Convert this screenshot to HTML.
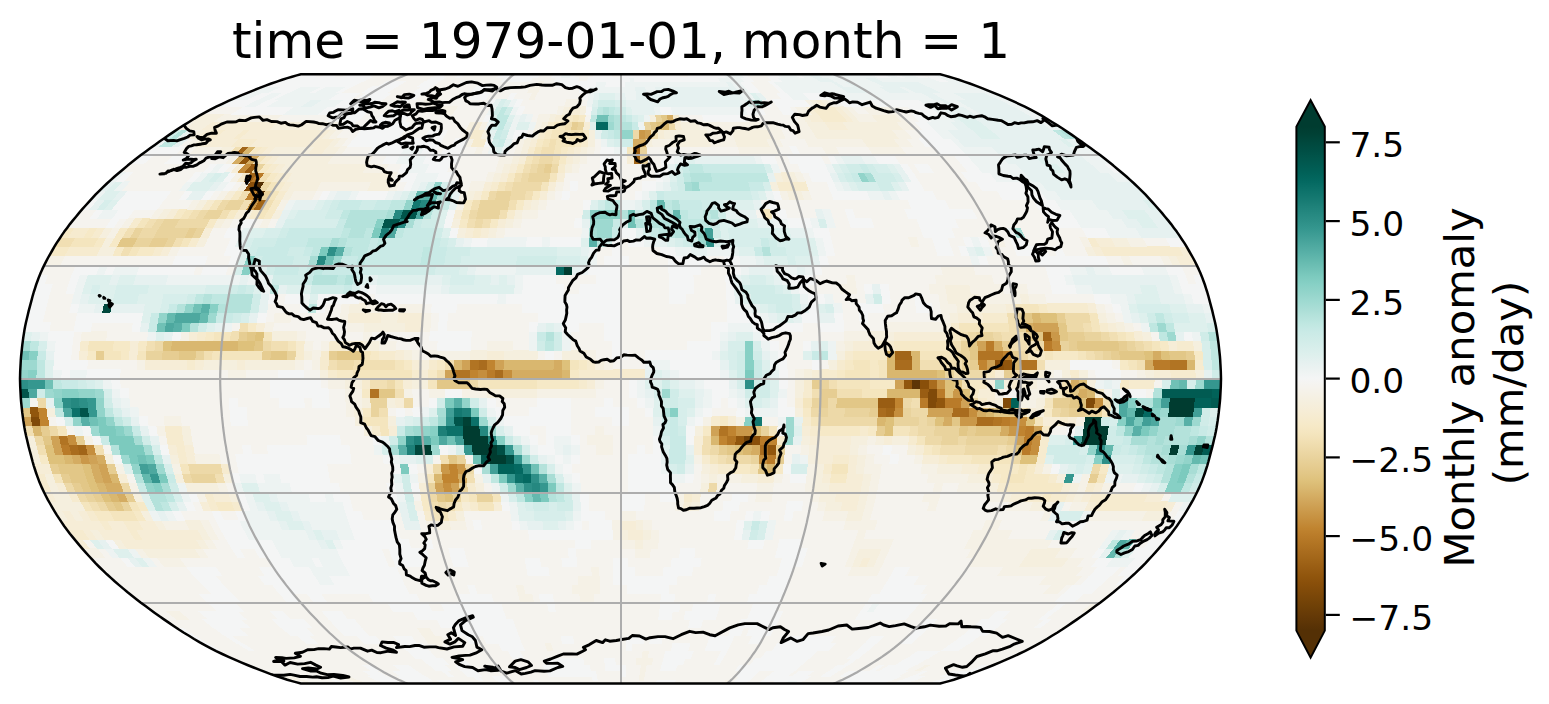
<!DOCTYPE html>
<html><head><meta charset="utf-8"><title>time = 1979-01-01, month = 1</title>
<style>
html,body{margin:0;padding:0;background:#fff;}
svg{display:block;font-family:"DejaVu Sans","Liberation Sans",sans-serif;}
</style></head><body>
<svg width="1549" height="704" viewBox="0 0 1549 704">
<rect width="1549" height="704" fill="#fff"/>
<defs>
<clipPath id="mapclip"><path d="M940.1 683.5 L944.3 682.4 L948.9 681.1 L953.7 679.7 L958.8 678.0 L964.1 676.2 L969.7 674.3 L975.4 672.2 L981.3 669.9 L987.4 667.5 L993.6 665.0 L999.9 662.4 L1006.2 659.7 L1012.5 656.9 L1018.7 654.0 L1024.8 651.1 L1030.6 648.1 L1036.2 645.1 L1041.6 642.1 L1046.9 639.0 L1052.0 635.8 L1057.1 632.7 L1062.1 629.5 L1067.0 626.2 L1071.9 622.9 L1076.7 619.6 L1081.5 616.3 L1086.2 612.9 L1090.9 609.5 L1095.5 606.1 L1100.1 602.7 L1104.6 599.2 L1109.0 595.7 L1113.4 592.2 L1117.7 588.6 L1121.9 585.1 L1126.1 581.5 L1130.1 577.9 L1134.1 574.3 L1137.9 570.7 L1141.7 567.0 L1145.3 563.4 L1148.7 559.7 L1152.1 556.0 L1155.4 552.3 L1158.7 548.6 L1161.9 544.9 L1165.0 541.1 L1168.1 537.4 L1171.1 533.7 L1173.9 529.9 L1176.7 526.2 L1179.3 522.4 L1181.8 518.6 L1184.3 514.9 L1186.6 511.1 L1188.8 507.3 L1191.0 503.5 L1193.1 499.8 L1195.1 496.0 L1197.0 492.2 L1198.8 488.4 L1200.4 484.7 L1202.0 480.9 L1203.4 477.1 L1204.8 473.3 L1206.0 469.5 L1207.2 465.8 L1208.3 462.0 L1209.3 458.2 L1210.3 454.4 L1211.3 450.7 L1212.3 446.9 L1213.2 443.1 L1214.1 439.3 L1215.0 435.6 L1215.8 431.8 L1216.5 428.0 L1217.1 424.2 L1217.7 420.4 L1218.2 416.7 L1218.7 412.9 L1219.1 409.1 L1219.5 405.3 L1219.9 401.6 L1220.2 397.8 L1220.4 394.0 L1220.6 390.2 L1220.8 386.5 L1220.9 382.7 L1221.0 378.9 L1220.9 375.1 L1220.8 371.3 L1220.6 367.6 L1220.4 363.8 L1220.2 360.0 L1219.9 356.2 L1219.5 352.5 L1219.1 348.7 L1218.7 344.9 L1218.2 341.1 L1217.7 337.4 L1217.1 333.6 L1216.5 329.8 L1215.8 326.0 L1215.0 322.2 L1214.1 318.5 L1213.2 314.7 L1212.3 310.9 L1211.3 307.1 L1210.3 303.4 L1209.3 299.6 L1208.3 295.8 L1207.2 292.0 L1206.0 288.3 L1204.8 284.5 L1203.4 280.7 L1202.0 276.9 L1200.4 273.1 L1198.8 269.4 L1197.0 265.6 L1195.1 261.8 L1193.1 258.0 L1191.0 254.3 L1188.8 250.5 L1186.6 246.7 L1184.3 242.9 L1181.8 239.2 L1179.3 235.4 L1176.7 231.6 L1173.9 227.9 L1171.1 224.1 L1168.1 220.4 L1165.0 216.7 L1161.9 212.9 L1158.7 209.2 L1155.4 205.5 L1152.1 201.8 L1148.7 198.1 L1145.3 194.4 L1141.7 190.8 L1137.9 187.1 L1134.1 183.5 L1130.1 179.9 L1126.1 176.3 L1121.9 172.7 L1117.7 169.2 L1113.4 165.6 L1109.0 162.1 L1104.6 158.6 L1100.1 155.1 L1095.5 151.7 L1090.9 148.3 L1086.2 144.9 L1081.5 141.5 L1076.7 138.2 L1071.9 134.9 L1067.0 131.6 L1062.1 128.3 L1057.1 125.1 L1052.0 122.0 L1046.9 118.8 L1041.6 115.7 L1036.2 112.7 L1030.6 109.7 L1024.8 106.7 L1018.7 103.8 L1012.5 100.9 L1006.2 98.1 L999.9 95.4 L993.6 92.8 L987.4 90.3 L981.3 87.9 L975.4 85.6 L969.7 83.5 L964.1 81.6 L958.8 79.8 L953.7 78.1 L948.9 76.7 L944.3 75.4 L940.1 74.3 L300.9 74.3 L296.7 75.4 L292.1 76.7 L287.3 78.1 L282.2 79.8 L276.9 81.6 L271.3 83.5 L265.6 85.6 L259.7 87.9 L253.6 90.3 L247.4 92.8 L241.1 95.4 L234.8 98.1 L228.5 100.9 L222.3 103.8 L216.2 106.7 L210.4 109.7 L204.8 112.7 L199.4 115.7 L194.1 118.8 L189.0 122.0 L183.9 125.1 L178.9 128.3 L174.0 131.6 L169.1 134.9 L164.3 138.2 L159.5 141.5 L154.8 144.9 L150.1 148.3 L145.5 151.7 L140.9 155.1 L136.4 158.6 L132.0 162.1 L127.6 165.6 L123.3 169.2 L119.1 172.7 L114.9 176.3 L110.9 179.9 L106.9 183.5 L103.1 187.1 L99.3 190.8 L95.7 194.4 L92.3 198.1 L88.9 201.8 L85.6 205.5 L82.3 209.2 L79.1 212.9 L76.0 216.7 L72.9 220.4 L69.9 224.1 L67.1 227.9 L64.3 231.6 L61.7 235.4 L59.2 239.2 L56.7 242.9 L54.4 246.7 L52.2 250.5 L50.0 254.3 L47.9 258.0 L45.9 261.8 L44.0 265.6 L42.2 269.4 L40.6 273.1 L39.0 276.9 L37.6 280.7 L36.2 284.5 L35.0 288.3 L33.8 292.0 L32.7 295.8 L31.7 299.6 L30.7 303.4 L29.7 307.1 L28.7 310.9 L27.8 314.7 L26.9 318.5 L26.0 322.2 L25.2 326.0 L24.5 329.8 L23.9 333.6 L23.3 337.4 L22.8 341.1 L22.3 344.9 L21.9 348.7 L21.5 352.5 L21.1 356.2 L20.8 360.0 L20.6 363.8 L20.4 367.6 L20.2 371.3 L20.1 375.1 L20.0 378.9 L20.1 382.7 L20.2 386.5 L20.4 390.2 L20.6 394.0 L20.8 397.8 L21.1 401.6 L21.5 405.3 L21.9 409.1 L22.3 412.9 L22.8 416.7 L23.3 420.4 L23.9 424.2 L24.5 428.0 L25.2 431.8 L26.0 435.6 L26.9 439.3 L27.8 443.1 L28.7 446.9 L29.7 450.7 L30.7 454.4 L31.7 458.2 L32.7 462.0 L33.8 465.8 L35.0 469.5 L36.2 473.3 L37.6 477.1 L39.0 480.9 L40.6 484.7 L42.2 488.4 L44.0 492.2 L45.9 496.0 L47.9 499.8 L50.0 503.5 L52.2 507.3 L54.4 511.1 L56.7 514.9 L59.2 518.6 L61.7 522.4 L64.3 526.2 L67.1 529.9 L69.9 533.7 L72.9 537.4 L76.0 541.1 L79.1 544.9 L82.3 548.6 L85.6 552.3 L88.9 556.0 L92.3 559.7 L95.7 563.4 L99.3 567.0 L103.1 570.7 L106.9 574.3 L110.9 577.9 L114.9 581.5 L119.1 585.1 L123.3 588.6 L127.6 592.2 L132.0 595.7 L136.4 599.2 L140.9 602.7 L145.5 606.1 L150.1 609.5 L154.8 612.9 L159.5 616.3 L164.3 619.6 L169.1 622.9 L174.0 626.2 L178.9 629.5 L183.9 632.7 L189.0 635.8 L194.1 639.0 L199.4 642.1 L204.8 645.1 L210.4 648.1 L216.2 651.1 L222.3 654.0 L228.5 656.9 L234.8 659.7 L241.1 662.4 L247.4 665.0 L253.6 667.5 L259.7 669.9 L265.6 672.2 L271.3 674.3 L276.9 676.2 L282.2 678.0 L287.3 679.7 L292.1 681.1 L296.7 682.4 L300.9 683.5Z"/></clipPath>
<linearGradient id="cb" x1="0" y1="0" x2="0" y2="1"><stop offset="0.0000" stop-color="#003c30"/><stop offset="0.0156" stop-color="#004135"/><stop offset="0.0312" stop-color="#00483d"/><stop offset="0.0469" stop-color="#004e44"/><stop offset="0.0625" stop-color="#01554b"/><stop offset="0.0781" stop-color="#015b52"/><stop offset="0.0938" stop-color="#016259"/><stop offset="0.1094" stop-color="#046961"/><stop offset="0.1250" stop-color="#0c7169"/><stop offset="0.1406" stop-color="#147870"/><stop offset="0.1562" stop-color="#1d8078"/><stop offset="0.1719" stop-color="#258880"/><stop offset="0.1875" stop-color="#2d8f87"/><stop offset="0.2031" stop-color="#35978f"/><stop offset="0.2188" stop-color="#419f97"/><stop offset="0.2344" stop-color="#4da89f"/><stop offset="0.2500" stop-color="#58b0a7"/><stop offset="0.2656" stop-color="#64b9ae"/><stop offset="0.2812" stop-color="#70c1b6"/><stop offset="0.2969" stop-color="#7ccabe"/><stop offset="0.3125" stop-color="#87d0c5"/><stop offset="0.3281" stop-color="#92d4ca"/><stop offset="0.3438" stop-color="#9dd9d0"/><stop offset="0.3594" stop-color="#a8ddd5"/><stop offset="0.3750" stop-color="#b4e2db"/><stop offset="0.3906" stop-color="#bfe7e1"/><stop offset="0.4062" stop-color="#c9eae6"/><stop offset="0.4219" stop-color="#d0ece8"/><stop offset="0.4375" stop-color="#d7eeeb"/><stop offset="0.4531" stop-color="#def0ed"/><stop offset="0.4688" stop-color="#e6f1f0"/><stop offset="0.4844" stop-color="#edf3f2"/><stop offset="0.5000" stop-color="#f4f5f5"/><stop offset="0.5156" stop-color="#f5f3ee"/><stop offset="0.5312" stop-color="#f5f1e6"/><stop offset="0.5469" stop-color="#f5efde"/><stop offset="0.5625" stop-color="#f6edd7"/><stop offset="0.5781" stop-color="#f6ebcf"/><stop offset="0.5938" stop-color="#f6e9c7"/><stop offset="0.6094" stop-color="#f4e5be"/><stop offset="0.6250" stop-color="#f1dfb3"/><stop offset="0.6406" stop-color="#edd9a8"/><stop offset="0.6562" stop-color="#e9d39d"/><stop offset="0.6719" stop-color="#e6cd92"/><stop offset="0.6875" stop-color="#e2c787"/><stop offset="0.7031" stop-color="#dec17b"/><stop offset="0.7188" stop-color="#d9b76f"/><stop offset="0.7344" stop-color="#d4ac62"/><stop offset="0.7500" stop-color="#cfa256"/><stop offset="0.7656" stop-color="#ca9849"/><stop offset="0.7812" stop-color="#c58e3d"/><stop offset="0.7969" stop-color="#c08430"/><stop offset="0.8125" stop-color="#b97b29"/><stop offset="0.8281" stop-color="#b17423"/><stop offset="0.8438" stop-color="#a96c1e"/><stop offset="0.8594" stop-color="#a16518"/><stop offset="0.8750" stop-color="#995d13"/><stop offset="0.8906" stop-color="#91560d"/><stop offset="0.9062" stop-color="#894f0a"/><stop offset="0.9219" stop-color="#804a09"/><stop offset="0.9375" stop-color="#774508"/><stop offset="0.9531" stop-color="#6e4007"/><stop offset="0.9688" stop-color="#663a07"/><stop offset="0.9844" stop-color="#5d3506"/><stop offset="1.0000" stop-color="#543005"/></linearGradient>
</defs>
<text x="621" y="57.7" font-size="50.1" text-anchor="middle" fill="#000">time = 1979-01-01, month = 1</text>
<g clip-path="url(#mapclip)">
<path d="M940.1 683.5 L944.3 682.4 L948.9 681.1 L953.7 679.7 L958.8 678.0 L964.1 676.2 L969.7 674.3 L975.4 672.2 L981.3 669.9 L987.4 667.5 L993.6 665.0 L999.9 662.4 L1006.2 659.7 L1012.5 656.9 L1018.7 654.0 L1024.8 651.1 L1030.6 648.1 L1036.2 645.1 L1041.6 642.1 L1046.9 639.0 L1052.0 635.8 L1057.1 632.7 L1062.1 629.5 L1067.0 626.2 L1071.9 622.9 L1076.7 619.6 L1081.5 616.3 L1086.2 612.9 L1090.9 609.5 L1095.5 606.1 L1100.1 602.7 L1104.6 599.2 L1109.0 595.7 L1113.4 592.2 L1117.7 588.6 L1121.9 585.1 L1126.1 581.5 L1130.1 577.9 L1134.1 574.3 L1137.9 570.7 L1141.7 567.0 L1145.3 563.4 L1148.7 559.7 L1152.1 556.0 L1155.4 552.3 L1158.7 548.6 L1161.9 544.9 L1165.0 541.1 L1168.1 537.4 L1171.1 533.7 L1173.9 529.9 L1176.7 526.2 L1179.3 522.4 L1181.8 518.6 L1184.3 514.9 L1186.6 511.1 L1188.8 507.3 L1191.0 503.5 L1193.1 499.8 L1195.1 496.0 L1197.0 492.2 L1198.8 488.4 L1200.4 484.7 L1202.0 480.9 L1203.4 477.1 L1204.8 473.3 L1206.0 469.5 L1207.2 465.8 L1208.3 462.0 L1209.3 458.2 L1210.3 454.4 L1211.3 450.7 L1212.3 446.9 L1213.2 443.1 L1214.1 439.3 L1215.0 435.6 L1215.8 431.8 L1216.5 428.0 L1217.1 424.2 L1217.7 420.4 L1218.2 416.7 L1218.7 412.9 L1219.1 409.1 L1219.5 405.3 L1219.9 401.6 L1220.2 397.8 L1220.4 394.0 L1220.6 390.2 L1220.8 386.5 L1220.9 382.7 L1221.0 378.9 L1220.9 375.1 L1220.8 371.3 L1220.6 367.6 L1220.4 363.8 L1220.2 360.0 L1219.9 356.2 L1219.5 352.5 L1219.1 348.7 L1218.7 344.9 L1218.2 341.1 L1217.7 337.4 L1217.1 333.6 L1216.5 329.8 L1215.8 326.0 L1215.0 322.2 L1214.1 318.5 L1213.2 314.7 L1212.3 310.9 L1211.3 307.1 L1210.3 303.4 L1209.3 299.6 L1208.3 295.8 L1207.2 292.0 L1206.0 288.3 L1204.8 284.5 L1203.4 280.7 L1202.0 276.9 L1200.4 273.1 L1198.8 269.4 L1197.0 265.6 L1195.1 261.8 L1193.1 258.0 L1191.0 254.3 L1188.8 250.5 L1186.6 246.7 L1184.3 242.9 L1181.8 239.2 L1179.3 235.4 L1176.7 231.6 L1173.9 227.9 L1171.1 224.1 L1168.1 220.4 L1165.0 216.7 L1161.9 212.9 L1158.7 209.2 L1155.4 205.5 L1152.1 201.8 L1148.7 198.1 L1145.3 194.4 L1141.7 190.8 L1137.9 187.1 L1134.1 183.5 L1130.1 179.9 L1126.1 176.3 L1121.9 172.7 L1117.7 169.2 L1113.4 165.6 L1109.0 162.1 L1104.6 158.6 L1100.1 155.1 L1095.5 151.7 L1090.9 148.3 L1086.2 144.9 L1081.5 141.5 L1076.7 138.2 L1071.9 134.9 L1067.0 131.6 L1062.1 128.3 L1057.1 125.1 L1052.0 122.0 L1046.9 118.8 L1041.6 115.7 L1036.2 112.7 L1030.6 109.7 L1024.8 106.7 L1018.7 103.8 L1012.5 100.9 L1006.2 98.1 L999.9 95.4 L993.6 92.8 L987.4 90.3 L981.3 87.9 L975.4 85.6 L969.7 83.5 L964.1 81.6 L958.8 79.8 L953.7 78.1 L948.9 76.7 L944.3 75.4 L940.1 74.3 L300.9 74.3 L296.7 75.4 L292.1 76.7 L287.3 78.1 L282.2 79.8 L276.9 81.6 L271.3 83.5 L265.6 85.6 L259.7 87.9 L253.6 90.3 L247.4 92.8 L241.1 95.4 L234.8 98.1 L228.5 100.9 L222.3 103.8 L216.2 106.7 L210.4 109.7 L204.8 112.7 L199.4 115.7 L194.1 118.8 L189.0 122.0 L183.9 125.1 L178.9 128.3 L174.0 131.6 L169.1 134.9 L164.3 138.2 L159.5 141.5 L154.8 144.9 L150.1 148.3 L145.5 151.7 L140.9 155.1 L136.4 158.6 L132.0 162.1 L127.6 165.6 L123.3 169.2 L119.1 172.7 L114.9 176.3 L110.9 179.9 L106.9 183.5 L103.1 187.1 L99.3 190.8 L95.7 194.4 L92.3 198.1 L88.9 201.8 L85.6 205.5 L82.3 209.2 L79.1 212.9 L76.0 216.7 L72.9 220.4 L69.9 224.1 L67.1 227.9 L64.3 231.6 L61.7 235.4 L59.2 239.2 L56.7 242.9 L54.4 246.7 L52.2 250.5 L50.0 254.3 L47.9 258.0 L45.9 261.8 L44.0 265.6 L42.2 269.4 L40.6 273.1 L39.0 276.9 L37.6 280.7 L36.2 284.5 L35.0 288.3 L33.8 292.0 L32.7 295.8 L31.7 299.6 L30.7 303.4 L29.7 307.1 L28.7 310.9 L27.8 314.7 L26.9 318.5 L26.0 322.2 L25.2 326.0 L24.5 329.8 L23.9 333.6 L23.3 337.4 L22.8 341.1 L22.3 344.9 L21.9 348.7 L21.5 352.5 L21.1 356.2 L20.8 360.0 L20.6 363.8 L20.4 367.6 L20.2 371.3 L20.1 375.1 L20.0 378.9 L20.1 382.7 L20.2 386.5 L20.4 390.2 L20.6 394.0 L20.8 397.8 L21.1 401.6 L21.5 405.3 L21.9 409.1 L22.3 412.9 L22.8 416.7 L23.3 420.4 L23.9 424.2 L24.5 428.0 L25.2 431.8 L26.0 435.6 L26.9 439.3 L27.8 443.1 L28.7 446.9 L29.7 450.7 L30.7 454.4 L31.7 458.2 L32.7 462.0 L33.8 465.8 L35.0 469.5 L36.2 473.3 L37.6 477.1 L39.0 480.9 L40.6 484.7 L42.2 488.4 L44.0 492.2 L45.9 496.0 L47.9 499.8 L50.0 503.5 L52.2 507.3 L54.4 511.1 L56.7 514.9 L59.2 518.6 L61.7 522.4 L64.3 526.2 L67.1 529.9 L69.9 533.7 L72.9 537.4 L76.0 541.1 L79.1 544.9 L82.3 548.6 L85.6 552.3 L88.9 556.0 L92.3 559.7 L95.7 563.4 L99.3 567.0 L103.1 570.7 L106.9 574.3 L110.9 577.9 L114.9 581.5 L119.1 585.1 L123.3 588.6 L127.6 592.2 L132.0 595.7 L136.4 599.2 L140.9 602.7 L145.5 606.1 L150.1 609.5 L154.8 612.9 L159.5 616.3 L164.3 619.6 L169.1 622.9 L174.0 626.2 L178.9 629.5 L183.9 632.7 L189.0 635.8 L194.1 639.0 L199.4 642.1 L204.8 645.1 L210.4 648.1 L216.2 651.1 L222.3 654.0 L228.5 656.9 L234.8 659.7 L241.1 662.4 L247.4 665.0 L253.6 667.5 L259.7 669.9 L265.6 672.2 L271.3 674.3 L276.9 676.2 L282.2 678.0 L287.3 679.7 L292.1 681.1 L296.7 682.4 L300.9 683.5Z" fill="#f5f3ee"/>
<g shape-rendering="crispEdges">
<path fill="#f5f1e6" d="M309.5 683.8H314.5L303.8 680.1H298.6Z"/>
<path fill="#f4f5f5" d="M340.6 683.8H345.6L336.0 680.1H330.8Z"/>
<path fill="#f5f1e6" d="M358.3 683.8H367.8L359.0 680.1H349.2Z"/>
<path fill="#f4f5f5" d="M384.9 683.8H403.3L395.7 680.1H376.7Z"/>
<path fill="#f4f5f5" d="M411.6 683.8H434.4L427.9 680.1H404.3Z"/>
<path fill="#f4f5f5" d="M442.7 683.8H456.6L450.8 680.1H436.5Z"/>
<path fill="#f4f5f5" d="M500.4 683.8H514.3L510.6 680.1H496.2Z"/>
<path fill="#f4f5f5" d="M535.9 683.8H540.9L538.1 680.1H532.9Z"/>
<path fill="#f4f5f5" d="M655.7 683.8H674.1L675.9 680.1H656.9Z"/>
<path fill="#f5f1e6" d="M722.3 683.8H727.3L731.0 680.1H725.9Z"/>
<path fill="#f4f5f5" d="M731.2 683.8H745.1L749.4 680.1H735.0Z"/>
<path fill="#f4f5f5" d="M757.8 683.8H767.3L772.4 680.1H762.6Z"/>
<path fill="#f4f5f5" d="M771.1 683.8H785.0L790.8 680.1H776.4Z"/>
<path fill="#edf3f2" d="M784.4 683.8H793.9L799.9 680.1H790.2Z"/>
<path fill="#f4f5f5" d="M793.3 683.8H798.3L804.5 680.1H799.3Z"/>
<path fill="#f4f5f5" d="M842.1 683.8H882.7L891.8 680.1H849.9Z"/>
<path fill="#f4f5f5" d="M891.0 683.8H904.9L914.8 680.1H900.4Z"/>
<path fill="#f4f5f5" d="M926.5 683.8H940.4L951.5 680.1H937.2Z"/>
<path fill="#f5f1e6" d="M294.1 680.7H303.8L291.5 675.9H281.4Z"/>
<path fill="#f5f1e6" d="M349.2 680.7H359.0L348.8 675.9H338.6Z"/>
<path fill="#f4f5f5" d="M376.7 680.7H395.7L387.0 675.9H367.3Z"/>
<path fill="#f4f5f5" d="M404.3 680.7H432.5L425.1 675.9H395.9Z"/>
<path fill="#f4f5f5" d="M477.8 680.7H483.0L477.6 675.9H472.3Z"/>
<path fill="#f4f5f5" d="M496.2 680.7H510.6L506.3 675.9H491.3Z"/>
<path fill="#f4f5f5" d="M592.6 680.7H597.8L596.9 675.9H591.6Z"/>
<path fill="#f5f1e6" d="M638.6 680.7H643.8L644.7 675.9H639.3Z"/>
<path fill="#f4f5f5" d="M735.0 680.7H749.4L754.4 675.9H739.5Z"/>
<path fill="#f4f5f5" d="M762.6 680.7H804.5L811.7 675.9H768.1Z"/>
<path fill="#f4f5f5" d="M840.7 680.7H891.8L902.4 675.9H849.3Z"/>
<path fill="#f4f5f5" d="M900.4 680.7H914.8L926.2 675.9H911.3Z"/>
<path fill="#f4f5f5" d="M937.2 680.7H951.5L964.4 675.9H949.5Z"/>
<path fill="#f5f1e6" d="M324.3 676.5H334.5L322.6 670.8H312.1Z"/>
<path fill="#f4f5f5" d="M372.0 676.5H387.0L377.3 670.8H361.8Z"/>
<path fill="#f4f5f5" d="M400.7 676.5H425.1L417.0 670.8H391.6Z"/>
<path fill="#f4f5f5" d="M448.4 676.5H453.8L446.8 670.8H441.3Z"/>
<path fill="#f4f5f5" d="M467.5 676.5H482.4L476.7 670.8H461.2Z"/>
<path fill="#f4f5f5" d="M548.6 676.5H596.9L595.9 670.8H545.6Z"/>
<path fill="#f4f5f5" d="M620.2 676.5H625.6L625.8 670.8H620.2Z"/>
<path fill="#f5f1e6" d="M639.3 676.5H644.7L645.7 670.8H640.1Z"/>
<path fill="#f4f5f5" d="M734.7 676.5H754.4L760.0 670.8H739.5Z"/>
<path fill="#f4f5f5" d="M768.1 676.5H787.8L794.8 670.8H774.3Z"/>
<path fill="#f4f5f5" d="M792.0 676.5H806.9L814.6 670.8H799.1Z"/>
<path fill="#f4f5f5" d="M820.6 676.5H830.8L839.5 670.8H828.9Z"/>
<path fill="#f4f5f5" d="M839.7 676.5H897.6L909.1 670.8H848.8Z"/>
<path fill="#f4f5f5" d="M911.3 676.5H916.7L928.9 670.8H923.4Z"/>
<path fill="#f4f5f5" d="M939.9 676.5H964.4L978.6 670.8H953.2Z"/>
<path fill="#f5f1e6" d="M312.1 671.4H317.6L304.7 664.7H298.9Z"/>
<path fill="#f4f5f5" d="M371.7 671.4H382.2L372.1 664.7H361.1Z"/>
<path fill="#f4f5f5" d="M401.5 671.4H417.0L408.3 664.7H392.2Z"/>
<path fill="#f4f5f5" d="M436.3 671.4H451.8L444.6 664.7H428.5Z"/>
<path fill="#f4f5f5" d="M461.2 671.4H476.7L470.5 664.7H454.4Z"/>
<path fill="#f4f5f5" d="M545.6 671.4H591.0L589.7 664.7H542.5Z"/>
<path fill="#f4f5f5" d="M605.3 671.4H625.8L626.0 664.7H604.7Z"/>
<path fill="#f5f1e6" d="M640.1 671.4H645.7L646.7 664.7H640.9Z"/>
<path fill="#f4f5f5" d="M660.0 671.4H675.5L677.8 664.7H661.7Z"/>
<path fill="#f4f5f5" d="M734.5 671.4H794.8L802.2 664.7H739.4Z"/>
<path fill="#f4f5f5" d="M828.9 671.4H839.5L848.8 664.7H837.8Z"/>
<path fill="#f4f5f5" d="M868.7 671.4H874.3L885.1 664.7H879.3Z"/>
<path fill="#f4f5f5" d="M878.6 671.4H904.1L916.2 664.7H889.7Z"/>
<path fill="#f5f1e6" d="M913.4 671.4H919.0L931.7 664.7H925.9Z"/>
<path fill="#f4f5f5" d="M968.1 671.4H973.7L988.7 664.7H982.9Z"/>
<path fill="#f4f5f5" d="M428.5 665.3H449.8L442.6 658.0H420.4Z"/>
<path fill="#f4f5f5" d="M459.6 665.3H470.5L464.2 658.0H452.8Z"/>
<path fill="#f4f5f5" d="M547.7 665.3H584.5L583.0 658.0H544.6Z"/>
<path fill="#f4f5f5" d="M604.7 665.3H615.6L615.4 658.0H604.0Z"/>
<path fill="#f5f1e6" d="M635.7 665.3H651.9L653.2 658.0H636.4Z"/>
<path fill="#f4f5f5" d="M661.7 665.3H683.0L685.6 658.0H663.4Z"/>
<path fill="#f4f5f5" d="M713.5 665.3H719.3L723.4 658.0H717.4Z"/>
<path fill="#f4f5f5" d="M749.7 665.3H802.2L809.8 658.0H755.2Z"/>
<path fill="#f4f5f5" d="M843.0 665.3H848.8L858.5 658.0H852.4Z"/>
<path fill="#f4f5f5" d="M894.8 665.3H916.2L928.7 658.0H906.5Z"/>
<path fill="#f4f5f5" d="M415.0 658.6H437.2L429.9 650.8H406.8Z"/>
<path fill="#f4f5f5" d="M512.2 658.6H523.6L519.7 650.8H507.9Z"/>
<path fill="#f5f1e6" d="M641.8 658.6H647.8L648.9 650.8H642.7Z"/>
<path fill="#f4f5f5" d="M663.4 658.6H691.0L693.8 650.8H665.1Z"/>
<path fill="#f4f5f5" d="M717.4 658.6H723.4L727.5 650.8H721.3Z"/>
<path fill="#f4f5f5" d="M760.6 658.6H809.8L817.3 650.8H766.2Z"/>
<path fill="#f4f5f5" d="M847.0 658.6H858.5L867.8 650.8H856.0Z"/>
<path fill="#f4f5f5" d="M906.5 658.6H928.7L940.8 650.8H917.8Z"/>
<path fill="#f4f5f5" d="M215.9 651.4H222.2L208.2 643.3H201.8Z"/>
<path fill="#f4f5f5" d="M249.6 651.4H255.8L243.1 643.3H236.7Z"/>
<path fill="#f4f5f5" d="M406.8 651.4H429.9L423.2 643.3H399.4Z"/>
<path fill="#f5f1e6" d="M440.5 651.4H446.7L440.7 643.3H434.2Z"/>
<path fill="#f4f5f5" d="M502.3 651.4H525.4L522.0 643.3H498.2Z"/>
<path fill="#f5f1e6" d="M547.2 651.4H553.4L551.1 643.3H544.7Z"/>
<path fill="#f4f5f5" d="M625.8 651.4H632.0L632.4 643.3H626.0Z"/>
<path fill="#f4f5f5" d="M670.7 651.4H688.2L690.5 643.3H672.5Z"/>
<path fill="#f4f5f5" d="M704.4 651.4H727.5L731.2 643.3H707.4Z"/>
<path fill="#f4f5f5" d="M771.8 651.4H828.5L835.8 643.3H777.1Z"/>
<path fill="#f4f5f5" d="M856.0 651.4H867.8L876.5 643.3H864.3Z"/>
<path fill="#f4f5f5" d="M940.2 651.4H957.7L969.5 643.3H951.4Z"/>
<path fill="#f4f5f5" d="M201.8 643.9H208.2L195.3 635.5H188.7Z"/>
<path fill="#f4f5f5" d="M236.7 643.9H243.1L231.2 635.5H224.6Z"/>
<path fill="#f4f5f5" d="M306.4 643.9H318.6L309.1 635.5H296.6Z"/>
<path fill="#f4f5f5" d="M364.5 643.9H382.5L375.1 635.5H356.5Z"/>
<path fill="#f4f5f5" d="M399.4 643.9H417.4L411.0 635.5H392.5Z"/>
<path fill="#f5f1e6" d="M428.4 643.9H446.5L441.0 635.5H422.4Z"/>
<path fill="#f4f5f5" d="M469.1 643.9H481.3L477.0 635.5H464.4Z"/>
<path fill="#f4f5f5" d="M486.5 643.9H522.0L518.9 635.5H482.4Z"/>
<path fill="#f4f5f5" d="M562.1 643.9H574.3L572.9 635.5H560.3Z"/>
<path fill="#f4f5f5" d="M626.0 643.9H644.0L644.8 635.5H626.2Z"/>
<path fill="#f4f5f5" d="M649.3 643.9H661.5L662.8 635.5H650.2Z"/>
<path fill="#f4f5f5" d="M707.4 643.9H731.2L734.7 635.5H710.1Z"/>
<path fill="#f4f5f5" d="M748.0 643.9H760.3L764.6 635.5H752.1Z"/>
<path fill="#f4f5f5" d="M782.9 643.9H830.0L836.6 635.5H788.0Z"/>
<path fill="#f4f5f5" d="M864.3 643.9H876.5L884.5 635.5H871.9Z"/>
<path fill="#f4f5f5" d="M899.1 643.9H911.4L920.5 635.5H907.9Z"/>
<path fill="#f4f5f5" d="M951.4 643.9H969.5L980.4 635.5H961.8Z"/>
<path fill="#f4f5f5" d="M188.7 636.1H195.3L182.9 627.5H176.1Z"/>
<path fill="#f4f5f5" d="M224.6 636.1H249.2L238.4 627.5H213.1Z"/>
<path fill="#f4f5f5" d="M290.6 636.1H315.1L306.3 627.5H281.0Z"/>
<path fill="#f4f5f5" d="M344.5 636.1H369.1L361.8 627.5H336.5Z"/>
<path fill="#f5f1e6" d="M422.4 636.1H435.0L429.6 627.5H416.7Z"/>
<path fill="#f4f5f5" d="M458.4 636.1H518.9L516.0 627.5H453.7Z"/>
<path fill="#f4f5f5" d="M728.1 636.1H740.7L744.1 627.5H731.2Z"/>
<path fill="#f4f5f5" d="M746.1 636.1H770.6L775.0 627.5H749.7Z"/>
<path fill="#f4f5f5" d="M907.9 636.1H920.5L929.2 627.5H916.2Z"/>
<path fill="#f4f5f5" d="M961.8 636.1H986.4L997.0 627.5H971.7Z"/>
<path fill="#f4f5f5" d="M213.1 628.1H250.8L240.6 619.3H202.0Z"/>
<path fill="#f4f5f5" d="M281.0 628.1H312.4L304.0 619.3H271.7Z"/>
<path fill="#f4f5f5" d="M336.5 628.1H361.8L354.7 619.3H328.7Z"/>
<path fill="#f4f5f5" d="M441.3 628.1H516.0L513.1 619.3H436.5Z"/>
<path fill="#f4f5f5" d="M688.0 628.1H701.0L703.2 619.3H689.9Z"/>
<path fill="#f4f5f5" d="M737.4 628.1H775.0L779.2 619.3H740.6Z"/>
<path fill="#f4f5f5" d="M916.2 628.1H929.2L937.6 619.3H924.3Z"/>
<path fill="#f4f5f5" d="M971.7 628.1H997.0L1007.3 619.3H981.4Z"/>
<path fill="#f4f5f5" d="M1033.4 628.1H1040.2L1051.7 619.3H1044.7Z"/>
<path fill="#f5f1e6" d="M176.7 619.9H189.9L178.8 610.9H165.2Z"/>
<path fill="#f4f5f5" d="M208.4 619.9H247.0L237.3 610.9H197.7Z"/>
<path fill="#f4f5f5" d="M278.1 619.9H291.3L282.8 610.9H269.2Z"/>
<path fill="#f4f5f5" d="M328.7 619.9H348.3L341.3 610.9H321.2Z"/>
<path fill="#f4f5f5" d="M417.4 619.9H506.8L503.8 610.9H412.2Z"/>
<path fill="#f4f5f5" d="M658.2 619.9H671.5L672.8 610.9H659.2Z"/>
<path fill="#f4f5f5" d="M683.6 619.9H715.8L718.3 610.9H685.2Z"/>
<path fill="#f4f5f5" d="M746.9 619.9H779.2L783.3 610.9H750.2Z"/>
<path fill="#f4f5f5" d="M854.6 619.9H905.9L913.3 610.9H860.7Z"/>
<path fill="#f4f5f5" d="M987.7 619.9H1001.0L1010.8 610.9H997.2Z"/>
<path fill="#f4f5f5" d="M1038.4 619.9H1045.3L1056.3 610.9H1049.2Z"/>
<path fill="#f4f5f5" d="M217.2 611.5H243.8L234.5 602.4H207.2Z"/>
<path fill="#f4f5f5" d="M392.7 611.5H432.3L427.6 602.4H387.1Z"/>
<path fill="#f4f5f5" d="M444.7 611.5H503.8L500.9 602.4H440.4Z"/>
<path fill="#f4f5f5" d="M548.7 611.5H555.8L554.2 602.4H546.9Z"/>
<path fill="#f4f5f5" d="M659.2 611.5H679.3L680.7 602.4H660.2Z"/>
<path fill="#f4f5f5" d="M691.7 611.5H718.3L720.7 602.4H693.5Z"/>
<path fill="#f4f5f5" d="M750.2 611.5H776.8L780.7 602.4H753.4Z"/>
<path fill="#f4f5f5" d="M860.7 611.5H867.8L873.9 602.4H866.6Z"/>
<path fill="#edf3f2" d="M867.2 611.5H874.3L880.6 602.4H873.3Z"/>
<path fill="#f4f5f5" d="M873.7 611.5H913.3L920.5 602.4H880.0Z"/>
<path fill="#f4f5f5" d="M1049.2 611.5H1056.3L1067.1 602.4H1059.8Z"/>
<path fill="#f5f1e6" d="M1081.7 611.5H1088.8L1100.4 602.4H1093.1Z"/>
<path fill="#f4f5f5" d="M207.2 603.0H241.1L232.3 593.6H197.7Z"/>
<path fill="#f4f5f5" d="M287.2 603.0H301.1L293.7 593.6H279.4Z"/>
<path fill="#f4f5f5" d="M313.8 603.0H327.7L320.9 593.6H306.7Z"/>
<path fill="#f4f5f5" d="M373.8 603.0H421.0L416.3 593.6H368.0Z"/>
<path fill="#f4f5f5" d="M460.3 603.0H494.2L491.3 593.6H456.6Z"/>
<path fill="#f5f1e6" d="M520.3 603.0H534.2L532.2 593.6H518.0Z"/>
<path fill="#f4f5f5" d="M540.3 603.0H554.2L552.6 593.6H538.4Z"/>
<path fill="#f5f1e6" d="M580.2 603.0H594.2L593.5 593.6H579.3Z"/>
<path fill="#f4f5f5" d="M660.2 603.0H674.1L675.3 593.6H661.1Z"/>
<path fill="#f4f5f5" d="M706.8 603.0H714.0L716.2 593.6H708.8Z"/>
<path fill="#f4f5f5" d="M746.8 603.0H780.7L784.4 593.6H749.7Z"/>
<path fill="#f4f5f5" d="M866.6 603.0H920.5L927.5 593.6H872.4Z"/>
<path fill="#f4f5f5" d="M1053.1 603.0H1073.7L1084.2 593.6H1063.2Z"/>
<path fill="#f4f5f5" d="M211.3 594.2H232.3L223.8 584.8H202.4Z"/>
<path fill="#f4f5f5" d="M279.4 594.2H409.5L404.9 584.8H272.0Z"/>
<path fill="#f4f5f5" d="M470.3 594.2H477.7L474.6 584.8H467.0Z"/>
<path fill="#f5f1e6" d="M518.0 594.2H525.4L523.3 584.8H515.7Z"/>
<path fill="#f5f1e6" d="M572.5 594.2H600.4L599.9 584.8H571.5Z"/>
<path fill="#f4f5f5" d="M627.0 594.2H668.5L669.5 584.8H627.2Z"/>
<path fill="#f4f5f5" d="M756.5 594.2H784.4L787.9 584.8H759.5Z"/>
<path fill="#f4f5f5" d="M879.2 594.2H920.7L927.2 584.8H884.8Z"/>
<path fill="#f5f1e6" d="M1042.7 594.2H1057.0L1066.5 584.8H1052.0Z"/>
<path fill="#f4f5f5" d="M1063.2 594.2H1091.1L1101.3 584.8H1072.9Z"/>
<path fill="#f4f5f5" d="M202.4 585.4H223.8L215.8 575.8H193.8Z"/>
<path fill="#f4f5f5" d="M265.0 585.4H321.3L315.2 575.8H257.8Z"/>
<path fill="#edf3f2" d="M320.7 585.4H335.3L329.5 575.8H314.6Z"/>
<path fill="#f4f5f5" d="M334.7 585.4H404.9L400.5 575.8H328.9Z"/>
<path fill="#f5f1e6" d="M578.4 585.4H599.9L599.5 575.8H577.6Z"/>
<path fill="#f4f5f5" d="M613.2 585.4H676.5L677.6 575.8H613.1Z"/>
<path fill="#f4f5f5" d="M766.4 585.4H787.9L791.3 575.8H769.4Z"/>
<path fill="#f4f5f5" d="M884.8 585.4H913.3L919.3 575.8H890.2Z"/>
<path fill="#f5f1e6" d="M1038.0 585.4H1073.5L1082.7 575.8H1046.6Z"/>
<path fill="#f4f5f5" d="M1079.8 585.4H1101.3L1111.1 575.8H1089.2Z"/>
<path fill="#f4f5f5" d="M1114.7 585.4H1122.2L1132.4 575.8H1124.7Z"/>
<path fill="#f4f5f5" d="M193.8 576.4H222.9L215.4 566.7H185.9Z"/>
<path fill="#f4f5f5" d="M264.9 576.4H315.2L309.5 566.7H258.3Z"/>
<path fill="#edf3f2" d="M314.6 576.4H350.8L345.7 566.7H308.9Z"/>
<path fill="#f4f5f5" d="M350.2 576.4H400.5L396.4 566.7H345.1Z"/>
<path fill="#f4f5f5" d="M527.8 576.4H549.7L548.4 566.7H526.1Z"/>
<path fill="#f5f1e6" d="M591.8 576.4H599.5L599.1 566.7H591.2Z"/>
<path fill="#f4f5f5" d="M613.1 576.4H635.0L635.3 566.7H613.0Z"/>
<path fill="#f4f5f5" d="M662.8 576.4H691.9L693.2 566.7H663.6Z"/>
<path fill="#f4f5f5" d="M776.5 576.4H791.3L794.5 566.7H779.4Z"/>
<path fill="#f5f1e6" d="M847.6 576.4H876.6L881.4 566.7H851.8Z"/>
<path fill="#f4f5f5" d="M890.2 576.4H905.0L910.3 566.7H895.3Z"/>
<path fill="#f5f1e6" d="M996.8 576.4H1075.6L1084.1 566.7H1003.8Z"/>
<path fill="#f4f5f5" d="M1089.2 576.4H1111.1L1120.3 566.7H1097.9Z"/>
<path fill="#f4f5f5" d="M1117.6 576.4H1132.4L1142.0 566.7H1126.9Z"/>
<path fill="#f4f5f5" d="M128.0 567.3H135.8L127.7 557.5H119.7Z"/>
<path fill="#e6f1f0" d="M135.2 567.3H143.1L135.0 557.5H127.1Z"/>
<path fill="#def0ed" d="M142.5 567.3H150.3L142.4 557.5H134.4Z"/>
<path fill="#edf3f2" d="M149.7 567.3H157.5L149.7 557.5H141.8Z"/>
<path fill="#f5f1e6" d="M164.2 567.3H186.5L179.2 557.5H156.5Z"/>
<path fill="#f4f5f5" d="M272.8 567.3H295.1L289.6 557.5H266.9Z"/>
<path fill="#edf3f2" d="M294.5 567.3H316.8L311.7 557.5H289.0Z"/>
<path fill="#f4f5f5" d="M316.2 567.3H324.0L319.0 557.5H311.1Z"/>
<path fill="#edf3f2" d="M323.4 567.3H345.7L341.1 557.5H318.4Z"/>
<path fill="#f4f5f5" d="M345.1 567.3H389.2L385.3 557.5H340.5Z"/>
<path fill="#f4f5f5" d="M395.8 567.3H425.4L422.1 557.5H392.0Z"/>
<path fill="#f4f5f5" d="M453.7 567.3H468.8L466.2 557.5H450.9Z"/>
<path fill="#f4f5f5" d="M526.1 567.3H541.2L539.8 557.5H524.5Z"/>
<path fill="#f4f5f5" d="M562.3 567.3H577.4L576.6 557.5H561.3Z"/>
<path fill="#f4f5f5" d="M613.0 567.3H628.0L628.2 557.5H612.8Z"/>
<path fill="#f4f5f5" d="M670.9 567.3H700.4L701.8 557.5H671.7Z"/>
<path fill="#f4f5f5" d="M779.4 567.3H801.8L804.8 557.5H782.1Z"/>
<path fill="#f5f1e6" d="M844.6 567.3H852.4L856.3 557.5H848.4Z"/>
<path fill="#f5efde" d="M851.8 567.3H859.7L863.7 557.5H855.7Z"/>
<path fill="#f6edd7" d="M859.1 567.3H866.9L871.1 557.5H863.1Z"/>
<path fill="#f5efde" d="M866.3 567.3H874.1L878.4 557.5H870.5Z"/>
<path fill="#f5f1e6" d="M873.5 567.3H881.4L885.8 557.5H877.8Z"/>
<path fill="#f5f1e6" d="M967.6 567.3H1018.9L1025.6 557.5H973.5Z"/>
<path fill="#f5efde" d="M1018.3 567.3H1062.4L1069.8 557.5H1025.0Z"/>
<path fill="#f5f1e6" d="M1061.8 567.3H1076.8L1084.5 557.5H1069.2Z"/>
<path fill="#f4f5f5" d="M1090.7 567.3H1105.8L1113.9 557.5H1098.6Z"/>
<path fill="#edf3f2" d="M1105.2 567.3H1127.5L1136.0 557.5H1113.3Z"/>
<path fill="#f4f5f5" d="M1126.9 567.3H1142.0L1150.7 557.5H1135.4Z"/>
<path fill="#f5f1e6" d="M90.3 558.1H105.6L97.6 548.3H82.0Z"/>
<path fill="#edf3f2" d="M112.3 558.1H120.3L112.5 548.3H104.5Z"/>
<path fill="#def0ed" d="M119.7 558.1H135.0L127.5 548.3H111.9Z"/>
<path fill="#edf3f2" d="M134.4 558.1H142.4L135.0 548.3H126.9Z"/>
<path fill="#f5f1e6" d="M141.8 558.1H149.7L142.4 548.3H134.4Z"/>
<path fill="#f5efde" d="M149.1 558.1H201.3L194.8 548.3H141.8Z"/>
<path fill="#f5f1e6" d="M200.7 558.1H208.6L202.2 548.3H194.2Z"/>
<path fill="#f4f5f5" d="M237.5 558.1H245.4L239.6 548.3H231.5Z"/>
<path fill="#f4f5f5" d="M259.5 558.1H282.2L277.0 548.3H253.9Z"/>
<path fill="#edf3f2" d="M281.6 558.1H341.1L336.8 548.3H276.4Z"/>
<path fill="#f4f5f5" d="M340.5 558.1H385.3L381.6 548.3H336.2Z"/>
<path fill="#f4f5f5" d="M392.0 558.1H429.4L426.5 548.3H388.5Z"/>
<path fill="#f4f5f5" d="M450.9 558.1H466.2L463.8 548.3H448.3Z"/>
<path fill="#f4f5f5" d="M568.7 558.1H576.6L576.0 548.3H567.9Z"/>
<path fill="#f5f1e6" d="M634.9 558.1H650.2L650.7 548.3H635.1Z"/>
<path fill="#f4f5f5" d="M679.1 558.1H694.4L695.5 548.3H680.0Z"/>
<path fill="#f4f5f5" d="M774.8 558.1H804.8L807.7 548.3H777.2Z"/>
<path fill="#f5f1e6" d="M848.4 558.1H856.3L860.0 548.3H851.9Z"/>
<path fill="#f5efde" d="M855.7 558.1H878.4L882.4 548.3H859.4Z"/>
<path fill="#f5f1e6" d="M877.8 558.1H885.8L889.9 548.3H881.8Z"/>
<path fill="#f5f1e6" d="M966.1 558.1H1025.6L1031.9 548.3H971.5Z"/>
<path fill="#f5efde" d="M1025.0 558.1H1055.1L1061.8 548.3H1031.3Z"/>
<path fill="#f5f1e6" d="M1054.5 558.1H1069.8L1076.7 548.3H1061.2Z"/>
<path fill="#f4f5f5" d="M1091.3 558.1H1099.2L1106.6 548.3H1098.6Z"/>
<path fill="#e6f1f0" d="M1098.6 558.1H1106.6L1114.1 548.3H1106.0Z"/>
<path fill="#64b9ae" d="M1106.0 558.1H1113.9L1121.6 548.3H1113.5Z"/>
<path fill="#b4e2db" d="M1113.3 558.1H1121.3L1129.1 548.3H1121.0Z"/>
<path fill="#def0ed" d="M1120.7 558.1H1128.7L1136.5 548.3H1128.5Z"/>
<path fill="#f4f5f5" d="M1128.1 558.1H1150.7L1159.0 548.3H1135.9Z"/>
<path fill="#f6edd7" d="M82.0 548.9H90.1L82.3 539.0H74.1Z"/>
<path fill="#def0ed" d="M97.0 548.9H105.1L97.5 539.0H89.3Z"/>
<path fill="#e6f1f0" d="M104.5 548.9H112.5L105.1 539.0H96.9Z"/>
<path fill="#f4f5f5" d="M111.9 548.9H120.0L112.7 539.0H104.5Z"/>
<path fill="#f5efde" d="M119.4 548.9H127.5L120.3 539.0H112.1Z"/>
<path fill="#f6edd7" d="M126.9 548.9H202.2L196.1 539.0H119.7Z"/>
<path fill="#f5efde" d="M201.6 548.9H209.7L203.7 539.0H195.5Z"/>
<path fill="#f5f1e6" d="M209.1 548.9H217.2L211.3 539.0H203.1Z"/>
<path fill="#f4f5f5" d="M231.5 548.9H277.0L271.9 539.0H225.8Z"/>
<path fill="#edf3f2" d="M276.4 548.9H321.8L317.4 539.0H271.3Z"/>
<path fill="#e6f1f0" d="M321.2 548.9H329.3L325.0 539.0H316.8Z"/>
<path fill="#def0ed" d="M328.7 548.9H336.8L332.6 539.0H324.4Z"/>
<path fill="#edf3f2" d="M336.2 548.9H344.2L340.2 539.0H332.0Z"/>
<path fill="#f4f5f5" d="M343.6 548.9H411.5L408.4 539.0H339.6Z"/>
<path fill="#f4f5f5" d="M425.9 548.9H433.9L431.2 539.0H423.0Z"/>
<path fill="#f4f5f5" d="M575.4 548.9H590.9L590.5 539.0H574.7Z"/>
<path fill="#f5f1e6" d="M620.2 548.9H635.7L636.0 539.0H620.2Z"/>
<path fill="#f5efde" d="M635.1 548.9H643.2L643.6 539.0H635.4Z"/>
<path fill="#f5f1e6" d="M642.6 548.9H658.2L658.7 539.0H643.0Z"/>
<path fill="#f4f5f5" d="M747.3 548.9H762.8L764.9 539.0H749.1Z"/>
<path fill="#f4f5f5" d="M777.2 548.9H800.2L802.8 539.0H779.5Z"/>
<path fill="#f5f1e6" d="M851.9 548.9H889.9L893.8 539.0H855.3Z"/>
<path fill="#f5f1e6" d="M964.0 548.9H1046.8L1053.1 539.0H969.1Z"/>
<path fill="#edf3f2" d="M1098.6 548.9H1106.6L1113.8 539.0H1105.6Z"/>
<path fill="#bfe7e1" d="M1106.0 548.9H1114.1L1121.3 539.0H1113.2Z"/>
<path fill="#4da89f" d="M1113.5 548.9H1121.6L1128.9 539.0H1120.7Z"/>
<path fill="#64b9ae" d="M1121.0 548.9H1129.1L1136.5 539.0H1128.3Z"/>
<path fill="#f4f5f5" d="M1128.5 548.9H1136.5L1144.1 539.0H1135.9Z"/>
<path fill="#f4f5f5" d="M1143.4 548.9H1159.0L1166.9 539.0H1151.1Z"/>
<path fill="#f6ebcf" d="M74.1 539.6H89.9L82.8 529.6H66.8Z"/>
<path fill="#f6edd7" d="M89.3 539.6H97.5L90.4 529.6H82.2Z"/>
<path fill="#f5efde" d="M96.9 539.6H105.1L98.1 529.6H89.8Z"/>
<path fill="#f6edd7" d="M104.5 539.6H135.4L128.9 529.6H97.5Z"/>
<path fill="#f6ebcf" d="M134.8 539.6H143.0L136.6 529.6H128.3Z"/>
<path fill="#f6edd7" d="M142.4 539.6H203.7L198.0 529.6H136.0Z"/>
<path fill="#f5efde" d="M203.1 539.6H211.3L205.7 529.6H197.4Z"/>
<path fill="#f5f1e6" d="M210.7 539.6H218.8L213.4 529.6H205.1Z"/>
<path fill="#f4f5f5" d="M225.8 539.6H249.2L244.2 529.6H220.5Z"/>
<path fill="#edf3f2" d="M248.6 539.6H309.9L305.7 529.6H243.6Z"/>
<path fill="#e6f1f0" d="M309.3 539.6H317.4L313.3 529.6H305.1Z"/>
<path fill="#def0ed" d="M316.8 539.6H325.0L321.0 529.6H312.7Z"/>
<path fill="#e6f1f0" d="M324.4 539.6H340.2L336.4 529.6H320.4Z"/>
<path fill="#edf3f2" d="M339.6 539.6H355.4L351.8 529.6H335.8Z"/>
<path fill="#f4f5f5" d="M354.8 539.6H400.9L397.9 529.6H351.2Z"/>
<path fill="#f4f5f5" d="M529.2 539.6H613.2L613.1 529.6H528.0Z"/>
<path fill="#f5f1e6" d="M612.6 539.6H620.8L620.8 529.6H612.5Z"/>
<path fill="#f5efde" d="M620.2 539.6H628.4L628.5 529.6H620.2Z"/>
<path fill="#f6edd7" d="M627.8 539.6H643.6L643.9 529.6H627.9Z"/>
<path fill="#f5efde" d="M643.0 539.6H651.1L651.5 529.6H643.3Z"/>
<path fill="#f5f1e6" d="M650.5 539.6H658.7L659.2 529.6H650.9Z"/>
<path fill="#f4f5f5" d="M734.0 539.6H742.1L743.8 529.6H735.5Z"/>
<path fill="#e6f1f0" d="M741.5 539.6H749.7L751.5 529.6H743.2Z"/>
<path fill="#d0ece8" d="M749.1 539.6H757.3L759.2 529.6H750.9Z"/>
<path fill="#d7eeeb" d="M756.7 539.6H764.9L766.8 529.6H758.6Z"/>
<path fill="#edf3f2" d="M764.3 539.6H772.5L774.5 529.6H766.2Z"/>
<path fill="#f5f1e6" d="M855.3 539.6H863.5L866.8 529.6H858.5Z"/>
<path fill="#f5f1e6" d="M969.1 539.6H1007.6L1012.8 529.6H973.8Z"/>
<path fill="#e6f1f0" d="M1044.9 539.6H1053.1L1058.9 529.6H1050.6Z"/>
<path fill="#d7eeeb" d="M1052.5 539.6H1060.7L1066.6 529.6H1058.3Z"/>
<path fill="#edf3f2" d="M1105.6 539.6H1113.8L1120.4 529.6H1112.1Z"/>
<path fill="#e6f1f0" d="M1113.2 539.6H1121.3L1128.1 529.6H1119.8Z"/>
<path fill="#edf3f2" d="M1120.7 539.6H1128.9L1135.8 529.6H1127.5Z"/>
<path fill="#f4f5f5" d="M1158.7 539.6H1166.9L1174.2 529.6H1165.9Z"/>
<path fill="#f6edd7" d="M66.8 530.2H105.8L99.6 520.2H60.1Z"/>
<path fill="#f6ebcf" d="M105.2 530.2H113.5L107.4 520.2H99.0Z"/>
<path fill="#f6edd7" d="M112.9 530.2H128.9L123.0 520.2H106.8Z"/>
<path fill="#f6ebcf" d="M128.3 530.2H144.2L138.5 520.2H122.4Z"/>
<path fill="#f6edd7" d="M143.6 530.2H159.6L154.1 520.2H137.9Z"/>
<path fill="#f5efde" d="M159.0 530.2H167.3L161.8 520.2H153.5Z"/>
<path fill="#f5f1e6" d="M166.7 530.2H190.4L185.2 520.2H161.2Z"/>
<path fill="#f5efde" d="M189.8 530.2H205.7L200.7 520.2H184.6Z"/>
<path fill="#f5f1e6" d="M205.1 530.2H213.4L208.5 520.2H200.1Z"/>
<path fill="#f4f5f5" d="M220.5 530.2H244.2L239.6 520.2H215.7Z"/>
<path fill="#edf3f2" d="M243.6 530.2H282.6L278.5 520.2H239.0Z"/>
<path fill="#e6f1f0" d="M282.0 530.2H290.3L286.3 520.2H277.9Z"/>
<path fill="#def0ed" d="M289.7 530.2H305.7L301.9 520.2H285.7Z"/>
<path fill="#e6f1f0" d="M305.1 530.2H313.3L309.6 520.2H301.3Z"/>
<path fill="#edf3f2" d="M312.7 530.2H351.8L348.5 520.2H309.0Z"/>
<path fill="#f4f5f5" d="M351.2 530.2H397.9L395.2 520.2H347.9Z"/>
<path fill="#e6f1f0" d="M405.0 530.2H421.0L418.6 520.2H402.4Z"/>
<path fill="#f5f1e6" d="M428.0 530.2H436.3L434.1 520.2H425.7Z"/>
<path fill="#f5efde" d="M435.7 530.2H451.7L449.7 520.2H433.5Z"/>
<path fill="#f5f1e6" d="M451.1 530.2H467.1L465.2 520.2H449.1Z"/>
<path fill="#f4f5f5" d="M474.2 530.2H482.4L480.8 520.2H472.4Z"/>
<path fill="#f4f5f5" d="M512.6 530.2H520.9L519.7 520.2H511.3Z"/>
<path fill="#edf3f2" d="M520.3 530.2H528.6L527.5 520.2H519.1Z"/>
<path fill="#e6f1f0" d="M528.0 530.2H543.9L543.0 520.2H526.9Z"/>
<path fill="#def0ed" d="M543.3 530.2H559.3L558.6 520.2H542.4Z"/>
<path fill="#e6f1f0" d="M558.7 530.2H567.0L566.3 520.2H558.0Z"/>
<path fill="#edf3f2" d="M566.4 530.2H574.7L574.1 520.2H565.7Z"/>
<path fill="#f4f5f5" d="M574.1 530.2H582.4L581.9 520.2H573.5Z"/>
<path fill="#f4f5f5" d="M589.5 530.2H613.1L613.0 520.2H589.1Z"/>
<path fill="#f5f1e6" d="M612.5 530.2H620.8L620.8 520.2H612.4Z"/>
<path fill="#f6edd7" d="M620.2 530.2H636.2L636.4 520.2H620.2Z"/>
<path fill="#f5efde" d="M635.6 530.2H643.9L644.1 520.2H635.8Z"/>
<path fill="#f5f1e6" d="M643.3 530.2H651.5L651.9 520.2H643.5Z"/>
<path fill="#f4f5f5" d="M735.5 530.2H743.8L745.3 520.2H736.9Z"/>
<path fill="#def0ed" d="M743.2 530.2H751.5L753.0 520.2H744.7Z"/>
<path fill="#c9eae6" d="M750.9 530.2H759.2L760.8 520.2H752.4Z"/>
<path fill="#d7eeeb" d="M758.6 530.2H766.8L768.6 520.2H760.2Z"/>
<path fill="#edf3f2" d="M766.2 530.2H774.5L776.4 520.2H768.0Z"/>
<path fill="#f5f1e6" d="M843.1 530.2H874.5L877.5 520.2H845.8Z"/>
<path fill="#f5f1e6" d="M981.5 530.2H997.4L1002.0 520.2H985.8Z"/>
<path fill="#f4f5f5" d="M1066.0 530.2H1082.0L1087.5 520.2H1071.4Z"/>
<path fill="#f4f5f5" d="M1165.9 530.2H1174.2L1180.9 520.2H1172.5Z"/>
<path fill="#f5efde" d="M60.1 520.8H68.5L62.6 510.8H54.1Z"/>
<path fill="#f6edd7" d="M67.9 520.8H76.3L70.4 510.8H62.0Z"/>
<path fill="#f5efde" d="M75.7 520.8H84.1L78.3 510.8H69.8Z"/>
<path fill="#f6edd7" d="M83.5 520.8H91.8L86.2 510.8H77.7Z"/>
<path fill="#f6ebcf" d="M91.2 520.8H99.6L94.0 510.8H85.6Z"/>
<path fill="#f6e9c7" d="M99.0 520.8H115.2L109.7 510.8H93.4Z"/>
<path fill="#f4e5be" d="M114.6 520.8H138.5L133.3 510.8H109.1Z"/>
<path fill="#f6e9c7" d="M137.9 520.8H146.3L141.2 510.8H132.7Z"/>
<path fill="#f5efde" d="M145.7 520.8H154.1L149.1 510.8H140.6Z"/>
<path fill="#edf3f2" d="M153.5 520.8H161.8L156.9 510.8H148.5Z"/>
<path fill="#e6f1f0" d="M161.2 520.8H169.6L164.8 510.8H156.3Z"/>
<path fill="#edf3f2" d="M169.0 520.8H177.4L172.6 510.8H164.2Z"/>
<path fill="#f4f5f5" d="M176.8 520.8H185.2L180.5 510.8H172.0Z"/>
<path fill="#f4f5f5" d="M215.7 520.8H224.1L219.8 510.8H211.4Z"/>
<path fill="#f4f5f5" d="M239.0 520.8H247.4L243.4 510.8H234.9Z"/>
<path fill="#edf3f2" d="M246.8 520.8H270.8L267.0 510.8H242.8Z"/>
<path fill="#e6f1f0" d="M270.2 520.8H278.5L274.9 510.8H266.4Z"/>
<path fill="#def0ed" d="M277.9 520.8H294.1L290.6 510.8H274.3Z"/>
<path fill="#e6f1f0" d="M293.5 520.8H301.9L298.4 510.8H290.0Z"/>
<path fill="#edf3f2" d="M301.3 520.8H348.5L345.6 510.8H297.8Z"/>
<path fill="#f4f5f5" d="M347.9 520.8H364.1L361.3 510.8H345.0Z"/>
<path fill="#e6f1f0" d="M402.4 520.8H410.8L408.5 510.8H400.1Z"/>
<path fill="#d7eeeb" d="M410.2 520.8H418.6L416.4 510.8H407.9Z"/>
<path fill="#f6ebcf" d="M425.7 520.8H434.1L432.1 510.8H423.6Z"/>
<path fill="#f4e5be" d="M433.5 520.8H449.7L447.8 510.8H431.5Z"/>
<path fill="#f6ebcf" d="M449.1 520.8H457.4L455.7 510.8H447.2Z"/>
<path fill="#f5efde" d="M456.8 520.8H465.2L463.6 510.8H455.1Z"/>
<path fill="#edf3f2" d="M511.3 520.8H519.7L518.6 510.8H510.1Z"/>
<path fill="#def0ed" d="M519.1 520.8H535.2L534.3 510.8H518.0Z"/>
<path fill="#d7eeeb" d="M534.6 520.8H566.3L565.8 510.8H533.7Z"/>
<path fill="#def0ed" d="M565.7 520.8H574.1L573.6 510.8H565.2Z"/>
<path fill="#edf3f2" d="M573.5 520.8H581.9L581.5 510.8H573.0Z"/>
<path fill="#f4f5f5" d="M581.3 520.8H605.2L605.1 510.8H580.9Z"/>
<path fill="#f5f1e6" d="M620.2 520.8H636.4L636.5 510.8H620.2Z"/>
<path fill="#f4f5f5" d="M713.5 520.8H729.7L730.9 510.8H714.5Z"/>
<path fill="#f4f5f5" d="M744.7 520.8H753.0L754.5 510.8H746.0Z"/>
<path fill="#edf3f2" d="M752.4 520.8H760.8L762.3 510.8H753.9Z"/>
<path fill="#f4f5f5" d="M760.2 520.8H768.6L770.2 510.8H761.7Z"/>
<path fill="#f4f5f5" d="M783.6 520.8H791.9L793.8 510.8H785.3Z"/>
<path fill="#f5f1e6" d="M822.4 520.8H846.4L848.8 510.8H824.6Z"/>
<path fill="#f5efde" d="M845.8 520.8H861.9L864.5 510.8H848.2Z"/>
<path fill="#f5f1e6" d="M861.3 520.8H869.7L872.4 510.8H863.9Z"/>
<path fill="#f5f1e6" d="M1040.3 520.8H1048.6L1053.2 510.8H1044.8Z"/>
<path fill="#e6f1f0" d="M1048.0 520.8H1056.4L1061.1 510.8H1052.6Z"/>
<path fill="#d7eeeb" d="M1055.8 520.8H1079.8L1084.7 510.8H1060.5Z"/>
<path fill="#edf3f2" d="M1079.2 520.8H1087.5L1092.5 510.8H1084.1Z"/>
<path fill="#f5f1e6" d="M1086.9 520.8H1142.0L1147.6 510.8H1091.9Z"/>
<path fill="#f5efde" d="M1141.4 520.8H1165.3L1171.2 510.8H1147.0Z"/>
<path fill="#f4f5f5" d="M1172.5 520.8H1180.9L1186.9 510.8H1178.4Z"/>
<path fill="#f5efde" d="M54.1 511.4H86.2L81.0 501.4H48.6Z"/>
<path fill="#f4e5be" d="M85.6 511.4H94.0L88.9 501.4H80.4Z"/>
<path fill="#f1dfb3" d="M93.4 511.4H101.9L96.9 501.4H88.3Z"/>
<path fill="#edd9a8" d="M101.3 511.4H109.7L104.8 501.4H96.3Z"/>
<path fill="#e6cd92" d="M109.1 511.4H117.6L112.7 501.4H104.2Z"/>
<path fill="#e2c787" d="M117.0 511.4H125.5L120.7 501.4H112.1Z"/>
<path fill="#e9d39d" d="M124.9 511.4H133.3L128.6 501.4H120.1Z"/>
<path fill="#f4e5be" d="M132.7 511.4H141.2L136.5 501.4H128.0Z"/>
<path fill="#f6e9c7" d="M140.6 511.4H149.1L144.5 501.4H135.9Z"/>
<path fill="#def0ed" d="M148.5 511.4H156.9L152.4 501.4H143.9Z"/>
<path fill="#b4e2db" d="M156.3 511.4H164.8L160.4 501.4H151.8Z"/>
<path fill="#bfe7e1" d="M164.2 511.4H172.6L168.3 501.4H159.8Z"/>
<path fill="#d7eeeb" d="M172.0 511.4H180.5L176.2 501.4H167.7Z"/>
<path fill="#e6f1f0" d="M179.9 511.4H188.4L184.2 501.4H175.6Z"/>
<path fill="#f4f5f5" d="M187.8 511.4H196.2L192.1 501.4H183.6Z"/>
<path fill="#f6edd7" d="M203.5 511.4H212.0L208.0 501.4H199.5Z"/>
<path fill="#f6ebcf" d="M211.4 511.4H219.8L215.9 501.4H207.4Z"/>
<path fill="#f6e9c7" d="M219.2 511.4H235.5L231.8 501.4H215.3Z"/>
<path fill="#f6ebcf" d="M234.9 511.4H243.4L239.7 501.4H231.2Z"/>
<path fill="#f4f5f5" d="M242.8 511.4H251.3L247.7 501.4H239.1Z"/>
<path fill="#edf3f2" d="M250.7 511.4H259.1L255.6 501.4H247.1Z"/>
<path fill="#e6f1f0" d="M258.5 511.4H267.0L263.6 501.4H255.0Z"/>
<path fill="#def0ed" d="M266.4 511.4H282.7L279.4 501.4H263.0Z"/>
<path fill="#e6f1f0" d="M282.1 511.4H290.6L287.4 501.4H278.8Z"/>
<path fill="#edf3f2" d="M290.0 511.4H345.6L342.9 501.4H286.8Z"/>
<path fill="#f4f5f5" d="M345.0 511.4H353.5L350.9 501.4H342.3Z"/>
<path fill="#e6f1f0" d="M400.1 511.4H408.5L406.5 501.4H397.9Z"/>
<path fill="#d7eeeb" d="M407.9 511.4H416.4L414.4 501.4H405.9Z"/>
<path fill="#f5f1e6" d="M415.8 511.4H424.2L422.3 501.4H413.8Z"/>
<path fill="#f6e9c7" d="M423.6 511.4H432.1L430.3 501.4H421.7Z"/>
<path fill="#f1dfb3" d="M431.5 511.4H440.0L438.2 501.4H429.7Z"/>
<path fill="#edd9a8" d="M439.4 511.4H447.8L446.2 501.4H437.6Z"/>
<path fill="#f1dfb3" d="M447.2 511.4H455.7L454.1 501.4H445.6Z"/>
<path fill="#f6e9c7" d="M455.1 511.4H463.6L462.0 501.4H453.5Z"/>
<path fill="#f6edd7" d="M463.0 511.4H471.4L470.0 501.4H461.4Z"/>
<path fill="#f6ebcf" d="M470.8 511.4H479.3L477.9 501.4H469.4Z"/>
<path fill="#f4e5be" d="M478.7 511.4H495.0L493.8 501.4H477.3Z"/>
<path fill="#f6edd7" d="M494.4 511.4H502.9L501.7 501.4H493.2Z"/>
<path fill="#f4f5f5" d="M502.3 511.4H510.7L509.7 501.4H501.1Z"/>
<path fill="#edf3f2" d="M510.1 511.4H518.6L517.6 501.4H509.1Z"/>
<path fill="#def0ed" d="M518.0 511.4H526.5L525.5 501.4H517.0Z"/>
<path fill="#d7eeeb" d="M525.9 511.4H534.3L533.5 501.4H524.9Z"/>
<path fill="#d0ece8" d="M533.7 511.4H550.0L549.4 501.4H532.9Z"/>
<path fill="#d7eeeb" d="M549.4 511.4H557.9L557.3 501.4H548.8Z"/>
<path fill="#d0ece8" d="M557.3 511.4H573.6L573.2 501.4H556.7Z"/>
<path fill="#e6f1f0" d="M573.0 511.4H581.5L581.1 501.4H572.6Z"/>
<path fill="#f4f5f5" d="M580.9 511.4H589.4L589.0 501.4H580.5Z"/>
<path fill="#f4f5f5" d="M620.2 511.4H644.4L644.6 501.4H620.2Z"/>
<path fill="#f5f1e6" d="M675.2 511.4H683.7L684.3 501.4H675.8Z"/>
<path fill="#f6edd7" d="M683.1 511.4H691.6L692.2 501.4H683.7Z"/>
<path fill="#f5efde" d="M691.0 511.4H699.4L700.2 501.4H691.6Z"/>
<path fill="#f4f5f5" d="M722.4 511.4H738.7L739.9 501.4H723.4Z"/>
<path fill="#f4f5f5" d="M785.3 511.4H801.6L803.4 501.4H786.9Z"/>
<path fill="#f5f1e6" d="M816.8 511.4H825.2L827.2 501.4H818.7Z"/>
<path fill="#f5efde" d="M824.6 511.4H840.9L843.1 501.4H826.6Z"/>
<path fill="#f6edd7" d="M840.3 511.4H856.7L859.0 501.4H842.5Z"/>
<path fill="#f5efde" d="M856.1 511.4H864.5L866.9 501.4H858.4Z"/>
<path fill="#f5f1e6" d="M863.9 511.4H872.4L874.8 501.4H866.3Z"/>
<path fill="#f5f1e6" d="M926.8 511.4H935.3L938.3 501.4H929.8Z"/>
<path fill="#f5f1e6" d="M1005.5 511.4H1029.6L1033.6 501.4H1009.2Z"/>
<path fill="#f5efde" d="M1029.0 511.4H1053.2L1057.4 501.4H1033.0Z"/>
<path fill="#e6f1f0" d="M1052.6 511.4H1061.1L1065.4 501.4H1056.8Z"/>
<path fill="#f5f1e6" d="M1068.4 511.4H1084.7L1089.2 501.4H1072.7Z"/>
<path fill="#f6edd7" d="M1084.1 511.4H1092.5L1097.1 501.4H1088.6Z"/>
<path fill="#f6ebcf" d="M1091.9 511.4H1163.3L1168.6 501.4H1096.5Z"/>
<path fill="#f6edd7" d="M1162.7 511.4H1171.2L1176.5 501.4H1168.0Z"/>
<path fill="#edf3f2" d="M1178.4 511.4H1186.9L1192.4 501.4H1183.8Z"/>
<path fill="#f6edd7" d="M48.6 502.0H57.2L52.3 491.9H43.7Z"/>
<path fill="#f5efde" d="M56.6 502.0H73.0L68.3 491.9H51.7Z"/>
<path fill="#f6ebcf" d="M72.4 502.0H81.0L76.3 491.9H67.7Z"/>
<path fill="#edd9a8" d="M80.4 502.0H88.9L84.4 491.9H75.7Z"/>
<path fill="#e9d39d" d="M88.3 502.0H96.9L92.4 491.9H83.8Z"/>
<path fill="#e6cd92" d="M96.3 502.0H104.8L100.4 491.9H91.8Z"/>
<path fill="#dec17b" d="M104.2 502.0H112.7L108.4 491.9H99.8Z"/>
<path fill="#d9b76f" d="M112.1 502.0H120.7L116.4 491.9H107.8Z"/>
<path fill="#d4ac62" d="M120.1 502.0H128.6L124.4 491.9H115.8Z"/>
<path fill="#e6cd92" d="M128.0 502.0H136.5L132.4 491.9H123.8Z"/>
<path fill="#f5efde" d="M135.9 502.0H144.5L140.4 491.9H131.8Z"/>
<path fill="#def0ed" d="M143.9 502.0H152.4L148.4 491.9H139.8Z"/>
<path fill="#b4e2db" d="M151.8 502.0H168.3L164.4 491.9H147.8Z"/>
<path fill="#bfe7e1" d="M167.7 502.0H176.2L172.4 491.9H163.8Z"/>
<path fill="#d7eeeb" d="M175.6 502.0H184.2L180.4 491.9H171.8Z"/>
<path fill="#edf3f2" d="M183.6 502.0H192.1L188.4 491.9H179.8Z"/>
<path fill="#f4f5f5" d="M191.5 502.0H200.1L196.4 491.9H187.8Z"/>
<path fill="#f5f1e6" d="M199.5 502.0H208.0L204.5 491.9H195.8Z"/>
<path fill="#f6ebcf" d="M207.4 502.0H215.9L212.5 491.9H203.9Z"/>
<path fill="#f6edd7" d="M215.3 502.0H231.8L228.5 491.9H211.9Z"/>
<path fill="#f5efde" d="M231.2 502.0H239.7L236.5 491.9H227.9Z"/>
<path fill="#f4f5f5" d="M239.1 502.0H247.7L244.5 491.9H235.9Z"/>
<path fill="#edf3f2" d="M247.1 502.0H255.6L252.5 491.9H243.9Z"/>
<path fill="#def0ed" d="M255.0 502.0H271.5L268.5 491.9H251.9Z"/>
<path fill="#e6f1f0" d="M270.9 502.0H279.4L276.5 491.9H267.9Z"/>
<path fill="#edf3f2" d="M278.8 502.0H311.2L308.5 491.9H275.9Z"/>
<path fill="#f4f5f5" d="M310.6 502.0H327.1L324.6 491.9H307.9Z"/>
<path fill="#edf3f2" d="M326.5 502.0H335.0L332.6 491.9H324.0Z"/>
<path fill="#f4f5f5" d="M334.4 502.0H350.9L348.6 491.9H332.0Z"/>
<path fill="#f4f5f5" d="M390.0 502.0H398.5L396.6 491.9H388.0Z"/>
<path fill="#edf3f2" d="M397.9 502.0H406.5L404.6 491.9H396.0Z"/>
<path fill="#d0ece8" d="M405.9 502.0H414.4L412.6 491.9H404.0Z"/>
<path fill="#f6e9c7" d="M421.7 502.0H430.3L428.6 491.9H420.0Z"/>
<path fill="#edd9a8" d="M429.7 502.0H438.2L436.6 491.9H428.0Z"/>
<path fill="#e2c787" d="M437.6 502.0H446.2L444.7 491.9H436.0Z"/>
<path fill="#dec17b" d="M445.6 502.0H454.1L452.7 491.9H444.1Z"/>
<path fill="#e9d39d" d="M453.5 502.0H462.0L460.7 491.9H452.1Z"/>
<path fill="#f6e9c7" d="M461.4 502.0H470.0L468.7 491.9H460.1Z"/>
<path fill="#f4e5be" d="M469.4 502.0H477.9L476.7 491.9H468.1Z"/>
<path fill="#e9d39d" d="M477.3 502.0H493.8L492.7 491.9H476.1Z"/>
<path fill="#f4e5be" d="M493.2 502.0H501.7L500.7 491.9H492.1Z"/>
<path fill="#edf3f2" d="M501.1 502.0H509.7L508.7 491.9H500.1Z"/>
<path fill="#d7eeeb" d="M509.1 502.0H517.6L516.7 491.9H508.1Z"/>
<path fill="#bfe7e1" d="M517.0 502.0H525.5L524.7 491.9H516.1Z"/>
<path fill="#87d0c5" d="M524.9 502.0H533.5L532.7 491.9H524.1Z"/>
<path fill="#64b9ae" d="M532.9 502.0H541.4L540.7 491.9H532.1Z"/>
<path fill="#7ccabe" d="M540.8 502.0H549.4L548.7 491.9H540.1Z"/>
<path fill="#b4e2db" d="M548.8 502.0H557.3L556.7 491.9H548.1Z"/>
<path fill="#bfe7e1" d="M556.7 502.0H565.2L564.8 491.9H556.1Z"/>
<path fill="#d0ece8" d="M564.6 502.0H573.2L572.8 491.9H564.2Z"/>
<path fill="#e6f1f0" d="M572.6 502.0H581.1L580.8 491.9H572.2Z"/>
<path fill="#f4f5f5" d="M580.5 502.0H589.0L588.8 491.9H580.2Z"/>
<path fill="#f4f5f5" d="M620.2 502.0H644.6L644.8 491.9H620.2Z"/>
<path fill="#f4f5f5" d="M659.9 502.0H676.4L676.8 491.9H660.2Z"/>
<path fill="#f5f1e6" d="M675.8 502.0H684.3L684.9 491.9H676.2Z"/>
<path fill="#f6ebcf" d="M683.7 502.0H692.2L692.9 491.9H684.3Z"/>
<path fill="#f6edd7" d="M691.6 502.0H700.2L700.9 491.9H692.3Z"/>
<path fill="#f4f5f5" d="M731.3 502.0H747.8L748.9 491.9H732.3Z"/>
<path fill="#f5f1e6" d="M755.2 502.0H771.6L772.9 491.9H756.3Z"/>
<path fill="#f5f1e6" d="M810.7 502.0H819.3L821.0 491.9H812.4Z"/>
<path fill="#f5efde" d="M818.7 502.0H835.1L837.0 491.9H820.4Z"/>
<path fill="#f6edd7" d="M834.5 502.0H859.0L861.0 491.9H836.4Z"/>
<path fill="#f5efde" d="M858.4 502.0H866.9L869.0 491.9H860.4Z"/>
<path fill="#f5f1e6" d="M866.3 502.0H874.8L877.0 491.9H868.4Z"/>
<path fill="#f5f1e6" d="M921.9 502.0H938.3L941.1 491.9H924.5Z"/>
<path fill="#f5f1e6" d="M985.4 502.0H1001.9L1005.1 491.9H988.5Z"/>
<path fill="#f5efde" d="M1001.3 502.0H1009.8L1013.1 491.9H1004.5Z"/>
<path fill="#f6edd7" d="M1009.2 502.0H1025.7L1029.1 491.9H1012.5Z"/>
<path fill="#f6ebcf" d="M1025.1 502.0H1041.5L1045.2 491.9H1028.5Z"/>
<path fill="#f6e9c7" d="M1040.9 502.0H1049.5L1053.2 491.9H1044.6Z"/>
<path fill="#f6ebcf" d="M1048.9 502.0H1065.4L1069.2 491.9H1052.6Z"/>
<path fill="#f6edd7" d="M1064.8 502.0H1073.3L1077.2 491.9H1068.6Z"/>
<path fill="#f5efde" d="M1072.7 502.0H1081.2L1085.2 491.9H1076.6Z"/>
<path fill="#f6edd7" d="M1080.6 502.0H1089.2L1093.2 491.9H1084.6Z"/>
<path fill="#f6ebcf" d="M1088.6 502.0H1144.7L1149.2 491.9H1092.6Z"/>
<path fill="#f6edd7" d="M1144.1 502.0H1160.6L1165.3 491.9H1148.6Z"/>
<path fill="#def0ed" d="M1168.0 502.0H1192.4L1197.3 491.9H1172.7Z"/>
<path fill="#f6ebcf" d="M43.7 492.5H52.3L48.1 482.5H39.5Z"/>
<path fill="#f5efde" d="M51.7 492.5H60.3L56.2 482.5H47.5Z"/>
<path fill="#f6edd7" d="M59.7 492.5H68.3L64.3 482.5H55.6Z"/>
<path fill="#edd9a8" d="M67.7 492.5H76.3L72.3 482.5H63.7Z"/>
<path fill="#e6cd92" d="M75.7 492.5H84.4L80.4 482.5H71.7Z"/>
<path fill="#e2c787" d="M83.8 492.5H92.4L88.5 482.5H79.8Z"/>
<path fill="#dec17b" d="M91.8 492.5H100.4L96.5 482.5H87.9Z"/>
<path fill="#d9b76f" d="M99.8 492.5H108.4L104.6 482.5H95.9Z"/>
<path fill="#d4ac62" d="M107.8 492.5H124.4L120.7 482.5H104.0Z"/>
<path fill="#edd9a8" d="M123.8 492.5H132.4L128.8 482.5H120.1Z"/>
<path fill="#f5f1e6" d="M131.8 492.5H140.4L136.9 482.5H128.2Z"/>
<path fill="#c9eae6" d="M139.8 492.5H148.4L144.9 482.5H136.3Z"/>
<path fill="#92d4ca" d="M147.8 492.5H156.4L153.0 482.5H144.3Z"/>
<path fill="#87d0c5" d="M155.8 492.5H164.4L161.1 482.5H152.4Z"/>
<path fill="#a8ddd5" d="M163.8 492.5H172.4L169.1 482.5H160.5Z"/>
<path fill="#d0ece8" d="M171.8 492.5H180.4L177.2 482.5H168.5Z"/>
<path fill="#edf3f2" d="M179.8 492.5H188.4L185.3 482.5H176.6Z"/>
<path fill="#f5efde" d="M187.8 492.5H220.5L217.5 482.5H184.7Z"/>
<path fill="#f5f1e6" d="M219.9 492.5H228.5L225.6 482.5H216.9Z"/>
<path fill="#edf3f2" d="M235.9 492.5H244.5L241.7 482.5H233.1Z"/>
<path fill="#def0ed" d="M243.9 492.5H260.5L257.8 482.5H241.1Z"/>
<path fill="#edf3f2" d="M259.9 492.5H292.5L290.1 482.5H257.2Z"/>
<path fill="#f4f5f5" d="M291.9 492.5H340.6L338.5 482.5H289.5Z"/>
<path fill="#f4f5f5" d="M388.0 492.5H396.6L395.0 482.5H386.3Z"/>
<path fill="#edf3f2" d="M396.0 492.5H404.6L403.0 482.5H394.4Z"/>
<path fill="#d0ece8" d="M404.0 492.5H412.6L411.1 482.5H402.4Z"/>
<path fill="#f4f5f5" d="M412.0 492.5H420.6L419.2 482.5H410.5Z"/>
<path fill="#f6edd7" d="M420.0 492.5H428.6L427.2 482.5H418.6Z"/>
<path fill="#e9d39d" d="M428.0 492.5H436.6L435.3 482.5H426.6Z"/>
<path fill="#cfa256" d="M436.0 492.5H444.7L443.4 482.5H434.7Z"/>
<path fill="#c58e3d" d="M444.1 492.5H452.7L451.4 482.5H442.8Z"/>
<path fill="#cfa256" d="M452.1 492.5H460.7L459.5 482.5H450.8Z"/>
<path fill="#e9d39d" d="M460.1 492.5H468.7L467.6 482.5H458.9Z"/>
<path fill="#f6ebcf" d="M468.1 492.5H476.7L475.6 482.5H467.0Z"/>
<path fill="#f5efde" d="M476.1 492.5H484.7L483.7 482.5H475.0Z"/>
<path fill="#edf3f2" d="M492.1 492.5H500.7L499.8 482.5H491.2Z"/>
<path fill="#d0ece8" d="M500.1 492.5H508.7L507.9 482.5H499.2Z"/>
<path fill="#9dd9d0" d="M508.1 492.5H516.7L515.9 482.5H507.3Z"/>
<path fill="#58b0a7" d="M516.1 492.5H524.7L524.0 482.5H515.3Z"/>
<path fill="#2d8f87" d="M524.1 492.5H532.7L532.1 482.5H523.4Z"/>
<path fill="#258880" d="M532.1 492.5H540.7L540.1 482.5H531.5Z"/>
<path fill="#35978f" d="M540.1 492.5H548.7L548.2 482.5H539.5Z"/>
<path fill="#7ccabe" d="M548.1 492.5H556.7L556.3 482.5H547.6Z"/>
<path fill="#bfe7e1" d="M556.1 492.5H564.8L564.3 482.5H555.7Z"/>
<path fill="#def0ed" d="M564.2 492.5H572.8L572.4 482.5H563.7Z"/>
<path fill="#edf3f2" d="M572.2 492.5H580.8L580.5 482.5H571.8Z"/>
<path fill="#f4f5f5" d="M628.2 492.5H676.8L677.3 482.5H628.3Z"/>
<path fill="#f5efde" d="M700.3 492.5H708.9L709.5 482.5H700.9Z"/>
<path fill="#edd9a8" d="M708.3 492.5H716.9L717.6 482.5H708.9Z"/>
<path fill="#f5f1e6" d="M716.3 492.5H724.9L725.7 482.5H717.0Z"/>
<path fill="#f5f1e6" d="M756.3 492.5H772.9L774.0 482.5H757.3Z"/>
<path fill="#f5f1e6" d="M804.4 492.5H813.0L814.4 482.5H805.7Z"/>
<path fill="#f5efde" d="M812.4 492.5H829.0L830.5 482.5H813.8Z"/>
<path fill="#f6edd7" d="M828.4 492.5H861.0L862.8 482.5H829.9Z"/>
<path fill="#f5efde" d="M860.4 492.5H869.0L870.8 482.5H862.2Z"/>
<path fill="#f5f1e6" d="M868.4 492.5H877.0L878.9 482.5H870.2Z"/>
<path fill="#f5f1e6" d="M932.5 492.5H941.1L943.4 482.5H934.8Z"/>
<path fill="#f5f1e6" d="M956.5 492.5H989.1L991.8 482.5H959.0Z"/>
<path fill="#f5efde" d="M988.5 492.5H997.1L999.9 482.5H991.2Z"/>
<path fill="#f6ebcf" d="M996.5 492.5H1005.1L1007.9 482.5H999.3Z"/>
<path fill="#f6e9c7" d="M1004.5 492.5H1061.2L1064.4 482.5H1007.3Z"/>
<path fill="#f6edd7" d="M1060.6 492.5H1069.2L1072.5 482.5H1063.8Z"/>
<path fill="#f5efde" d="M1068.6 492.5H1077.2L1080.5 482.5H1071.9Z"/>
<path fill="#f5f1e6" d="M1076.6 492.5H1085.2L1088.6 482.5H1079.9Z"/>
<path fill="#f6ebcf" d="M1084.6 492.5H1093.2L1096.7 482.5H1088.0Z"/>
<path fill="#f6edd7" d="M1092.6 492.5H1101.2L1104.7 482.5H1096.1Z"/>
<path fill="#f5f1e6" d="M1100.6 492.5H1109.2L1112.8 482.5H1104.1Z"/>
<path fill="#f4f5f5" d="M1132.6 492.5H1141.2L1145.1 482.5H1136.4Z"/>
<path fill="#edf3f2" d="M1140.6 492.5H1149.2L1153.1 482.5H1144.5Z"/>
<path fill="#e6f1f0" d="M1148.6 492.5H1157.2L1161.2 482.5H1152.5Z"/>
<path fill="#d7eeeb" d="M1156.6 492.5H1165.3L1169.3 482.5H1160.6Z"/>
<path fill="#87d0c5" d="M1164.7 492.5H1181.3L1185.4 482.5H1168.7Z"/>
<path fill="#bfe7e1" d="M1180.7 492.5H1189.3L1193.5 482.5H1184.8Z"/>
<path fill="#d0ece8" d="M1188.7 492.5H1197.3L1201.5 482.5H1192.9Z"/>
<path fill="#f6ebcf" d="M39.5 483.1H48.1L44.6 473.0H35.9Z"/>
<path fill="#f5efde" d="M47.5 483.1H56.2L52.7 473.0H44.0Z"/>
<path fill="#f4e5be" d="M55.6 483.1H64.3L60.9 473.0H52.1Z"/>
<path fill="#e6cd92" d="M63.7 483.1H72.3L69.0 473.0H60.3Z"/>
<path fill="#e2c787" d="M71.7 483.1H88.5L85.2 473.0H68.4Z"/>
<path fill="#dec17b" d="M87.9 483.1H96.5L93.3 473.0H84.6Z"/>
<path fill="#d4ac62" d="M95.9 483.1H104.6L101.4 473.0H92.7Z"/>
<path fill="#cfa256" d="M104.0 483.1H112.7L109.5 473.0H100.8Z"/>
<path fill="#d9b76f" d="M112.1 483.1H120.7L117.7 473.0H108.9Z"/>
<path fill="#f6edd7" d="M120.1 483.1H128.8L125.8 473.0H117.1Z"/>
<path fill="#b4e2db" d="M136.3 483.1H144.9L142.0 473.0H133.3Z"/>
<path fill="#64b9ae" d="M144.3 483.1H153.0L150.1 473.0H141.4Z"/>
<path fill="#35978f" d="M152.4 483.1H161.1L158.2 473.0H149.5Z"/>
<path fill="#7ccabe" d="M160.5 483.1H169.1L166.4 473.0H157.6Z"/>
<path fill="#c9eae6" d="M168.5 483.1H177.2L174.5 473.0H165.8Z"/>
<path fill="#f5efde" d="M176.6 483.1H185.3L182.6 473.0H173.9Z"/>
<path fill="#edd9a8" d="M184.7 483.1H193.3L190.7 473.0H182.0Z"/>
<path fill="#e9d39d" d="M192.7 483.1H217.5L215.0 473.0H190.1Z"/>
<path fill="#f1dfb3" d="M216.9 483.1H225.6L223.2 473.0H214.4Z"/>
<path fill="#f5efde" d="M225.0 483.1H233.7L231.3 473.0H222.6Z"/>
<path fill="#f4f5f5" d="M233.1 483.1H241.7L239.4 473.0H230.7Z"/>
<path fill="#edf3f2" d="M241.1 483.1H257.8L255.6 473.0H238.8Z"/>
<path fill="#f4f5f5" d="M257.2 483.1H265.9L263.7 473.0H255.0Z"/>
<path fill="#edf3f2" d="M265.3 483.1H282.0L280.0 473.0H263.1Z"/>
<path fill="#f4f5f5" d="M281.4 483.1H330.4L328.7 473.0H279.4Z"/>
<path fill="#e6f1f0" d="M394.4 483.1H403.0L401.7 473.0H393.0Z"/>
<path fill="#d0ece8" d="M402.4 483.1H411.1L409.8 473.0H401.1Z"/>
<path fill="#edf3f2" d="M410.5 483.1H419.2L417.9 473.0H409.2Z"/>
<path fill="#f5f1e6" d="M418.6 483.1H427.2L426.0 473.0H417.3Z"/>
<path fill="#f4e5be" d="M426.6 483.1H435.3L434.2 473.0H425.4Z"/>
<path fill="#d9b76f" d="M434.7 483.1H443.4L442.3 473.0H433.6Z"/>
<path fill="#c08430" d="M442.8 483.1H459.5L458.5 473.0H441.7Z"/>
<path fill="#d4ac62" d="M458.9 483.1H467.6L466.6 473.0H457.9Z"/>
<path fill="#f1dfb3" d="M467.0 483.1H475.6L474.7 473.0H466.0Z"/>
<path fill="#f5f1e6" d="M475.0 483.1H483.7L482.8 473.0H474.1Z"/>
<path fill="#e6f1f0" d="M483.1 483.1H491.8L491.0 473.0H482.2Z"/>
<path fill="#bfe7e1" d="M491.2 483.1H499.8L499.1 473.0H490.4Z"/>
<path fill="#7ccabe" d="M499.2 483.1H507.9L507.2 473.0H498.5Z"/>
<path fill="#35978f" d="M507.3 483.1H515.9L515.3 473.0H506.6Z"/>
<path fill="#0c7169" d="M515.3 483.1H524.0L523.4 473.0H514.7Z"/>
<path fill="#046961" d="M523.4 483.1H532.1L531.5 473.0H522.8Z"/>
<path fill="#2d8f87" d="M531.5 483.1H540.1L539.6 473.0H530.9Z"/>
<path fill="#58b0a7" d="M539.5 483.1H548.2L547.8 473.0H539.0Z"/>
<path fill="#a8ddd5" d="M547.6 483.1H556.3L555.9 473.0H547.2Z"/>
<path fill="#d7eeeb" d="M555.7 483.1H564.3L564.0 473.0H555.3Z"/>
<path fill="#edf3f2" d="M563.7 483.1H572.4L572.1 473.0H563.4Z"/>
<path fill="#f4f5f5" d="M571.8 483.1H580.5L580.2 473.0H571.5Z"/>
<path fill="#f4f5f5" d="M628.3 483.1H669.2L669.5 473.0H628.3Z"/>
<path fill="#edf3f2" d="M668.6 483.1H685.3L685.7 473.0H668.9Z"/>
<path fill="#f4f5f5" d="M684.7 483.1H693.4L693.8 473.0H685.1Z"/>
<path fill="#f5f1e6" d="M700.9 483.1H709.5L710.1 473.0H701.4Z"/>
<path fill="#f5efde" d="M708.9 483.1H717.6L718.2 473.0H709.5Z"/>
<path fill="#f5f1e6" d="M717.0 483.1H741.8L742.5 473.0H717.6Z"/>
<path fill="#f5efde" d="M741.2 483.1H757.9L758.8 473.0H741.9Z"/>
<path fill="#f6edd7" d="M757.3 483.1H774.0L775.0 473.0H758.2Z"/>
<path fill="#f5f1e6" d="M773.4 483.1H782.1L783.1 473.0H774.4Z"/>
<path fill="#f4f5f5" d="M789.6 483.1H806.3L807.4 473.0H790.6Z"/>
<path fill="#f5f1e6" d="M805.7 483.1H814.4L815.6 473.0H806.8Z"/>
<path fill="#f5efde" d="M813.8 483.1H822.4L823.7 473.0H815.0Z"/>
<path fill="#f6edd7" d="M821.8 483.1H830.5L831.8 473.0H823.1Z"/>
<path fill="#f6e9c7" d="M829.9 483.1H846.6L848.0 473.0H831.2Z"/>
<path fill="#f6edd7" d="M846.0 483.1H862.8L864.3 473.0H847.4Z"/>
<path fill="#f5efde" d="M862.2 483.1H870.8L872.4 473.0H863.7Z"/>
<path fill="#f5f1e6" d="M870.2 483.1H878.9L880.5 473.0H871.8Z"/>
<path fill="#f5f1e6" d="M926.7 483.1H967.6L969.7 473.0H928.6Z"/>
<path fill="#f5efde" d="M967.0 483.1H983.8L986.0 473.0H969.1Z"/>
<path fill="#f6edd7" d="M983.2 483.1H991.8L994.1 473.0H985.4Z"/>
<path fill="#f6ebcf" d="M991.2 483.1H999.9L1002.2 473.0H993.5Z"/>
<path fill="#f6e9c7" d="M999.3 483.1H1007.9L1010.3 473.0H1001.6Z"/>
<path fill="#f4e5be" d="M1007.3 483.1H1024.1L1026.6 473.0H1009.7Z"/>
<path fill="#f6e9c7" d="M1023.5 483.1H1048.3L1050.9 473.0H1026.0Z"/>
<path fill="#f6ebcf" d="M1047.7 483.1H1056.3L1059.0 473.0H1050.3Z"/>
<path fill="#f5efde" d="M1055.7 483.1H1064.4L1067.1 473.0H1058.4Z"/>
<path fill="#35978f" d="M1063.8 483.1H1072.5L1075.2 473.0H1066.5Z"/>
<path fill="#edf3f2" d="M1071.9 483.1H1080.5L1083.4 473.0H1074.6Z"/>
<path fill="#f5f1e6" d="M1079.9 483.1H1088.6L1091.5 473.0H1082.8Z"/>
<path fill="#e6cd92" d="M1088.0 483.1H1096.7L1099.6 473.0H1090.9Z"/>
<path fill="#f4e5be" d="M1096.1 483.1H1104.7L1107.7 473.0H1099.0Z"/>
<path fill="#edf3f2" d="M1104.1 483.1H1120.9L1123.9 473.0H1107.1Z"/>
<path fill="#e6f1f0" d="M1120.3 483.1H1137.0L1140.2 473.0H1123.3Z"/>
<path fill="#def0ed" d="M1136.4 483.1H1145.1L1148.3 473.0H1139.6Z"/>
<path fill="#d7eeeb" d="M1144.5 483.1H1153.1L1156.4 473.0H1147.7Z"/>
<path fill="#d0ece8" d="M1152.5 483.1H1161.2L1164.5 473.0H1155.8Z"/>
<path fill="#b4e2db" d="M1160.6 483.1H1169.3L1172.6 473.0H1163.9Z"/>
<path fill="#87d0c5" d="M1168.7 483.1H1177.3L1180.7 473.0H1172.0Z"/>
<path fill="#7ccabe" d="M1176.7 483.1H1185.4L1188.9 473.0H1180.1Z"/>
<path fill="#b4e2db" d="M1184.8 483.1H1193.5L1197.0 473.0H1188.3Z"/>
<path fill="#c9eae6" d="M1192.9 483.1H1201.5L1205.1 473.0H1196.4Z"/>
<path fill="#f6edd7" d="M35.9 473.6H52.7L49.9 463.6H33.0Z"/>
<path fill="#e6cd92" d="M52.1 473.6H60.9L58.0 463.6H49.3Z"/>
<path fill="#e2c787" d="M60.3 473.6H85.2L82.5 463.6H57.4Z"/>
<path fill="#dec17b" d="M84.6 473.6H93.3L90.7 463.6H81.9Z"/>
<path fill="#d4ac62" d="M92.7 473.6H101.4L98.8 463.6H90.1Z"/>
<path fill="#cfa256" d="M100.8 473.6H109.5L107.0 463.6H98.2Z"/>
<path fill="#e6cd92" d="M108.9 473.6H117.7L115.1 463.6H106.4Z"/>
<path fill="#f5f1e6" d="M117.1 473.6H125.8L123.3 463.6H114.5Z"/>
<path fill="#def0ed" d="M125.2 473.6H133.9L131.4 463.6H122.7Z"/>
<path fill="#92d4ca" d="M133.3 473.6H142.0L139.6 463.6H130.8Z"/>
<path fill="#419f97" d="M141.4 473.6H150.1L147.8 463.6H139.0Z"/>
<path fill="#4da89f" d="M149.5 473.6H158.2L155.9 463.6H147.2Z"/>
<path fill="#9dd9d0" d="M157.6 473.6H166.4L164.1 463.6H155.3Z"/>
<path fill="#d7eeeb" d="M165.8 473.6H174.5L172.2 463.6H163.5Z"/>
<path fill="#f5f1e6" d="M173.9 473.6H182.6L180.4 463.6H171.6Z"/>
<path fill="#f4e5be" d="M182.0 473.6H190.7L188.5 463.6H179.8Z"/>
<path fill="#edd9a8" d="M190.1 473.6H223.2L221.2 463.6H187.9Z"/>
<path fill="#f6ebcf" d="M222.6 473.6H231.3L229.3 463.6H220.6Z"/>
<path fill="#f4f5f5" d="M238.8 473.6H328.7L327.2 463.6H236.9Z"/>
<path fill="#f4f5f5" d="M393.0 473.6H401.7L400.6 463.6H391.8Z"/>
<path fill="#7ccabe" d="M401.1 473.6H409.8L408.7 463.6H400.0Z"/>
<path fill="#f4f5f5" d="M409.2 473.6H417.9L416.9 463.6H408.1Z"/>
<path fill="#f6edd7" d="M425.4 473.6H434.2L433.2 463.6H424.5Z"/>
<path fill="#edd9a8" d="M433.6 473.6H442.3L441.4 463.6H432.6Z"/>
<path fill="#ca9849" d="M441.7 473.6H450.4L449.5 463.6H440.8Z"/>
<path fill="#c08430" d="M449.8 473.6H458.5L457.7 463.6H448.9Z"/>
<path fill="#ca9849" d="M457.9 473.6H466.6L465.8 463.6H457.1Z"/>
<path fill="#edd9a8" d="M466.0 473.6H474.7L474.0 463.6H465.2Z"/>
<path fill="#f4f5f5" d="M474.1 473.6H482.8L482.1 463.6H473.4Z"/>
<path fill="#a8ddd5" d="M482.2 473.6H491.0L490.3 463.6H481.5Z"/>
<path fill="#419f97" d="M490.4 473.6H499.1L498.5 463.6H489.7Z"/>
<path fill="#016259" d="M498.5 473.6H515.3L514.8 463.6H497.9Z"/>
<path fill="#046961" d="M514.7 473.6H523.4L522.9 463.6H514.2Z"/>
<path fill="#2d8f87" d="M522.8 473.6H531.5L531.1 463.6H522.3Z"/>
<path fill="#70c1b6" d="M530.9 473.6H539.6L539.2 463.6H530.5Z"/>
<path fill="#b4e2db" d="M539.0 473.6H547.8L547.4 463.6H538.6Z"/>
<path fill="#d7eeeb" d="M547.2 473.6H555.9L555.6 463.6H546.8Z"/>
<path fill="#edf3f2" d="M555.3 473.6H564.0L563.7 463.6H555.0Z"/>
<path fill="#f4f5f5" d="M563.4 473.6H572.1L571.9 463.6H563.1Z"/>
<path fill="#f4f5f5" d="M628.3 473.6H661.4L661.6 463.6H628.4Z"/>
<path fill="#edf3f2" d="M660.8 473.6H669.5L669.7 463.6H661.0Z"/>
<path fill="#d7eeeb" d="M668.9 473.6H677.6L677.9 463.6H669.1Z"/>
<path fill="#d0ece8" d="M677.0 473.6H685.7L686.0 463.6H677.3Z"/>
<path fill="#e6f1f0" d="M685.1 473.6H693.8L694.2 463.6H685.4Z"/>
<path fill="#f5efde" d="M701.4 473.6H710.1L710.5 463.6H701.8Z"/>
<path fill="#f6edd7" d="M709.5 473.6H718.2L718.7 463.6H709.9Z"/>
<path fill="#f6ebcf" d="M717.6 473.6H734.4L735.0 463.6H718.1Z"/>
<path fill="#f6e9c7" d="M733.8 473.6H750.6L751.3 463.6H734.4Z"/>
<path fill="#f4e5be" d="M750.0 473.6H758.8L759.5 463.6H750.7Z"/>
<path fill="#e2c787" d="M758.2 473.6H766.9L767.6 463.6H758.9Z"/>
<path fill="#d9b76f" d="M766.3 473.6H775.0L775.8 463.6H767.0Z"/>
<path fill="#f6e9c7" d="M774.4 473.6H783.1L783.9 463.6H775.2Z"/>
<path fill="#f4f5f5" d="M782.5 473.6H791.2L792.1 463.6H783.3Z"/>
<path fill="#d7eeeb" d="M790.6 473.6H807.4L808.4 463.6H791.5Z"/>
<path fill="#f5f1e6" d="M806.8 473.6H815.6L816.5 463.6H807.8Z"/>
<path fill="#f5efde" d="M815.0 473.6H823.7L824.7 463.6H815.9Z"/>
<path fill="#f6ebcf" d="M823.1 473.6H831.8L832.9 463.6H824.1Z"/>
<path fill="#f4e5be" d="M831.2 473.6H848.0L849.2 463.6H832.3Z"/>
<path fill="#f6edd7" d="M847.4 473.6H856.1L857.3 463.6H848.6Z"/>
<path fill="#f5efde" d="M855.5 473.6H864.3L865.5 463.6H856.7Z"/>
<path fill="#f5f1e6" d="M863.7 473.6H880.5L881.8 463.6H864.9Z"/>
<path fill="#f5f1e6" d="M920.5 473.6H937.3L938.9 463.6H922.0Z"/>
<path fill="#f5efde" d="M936.7 473.6H961.6L963.3 463.6H938.3Z"/>
<path fill="#f6edd7" d="M961.0 473.6H977.9L979.7 463.6H962.7Z"/>
<path fill="#f6ebcf" d="M977.3 473.6H994.1L996.0 463.6H979.1Z"/>
<path fill="#f6e9c7" d="M993.5 473.6H1018.4L1020.4 463.6H995.4Z"/>
<path fill="#f4e5be" d="M1017.8 473.6H1026.6L1028.6 463.6H1019.8Z"/>
<path fill="#f6e9c7" d="M1026.0 473.6H1034.7L1036.8 463.6H1028.0Z"/>
<path fill="#f6edd7" d="M1034.1 473.6H1042.8L1044.9 463.6H1036.2Z"/>
<path fill="#f5f1e6" d="M1042.2 473.6H1050.9L1053.1 463.6H1044.3Z"/>
<path fill="#f4f5f5" d="M1050.3 473.6H1059.0L1061.2 463.6H1052.5Z"/>
<path fill="#e6f1f0" d="M1058.4 473.6H1067.1L1069.4 463.6H1060.6Z"/>
<path fill="#def0ed" d="M1066.5 473.6H1075.2L1077.5 463.6H1068.8Z"/>
<path fill="#d7eeeb" d="M1074.6 473.6H1083.4L1085.7 463.6H1076.9Z"/>
<path fill="#def0ed" d="M1082.8 473.6H1091.5L1093.8 463.6H1085.1Z"/>
<path fill="#edd9a8" d="M1090.9 473.6H1099.6L1102.0 463.6H1093.2Z"/>
<path fill="#f6e9c7" d="M1099.0 473.6H1107.7L1110.2 463.6H1101.4Z"/>
<path fill="#e6f1f0" d="M1107.1 473.6H1115.8L1118.3 463.6H1109.6Z"/>
<path fill="#def0ed" d="M1115.2 473.6H1132.1L1134.6 463.6H1117.7Z"/>
<path fill="#d7eeeb" d="M1131.5 473.6H1140.2L1142.8 463.6H1134.0Z"/>
<path fill="#d0ece8" d="M1139.6 473.6H1148.3L1150.9 463.6H1142.2Z"/>
<path fill="#c9eae6" d="M1147.7 473.6H1156.4L1159.1 463.6H1150.3Z"/>
<path fill="#bfe7e1" d="M1155.8 473.6H1164.5L1167.2 463.6H1158.5Z"/>
<path fill="#b4e2db" d="M1163.9 473.6H1172.6L1175.4 463.6H1166.6Z"/>
<path fill="#87d0c5" d="M1172.0 473.6H1180.7L1183.6 463.6H1174.8Z"/>
<path fill="#7ccabe" d="M1180.1 473.6H1188.9L1191.7 463.6H1183.0Z"/>
<path fill="#a8ddd5" d="M1188.3 473.6H1197.0L1199.9 463.6H1191.1Z"/>
<path fill="#bfe7e1" d="M1196.4 473.6H1205.1L1208.0 463.6H1199.3Z"/>
<path fill="#f5efde" d="M33.0 464.2H41.7L39.2 454.1H30.4Z"/>
<path fill="#f6e9c7" d="M41.1 464.2H49.9L47.4 454.1H38.6Z"/>
<path fill="#dec17b" d="M49.3 464.2H66.2L63.8 454.1H46.8Z"/>
<path fill="#d9b76f" d="M65.6 464.2H74.4L71.9 454.1H63.2Z"/>
<path fill="#d4ac62" d="M73.8 464.2H82.5L80.1 454.1H71.3Z"/>
<path fill="#ca9849" d="M81.9 464.2H90.7L88.3 454.1H79.5Z"/>
<path fill="#cfa256" d="M90.1 464.2H98.8L96.5 454.1H87.7Z"/>
<path fill="#d4ac62" d="M98.2 464.2H107.0L104.7 454.1H95.9Z"/>
<path fill="#f5efde" d="M106.4 464.2H115.1L112.9 454.1H104.1Z"/>
<path fill="#f4f5f5" d="M114.5 464.2H123.3L121.1 454.1H112.3Z"/>
<path fill="#9dd9d0" d="M122.7 464.2H131.4L129.3 454.1H120.5Z"/>
<path fill="#7ccabe" d="M130.8 464.2H139.6L137.5 454.1H128.7Z"/>
<path fill="#70c1b6" d="M139.0 464.2H147.8L145.7 454.1H136.9Z"/>
<path fill="#7ccabe" d="M147.2 464.2H155.9L153.9 454.1H145.1Z"/>
<path fill="#bfe7e1" d="M155.3 464.2H164.1L162.1 454.1H153.3Z"/>
<path fill="#e6f1f0" d="M163.5 464.2H172.2L170.2 454.1H161.5Z"/>
<path fill="#f5efde" d="M171.6 464.2H180.4L178.4 454.1H169.6Z"/>
<path fill="#f6ebcf" d="M179.8 464.2H188.5L186.6 454.1H177.8Z"/>
<path fill="#f6edd7" d="M187.9 464.2H196.7L194.8 454.1H186.0Z"/>
<path fill="#f5f1e6" d="M196.1 464.2H221.2L219.4 454.1H194.2Z"/>
<path fill="#f4f5f5" d="M236.9 464.2H351.7L350.5 454.1H235.2Z"/>
<path fill="#f4f5f5" d="M383.7 464.2H392.4L391.4 454.1H382.6Z"/>
<path fill="#edf3f2" d="M391.8 464.2H400.6L399.6 454.1H390.8Z"/>
<path fill="#e6f1f0" d="M400.0 464.2H416.9L416.0 454.1H399.0Z"/>
<path fill="#def0ed" d="M416.3 464.2H425.1L424.2 454.1H415.4Z"/>
<path fill="#d7eeeb" d="M424.5 464.2H433.2L432.4 454.1H423.6Z"/>
<path fill="#f1dfb3" d="M440.8 464.2H449.5L448.8 454.1H440.0Z"/>
<path fill="#e2c787" d="M448.9 464.2H457.7L457.0 454.1H448.2Z"/>
<path fill="#e9d39d" d="M457.1 464.2H465.8L465.2 454.1H456.4Z"/>
<path fill="#70c1b6" d="M473.4 464.2H482.1L481.5 454.1H472.7Z"/>
<path fill="#01554b" d="M481.5 464.2H490.3L489.7 454.1H480.9Z"/>
<path fill="#003c30" d="M489.7 464.2H498.5L497.9 454.1H489.1Z"/>
<path fill="#003c30" d="M497.9 464.2H506.6L506.1 454.1H497.3Z"/>
<path fill="#004e44" d="M506.0 464.2H514.8L514.3 454.1H505.5Z"/>
<path fill="#35978f" d="M514.2 464.2H522.9L522.5 454.1H513.7Z"/>
<path fill="#9dd9d0" d="M522.3 464.2H531.1L530.7 454.1H521.9Z"/>
<path fill="#d0ece8" d="M530.5 464.2H539.2L538.9 454.1H530.1Z"/>
<path fill="#e6f1f0" d="M538.6 464.2H547.4L547.1 454.1H538.3Z"/>
<path fill="#edf3f2" d="M546.8 464.2H555.6L555.3 454.1H546.5Z"/>
<path fill="#f4f5f5" d="M555.0 464.2H563.7L563.5 454.1H554.7Z"/>
<path fill="#edf3f2" d="M563.1 464.2H571.9L571.6 454.1H562.9Z"/>
<path fill="#f4f5f5" d="M571.3 464.2H580.0L579.8 454.1H571.0Z"/>
<path fill="#f4f5f5" d="M628.4 464.2H661.6L661.8 454.1H628.4Z"/>
<path fill="#e6f1f0" d="M661.0 464.2H669.7L670.0 454.1H661.2Z"/>
<path fill="#c9eae6" d="M669.1 464.2H686.0L686.3 454.1H669.4Z"/>
<path fill="#def0ed" d="M685.4 464.2H694.2L694.5 454.1H685.7Z"/>
<path fill="#f5f1e6" d="M693.6 464.2H702.4L702.7 454.1H693.9Z"/>
<path fill="#f6ebcf" d="M701.8 464.2H710.5L710.9 454.1H702.1Z"/>
<path fill="#f4e5be" d="M709.9 464.2H718.7L719.1 454.1H710.3Z"/>
<path fill="#f1dfb3" d="M718.1 464.2H726.8L727.3 454.1H718.5Z"/>
<path fill="#edd9a8" d="M726.2 464.2H751.3L751.9 454.1H726.7Z"/>
<path fill="#e9d39d" d="M750.7 464.2H759.5L760.1 454.1H751.3Z"/>
<path fill="#c58e3d" d="M758.9 464.2H767.6L768.3 454.1H759.5Z"/>
<path fill="#b97b29" d="M767.0 464.2H775.8L776.4 454.1H767.7Z"/>
<path fill="#e6cd92" d="M775.2 464.2H783.9L784.6 454.1H775.8Z"/>
<path fill="#e6f1f0" d="M791.5 464.2H800.2L801.0 454.1H792.2Z"/>
<path fill="#edf3f2" d="M799.6 464.2H808.4L809.2 454.1H800.4Z"/>
<path fill="#f5efde" d="M807.8 464.2H816.5L817.4 454.1H808.6Z"/>
<path fill="#f6edd7" d="M815.9 464.2H832.9L833.8 454.1H816.8Z"/>
<path fill="#f6ebcf" d="M832.3 464.2H849.2L850.2 454.1H833.2Z"/>
<path fill="#f6edd7" d="M848.6 464.2H857.3L858.4 454.1H849.6Z"/>
<path fill="#f5efde" d="M856.7 464.2H865.5L866.6 454.1H857.8Z"/>
<path fill="#f5f1e6" d="M864.9 464.2H873.6L874.7 454.1H866.0Z"/>
<path fill="#f4f5f5" d="M889.3 464.2H898.1L899.3 454.1H890.5Z"/>
<path fill="#f5f1e6" d="M913.8 464.2H922.6L923.9 454.1H915.1Z"/>
<path fill="#f6edd7" d="M922.0 464.2H938.9L940.3 454.1H923.3Z"/>
<path fill="#f6ebcf" d="M938.3 464.2H947.0L948.5 454.1H939.7Z"/>
<path fill="#f6e9c7" d="M946.4 464.2H971.5L973.0 454.1H947.9Z"/>
<path fill="#f4e5be" d="M970.9 464.2H1012.3L1014.0 454.1H972.4Z"/>
<path fill="#edd9a8" d="M1011.7 464.2H1020.4L1022.2 454.1H1013.4Z"/>
<path fill="#dec17b" d="M1019.8 464.2H1036.8L1038.6 454.1H1021.6Z"/>
<path fill="#f6ebcf" d="M1036.2 464.2H1044.9L1046.8 454.1H1038.0Z"/>
<path fill="#def0ed" d="M1044.3 464.2H1053.1L1055.0 454.1H1046.2Z"/>
<path fill="#d0ece8" d="M1052.5 464.2H1085.7L1087.7 454.1H1054.4Z"/>
<path fill="#d7eeeb" d="M1085.1 464.2H1093.8L1095.9 454.1H1087.1Z"/>
<path fill="#87d0c5" d="M1093.2 464.2H1102.0L1104.1 454.1H1095.3Z"/>
<path fill="#2d8f87" d="M1101.4 464.2H1110.2L1112.3 454.1H1103.5Z"/>
<path fill="#d7eeeb" d="M1109.6 464.2H1134.6L1136.9 454.1H1111.7Z"/>
<path fill="#d0ece8" d="M1134.0 464.2H1142.8L1145.1 454.1H1136.3Z"/>
<path fill="#bfe7e1" d="M1142.2 464.2H1150.9L1153.3 454.1H1144.5Z"/>
<path fill="#b4e2db" d="M1150.3 464.2H1167.2L1169.7 454.1H1152.7Z"/>
<path fill="#a8ddd5" d="M1166.6 464.2H1175.4L1177.8 454.1H1169.1Z"/>
<path fill="#9dd9d0" d="M1174.8 464.2H1183.6L1186.0 454.1H1177.2Z"/>
<path fill="#92d4ca" d="M1183.0 464.2H1191.7L1194.2 454.1H1185.4Z"/>
<path fill="#64b9ae" d="M1191.1 464.2H1199.9L1202.4 454.1H1193.6Z"/>
<path fill="#70c1b6" d="M1199.3 464.2H1208.0L1210.6 454.1H1201.8Z"/>
<path fill="#f5efde" d="M30.4 454.7H39.2L36.8 444.7H27.9Z"/>
<path fill="#f1dfb3" d="M38.6 454.7H47.4L45.0 444.7H36.2Z"/>
<path fill="#dec17b" d="M46.8 454.7H55.6L53.2 444.7H44.4Z"/>
<path fill="#cfa256" d="M55.0 454.7H63.8L61.4 444.7H52.6Z"/>
<path fill="#b97b29" d="M63.2 454.7H71.9L69.7 444.7H60.8Z"/>
<path fill="#a96c1e" d="M71.3 454.7H80.1L77.9 444.7H69.1Z"/>
<path fill="#a16518" d="M79.5 454.7H88.3L86.1 444.7H77.3Z"/>
<path fill="#c58e3d" d="M87.7 454.7H96.5L94.3 444.7H85.5Z"/>
<path fill="#f1dfb3" d="M95.9 454.7H104.7L102.6 444.7H93.7Z"/>
<path fill="#b4e2db" d="M112.3 454.7H121.1L119.0 444.7H110.2Z"/>
<path fill="#7ccabe" d="M120.5 454.7H145.7L143.7 444.7H118.4Z"/>
<path fill="#a8ddd5" d="M145.1 454.7H153.9L151.9 444.7H143.1Z"/>
<path fill="#d7eeeb" d="M153.3 454.7H162.1L160.1 444.7H151.3Z"/>
<path fill="#f4f5f5" d="M161.5 454.7H170.2L168.4 444.7H159.5Z"/>
<path fill="#f6edd7" d="M169.6 454.7H178.4L176.6 444.7H167.8Z"/>
<path fill="#f6ebcf" d="M177.8 454.7H186.6L184.8 444.7H176.0Z"/>
<path fill="#f6edd7" d="M186.0 454.7H194.8L193.0 444.7H184.2Z"/>
<path fill="#f4f5f5" d="M243.4 454.7H252.2L250.6 444.7H241.8Z"/>
<path fill="#f4f5f5" d="M268.0 454.7H350.5L349.3 444.7H266.5Z"/>
<path fill="#edf3f2" d="M374.4 454.7H383.2L382.2 444.7H373.4Z"/>
<path fill="#d7eeeb" d="M382.6 454.7H391.4L390.5 444.7H381.6Z"/>
<path fill="#a8ddd5" d="M390.8 454.7H399.6L398.7 444.7H389.9Z"/>
<path fill="#58b0a7" d="M399.0 454.7H407.8L406.9 444.7H398.1Z"/>
<path fill="#1d8078" d="M407.2 454.7H416.0L415.1 444.7H406.3Z"/>
<path fill="#00483d" d="M415.4 454.7H424.2L423.4 444.7H414.5Z"/>
<path fill="#003c30" d="M423.6 454.7H432.4L431.6 444.7H422.8Z"/>
<path fill="#9dd9d0" d="M431.8 454.7H440.6L439.8 444.7H431.0Z"/>
<path fill="#f4f5f5" d="M440.0 454.7H448.8L448.1 444.7H439.2Z"/>
<path fill="#edf3f2" d="M448.2 454.7H457.0L456.3 444.7H447.5Z"/>
<path fill="#d7eeeb" d="M456.4 454.7H465.2L464.5 444.7H455.7Z"/>
<path fill="#35978f" d="M464.6 454.7H473.3L472.7 444.7H463.9Z"/>
<path fill="#003c30" d="M472.7 454.7H481.5L481.0 444.7H472.1Z"/>
<path fill="#003c30" d="M480.9 454.7H489.7L489.2 444.7H480.4Z"/>
<path fill="#003c30" d="M489.1 454.7H497.9L497.4 444.7H488.6Z"/>
<path fill="#004e44" d="M497.3 454.7H506.1L505.6 444.7H496.8Z"/>
<path fill="#35978f" d="M505.5 454.7H514.3L513.9 444.7H505.0Z"/>
<path fill="#a8ddd5" d="M513.7 454.7H522.5L522.1 444.7H513.3Z"/>
<path fill="#d7eeeb" d="M521.9 454.7H530.7L530.3 444.7H521.5Z"/>
<path fill="#edf3f2" d="M530.1 454.7H538.9L538.5 444.7H529.7Z"/>
<path fill="#f4f5f5" d="M538.3 454.7H555.3L555.0 444.7H537.9Z"/>
<path fill="#edf3f2" d="M554.7 454.7H563.5L563.2 444.7H554.4Z"/>
<path fill="#e6f1f0" d="M562.9 454.7H571.6L571.4 444.7H562.6Z"/>
<path fill="#edf3f2" d="M571.0 454.7H579.8L579.7 444.7H570.8Z"/>
<path fill="#f5f1e6" d="M595.6 454.7H612.6L612.6 444.7H595.5Z"/>
<path fill="#f4f5f5" d="M636.6 454.7H645.4L645.5 444.7H636.7Z"/>
<path fill="#f4f5f5" d="M653.0 454.7H661.8L661.9 444.7H653.1Z"/>
<path fill="#def0ed" d="M661.2 454.7H670.0L670.2 444.7H661.3Z"/>
<path fill="#c9eae6" d="M669.4 454.7H686.3L686.6 444.7H669.6Z"/>
<path fill="#e6f1f0" d="M685.7 454.7H694.5L694.8 444.7H686.0Z"/>
<path fill="#f6edd7" d="M693.9 454.7H702.7L703.1 444.7H694.2Z"/>
<path fill="#f1dfb3" d="M702.1 454.7H710.9L711.3 444.7H702.5Z"/>
<path fill="#edd9a8" d="M710.3 454.7H719.1L719.5 444.7H710.7Z"/>
<path fill="#e6cd92" d="M718.5 454.7H727.3L727.7 444.7H718.9Z"/>
<path fill="#e2c787" d="M726.7 454.7H735.5L736.0 444.7H727.1Z"/>
<path fill="#dec17b" d="M734.9 454.7H743.7L744.2 444.7H735.4Z"/>
<path fill="#d9b76f" d="M743.1 454.7H751.9L752.4 444.7H743.6Z"/>
<path fill="#d4ac62" d="M751.3 454.7H760.1L760.6 444.7H751.8Z"/>
<path fill="#a96c1e" d="M759.5 454.7H768.3L768.9 444.7H760.0Z"/>
<path fill="#91560d" d="M767.7 454.7H776.4L777.1 444.7H768.3Z"/>
<path fill="#e9d39d" d="M775.8 454.7H784.6L785.3 444.7H776.5Z"/>
<path fill="#f5f1e6" d="M800.4 454.7H809.2L810.0 444.7H801.2Z"/>
<path fill="#f5efde" d="M808.6 454.7H817.4L818.2 444.7H809.4Z"/>
<path fill="#f6edd7" d="M816.8 454.7H850.2L851.1 444.7H817.6Z"/>
<path fill="#f5efde" d="M849.6 454.7H858.4L859.4 444.7H850.5Z"/>
<path fill="#f5f1e6" d="M857.8 454.7H866.6L867.6 444.7H858.8Z"/>
<path fill="#f4f5f5" d="M882.3 454.7H891.1L892.3 444.7H883.4Z"/>
<path fill="#f5efde" d="M906.9 454.7H915.7L916.9 444.7H908.1Z"/>
<path fill="#f6edd7" d="M915.1 454.7H923.9L925.2 444.7H916.3Z"/>
<path fill="#f6e9c7" d="M923.3 454.7H932.1L933.4 444.7H924.6Z"/>
<path fill="#f4e5be" d="M931.5 454.7H940.3L941.6 444.7H932.8Z"/>
<path fill="#f1dfb3" d="M939.7 454.7H964.9L966.3 444.7H941.0Z"/>
<path fill="#edd9a8" d="M964.3 454.7H997.6L999.2 444.7H965.7Z"/>
<path fill="#f1dfb3" d="M997.0 454.7H1005.8L1007.4 444.7H998.6Z"/>
<path fill="#edd9a8" d="M1005.2 454.7H1014.0L1015.6 444.7H1006.8Z"/>
<path fill="#dec17b" d="M1013.4 454.7H1022.2L1023.9 444.7H1015.0Z"/>
<path fill="#b97b29" d="M1021.6 454.7H1030.4L1032.1 444.7H1023.3Z"/>
<path fill="#c58e3d" d="M1029.8 454.7H1038.6L1040.3 444.7H1031.5Z"/>
<path fill="#f6ebcf" d="M1038.0 454.7H1046.8L1048.6 444.7H1039.7Z"/>
<path fill="#d0ece8" d="M1046.2 454.7H1079.5L1081.5 444.7H1048.0Z"/>
<path fill="#d7eeeb" d="M1078.9 454.7H1087.7L1089.7 444.7H1080.9Z"/>
<path fill="#92d4ca" d="M1087.1 454.7H1095.9L1097.9 444.7H1089.1Z"/>
<path fill="#2d8f87" d="M1095.3 454.7H1104.1L1106.1 444.7H1097.3Z"/>
<path fill="#64b9ae" d="M1103.5 454.7H1112.3L1114.4 444.7H1105.5Z"/>
<path fill="#c9eae6" d="M1111.7 454.7H1120.5L1122.6 444.7H1113.8Z"/>
<path fill="#d0ece8" d="M1119.9 454.7H1128.7L1130.8 444.7H1122.0Z"/>
<path fill="#c9eae6" d="M1128.1 454.7H1136.9L1139.0 444.7H1130.2Z"/>
<path fill="#bfe7e1" d="M1136.3 454.7H1145.1L1147.3 444.7H1138.4Z"/>
<path fill="#b4e2db" d="M1144.5 454.7H1161.5L1163.7 444.7H1146.7Z"/>
<path fill="#a8ddd5" d="M1160.9 454.7H1169.7L1171.9 444.7H1163.1Z"/>
<path fill="#003c30" d="M1169.1 454.7H1177.8L1180.2 444.7H1171.3Z"/>
<path fill="#a8ddd5" d="M1177.2 454.7H1186.0L1188.4 444.7H1179.6Z"/>
<path fill="#35978f" d="M1185.4 454.7H1194.2L1196.6 444.7H1187.8Z"/>
<path fill="#004135" d="M1193.6 454.7H1202.4L1204.8 444.7H1196.0Z"/>
<path fill="#015b52" d="M1201.8 454.7H1210.6L1213.1 444.7H1204.2Z"/>
<path fill="#f5efde" d="M27.9 445.3H36.8L34.6 435.3H25.7Z"/>
<path fill="#edd9a8" d="M36.2 445.3H45.0L42.8 435.3H34.0Z"/>
<path fill="#e2c787" d="M44.4 445.3H53.2L51.1 435.3H42.2Z"/>
<path fill="#cfa256" d="M52.6 445.3H61.4L59.3 435.3H50.5Z"/>
<path fill="#b17423" d="M60.8 445.3H69.7L67.6 435.3H58.7Z"/>
<path fill="#c58e3d" d="M69.1 445.3H77.9L75.8 435.3H67.0Z"/>
<path fill="#e6cd92" d="M77.3 445.3H86.1L84.1 435.3H75.2Z"/>
<path fill="#f5f1e6" d="M85.5 445.3H94.3L92.4 435.3H83.5Z"/>
<path fill="#f4f5f5" d="M93.7 445.3H102.6L100.6 435.3H91.8Z"/>
<path fill="#c9eae6" d="M102.0 445.3H110.8L108.9 435.3H100.0Z"/>
<path fill="#7ccabe" d="M110.2 445.3H135.5L133.6 435.3H108.3Z"/>
<path fill="#a8ddd5" d="M134.9 445.3H143.7L141.9 435.3H133.0Z"/>
<path fill="#d0ece8" d="M143.1 445.3H151.9L150.2 435.3H141.3Z"/>
<path fill="#e6f1f0" d="M151.3 445.3H160.1L158.4 435.3H149.6Z"/>
<path fill="#f6ebcf" d="M167.8 445.3H184.8L183.2 435.3H166.1Z"/>
<path fill="#f5efde" d="M184.2 445.3H193.0L191.4 435.3H182.6Z"/>
<path fill="#f4f5f5" d="M307.6 445.3H341.1L340.1 435.3H306.4Z"/>
<path fill="#f4f5f5" d="M373.4 445.3H382.2L381.4 435.3H372.5Z"/>
<path fill="#edf3f2" d="M381.6 445.3H390.5L389.6 435.3H380.8Z"/>
<path fill="#d0ece8" d="M389.9 445.3H398.7L397.9 435.3H389.0Z"/>
<path fill="#92d4ca" d="M398.1 445.3H406.9L406.1 435.3H397.3Z"/>
<path fill="#2d8f87" d="M406.3 445.3H415.1L414.4 435.3H405.5Z"/>
<path fill="#1d8078" d="M414.5 445.3H423.4L422.6 435.3H413.8Z"/>
<path fill="#58b0a7" d="M422.8 445.3H431.6L430.9 435.3H422.0Z"/>
<path fill="#7ccabe" d="M431.0 445.3H439.8L439.1 435.3H430.3Z"/>
<path fill="#4da89f" d="M439.2 445.3H448.1L447.4 435.3H438.5Z"/>
<path fill="#70c1b6" d="M447.5 445.3H456.3L455.7 435.3H446.8Z"/>
<path fill="#419f97" d="M455.7 445.3H464.5L463.9 435.3H455.1Z"/>
<path fill="#003c30" d="M463.9 445.3H472.7L472.2 435.3H463.3Z"/>
<path fill="#003c30" d="M472.1 445.3H481.0L480.4 435.3H471.6Z"/>
<path fill="#003c30" d="M480.4 445.3H489.2L488.7 435.3H479.8Z"/>
<path fill="#1d8078" d="M488.6 445.3H497.4L496.9 435.3H488.1Z"/>
<path fill="#87d0c5" d="M496.8 445.3H505.6L505.2 435.3H496.3Z"/>
<path fill="#c9eae6" d="M505.0 445.3H513.9L513.5 435.3H504.6Z"/>
<path fill="#def0ed" d="M513.3 445.3H522.1L521.7 435.3H512.9Z"/>
<path fill="#edf3f2" d="M521.5 445.3H530.3L530.0 435.3H521.1Z"/>
<path fill="#f4f5f5" d="M529.7 445.3H538.5L538.2 435.3H529.4Z"/>
<path fill="#f4f5f5" d="M546.2 445.3H555.0L554.7 435.3H545.9Z"/>
<path fill="#edf3f2" d="M554.4 445.3H571.4L571.3 435.3H554.1Z"/>
<path fill="#f4f5f5" d="M570.8 445.3H579.7L579.5 435.3H570.7Z"/>
<path fill="#f5f1e6" d="M587.3 445.3H612.6L612.5 435.3H587.2Z"/>
<path fill="#f4f5f5" d="M653.1 445.3H661.9L662.1 435.3H653.2Z"/>
<path fill="#d7eeeb" d="M661.3 445.3H670.2L670.3 435.3H661.5Z"/>
<path fill="#c9eae6" d="M669.6 445.3H686.6L686.9 435.3H669.7Z"/>
<path fill="#f4f5f5" d="M686.0 445.3H694.8L695.1 435.3H686.3Z"/>
<path fill="#f6edd7" d="M694.2 445.3H703.1L703.4 435.3H694.5Z"/>
<path fill="#f1dfb3" d="M702.5 445.3H711.3L711.6 435.3H702.8Z"/>
<path fill="#d9b76f" d="M710.7 445.3H719.5L719.9 435.3H711.0Z"/>
<path fill="#c08430" d="M718.9 445.3H727.7L728.1 435.3H719.3Z"/>
<path fill="#b17423" d="M727.1 445.3H736.0L736.4 435.3H727.5Z"/>
<path fill="#91560d" d="M735.4 445.3H744.2L744.7 435.3H735.8Z"/>
<path fill="#6e4007" d="M743.6 445.3H752.4L752.9 435.3H744.1Z"/>
<path fill="#894f0a" d="M751.8 445.3H760.6L761.2 435.3H752.3Z"/>
<path fill="#b97b29" d="M760.0 445.3H768.9L769.4 435.3H760.6Z"/>
<path fill="#c08430" d="M768.3 445.3H777.1L777.7 435.3H768.8Z"/>
<path fill="#f6ebcf" d="M776.5 445.3H785.3L785.9 435.3H777.1Z"/>
<path fill="#9dd9d0" d="M784.7 445.3H793.5L794.2 435.3H785.3Z"/>
<path fill="#e6f1f0" d="M792.9 445.3H801.8L802.5 435.3H793.6Z"/>
<path fill="#f5efde" d="M801.2 445.3H810.0L810.7 435.3H801.9Z"/>
<path fill="#f6edd7" d="M809.4 445.3H851.1L852.0 435.3H810.1Z"/>
<path fill="#f5efde" d="M850.5 445.3H867.6L868.5 435.3H851.4Z"/>
<path fill="#f5f1e6" d="M867.0 445.3H875.8L876.8 435.3H867.9Z"/>
<path fill="#f5efde" d="M875.2 445.3H884.0L885.0 435.3H876.2Z"/>
<path fill="#f6edd7" d="M883.4 445.3H892.3L893.3 435.3H884.4Z"/>
<path fill="#f5efde" d="M891.7 445.3H908.7L909.8 435.3H892.7Z"/>
<path fill="#f6ebcf" d="M908.1 445.3H916.9L918.0 435.3H909.2Z"/>
<path fill="#f4e5be" d="M916.3 445.3H925.2L926.3 435.3H917.4Z"/>
<path fill="#edd9a8" d="M924.6 445.3H941.6L942.8 435.3H925.7Z"/>
<path fill="#e9d39d" d="M941.0 445.3H958.1L959.3 435.3H942.2Z"/>
<path fill="#edd9a8" d="M957.5 445.3H966.3L967.6 435.3H958.7Z"/>
<path fill="#e9d39d" d="M965.7 445.3H1007.4L1008.9 435.3H967.0Z"/>
<path fill="#e6cd92" d="M1006.8 445.3H1015.6L1017.1 435.3H1008.3Z"/>
<path fill="#cfa256" d="M1015.0 445.3H1023.9L1025.4 435.3H1016.5Z"/>
<path fill="#b97b29" d="M1023.3 445.3H1032.1L1033.6 435.3H1024.8Z"/>
<path fill="#c58e3d" d="M1031.5 445.3H1040.3L1041.9 435.3H1033.0Z"/>
<path fill="#f6ebcf" d="M1039.7 445.3H1048.6L1050.2 435.3H1041.3Z"/>
<path fill="#def0ed" d="M1048.0 445.3H1065.0L1066.7 435.3H1049.6Z"/>
<path fill="#d7eeeb" d="M1064.4 445.3H1073.2L1074.9 435.3H1066.1Z"/>
<path fill="#419f97" d="M1072.6 445.3H1081.5L1083.2 435.3H1074.3Z"/>
<path fill="#003c30" d="M1080.9 445.3H1106.1L1108.0 435.3H1082.6Z"/>
<path fill="#d0ece8" d="M1105.5 445.3H1122.6L1124.5 435.3H1107.4Z"/>
<path fill="#c9eae6" d="M1122.0 445.3H1130.8L1132.7 435.3H1123.9Z"/>
<path fill="#a8ddd5" d="M1130.2 445.3H1147.3L1149.2 435.3H1132.1Z"/>
<path fill="#b4e2db" d="M1146.7 445.3H1155.5L1157.5 435.3H1148.6Z"/>
<path fill="#a8ddd5" d="M1154.9 445.3H1163.7L1165.8 435.3H1156.9Z"/>
<path fill="#b4e2db" d="M1163.1 445.3H1188.4L1190.5 435.3H1165.2Z"/>
<path fill="#a8ddd5" d="M1187.8 445.3H1196.6L1198.8 435.3H1189.9Z"/>
<path fill="#92d4ca" d="M1196.0 445.3H1204.8L1207.0 435.3H1198.2Z"/>
<path fill="#b4e2db" d="M1204.2 445.3H1213.1L1215.3 435.3H1206.4Z"/>
<path fill="#f1dfb3" d="M25.7 435.9H34.6L32.8 425.8H23.9Z"/>
<path fill="#d9b76f" d="M34.0 435.9H42.8L41.1 425.8H32.2Z"/>
<path fill="#e6cd92" d="M42.2 435.9H51.1L49.3 425.8H40.5Z"/>
<path fill="#edd9a8" d="M50.5 435.9H59.3L57.6 425.8H48.7Z"/>
<path fill="#f4e5be" d="M58.7 435.9H67.6L65.9 425.8H57.0Z"/>
<path fill="#edf3f2" d="M75.2 435.9H84.1L82.5 425.8H73.6Z"/>
<path fill="#f4f5f5" d="M83.5 435.9H92.4L90.7 425.8H81.9Z"/>
<path fill="#9dd9d0" d="M91.8 435.9H100.6L99.0 425.8H90.1Z"/>
<path fill="#7ccabe" d="M100.0 435.9H117.1L115.6 425.8H98.4Z"/>
<path fill="#87d0c5" d="M116.5 435.9H125.4L123.9 425.8H115.0Z"/>
<path fill="#9dd9d0" d="M124.8 435.9H133.6L132.2 425.8H123.3Z"/>
<path fill="#c9eae6" d="M133.0 435.9H141.9L140.4 425.8H131.6Z"/>
<path fill="#e6f1f0" d="M141.3 435.9H150.2L148.7 425.8H139.8Z"/>
<path fill="#f4f5f5" d="M149.6 435.9H158.4L157.0 425.8H148.1Z"/>
<path fill="#f5f1e6" d="M157.8 435.9H166.7L165.3 425.8H156.4Z"/>
<path fill="#f6ebcf" d="M166.1 435.9H183.2L181.9 425.8H164.7Z"/>
<path fill="#f5efde" d="M182.6 435.9H191.4L190.1 425.8H181.3Z"/>
<path fill="#f5efde" d="M364.2 435.9H373.1L372.3 425.8H363.5Z"/>
<path fill="#f6ebcf" d="M372.5 435.9H381.4L380.6 425.8H371.7Z"/>
<path fill="#f4e5be" d="M380.8 435.9H389.6L388.9 425.8H380.0Z"/>
<path fill="#f6edd7" d="M389.0 435.9H397.9L397.2 425.8H388.3Z"/>
<path fill="#c9eae6" d="M397.3 435.9H406.1L405.5 425.8H396.6Z"/>
<path fill="#a8ddd5" d="M405.5 435.9H414.4L413.7 425.8H404.9Z"/>
<path fill="#9dd9d0" d="M413.8 435.9H422.6L422.0 425.8H413.1Z"/>
<path fill="#92d4ca" d="M422.0 435.9H430.9L430.3 425.8H421.4Z"/>
<path fill="#87d0c5" d="M430.3 435.9H439.1L438.6 425.8H429.7Z"/>
<path fill="#1d8078" d="M438.5 435.9H447.4L446.9 425.8H438.0Z"/>
<path fill="#0c7169" d="M446.8 435.9H463.9L463.4 425.8H446.3Z"/>
<path fill="#003c30" d="M463.3 435.9H480.4L480.0 425.8H462.8Z"/>
<path fill="#258880" d="M479.8 435.9H488.7L488.3 425.8H479.4Z"/>
<path fill="#9dd9d0" d="M488.1 435.9H496.9L496.6 425.8H487.7Z"/>
<path fill="#d7eeeb" d="M496.3 435.9H505.2L504.9 425.8H496.0Z"/>
<path fill="#e6f1f0" d="M504.6 435.9H513.5L513.1 425.8H504.3Z"/>
<path fill="#f4f5f5" d="M512.9 435.9H530.0L529.7 425.8H512.5Z"/>
<path fill="#f4f5f5" d="M545.9 435.9H571.3L571.1 425.8H545.7Z"/>
<path fill="#f5f1e6" d="M595.4 435.9H604.3L604.2 425.8H595.4Z"/>
<path fill="#edf3f2" d="M653.2 435.9H662.1L662.2 425.8H653.3Z"/>
<path fill="#d0ece8" d="M661.5 435.9H670.3L670.5 425.8H661.6Z"/>
<path fill="#c9eae6" d="M669.7 435.9H678.6L678.8 425.8H669.9Z"/>
<path fill="#d0ece8" d="M678.0 435.9H686.9L687.1 425.8H678.2Z"/>
<path fill="#f4f5f5" d="M686.3 435.9H695.1L695.3 425.8H686.5Z"/>
<path fill="#f5efde" d="M694.5 435.9H703.4L703.6 425.8H694.7Z"/>
<path fill="#f6e9c7" d="M702.8 435.9H711.6L711.9 425.8H703.0Z"/>
<path fill="#cfa256" d="M711.0 435.9H719.9L720.2 425.8H711.3Z"/>
<path fill="#b17423" d="M719.3 435.9H728.1L728.5 425.8H719.6Z"/>
<path fill="#c08430" d="M727.5 435.9H736.4L736.7 425.8H727.9Z"/>
<path fill="#ca9849" d="M735.8 435.9H752.9L753.3 425.8H736.1Z"/>
<path fill="#dec17b" d="M752.3 435.9H761.2L761.6 425.8H752.7Z"/>
<path fill="#e9d39d" d="M760.6 435.9H769.4L769.9 425.8H761.0Z"/>
<path fill="#f4e5be" d="M768.8 435.9H777.7L778.2 425.8H769.3Z"/>
<path fill="#f4f5f5" d="M777.1 435.9H785.9L786.4 425.8H777.6Z"/>
<path fill="#9dd9d0" d="M785.3 435.9H794.2L794.7 425.8H785.8Z"/>
<path fill="#def0ed" d="M793.6 435.9H802.5L803.0 425.8H794.1Z"/>
<path fill="#f6edd7" d="M801.9 435.9H810.7L811.3 425.8H802.4Z"/>
<path fill="#f6ebcf" d="M810.1 435.9H819.0L819.6 425.8H810.7Z"/>
<path fill="#f6e9c7" d="M818.4 435.9H860.2L861.0 425.8H819.0Z"/>
<path fill="#f6ebcf" d="M859.6 435.9H868.5L869.3 425.8H860.4Z"/>
<path fill="#f6e9c7" d="M867.9 435.9H876.8L877.5 425.8H868.7Z"/>
<path fill="#e6cd92" d="M876.2 435.9H885.0L885.8 425.8H876.9Z"/>
<path fill="#dec17b" d="M884.4 435.9H893.3L894.1 425.8H885.2Z"/>
<path fill="#f4e5be" d="M892.7 435.9H909.8L910.7 425.8H893.5Z"/>
<path fill="#f1dfb3" d="M909.2 435.9H918.0L919.0 425.8H910.1Z"/>
<path fill="#edd9a8" d="M917.4 435.9H934.6L935.5 425.8H918.4Z"/>
<path fill="#e9d39d" d="M934.0 435.9H959.3L960.4 425.8H934.9Z"/>
<path fill="#e2c787" d="M958.7 435.9H967.6L968.6 425.8H959.8Z"/>
<path fill="#e6cd92" d="M967.0 435.9H975.8L976.9 425.8H968.0Z"/>
<path fill="#e2c787" d="M975.2 435.9H1000.6L1001.8 425.8H976.3Z"/>
<path fill="#d4ac62" d="M1000.0 435.9H1008.9L1010.1 425.8H1001.2Z"/>
<path fill="#ca9849" d="M1008.3 435.9H1017.1L1018.3 425.8H1009.5Z"/>
<path fill="#c08430" d="M1016.5 435.9H1025.4L1026.6 425.8H1017.7Z"/>
<path fill="#b97b29" d="M1024.8 435.9H1033.6L1034.9 425.8H1026.0Z"/>
<path fill="#cfa256" d="M1033.0 435.9H1041.9L1043.2 425.8H1034.3Z"/>
<path fill="#f6e9c7" d="M1041.3 435.9H1050.2L1051.5 425.8H1042.6Z"/>
<path fill="#f4f5f5" d="M1066.1 435.9H1074.9L1076.3 425.8H1067.4Z"/>
<path fill="#e6f1f0" d="M1074.3 435.9H1083.2L1084.6 425.8H1075.7Z"/>
<path fill="#003c30" d="M1082.6 435.9H1099.7L1101.2 425.8H1084.0Z"/>
<path fill="#003c30" d="M1099.1 435.9H1108.0L1109.4 425.8H1100.6Z"/>
<path fill="#d0ece8" d="M1107.4 435.9H1116.2L1117.7 425.8H1108.8Z"/>
<path fill="#bfe7e1" d="M1115.6 435.9H1124.5L1126.0 425.8H1117.1Z"/>
<path fill="#92d4ca" d="M1123.9 435.9H1132.7L1134.3 425.8H1125.4Z"/>
<path fill="#58b0a7" d="M1132.1 435.9H1141.0L1142.6 425.8H1133.7Z"/>
<path fill="#7ccabe" d="M1140.4 435.9H1149.2L1150.9 425.8H1142.0Z"/>
<path fill="#92d4ca" d="M1148.6 435.9H1157.5L1159.1 425.8H1150.3Z"/>
<path fill="#a8ddd5" d="M1156.9 435.9H1174.0L1175.7 425.8H1158.5Z"/>
<path fill="#b4e2db" d="M1173.4 435.9H1190.5L1192.3 425.8H1175.1Z"/>
<path fill="#bfe7e1" d="M1189.9 435.9H1198.8L1200.5 425.8H1191.7Z"/>
<path fill="#c9eae6" d="M1198.2 435.9H1207.0L1208.8 425.8H1199.9Z"/>
<path fill="#d0ece8" d="M1206.4 435.9H1215.3L1217.1 425.8H1208.2Z"/>
<path fill="#cfa256" d="M23.9 426.4H32.8L31.4 416.4H22.5Z"/>
<path fill="#804a09" d="M32.2 426.4H41.1L39.7 416.4H30.8Z"/>
<path fill="#c08430" d="M40.5 426.4H49.3L48.0 416.4H39.1Z"/>
<path fill="#f4f5f5" d="M57.0 426.4H65.9L64.6 416.4H55.7Z"/>
<path fill="#d7eeeb" d="M65.3 426.4H74.2L72.9 416.4H64.0Z"/>
<path fill="#92d4ca" d="M73.6 426.4H82.5L81.2 416.4H72.3Z"/>
<path fill="#58b0a7" d="M81.9 426.4H90.7L89.5 416.4H80.6Z"/>
<path fill="#70c1b6" d="M90.1 426.4H99.0L97.8 416.4H88.9Z"/>
<path fill="#7ccabe" d="M98.4 426.4H107.3L106.1 416.4H97.2Z"/>
<path fill="#92d4ca" d="M106.7 426.4H115.6L114.4 416.4H105.5Z"/>
<path fill="#bfe7e1" d="M115.0 426.4H123.9L122.7 416.4H113.8Z"/>
<path fill="#d0ece8" d="M123.3 426.4H132.2L131.0 416.4H122.1Z"/>
<path fill="#e6f1f0" d="M131.6 426.4H140.4L139.3 416.4H130.4Z"/>
<path fill="#f4f5f5" d="M139.8 426.4H148.7L147.6 416.4H138.7Z"/>
<path fill="#f5f1e6" d="M164.7 426.4H181.9L180.8 416.4H163.6Z"/>
<path fill="#f4f5f5" d="M230.9 426.4H248.1L247.2 416.4H230.0Z"/>
<path fill="#f5efde" d="M355.2 426.4H364.1L363.4 416.4H354.5Z"/>
<path fill="#f4e5be" d="M363.5 426.4H388.9L388.3 416.4H362.8Z"/>
<path fill="#f5efde" d="M388.3 426.4H397.2L396.6 416.4H387.7Z"/>
<path fill="#e6f1f0" d="M396.6 426.4H405.5L405.0 416.4H396.0Z"/>
<path fill="#def0ed" d="M404.9 426.4H413.7L413.3 416.4H404.4Z"/>
<path fill="#d7eeeb" d="M413.1 426.4H422.0L421.6 416.4H412.7Z"/>
<path fill="#d0ece8" d="M421.4 426.4H430.3L429.9 416.4H421.0Z"/>
<path fill="#bfe7e1" d="M429.7 426.4H438.6L438.2 416.4H429.3Z"/>
<path fill="#9dd9d0" d="M438.0 426.4H446.9L446.5 416.4H437.6Z"/>
<path fill="#35978f" d="M446.3 426.4H455.2L454.8 416.4H445.9Z"/>
<path fill="#01554b" d="M454.6 426.4H463.4L463.1 416.4H454.2Z"/>
<path fill="#004135" d="M462.8 426.4H471.7L471.4 416.4H462.5Z"/>
<path fill="#0c7169" d="M471.1 426.4H480.0L479.7 416.4H470.8Z"/>
<path fill="#9dd9d0" d="M479.4 426.4H488.3L488.0 416.4H479.1Z"/>
<path fill="#d7eeeb" d="M487.7 426.4H496.6L496.3 416.4H487.4Z"/>
<path fill="#edf3f2" d="M496.0 426.4H504.9L504.6 416.4H495.7Z"/>
<path fill="#f4f5f5" d="M504.3 426.4H571.1L571.0 416.4H504.0Z"/>
<path fill="#f4f5f5" d="M611.9 426.4H629.1L629.1 416.4H611.9Z"/>
<path fill="#e6f1f0" d="M653.3 426.4H662.2L662.3 416.4H653.4Z"/>
<path fill="#d0ece8" d="M661.6 426.4H670.5L670.6 416.4H661.7Z"/>
<path fill="#c9eae6" d="M669.9 426.4H678.8L678.9 416.4H670.0Z"/>
<path fill="#d7eeeb" d="M678.2 426.4H687.1L687.2 416.4H678.3Z"/>
<path fill="#edf3f2" d="M686.5 426.4H695.3L695.5 416.4H686.6Z"/>
<path fill="#f4f5f5" d="M694.7 426.4H703.6L703.8 416.4H694.9Z"/>
<path fill="#f5f1e6" d="M703.0 426.4H711.9L712.1 416.4H703.2Z"/>
<path fill="#f6ebcf" d="M711.3 426.4H720.2L720.4 416.4H711.5Z"/>
<path fill="#f6e9c7" d="M719.6 426.4H728.5L728.7 416.4H719.8Z"/>
<path fill="#f6edd7" d="M727.9 426.4H736.7L737.0 416.4H728.1Z"/>
<path fill="#f5f1e6" d="M736.1 426.4H745.0L745.3 416.4H736.4Z"/>
<path fill="#87d0c5" d="M744.4 426.4H753.3L753.6 416.4H744.7Z"/>
<path fill="#147870" d="M752.7 426.4H761.6L761.9 416.4H753.0Z"/>
<path fill="#edf3f2" d="M777.6 426.4H786.4L786.8 416.4H777.9Z"/>
<path fill="#9dd9d0" d="M785.8 426.4H794.7L795.1 416.4H786.2Z"/>
<path fill="#e6f1f0" d="M794.1 426.4H803.0L803.4 416.4H794.5Z"/>
<path fill="#f6ebcf" d="M802.4 426.4H811.3L811.7 416.4H802.8Z"/>
<path fill="#f4e5be" d="M810.7 426.4H819.6L820.0 416.4H811.1Z"/>
<path fill="#edd9a8" d="M819.0 426.4H877.5L878.2 416.4H819.4Z"/>
<path fill="#d9b76f" d="M876.9 426.4H885.8L886.5 416.4H877.6Z"/>
<path fill="#dec17b" d="M885.2 426.4H894.1L894.8 416.4H885.9Z"/>
<path fill="#e9d39d" d="M893.5 426.4H919.0L919.7 416.4H894.2Z"/>
<path fill="#edd9a8" d="M918.4 426.4H927.2L928.0 416.4H919.1Z"/>
<path fill="#e9d39d" d="M926.6 426.4H935.5L936.3 416.4H927.4Z"/>
<path fill="#dec17b" d="M934.9 426.4H943.8L944.6 416.4H935.7Z"/>
<path fill="#d4ac62" d="M943.2 426.4H952.1L952.9 416.4H944.0Z"/>
<path fill="#e2c787" d="M951.5 426.4H960.4L961.2 416.4H952.3Z"/>
<path fill="#ca9849" d="M959.8 426.4H976.9L977.8 416.4H960.6Z"/>
<path fill="#a96c1e" d="M976.3 426.4H993.5L994.4 416.4H977.2Z"/>
<path fill="#b17423" d="M992.9 426.4H1001.8L1002.7 416.4H993.8Z"/>
<path fill="#b97b29" d="M1001.2 426.4H1010.1L1011.0 416.4H1002.1Z"/>
<path fill="#c08430" d="M1009.5 426.4H1018.3L1019.3 416.4H1010.4Z"/>
<path fill="#c58e3d" d="M1017.7 426.4H1026.6L1027.6 416.4H1018.7Z"/>
<path fill="#dec17b" d="M1026.0 426.4H1034.9L1035.9 416.4H1027.0Z"/>
<path fill="#f4e5be" d="M1034.3 426.4H1043.2L1044.2 416.4H1035.3Z"/>
<path fill="#f6edd7" d="M1042.6 426.4H1059.7L1060.8 416.4H1043.6Z"/>
<path fill="#f6ebcf" d="M1059.1 426.4H1068.0L1069.1 416.4H1060.2Z"/>
<path fill="#f6edd7" d="M1067.4 426.4H1076.3L1077.4 416.4H1068.5Z"/>
<path fill="#f5f1e6" d="M1075.7 426.4H1084.6L1085.7 416.4H1076.8Z"/>
<path fill="#003c30" d="M1084.0 426.4H1101.2L1102.3 416.4H1085.1Z"/>
<path fill="#d0ece8" d="M1100.6 426.4H1109.4L1110.6 416.4H1101.7Z"/>
<path fill="#d7eeeb" d="M1108.8 426.4H1117.7L1118.9 416.4H1110.0Z"/>
<path fill="#87d0c5" d="M1117.1 426.4H1126.0L1127.2 416.4H1118.3Z"/>
<path fill="#4da89f" d="M1125.4 426.4H1134.3L1135.5 416.4H1126.6Z"/>
<path fill="#7ccabe" d="M1133.7 426.4H1142.6L1143.8 416.4H1134.9Z"/>
<path fill="#419f97" d="M1142.0 426.4H1150.9L1152.1 416.4H1143.2Z"/>
<path fill="#4da89f" d="M1150.3 426.4H1159.1L1160.4 416.4H1151.5Z"/>
<path fill="#a8ddd5" d="M1158.5 426.4H1175.7L1177.0 416.4H1159.8Z"/>
<path fill="#9dd9d0" d="M1175.1 426.4H1184.0L1185.3 416.4H1176.4Z"/>
<path fill="#58b0a7" d="M1183.4 426.4H1192.3L1193.6 416.4H1184.7Z"/>
<path fill="#9dd9d0" d="M1191.7 426.4H1200.5L1201.9 416.4H1193.0Z"/>
<path fill="#d0ece8" d="M1199.9 426.4H1208.8L1210.2 416.4H1201.3Z"/>
<path fill="#d7eeeb" d="M1208.2 426.4H1217.1L1218.5 416.4H1209.6Z"/>
<path fill="#e2c787" d="M22.5 417.0H31.4L30.3 406.9H21.4Z"/>
<path fill="#91560d" d="M30.8 417.0H39.7L38.6 406.9H29.7Z"/>
<path fill="#c08430" d="M39.1 417.0H48.0L46.9 406.9H38.0Z"/>
<path fill="#f5efde" d="M47.4 417.0H56.3L55.2 406.9H46.3Z"/>
<path fill="#bfe7e1" d="M55.7 417.0H64.6L63.5 406.9H54.6Z"/>
<path fill="#4da89f" d="M64.0 417.0H72.9L71.9 406.9H62.9Z"/>
<path fill="#0c7169" d="M72.3 417.0H81.2L80.2 406.9H71.3Z"/>
<path fill="#01554b" d="M80.6 417.0H89.5L88.5 406.9H79.6Z"/>
<path fill="#35978f" d="M88.9 417.0H97.8L96.8 406.9H87.9Z"/>
<path fill="#92d4ca" d="M97.2 417.0H106.1L105.1 406.9H96.2Z"/>
<path fill="#bfe7e1" d="M105.5 417.0H114.4L113.4 406.9H104.5Z"/>
<path fill="#d7eeeb" d="M113.8 417.0H122.7L121.8 406.9H112.8Z"/>
<path fill="#e6f1f0" d="M122.1 417.0H131.0L130.1 406.9H121.2Z"/>
<path fill="#edf3f2" d="M130.4 417.0H139.3L138.4 406.9H129.5Z"/>
<path fill="#f4f5f5" d="M230.0 417.0H247.2L246.5 406.9H229.3Z"/>
<path fill="#f5f1e6" d="M346.2 417.0H355.1L354.6 406.9H345.7Z"/>
<path fill="#f5efde" d="M354.5 417.0H363.4L363.0 406.9H354.0Z"/>
<path fill="#f6e9c7" d="M362.8 417.0H371.7L371.3 406.9H362.4Z"/>
<path fill="#e9d39d" d="M371.1 417.0H380.0L379.6 406.9H370.7Z"/>
<path fill="#f1dfb3" d="M379.4 417.0H388.3L387.9 406.9H379.0Z"/>
<path fill="#f4f5f5" d="M396.0 417.0H405.0L404.6 406.9H395.6Z"/>
<path fill="#f4f5f5" d="M412.7 417.0H421.6L421.2 406.9H412.3Z"/>
<path fill="#edf3f2" d="M421.0 417.0H429.9L429.5 406.9H420.6Z"/>
<path fill="#def0ed" d="M429.3 417.0H438.2L437.8 406.9H428.9Z"/>
<path fill="#a8ddd5" d="M437.6 417.0H446.5L446.1 406.9H437.2Z"/>
<path fill="#419f97" d="M445.9 417.0H454.8L454.5 406.9H445.5Z"/>
<path fill="#147870" d="M454.2 417.0H463.1L462.8 406.9H453.9Z"/>
<path fill="#1d8078" d="M462.5 417.0H471.4L471.1 406.9H462.2Z"/>
<path fill="#7ccabe" d="M470.8 417.0H479.7L479.4 406.9H470.5Z"/>
<path fill="#d0ece8" d="M479.1 417.0H488.0L487.7 406.9H478.8Z"/>
<path fill="#edf3f2" d="M487.4 417.0H496.3L496.0 406.9H487.1Z"/>
<path fill="#f4f5f5" d="M495.7 417.0H504.6L504.4 406.9H495.4Z"/>
<path fill="#f4f5f5" d="M528.9 417.0H571.0L570.9 406.9H528.7Z"/>
<path fill="#f4f5f5" d="M595.3 417.0H629.1L629.1 406.9H595.2Z"/>
<path fill="#f4f5f5" d="M645.1 417.0H654.0L654.1 406.9H645.2Z"/>
<path fill="#def0ed" d="M653.4 417.0H662.3L662.4 406.9H653.5Z"/>
<path fill="#b4e2db" d="M661.7 417.0H670.6L670.7 406.9H661.8Z"/>
<path fill="#87d0c5" d="M670.0 417.0H678.9L679.0 406.9H670.1Z"/>
<path fill="#d7eeeb" d="M678.3 417.0H687.2L687.3 406.9H678.4Z"/>
<path fill="#def0ed" d="M686.6 417.0H695.5L695.7 406.9H686.7Z"/>
<path fill="#edf3f2" d="M694.9 417.0H703.8L704.0 406.9H695.1Z"/>
<path fill="#f4f5f5" d="M703.2 417.0H712.1L712.3 406.9H703.4Z"/>
<path fill="#f4f5f5" d="M736.4 417.0H745.3L745.6 406.9H736.6Z"/>
<path fill="#edf3f2" d="M744.7 417.0H778.5L778.8 406.9H745.0Z"/>
<path fill="#f4f5f5" d="M777.9 417.0H795.1L795.5 406.9H778.2Z"/>
<path fill="#f5efde" d="M794.5 417.0H803.4L803.8 406.9H794.9Z"/>
<path fill="#f6e9c7" d="M802.8 417.0H811.7L812.1 406.9H803.2Z"/>
<path fill="#edd9a8" d="M811.1 417.0H820.0L820.4 406.9H811.5Z"/>
<path fill="#e9d39d" d="M819.4 417.0H828.3L828.7 406.9H819.8Z"/>
<path fill="#edd9a8" d="M827.7 417.0H845.0L845.4 406.9H828.1Z"/>
<path fill="#e9d39d" d="M844.4 417.0H869.9L870.3 406.9H844.8Z"/>
<path fill="#e6cd92" d="M869.3 417.0H878.2L878.6 406.9H869.7Z"/>
<path fill="#a96c1e" d="M877.6 417.0H886.5L887.0 406.9H878.0Z"/>
<path fill="#a16518" d="M885.9 417.0H894.8L895.3 406.9H886.4Z"/>
<path fill="#c58e3d" d="M894.2 417.0H903.1L903.6 406.9H894.7Z"/>
<path fill="#e9d39d" d="M902.5 417.0H911.4L911.9 406.9H903.0Z"/>
<path fill="#edd9a8" d="M910.8 417.0H928.0L928.5 406.9H911.3Z"/>
<path fill="#cfa256" d="M927.4 417.0H952.9L953.5 406.9H927.9Z"/>
<path fill="#a96c1e" d="M952.3 417.0H969.5L970.1 406.9H952.9Z"/>
<path fill="#c58e3d" d="M968.9 417.0H977.8L978.4 406.9H969.5Z"/>
<path fill="#d4ac62" d="M977.2 417.0H986.1L986.8 406.9H977.8Z"/>
<path fill="#d9b76f" d="M985.5 417.0H994.4L995.1 406.9H986.2Z"/>
<path fill="#e2c787" d="M993.8 417.0H1019.3L1020.0 406.9H994.5Z"/>
<path fill="#f1dfb3" d="M1018.7 417.0H1027.6L1028.3 406.9H1019.4Z"/>
<path fill="#f6edd7" d="M1027.0 417.0H1035.9L1036.7 406.9H1027.7Z"/>
<path fill="#f5efde" d="M1035.3 417.0H1044.2L1045.0 406.9H1036.1Z"/>
<path fill="#f6e9c7" d="M1043.6 417.0H1052.5L1053.3 406.9H1044.4Z"/>
<path fill="#edd9a8" d="M1051.9 417.0H1060.8L1061.6 406.9H1052.7Z"/>
<path fill="#e9d39d" d="M1060.2 417.0H1069.1L1069.9 406.9H1061.0Z"/>
<path fill="#e6cd92" d="M1068.5 417.0H1085.7L1086.6 406.9H1069.3Z"/>
<path fill="#e9d39d" d="M1085.1 417.0H1102.3L1103.2 406.9H1086.0Z"/>
<path fill="#f4e5be" d="M1101.7 417.0H1110.6L1111.5 406.9H1102.6Z"/>
<path fill="#d7eeeb" d="M1110.0 417.0H1118.9L1119.8 406.9H1110.9Z"/>
<path fill="#4da89f" d="M1118.3 417.0H1127.2L1128.2 406.9H1119.2Z"/>
<path fill="#64b9ae" d="M1126.6 417.0H1135.5L1136.5 406.9H1127.6Z"/>
<path fill="#00483d" d="M1134.9 417.0H1143.8L1144.8 406.9H1135.9Z"/>
<path fill="#046961" d="M1143.2 417.0H1152.1L1153.1 406.9H1144.2Z"/>
<path fill="#87d0c5" d="M1151.5 417.0H1160.4L1161.4 406.9H1152.5Z"/>
<path fill="#9dd9d0" d="M1159.8 417.0H1168.7L1169.7 406.9H1160.8Z"/>
<path fill="#003c30" d="M1168.1 417.0H1177.0L1178.1 406.9H1169.1Z"/>
<path fill="#003c30" d="M1176.4 417.0H1193.6L1194.7 406.9H1177.5Z"/>
<path fill="#419f97" d="M1193.0 417.0H1201.9L1203.0 406.9H1194.1Z"/>
<path fill="#d0ece8" d="M1201.3 417.0H1210.2L1211.3 406.9H1202.4Z"/>
<path fill="#def0ed" d="M1209.6 417.0H1218.5L1219.6 406.9H1210.7Z"/>
<path fill="#9dd9d0" d="M21.4 407.5H30.3L29.5 397.5H20.5Z"/>
<path fill="#edd9a8" d="M38.0 407.5H46.9L46.1 397.5H37.2Z"/>
<path fill="#e6f1f0" d="M46.3 407.5H55.2L54.5 397.5H45.5Z"/>
<path fill="#87d0c5" d="M54.6 407.5H63.5L62.8 397.5H53.9Z"/>
<path fill="#2d8f87" d="M62.9 407.5H71.9L71.1 397.5H62.2Z"/>
<path fill="#258880" d="M71.3 407.5H80.2L79.4 397.5H70.5Z"/>
<path fill="#2d8f87" d="M79.6 407.5H88.5L87.8 397.5H78.8Z"/>
<path fill="#35978f" d="M87.9 407.5H96.8L96.1 397.5H87.2Z"/>
<path fill="#92d4ca" d="M96.2 407.5H105.1L104.4 397.5H95.5Z"/>
<path fill="#d0ece8" d="M104.5 407.5H113.4L112.8 397.5H103.8Z"/>
<path fill="#e6f1f0" d="M112.8 407.5H121.8L121.1 397.5H112.2Z"/>
<path fill="#edf3f2" d="M121.2 407.5H130.1L129.4 397.5H120.5Z"/>
<path fill="#f4f5f5" d="M229.3 407.5H238.2L237.7 397.5H228.8Z"/>
<path fill="#f4f5f5" d="M279.2 407.5H304.7L304.3 397.5H278.7Z"/>
<path fill="#f4f5f5" d="M312.5 407.5H329.7L329.3 397.5H312.0Z"/>
<path fill="#f5f1e6" d="M345.7 407.5H363.0L362.6 397.5H345.4Z"/>
<path fill="#f5efde" d="M362.4 407.5H371.3L370.9 397.5H362.0Z"/>
<path fill="#e9d39d" d="M370.7 407.5H387.9L387.6 397.5H370.3Z"/>
<path fill="#f5efde" d="M387.3 407.5H396.2L395.9 397.5H387.0Z"/>
<path fill="#f6edd7" d="M395.6 407.5H404.6L404.3 397.5H395.3Z"/>
<path fill="#edd9a8" d="M404.0 407.5H412.9L412.6 397.5H403.7Z"/>
<path fill="#f4f5f5" d="M428.9 407.5H437.8L437.6 397.5H428.6Z"/>
<path fill="#d0ece8" d="M437.2 407.5H446.1L445.9 397.5H437.0Z"/>
<path fill="#7ccabe" d="M445.5 407.5H454.5L454.2 397.5H445.3Z"/>
<path fill="#58b0a7" d="M453.9 407.5H462.8L462.6 397.5H453.6Z"/>
<path fill="#92d4ca" d="M462.2 407.5H471.1L470.9 397.5H462.0Z"/>
<path fill="#d0ece8" d="M470.5 407.5H479.4L479.2 397.5H470.3Z"/>
<path fill="#e6f1f0" d="M478.8 407.5H487.7L487.5 397.5H478.6Z"/>
<path fill="#f4f5f5" d="M487.1 407.5H496.0L495.9 397.5H486.9Z"/>
<path fill="#f4f5f5" d="M537.0 407.5H570.9L570.8 397.5H536.9Z"/>
<path fill="#f4f5f5" d="M603.6 407.5H612.5L612.5 397.5H603.5Z"/>
<path fill="#f4f5f5" d="M636.8 407.5H645.8L645.8 397.5H636.9Z"/>
<path fill="#edf3f2" d="M645.2 407.5H654.1L654.1 397.5H645.2Z"/>
<path fill="#def0ed" d="M653.5 407.5H662.4L662.4 397.5H653.5Z"/>
<path fill="#d0ece8" d="M661.8 407.5H679.0L679.1 397.5H661.8Z"/>
<path fill="#d7eeeb" d="M678.4 407.5H695.7L695.8 397.5H678.5Z"/>
<path fill="#e6f1f0" d="M695.1 407.5H704.0L704.1 397.5H695.2Z"/>
<path fill="#edf3f2" d="M703.4 407.5H712.3L712.4 397.5H703.5Z"/>
<path fill="#f4f5f5" d="M711.7 407.5H720.6L720.7 397.5H711.8Z"/>
<path fill="#f4f5f5" d="M728.3 407.5H737.2L737.4 397.5H728.5Z"/>
<path fill="#edf3f2" d="M736.6 407.5H745.6L745.7 397.5H736.8Z"/>
<path fill="#def0ed" d="M745.0 407.5H753.9L754.1 397.5H745.1Z"/>
<path fill="#d7eeeb" d="M753.3 407.5H762.2L762.4 397.5H753.5Z"/>
<path fill="#def0ed" d="M761.6 407.5H770.5L770.7 397.5H761.8Z"/>
<path fill="#e6f1f0" d="M769.9 407.5H778.8L779.0 397.5H770.1Z"/>
<path fill="#f4f5f5" d="M778.2 407.5H787.1L787.4 397.5H778.4Z"/>
<path fill="#f6edd7" d="M794.9 407.5H803.8L804.0 397.5H795.1Z"/>
<path fill="#f4e5be" d="M803.2 407.5H812.1L812.4 397.5H803.4Z"/>
<path fill="#e9d39d" d="M811.5 407.5H820.4L820.7 397.5H811.8Z"/>
<path fill="#e6cd92" d="M819.8 407.5H828.7L829.0 397.5H820.1Z"/>
<path fill="#edd9a8" d="M828.1 407.5H837.0L837.3 397.5H828.4Z"/>
<path fill="#e2c787" d="M836.4 407.5H878.6L879.0 397.5H836.7Z"/>
<path fill="#995d13" d="M878.0 407.5H895.3L895.6 397.5H878.4Z"/>
<path fill="#c08430" d="M894.7 407.5H903.6L904.0 397.5H895.0Z"/>
<path fill="#edd9a8" d="M903.0 407.5H911.9L912.3 397.5H903.4Z"/>
<path fill="#f1dfb3" d="M911.3 407.5H920.2L920.6 397.5H911.7Z"/>
<path fill="#b97b29" d="M919.6 407.5H928.5L929.0 397.5H920.0Z"/>
<path fill="#804a09" d="M927.9 407.5H936.9L937.3 397.5H928.4Z"/>
<path fill="#91560d" d="M936.3 407.5H945.2L945.6 397.5H936.7Z"/>
<path fill="#b97b29" d="M944.6 407.5H961.8L962.3 397.5H945.0Z"/>
<path fill="#cfa256" d="M961.2 407.5H970.1L970.6 397.5H961.7Z"/>
<path fill="#edd9a8" d="M969.5 407.5H978.4L978.9 397.5H970.0Z"/>
<path fill="#f6ebcf" d="M977.8 407.5H986.8L987.3 397.5H978.3Z"/>
<path fill="#f6edd7" d="M986.2 407.5H995.1L995.6 397.5H986.7Z"/>
<path fill="#f5efde" d="M994.5 407.5H1003.4L1003.9 397.5H995.0Z"/>
<path fill="#804a09" d="M1002.8 407.5H1011.7L1012.2 397.5H1003.3Z"/>
<path fill="#016259" d="M1011.1 407.5H1020.0L1020.6 397.5H1011.6Z"/>
<path fill="#f5f1e6" d="M1019.4 407.5H1036.7L1037.2 397.5H1020.0Z"/>
<path fill="#f5efde" d="M1036.1 407.5H1045.0L1045.6 397.5H1036.6Z"/>
<path fill="#f4e5be" d="M1044.4 407.5H1053.3L1053.9 397.5H1045.0Z"/>
<path fill="#e6cd92" d="M1052.7 407.5H1069.9L1070.5 397.5H1053.3Z"/>
<path fill="#e2c787" d="M1069.3 407.5H1078.3L1078.9 397.5H1069.9Z"/>
<path fill="#dec17b" d="M1077.7 407.5H1086.6L1087.2 397.5H1078.3Z"/>
<path fill="#804a09" d="M1086.0 407.5H1094.9L1095.5 397.5H1086.6Z"/>
<path fill="#c58e3d" d="M1094.3 407.5H1103.2L1103.9 397.5H1094.9Z"/>
<path fill="#f1dfb3" d="M1102.6 407.5H1111.5L1112.2 397.5H1103.3Z"/>
<path fill="#d0ece8" d="M1110.9 407.5H1119.8L1120.5 397.5H1111.6Z"/>
<path fill="#4da89f" d="M1119.2 407.5H1128.2L1128.8 397.5H1119.9Z"/>
<path fill="#87d0c5" d="M1127.6 407.5H1136.5L1137.2 397.5H1128.2Z"/>
<path fill="#b4e2db" d="M1135.9 407.5H1153.1L1153.8 397.5H1136.6Z"/>
<path fill="#7ccabe" d="M1152.5 407.5H1161.4L1162.2 397.5H1153.2Z"/>
<path fill="#419f97" d="M1160.8 407.5H1169.7L1170.5 397.5H1161.6Z"/>
<path fill="#003c30" d="M1169.1 407.5H1186.4L1187.1 397.5H1169.9Z"/>
<path fill="#003c30" d="M1185.8 407.5H1194.7L1195.5 397.5H1186.5Z"/>
<path fill="#016259" d="M1194.1 407.5H1211.3L1212.1 397.5H1194.9Z"/>
<path fill="#015b52" d="M1210.7 407.5H1219.6L1220.5 397.5H1211.5Z"/>
<path fill="#01554b" d="M20.5 398.1H29.5L28.9 388.0H20.0Z"/>
<path fill="#4da89f" d="M28.9 398.1H37.8L37.3 388.0H28.3Z"/>
<path fill="#d0ece8" d="M37.2 398.1H46.1L45.6 388.0H36.7Z"/>
<path fill="#9dd9d0" d="M45.5 398.1H54.5L53.9 388.0H45.0Z"/>
<path fill="#92d4ca" d="M53.9 398.1H62.8L62.3 388.0H53.3Z"/>
<path fill="#87d0c5" d="M62.2 398.1H79.4L78.9 388.0H61.7Z"/>
<path fill="#92d4ca" d="M78.8 398.1H96.1L95.6 388.0H78.3Z"/>
<path fill="#9dd9d0" d="M95.5 398.1H104.4L104.0 388.0H95.0Z"/>
<path fill="#d7eeeb" d="M103.8 398.1H112.8L112.3 388.0H103.4Z"/>
<path fill="#edf3f2" d="M112.2 398.1H121.1L120.6 388.0H111.7Z"/>
<path fill="#f4f5f5" d="M120.5 398.1H129.4L129.0 388.0H120.0Z"/>
<path fill="#f4f5f5" d="M270.4 398.1H329.3L329.0 388.0H270.1Z"/>
<path fill="#f5f1e6" d="M345.4 398.1H362.6L362.4 388.0H345.1Z"/>
<path fill="#f6e9c7" d="M362.0 398.1H370.9L370.7 388.0H361.8Z"/>
<path fill="#b17423" d="M370.3 398.1H379.3L379.1 388.0H370.1Z"/>
<path fill="#e2c787" d="M378.7 398.1H395.9L395.7 388.0H378.5Z"/>
<path fill="#f1dfb3" d="M395.3 398.1H404.3L404.1 388.0H395.1Z"/>
<path fill="#f5f1e6" d="M403.7 398.1H412.6L412.4 388.0H403.5Z"/>
<path fill="#f5f1e6" d="M428.6 398.1H445.9L445.7 388.0H428.5Z"/>
<path fill="#f4f5f5" d="M445.3 398.1H462.6L462.4 388.0H445.1Z"/>
<path fill="#f5f1e6" d="M462.0 398.1H487.5L487.4 388.0H461.8Z"/>
<path fill="#f5efde" d="M486.9 398.1H537.5L537.4 388.0H486.8Z"/>
<path fill="#f5f1e6" d="M536.9 398.1H595.8L595.8 388.0H536.8Z"/>
<path fill="#f4f5f5" d="M628.5 398.1H637.5L637.5 388.0H628.5Z"/>
<path fill="#edf3f2" d="M636.9 398.1H645.8L645.8 388.0H636.9Z"/>
<path fill="#e6f1f0" d="M645.2 398.1H654.1L654.1 388.0H645.2Z"/>
<path fill="#d7eeeb" d="M653.5 398.1H662.4L662.5 388.0H653.5Z"/>
<path fill="#9dd9d0" d="M661.8 398.1H670.8L670.8 388.0H661.9Z"/>
<path fill="#d0ece8" d="M670.2 398.1H679.1L679.2 388.0H670.2Z"/>
<path fill="#def0ed" d="M678.5 398.1H695.8L695.8 388.0H678.6Z"/>
<path fill="#e6f1f0" d="M695.2 398.1H704.1L704.2 388.0H695.2Z"/>
<path fill="#edf3f2" d="M703.5 398.1H712.4L712.5 388.0H703.6Z"/>
<path fill="#f4f5f5" d="M711.8 398.1H729.1L729.2 388.0H711.9Z"/>
<path fill="#edf3f2" d="M728.5 398.1H737.4L737.5 388.0H728.6Z"/>
<path fill="#e6f1f0" d="M736.8 398.1H745.7L745.8 388.0H736.9Z"/>
<path fill="#d0ece8" d="M745.1 398.1H770.7L770.9 388.0H745.2Z"/>
<path fill="#def0ed" d="M770.1 398.1H779.0L779.2 388.0H770.3Z"/>
<path fill="#edf3f2" d="M778.4 398.1H787.4L787.5 388.0H778.6Z"/>
<path fill="#f5efde" d="M795.1 398.1H804.0L804.2 388.0H795.3Z"/>
<path fill="#f6ebcf" d="M803.4 398.1H812.4L812.5 388.0H803.6Z"/>
<path fill="#f1dfb3" d="M811.8 398.1H820.7L820.9 388.0H811.9Z"/>
<path fill="#e6cd92" d="M820.1 398.1H837.3L837.5 388.0H820.3Z"/>
<path fill="#f1dfb3" d="M836.7 398.1H862.3L862.5 388.0H836.9Z"/>
<path fill="#f4e5be" d="M861.7 398.1H887.3L887.6 388.0H861.9Z"/>
<path fill="#d9b76f" d="M886.7 398.1H920.6L920.9 388.0H887.0Z"/>
<path fill="#995d13" d="M920.0 398.1H929.0L929.2 388.0H920.3Z"/>
<path fill="#804a09" d="M928.4 398.1H937.3L937.6 388.0H928.6Z"/>
<path fill="#b97b29" d="M936.7 398.1H945.6L945.9 388.0H937.0Z"/>
<path fill="#dec17b" d="M945.0 398.1H953.9L954.2 388.0H945.3Z"/>
<path fill="#ca9849" d="M953.3 398.1H962.3L962.6 388.0H953.6Z"/>
<path fill="#dec17b" d="M961.7 398.1H970.6L970.9 388.0H962.0Z"/>
<path fill="#f6e9c7" d="M970.0 398.1H978.9L979.3 388.0H970.3Z"/>
<path fill="#f6edd7" d="M978.3 398.1H995.6L995.9 388.0H978.7Z"/>
<path fill="#f5f1e6" d="M995.0 398.1H1003.9L1004.3 388.0H995.3Z"/>
<path fill="#f5f1e6" d="M1020.0 398.1H1045.6L1045.9 388.0H1020.3Z"/>
<path fill="#f6edd7" d="M1045.0 398.1H1053.9L1054.3 388.0H1045.3Z"/>
<path fill="#f6e9c7" d="M1053.3 398.1H1062.2L1062.6 388.0H1053.7Z"/>
<path fill="#f1dfb3" d="M1061.6 398.1H1070.5L1071.0 388.0H1062.0Z"/>
<path fill="#e2c787" d="M1069.9 398.1H1078.9L1079.3 388.0H1070.4Z"/>
<path fill="#d4ac62" d="M1078.3 398.1H1087.2L1087.6 388.0H1078.7Z"/>
<path fill="#d9b76f" d="M1086.6 398.1H1095.5L1096.0 388.0H1087.0Z"/>
<path fill="#f6ebcf" d="M1094.9 398.1H1103.9L1104.3 388.0H1095.4Z"/>
<path fill="#def0ed" d="M1111.6 398.1H1120.5L1121.0 388.0H1112.0Z"/>
<path fill="#f4f5f5" d="M1119.9 398.1H1145.5L1146.0 388.0H1120.4Z"/>
<path fill="#b4e2db" d="M1153.2 398.1H1162.2L1162.7 388.0H1153.7Z"/>
<path fill="#015b52" d="M1161.6 398.1H1212.1L1212.7 388.0H1162.1Z"/>
<path fill="#016259" d="M1211.5 398.1H1220.5L1221.0 388.0H1212.1Z"/>
<path fill="#2d8f87" d="M20.0 388.6H28.9L28.6 378.6H19.7Z"/>
<path fill="#35978f" d="M28.3 388.6H45.6L45.3 378.6H28.0Z"/>
<path fill="#70c1b6" d="M45.0 388.6H53.9L53.7 378.6H44.7Z"/>
<path fill="#bfe7e1" d="M53.3 388.6H62.3L62.0 378.6H53.1Z"/>
<path fill="#c9eae6" d="M61.7 388.6H78.9L78.7 378.6H61.4Z"/>
<path fill="#d0ece8" d="M78.3 388.6H87.3L87.0 378.6H78.1Z"/>
<path fill="#d7eeeb" d="M86.7 388.6H95.6L95.4 378.6H86.4Z"/>
<path fill="#def0ed" d="M95.0 388.6H104.0L103.7 378.6H94.8Z"/>
<path fill="#edf3f2" d="M103.4 388.6H112.3L112.0 378.6H103.1Z"/>
<path fill="#f4f5f5" d="M111.7 388.6H120.6L120.4 378.6H111.4Z"/>
<path fill="#f4f5f5" d="M270.1 388.6H320.7L320.6 378.6H269.9Z"/>
<path fill="#f5f1e6" d="M328.4 388.6H345.7L345.6 378.6H328.3Z"/>
<path fill="#f5efde" d="M345.1 388.6H362.4L362.3 378.6H345.0Z"/>
<path fill="#f6ebcf" d="M361.8 388.6H370.7L370.6 378.6H361.7Z"/>
<path fill="#f1dfb3" d="M370.1 388.6H387.4L387.3 378.6H370.0Z"/>
<path fill="#edd9a8" d="M386.8 388.6H395.7L395.6 378.6H386.7Z"/>
<path fill="#f4e5be" d="M395.1 388.6H404.1L404.0 378.6H395.0Z"/>
<path fill="#f6edd7" d="M403.5 388.6H412.4L412.3 378.6H403.4Z"/>
<path fill="#f5efde" d="M411.8 388.6H429.1L429.0 378.6H411.7Z"/>
<path fill="#f4e5be" d="M428.5 388.6H437.4L437.3 378.6H428.4Z"/>
<path fill="#e2c787" d="M436.8 388.6H470.7L470.7 378.6H436.7Z"/>
<path fill="#edd9a8" d="M470.1 388.6H479.1L479.0 378.6H470.1Z"/>
<path fill="#f4e5be" d="M478.5 388.6H537.4L537.4 378.6H478.4Z"/>
<path fill="#f6e9c7" d="M536.8 388.6H579.1L579.1 378.6H536.8Z"/>
<path fill="#f6ebcf" d="M578.5 388.6H587.5L587.4 378.6H578.5Z"/>
<path fill="#f6edd7" d="M586.9 388.6H595.8L595.8 378.6H586.8Z"/>
<path fill="#f5f1e6" d="M595.2 388.6H604.1L604.1 378.6H595.2Z"/>
<path fill="#f4f5f5" d="M628.5 388.6H637.5L637.5 378.6H628.5Z"/>
<path fill="#edf3f2" d="M636.9 388.6H645.8L645.8 378.6H636.9Z"/>
<path fill="#def0ed" d="M645.2 388.6H662.5L662.5 378.6H645.2Z"/>
<path fill="#d0ece8" d="M661.9 388.6H670.8L670.8 378.6H661.9Z"/>
<path fill="#def0ed" d="M670.2 388.6H679.2L679.2 378.6H670.2Z"/>
<path fill="#e6f1f0" d="M678.6 388.6H695.8L695.9 378.6H678.6Z"/>
<path fill="#edf3f2" d="M695.2 388.6H704.2L704.2 378.6H695.3Z"/>
<path fill="#f4f5f5" d="M703.6 388.6H729.2L729.2 378.6H703.6Z"/>
<path fill="#e6f1f0" d="M728.6 388.6H737.5L737.6 378.6H728.6Z"/>
<path fill="#d7eeeb" d="M736.9 388.6H745.8L745.9 378.6H737.0Z"/>
<path fill="#2d8f87" d="M745.2 388.6H754.2L754.2 378.6H745.3Z"/>
<path fill="#d0ece8" d="M753.6 388.6H770.9L770.9 378.6H753.6Z"/>
<path fill="#def0ed" d="M770.3 388.6H779.2L779.3 378.6H770.3Z"/>
<path fill="#f4f5f5" d="M778.6 388.6H787.5L787.6 378.6H778.7Z"/>
<path fill="#f5efde" d="M795.3 388.6H804.2L804.3 378.6H795.3Z"/>
<path fill="#f6ebcf" d="M803.6 388.6H812.5L812.6 378.6H803.7Z"/>
<path fill="#e6cd92" d="M811.9 388.6H820.9L821.0 378.6H812.0Z"/>
<path fill="#e9d39d" d="M820.3 388.6H829.2L829.3 378.6H820.4Z"/>
<path fill="#f1dfb3" d="M828.6 388.6H837.5L837.6 378.6H828.7Z"/>
<path fill="#f4e5be" d="M836.9 388.6H870.9L871.0 378.6H837.0Z"/>
<path fill="#f6e9c7" d="M870.3 388.6H895.9L896.0 378.6H870.4Z"/>
<path fill="#cfa256" d="M895.3 388.6H904.2L904.4 378.6H895.4Z"/>
<path fill="#91560d" d="M903.6 388.6H912.6L912.7 378.6H903.8Z"/>
<path fill="#5d3506" d="M912.0 388.6H920.9L921.0 378.6H912.1Z"/>
<path fill="#894f0a" d="M920.3 388.6H929.2L929.4 378.6H920.5Z"/>
<path fill="#a96c1e" d="M928.6 388.6H937.6L937.7 378.6H928.8Z"/>
<path fill="#ca9849" d="M937.0 388.6H945.9L946.1 378.6H937.1Z"/>
<path fill="#dec17b" d="M945.3 388.6H954.2L954.4 378.6H945.5Z"/>
<path fill="#e2c787" d="M953.6 388.6H962.6L962.8 378.6H953.8Z"/>
<path fill="#f1dfb3" d="M962.0 388.6H970.9L971.1 378.6H962.2Z"/>
<path fill="#f6e9c7" d="M970.3 388.6H987.6L987.8 378.6H970.5Z"/>
<path fill="#f5efde" d="M987.0 388.6H995.9L996.1 378.6H987.2Z"/>
<path fill="#92d4ca" d="M995.3 388.6H1004.3L1004.5 378.6H995.5Z"/>
<path fill="#f5efde" d="M1003.7 388.6H1012.6L1012.8 378.6H1003.9Z"/>
<path fill="#f6ebcf" d="M1012.0 388.6H1020.9L1021.1 378.6H1012.2Z"/>
<path fill="#f6edd7" d="M1020.3 388.6H1029.3L1029.5 378.6H1020.5Z"/>
<path fill="#f5efde" d="M1028.7 388.6H1037.6L1037.8 378.6H1028.9Z"/>
<path fill="#f5f1e6" d="M1037.0 388.6H1062.6L1062.8 378.6H1037.2Z"/>
<path fill="#f1dfb3" d="M1062.0 388.6H1071.0L1071.2 378.6H1062.2Z"/>
<path fill="#d4ac62" d="M1070.4 388.6H1079.3L1079.5 378.6H1070.6Z"/>
<path fill="#dec17b" d="M1078.7 388.6H1087.6L1087.9 378.6H1078.9Z"/>
<path fill="#f5efde" d="M1087.0 388.6H1096.0L1096.2 378.6H1087.3Z"/>
<path fill="#edf3f2" d="M1095.4 388.6H1104.3L1104.5 378.6H1095.6Z"/>
<path fill="#e6f1f0" d="M1103.7 388.6H1112.6L1112.9 378.6H1103.9Z"/>
<path fill="#edf3f2" d="M1112.0 388.6H1121.0L1121.2 378.6H1112.3Z"/>
<path fill="#f6e9c7" d="M1120.4 388.6H1129.3L1129.6 378.6H1120.6Z"/>
<path fill="#f6ebcf" d="M1128.7 388.6H1154.3L1154.6 378.6H1129.0Z"/>
<path fill="#d7eeeb" d="M1162.1 388.6H1171.0L1171.3 378.6H1162.3Z"/>
<path fill="#70c1b6" d="M1170.4 388.6H1179.3L1179.6 378.6H1170.7Z"/>
<path fill="#64b9ae" d="M1178.7 388.6H1187.7L1187.9 378.6H1179.0Z"/>
<path fill="#d7eeeb" d="M1187.1 388.6H1196.0L1196.3 378.6H1187.3Z"/>
<path fill="#9dd9d0" d="M1195.4 388.6H1204.3L1204.6 378.6H1195.7Z"/>
<path fill="#35978f" d="M1203.7 388.6H1221.0L1221.3 378.6H1204.0Z"/>
<path fill="#92d4ca" d="M19.7 379.2H28.6L28.9 369.2H20.0Z"/>
<path fill="#87d0c5" d="M28.0 379.2H37.0L37.3 369.2H28.3Z"/>
<path fill="#bfe7e1" d="M36.4 379.2H45.3L45.6 369.2H36.7Z"/>
<path fill="#def0ed" d="M44.7 379.2H53.7L53.9 369.2H45.0Z"/>
<path fill="#edf3f2" d="M53.1 379.2H62.0L62.3 369.2H53.3Z"/>
<path fill="#f4f5f5" d="M61.4 379.2H70.3L70.6 369.2H61.7Z"/>
<path fill="#edf3f2" d="M69.7 379.2H87.0L87.3 369.2H70.0Z"/>
<path fill="#f4f5f5" d="M86.4 379.2H120.4L120.6 369.2H86.7Z"/>
<path fill="#f5f1e6" d="M228.2 379.2H245.5L245.7 369.2H228.4Z"/>
<path fill="#f4f5f5" d="M278.2 379.2H303.9L304.0 369.2H278.4Z"/>
<path fill="#f5efde" d="M319.9 379.2H328.9L329.0 369.2H320.1Z"/>
<path fill="#f6ebcf" d="M328.3 379.2H337.2L337.4 369.2H328.4Z"/>
<path fill="#f6e9c7" d="M336.6 379.2H353.9L354.0 369.2H336.8Z"/>
<path fill="#f4e5be" d="M353.3 379.2H412.3L412.4 369.2H353.4Z"/>
<path fill="#f6ebcf" d="M411.7 379.2H420.6L420.7 369.2H411.8Z"/>
<path fill="#f6edd7" d="M420.0 379.2H429.0L429.1 369.2H420.1Z"/>
<path fill="#f6e9c7" d="M428.4 379.2H437.3L437.4 369.2H428.5Z"/>
<path fill="#f1dfb3" d="M436.7 379.2H445.7L445.7 369.2H436.8Z"/>
<path fill="#cfa256" d="M445.1 379.2H454.0L454.1 369.2H445.1Z"/>
<path fill="#b17423" d="M453.4 379.2H470.7L470.7 369.2H453.5Z"/>
<path fill="#c08430" d="M470.1 379.2H479.0L479.1 369.2H470.1Z"/>
<path fill="#c58e3d" d="M478.4 379.2H487.4L487.4 369.2H478.5Z"/>
<path fill="#b97b29" d="M486.8 379.2H495.7L495.8 369.2H486.8Z"/>
<path fill="#a96c1e" d="M495.1 379.2H504.0L504.1 369.2H495.2Z"/>
<path fill="#c58e3d" d="M503.4 379.2H512.4L512.4 369.2H503.5Z"/>
<path fill="#d4ac62" d="M511.8 379.2H562.4L562.4 369.2H511.8Z"/>
<path fill="#d9b76f" d="M561.8 379.2H570.8L570.8 369.2H561.8Z"/>
<path fill="#f6e9c7" d="M570.2 379.2H579.1L579.1 369.2H570.2Z"/>
<path fill="#f6ebcf" d="M578.5 379.2H645.8L645.8 369.2H578.5Z"/>
<path fill="#e6f1f0" d="M645.2 379.2H654.2L654.1 369.2H645.2Z"/>
<path fill="#def0ed" d="M653.6 379.2H662.5L662.5 369.2H653.5Z"/>
<path fill="#e6f1f0" d="M661.9 379.2H670.8L670.8 369.2H661.9Z"/>
<path fill="#edf3f2" d="M670.2 379.2H679.2L679.2 369.2H670.2Z"/>
<path fill="#f4f5f5" d="M678.6 379.2H720.9L720.8 369.2H678.6Z"/>
<path fill="#edf3f2" d="M720.3 379.2H729.2L729.2 369.2H720.2Z"/>
<path fill="#def0ed" d="M728.6 379.2H737.6L737.5 369.2H728.6Z"/>
<path fill="#d0ece8" d="M737.0 379.2H745.9L745.8 369.2H736.9Z"/>
<path fill="#7ccabe" d="M745.3 379.2H754.2L754.2 369.2H745.2Z"/>
<path fill="#c9eae6" d="M753.6 379.2H762.6L762.5 369.2H753.6Z"/>
<path fill="#d7eeeb" d="M762.0 379.2H770.9L770.9 369.2H761.9Z"/>
<path fill="#e6f1f0" d="M770.3 379.2H779.3L779.2 369.2H770.3Z"/>
<path fill="#f4f5f5" d="M778.7 379.2H787.6L787.5 369.2H778.6Z"/>
<path fill="#f5f1e6" d="M795.3 379.2H804.3L804.2 369.2H795.3Z"/>
<path fill="#f5efde" d="M803.7 379.2H812.6L812.5 369.2H803.6Z"/>
<path fill="#f6edd7" d="M812.0 379.2H821.0L820.9 369.2H811.9Z"/>
<path fill="#f6ebcf" d="M820.4 379.2H837.6L837.5 369.2H820.3Z"/>
<path fill="#f6e9c7" d="M837.0 379.2H846.0L845.9 369.2H836.9Z"/>
<path fill="#f4e5be" d="M845.4 379.2H871.0L870.9 369.2H845.3Z"/>
<path fill="#f6e9c7" d="M870.4 379.2H879.3L879.2 369.2H870.3Z"/>
<path fill="#f4e5be" d="M878.7 379.2H887.7L887.6 369.2H878.6Z"/>
<path fill="#d9b76f" d="M887.1 379.2H937.7L937.6 369.2H887.0Z"/>
<path fill="#dec17b" d="M937.1 379.2H946.1L945.9 369.2H937.0Z"/>
<path fill="#e9d39d" d="M945.5 379.2H954.4L954.2 369.2H945.3Z"/>
<path fill="#f1dfb3" d="M953.8 379.2H971.1L970.9 369.2H953.6Z"/>
<path fill="#edd9a8" d="M970.5 379.2H987.8L987.6 369.2H970.3Z"/>
<path fill="#f6e9c7" d="M987.2 379.2H996.1L995.9 369.2H987.0Z"/>
<path fill="#f6edd7" d="M995.5 379.2H1004.5L1004.3 369.2H995.3Z"/>
<path fill="#e6cd92" d="M1003.9 379.2H1012.8L1012.6 369.2H1003.7Z"/>
<path fill="#edd9a8" d="M1012.2 379.2H1021.1L1020.9 369.2H1012.0Z"/>
<path fill="#f4e5be" d="M1020.5 379.2H1029.5L1029.3 369.2H1020.3Z"/>
<path fill="#f6e9c7" d="M1028.9 379.2H1037.8L1037.6 369.2H1028.7Z"/>
<path fill="#f6edd7" d="M1037.2 379.2H1046.2L1045.9 369.2H1037.0Z"/>
<path fill="#f5f1e6" d="M1045.6 379.2H1054.5L1054.3 369.2H1045.3Z"/>
<path fill="#f5efde" d="M1062.2 379.2H1071.2L1071.0 369.2H1062.0Z"/>
<path fill="#f6ebcf" d="M1070.6 379.2H1079.5L1079.3 369.2H1070.4Z"/>
<path fill="#f5efde" d="M1078.9 379.2H1087.9L1087.6 369.2H1078.7Z"/>
<path fill="#f4f5f5" d="M1095.6 379.2H1121.2L1121.0 369.2H1095.4Z"/>
<path fill="#f5f1e6" d="M1137.3 379.2H1146.2L1146.0 369.2H1137.0Z"/>
<path fill="#f5efde" d="M1145.6 379.2H1154.6L1154.3 369.2H1145.4Z"/>
<path fill="#f6edd7" d="M1154.0 379.2H1171.3L1171.0 369.2H1153.7Z"/>
<path fill="#f6ebcf" d="M1170.7 379.2H1196.3L1196.0 369.2H1170.4Z"/>
<path fill="#f5efde" d="M1195.7 379.2H1204.6L1204.3 369.2H1195.4Z"/>
<path fill="#e6f1f0" d="M1204.0 379.2H1213.0L1212.7 369.2H1203.7Z"/>
<path fill="#d0ece8" d="M1212.4 379.2H1221.3L1221.0 369.2H1212.1Z"/>
<path fill="#9dd9d0" d="M20.0 369.8H37.3L37.8 359.7H20.5Z"/>
<path fill="#bfe7e1" d="M36.7 369.8H45.6L46.1 359.7H37.2Z"/>
<path fill="#def0ed" d="M45.0 369.8H53.9L54.5 359.7H45.5Z"/>
<path fill="#f4f5f5" d="M53.3 369.8H87.3L87.8 359.7H53.9Z"/>
<path fill="#f5f1e6" d="M136.7 369.8H145.6L146.1 359.7H137.1Z"/>
<path fill="#f6edd7" d="M145.0 369.8H187.3L187.7 359.7H145.5Z"/>
<path fill="#f6ebcf" d="M186.7 369.8H195.7L196.0 359.7H187.1Z"/>
<path fill="#f6edd7" d="M195.1 369.8H204.0L204.4 359.7H195.4Z"/>
<path fill="#f5efde" d="M203.4 369.8H237.3L237.7 359.7H203.8Z"/>
<path fill="#f6edd7" d="M236.7 369.8H245.7L246.0 359.7H237.1Z"/>
<path fill="#f5efde" d="M245.1 369.8H295.7L296.0 359.7H245.4Z"/>
<path fill="#f5f1e6" d="M295.1 369.8H304.0L304.3 359.7H295.4Z"/>
<path fill="#f5f1e6" d="M311.8 369.8H320.7L321.0 359.7H312.0Z"/>
<path fill="#f6ebcf" d="M320.1 369.8H329.0L329.3 359.7H320.4Z"/>
<path fill="#f1dfb3" d="M328.4 369.8H337.4L337.6 359.7H328.7Z"/>
<path fill="#edd9a8" d="M336.8 369.8H354.0L354.3 359.7H337.0Z"/>
<path fill="#f1dfb3" d="M353.4 369.8H395.7L395.9 359.7H353.7Z"/>
<path fill="#f4e5be" d="M395.1 369.8H404.1L404.3 359.7H395.3Z"/>
<path fill="#f6e9c7" d="M403.5 369.8H412.4L412.6 359.7H403.7Z"/>
<path fill="#f6edd7" d="M411.8 369.8H420.7L420.9 359.7H412.0Z"/>
<path fill="#f5efde" d="M420.1 369.8H429.1L429.2 359.7H420.3Z"/>
<path fill="#f6ebcf" d="M428.5 369.8H437.4L437.6 359.7H428.6Z"/>
<path fill="#f6e9c7" d="M436.8 369.8H445.7L445.9 359.7H437.0Z"/>
<path fill="#f1dfb3" d="M445.1 369.8H454.1L454.2 359.7H445.3Z"/>
<path fill="#d9b76f" d="M453.5 369.8H462.4L462.6 359.7H453.6Z"/>
<path fill="#cfa256" d="M461.8 369.8H470.7L470.9 359.7H462.0Z"/>
<path fill="#b17423" d="M470.1 369.8H479.1L479.2 359.7H470.3Z"/>
<path fill="#a96c1e" d="M478.5 369.8H487.4L487.5 359.7H478.6Z"/>
<path fill="#c08430" d="M486.8 369.8H495.8L495.9 359.7H486.9Z"/>
<path fill="#cfa256" d="M495.2 369.8H504.1L504.2 359.7H495.3Z"/>
<path fill="#d9b76f" d="M503.5 369.8H554.1L554.2 359.7H503.6Z"/>
<path fill="#d4ac62" d="M553.5 369.8H562.4L562.5 359.7H553.6Z"/>
<path fill="#dec17b" d="M561.8 369.8H570.8L570.8 359.7H561.9Z"/>
<path fill="#f4e5be" d="M570.2 369.8H579.1L579.2 359.7H570.2Z"/>
<path fill="#f6e9c7" d="M578.5 369.8H587.5L587.5 359.7H578.6Z"/>
<path fill="#f6ebcf" d="M586.9 369.8H595.8L595.8 359.7H586.9Z"/>
<path fill="#f5efde" d="M595.2 369.8H604.1L604.1 359.7H595.2Z"/>
<path fill="#f5f1e6" d="M603.5 369.8H612.5L612.5 359.7H603.5Z"/>
<path fill="#edf3f2" d="M645.2 369.8H670.8L670.8 359.7H645.2Z"/>
<path fill="#f4f5f5" d="M670.2 369.8H720.8L720.7 359.7H670.2Z"/>
<path fill="#e6f1f0" d="M720.2 369.8H729.2L729.1 359.7H720.1Z"/>
<path fill="#d7eeeb" d="M728.6 369.8H737.5L737.4 359.7H728.5Z"/>
<path fill="#d0ece8" d="M736.9 369.8H745.8L745.7 359.7H736.8Z"/>
<path fill="#87d0c5" d="M745.2 369.8H754.2L754.1 359.7H745.1Z"/>
<path fill="#c9eae6" d="M753.6 369.8H762.5L762.4 359.7H753.5Z"/>
<path fill="#def0ed" d="M761.9 369.8H770.9L770.7 359.7H761.8Z"/>
<path fill="#edf3f2" d="M770.3 369.8H779.2L779.0 359.7H770.1Z"/>
<path fill="#f4f5f5" d="M778.6 369.8H787.5L787.4 359.7H778.4Z"/>
<path fill="#f4f5f5" d="M811.9 369.8H820.9L820.7 359.7H811.8Z"/>
<path fill="#f5efde" d="M828.6 369.8H837.5L837.3 359.7H828.4Z"/>
<path fill="#f6ebcf" d="M836.9 369.8H845.9L845.7 359.7H836.7Z"/>
<path fill="#f6e9c7" d="M845.3 369.8H854.2L854.0 359.7H845.1Z"/>
<path fill="#f4e5be" d="M853.6 369.8H870.9L870.7 359.7H853.4Z"/>
<path fill="#f6e9c7" d="M870.3 369.8H879.2L879.0 359.7H870.1Z"/>
<path fill="#f4e5be" d="M878.6 369.8H887.6L887.3 359.7H878.4Z"/>
<path fill="#d9b76f" d="M887.0 369.8H895.9L895.6 359.7H886.7Z"/>
<path fill="#a96c1e" d="M895.3 369.8H912.6L912.3 359.7H895.0Z"/>
<path fill="#d9b76f" d="M912.0 369.8H920.9L920.6 359.7H911.7Z"/>
<path fill="#f1dfb3" d="M920.3 369.8H962.6L962.3 359.7H920.0Z"/>
<path fill="#e9d39d" d="M962.0 369.8H970.9L970.6 359.7H961.7Z"/>
<path fill="#e6cd92" d="M970.3 369.8H979.3L978.9 359.7H970.0Z"/>
<path fill="#c08430" d="M978.7 369.8H987.6L987.3 359.7H978.3Z"/>
<path fill="#cfa256" d="M987.0 369.8H995.9L995.6 359.7H986.7Z"/>
<path fill="#894f0a" d="M995.3 369.8H1004.3L1003.9 359.7H995.0Z"/>
<path fill="#91560d" d="M1003.7 369.8H1012.6L1012.2 359.7H1003.3Z"/>
<path fill="#d9b76f" d="M1012.0 369.8H1020.9L1020.6 359.7H1011.6Z"/>
<path fill="#b17423" d="M1020.3 369.8H1037.6L1037.2 359.7H1020.0Z"/>
<path fill="#f1dfb3" d="M1037.0 369.8H1045.9L1045.6 359.7H1036.6Z"/>
<path fill="#f5efde" d="M1045.3 369.8H1071.0L1070.5 359.7H1045.0Z"/>
<path fill="#f4f5f5" d="M1070.4 369.8H1112.6L1112.2 359.7H1069.9Z"/>
<path fill="#f6e9c7" d="M1120.4 369.8H1129.3L1128.8 359.7H1119.9Z"/>
<path fill="#f4e5be" d="M1128.7 369.8H1137.6L1137.2 359.7H1128.2Z"/>
<path fill="#f1dfb3" d="M1137.0 369.8H1146.0L1145.5 359.7H1136.6Z"/>
<path fill="#d4ac62" d="M1145.4 369.8H1154.3L1153.8 359.7H1144.9Z"/>
<path fill="#b97b29" d="M1153.7 369.8H1171.0L1170.5 359.7H1153.2Z"/>
<path fill="#b17423" d="M1170.4 369.8H1187.7L1187.1 359.7H1169.9Z"/>
<path fill="#d9b76f" d="M1187.1 369.8H1196.0L1195.5 359.7H1186.5Z"/>
<path fill="#f6ebcf" d="M1195.4 369.8H1204.3L1203.8 359.7H1194.9Z"/>
<path fill="#d7eeeb" d="M1203.7 369.8H1212.7L1212.1 359.7H1203.2Z"/>
<path fill="#bfe7e1" d="M1212.1 369.8H1221.0L1220.5 359.7H1211.5Z"/>
<path fill="#70c1b6" d="M20.5 360.3H29.5L30.3 350.3H21.4Z"/>
<path fill="#87d0c5" d="M28.9 360.3H37.8L38.6 350.3H29.7Z"/>
<path fill="#c9eae6" d="M37.2 360.3H46.1L46.9 350.3H38.0Z"/>
<path fill="#e6f1f0" d="M45.5 360.3H54.5L55.2 350.3H46.3Z"/>
<path fill="#f4f5f5" d="M53.9 360.3H71.1L71.9 350.3H54.6Z"/>
<path fill="#f6edd7" d="M78.8 360.3H87.8L88.5 350.3H79.6Z"/>
<path fill="#f6e9c7" d="M87.2 360.3H96.1L96.8 350.3H87.9Z"/>
<path fill="#e6cd92" d="M95.5 360.3H104.4L105.1 350.3H96.2Z"/>
<path fill="#f4e5be" d="M103.8 360.3H121.1L121.8 350.3H104.5Z"/>
<path fill="#f6e9c7" d="M120.5 360.3H129.4L130.1 350.3H121.2Z"/>
<path fill="#f6edd7" d="M128.8 360.3H137.7L138.4 350.3H129.5Z"/>
<path fill="#f4e5be" d="M137.1 360.3H146.1L146.7 350.3H137.8Z"/>
<path fill="#e9d39d" d="M145.5 360.3H162.7L163.3 350.3H146.1Z"/>
<path fill="#e6cd92" d="M162.1 360.3H179.4L180.0 350.3H162.7Z"/>
<path fill="#e2c787" d="M178.8 360.3H196.0L196.6 350.3H179.4Z"/>
<path fill="#e9d39d" d="M195.4 360.3H204.4L204.9 350.3H196.0Z"/>
<path fill="#f1dfb3" d="M203.8 360.3H212.7L213.3 350.3H204.3Z"/>
<path fill="#f4e5be" d="M212.1 360.3H262.7L263.2 350.3H212.7Z"/>
<path fill="#e6cd92" d="M262.1 360.3H271.0L271.5 350.3H262.6Z"/>
<path fill="#e2c787" d="M270.4 360.3H287.7L288.1 350.3H270.9Z"/>
<path fill="#e9d39d" d="M287.1 360.3H296.0L296.4 350.3H287.5Z"/>
<path fill="#f6ebcf" d="M295.4 360.3H304.3L304.7 350.3H295.8Z"/>
<path fill="#f5efde" d="M303.7 360.3H312.6L313.1 350.3H304.1Z"/>
<path fill="#f5f1e6" d="M312.0 360.3H321.0L321.4 350.3H312.5Z"/>
<path fill="#f6ebcf" d="M320.4 360.3H329.3L329.7 350.3H320.8Z"/>
<path fill="#e6cd92" d="M328.7 360.3H337.6L338.0 350.3H329.1Z"/>
<path fill="#e2c787" d="M337.0 360.3H362.6L363.0 350.3H337.4Z"/>
<path fill="#f4e5be" d="M362.0 360.3H370.9L371.3 350.3H362.4Z"/>
<path fill="#f6e9c7" d="M370.3 360.3H379.3L379.6 350.3H370.7Z"/>
<path fill="#f6ebcf" d="M378.7 360.3H395.9L396.2 350.3H379.0Z"/>
<path fill="#f6edd7" d="M395.3 360.3H404.3L404.6 350.3H395.6Z"/>
<path fill="#f5efde" d="M403.7 360.3H412.6L412.9 350.3H404.0Z"/>
<path fill="#f5f1e6" d="M412.0 360.3H420.9L421.2 350.3H412.3Z"/>
<path fill="#f5f1e6" d="M428.6 360.3H470.9L471.1 350.3H428.9Z"/>
<path fill="#f5efde" d="M470.3 360.3H487.5L487.7 350.3H470.5Z"/>
<path fill="#f6edd7" d="M486.9 360.3H504.2L504.4 350.3H487.1Z"/>
<path fill="#f5efde" d="M503.6 360.3H537.5L537.6 350.3H503.8Z"/>
<path fill="#f4f5f5" d="M545.2 360.3H554.2L554.3 350.3H545.3Z"/>
<path fill="#f5efde" d="M561.9 360.3H587.5L587.5 350.3H562.0Z"/>
<path fill="#f5f1e6" d="M586.9 360.3H595.8L595.8 350.3H586.9Z"/>
<path fill="#f4f5f5" d="M611.9 360.3H629.1L629.1 350.3H611.9Z"/>
<path fill="#f4f5f5" d="M645.2 360.3H712.4L712.3 350.3H645.2Z"/>
<path fill="#edf3f2" d="M711.8 360.3H720.7L720.6 350.3H711.7Z"/>
<path fill="#def0ed" d="M720.1 360.3H729.1L728.9 350.3H720.0Z"/>
<path fill="#d7eeeb" d="M728.5 360.3H737.4L737.2 350.3H728.3Z"/>
<path fill="#d0ece8" d="M736.8 360.3H745.7L745.6 350.3H736.6Z"/>
<path fill="#87d0c5" d="M745.1 360.3H754.1L753.9 350.3H745.0Z"/>
<path fill="#d0ece8" d="M753.5 360.3H762.4L762.2 350.3H753.3Z"/>
<path fill="#e6f1f0" d="M761.8 360.3H770.7L770.5 350.3H761.6Z"/>
<path fill="#edf3f2" d="M770.1 360.3H779.0L778.8 350.3H769.9Z"/>
<path fill="#f4f5f5" d="M778.4 360.3H787.4L787.1 350.3H778.2Z"/>
<path fill="#def0ed" d="M803.4 360.3H812.4L812.1 350.3H803.2Z"/>
<path fill="#c9eae6" d="M811.8 360.3H820.7L820.4 350.3H811.5Z"/>
<path fill="#bfe7e1" d="M820.1 360.3H829.0L828.7 350.3H819.8Z"/>
<path fill="#edf3f2" d="M828.4 360.3H837.3L837.0 350.3H828.1Z"/>
<path fill="#f5efde" d="M836.7 360.3H845.7L845.4 350.3H836.4Z"/>
<path fill="#f6ebcf" d="M845.1 360.3H854.0L853.7 350.3H844.8Z"/>
<path fill="#f6e9c7" d="M853.4 360.3H887.3L887.0 350.3H853.1Z"/>
<path fill="#d9b76f" d="M886.7 360.3H895.6L895.3 350.3H886.4Z"/>
<path fill="#a16518" d="M895.0 360.3H912.3L911.9 350.3H894.7Z"/>
<path fill="#d9b76f" d="M911.7 360.3H920.6L920.2 350.3H911.3Z"/>
<path fill="#f4e5be" d="M920.0 360.3H953.9L953.5 350.3H919.6Z"/>
<path fill="#edd9a8" d="M953.3 360.3H962.3L961.8 350.3H952.9Z"/>
<path fill="#e9d39d" d="M961.7 360.3H970.6L970.1 350.3H961.2Z"/>
<path fill="#e2c787" d="M970.0 360.3H978.9L978.4 350.3H969.5Z"/>
<path fill="#b17423" d="M978.3 360.3H1003.9L1003.4 350.3H977.8Z"/>
<path fill="#c08430" d="M1003.3 360.3H1012.2L1011.7 350.3H1002.8Z"/>
<path fill="#e6cd92" d="M1011.6 360.3H1020.6L1020.0 350.3H1011.1Z"/>
<path fill="#edd9a8" d="M1020.0 360.3H1028.9L1028.3 350.3H1019.4Z"/>
<path fill="#f4e5be" d="M1028.3 360.3H1037.2L1036.7 350.3H1027.7Z"/>
<path fill="#f6e9c7" d="M1036.6 360.3H1045.6L1045.0 350.3H1036.1Z"/>
<path fill="#f4e5be" d="M1045.0 360.3H1053.9L1053.3 350.3H1044.4Z"/>
<path fill="#f6e9c7" d="M1053.3 360.3H1078.9L1078.3 350.3H1052.7Z"/>
<path fill="#f4e5be" d="M1078.3 360.3H1087.2L1086.6 350.3H1077.7Z"/>
<path fill="#f1dfb3" d="M1086.6 360.3H1095.5L1094.9 350.3H1086.0Z"/>
<path fill="#edd9a8" d="M1094.9 360.3H1103.9L1103.2 350.3H1094.3Z"/>
<path fill="#e9d39d" d="M1103.3 360.3H1112.2L1111.5 350.3H1102.6Z"/>
<path fill="#e6cd92" d="M1111.6 360.3H1120.5L1119.8 350.3H1110.9Z"/>
<path fill="#e2c787" d="M1119.9 360.3H1145.5L1144.8 350.3H1119.2Z"/>
<path fill="#dec17b" d="M1144.9 360.3H1153.8L1153.1 350.3H1144.2Z"/>
<path fill="#d4ac62" d="M1153.2 360.3H1162.2L1161.4 350.3H1152.5Z"/>
<path fill="#dec17b" d="M1161.6 360.3H1170.5L1169.7 350.3H1160.8Z"/>
<path fill="#e2c787" d="M1169.9 360.3H1187.1L1186.4 350.3H1169.1Z"/>
<path fill="#e6cd92" d="M1186.5 360.3H1195.5L1194.7 350.3H1185.8Z"/>
<path fill="#f6e9c7" d="M1194.9 360.3H1203.8L1203.0 350.3H1194.1Z"/>
<path fill="#d7eeeb" d="M1203.2 360.3H1212.1L1211.3 350.3H1202.4Z"/>
<path fill="#bfe7e1" d="M1211.5 360.3H1220.5L1219.6 350.3H1210.7Z"/>
<path fill="#a8ddd5" d="M21.4 350.9H30.3L31.4 340.8H22.5Z"/>
<path fill="#bfe7e1" d="M29.7 350.9H38.6L39.7 340.8H30.8Z"/>
<path fill="#d7eeeb" d="M38.0 350.9H46.9L48.0 340.8H39.1Z"/>
<path fill="#edf3f2" d="M46.3 350.9H55.2L56.3 340.8H47.4Z"/>
<path fill="#f4f5f5" d="M54.6 350.9H71.9L72.9 340.8H55.7Z"/>
<path fill="#f6ebcf" d="M79.6 350.9H88.5L89.5 340.8H80.6Z"/>
<path fill="#f4e5be" d="M87.9 350.9H113.4L114.4 340.8H88.9Z"/>
<path fill="#f6e9c7" d="M112.8 350.9H130.1L131.0 340.8H113.8Z"/>
<path fill="#f6edd7" d="M129.5 350.9H138.4L139.3 340.8H130.4Z"/>
<path fill="#f6e9c7" d="M137.8 350.9H146.7L147.6 340.8H138.7Z"/>
<path fill="#f1dfb3" d="M146.1 350.9H155.0L155.9 340.8H147.0Z"/>
<path fill="#edd9a8" d="M154.4 350.9H163.3L164.2 340.8H155.3Z"/>
<path fill="#dec17b" d="M162.7 350.9H171.7L172.5 340.8H163.6Z"/>
<path fill="#d9b76f" d="M171.1 350.9H238.2L238.9 340.8H171.9Z"/>
<path fill="#dec17b" d="M237.6 350.9H254.8L255.5 340.8H238.3Z"/>
<path fill="#e2c787" d="M254.2 350.9H263.2L263.8 340.8H254.9Z"/>
<path fill="#edd9a8" d="M262.6 350.9H271.5L272.1 340.8H263.2Z"/>
<path fill="#f1dfb3" d="M270.9 350.9H288.1L288.7 340.8H271.5Z"/>
<path fill="#f4e5be" d="M287.5 350.9H296.4L297.0 340.8H288.1Z"/>
<path fill="#f6ebcf" d="M295.8 350.9H304.7L305.3 340.8H296.4Z"/>
<path fill="#f5f1e6" d="M304.1 350.9H313.1L313.6 340.8H304.7Z"/>
<path fill="#f5f1e6" d="M320.8 350.9H329.7L330.2 340.8H321.3Z"/>
<path fill="#f6ebcf" d="M329.1 350.9H346.3L346.8 340.8H329.6Z"/>
<path fill="#f6edd7" d="M345.7 350.9H354.6L355.1 340.8H346.2Z"/>
<path fill="#f6ebcf" d="M354.0 350.9H363.0L363.4 340.8H354.5Z"/>
<path fill="#f5efde" d="M362.4 350.9H379.6L380.0 340.8H362.8Z"/>
<path fill="#f5f1e6" d="M379.0 350.9H396.2L396.6 340.8H379.4Z"/>
<path fill="#f4f5f5" d="M437.2 350.9H471.1L471.4 340.8H437.6Z"/>
<path fill="#f5f1e6" d="M487.1 350.9H512.7L512.9 340.8H487.4Z"/>
<path fill="#edf3f2" d="M528.7 350.9H537.6L537.8 340.8H528.9Z"/>
<path fill="#d0ece8" d="M537.0 350.9H545.9L546.1 340.8H537.2Z"/>
<path fill="#bfe7e1" d="M545.3 350.9H554.3L554.4 340.8H545.5Z"/>
<path fill="#d0ece8" d="M553.7 350.9H562.6L562.7 340.8H553.8Z"/>
<path fill="#edf3f2" d="M562.0 350.9H570.9L571.0 340.8H562.1Z"/>
<path fill="#f4f5f5" d="M611.9 350.9H620.8L620.8 340.8H611.9Z"/>
<path fill="#f4f5f5" d="M686.7 350.9H720.6L720.4 340.8H686.6Z"/>
<path fill="#e6f1f0" d="M720.0 350.9H728.9L728.7 340.8H719.8Z"/>
<path fill="#d7eeeb" d="M728.3 350.9H745.6L745.3 340.8H728.1Z"/>
<path fill="#87d0c5" d="M745.0 350.9H753.9L753.6 340.8H744.7Z"/>
<path fill="#d7eeeb" d="M753.3 350.9H762.2L761.9 340.8H753.0Z"/>
<path fill="#edf3f2" d="M761.6 350.9H770.5L770.2 340.8H761.3Z"/>
<path fill="#f4f5f5" d="M769.9 350.9H778.8L778.5 340.8H769.6Z"/>
<path fill="#f4f5f5" d="M803.2 350.9H812.1L811.7 340.8H802.8Z"/>
<path fill="#e6f1f0" d="M811.5 350.9H820.4L820.0 340.8H811.1Z"/>
<path fill="#def0ed" d="M819.8 350.9H828.7L828.3 340.8H819.4Z"/>
<path fill="#edf3f2" d="M828.1 350.9H837.0L836.6 340.8H827.7Z"/>
<path fill="#f5f1e6" d="M836.4 350.9H845.4L845.0 340.8H836.0Z"/>
<path fill="#f5efde" d="M844.8 350.9H853.7L853.3 340.8H844.4Z"/>
<path fill="#f6edd7" d="M853.1 350.9H878.6L878.2 340.8H852.7Z"/>
<path fill="#f6ebcf" d="M878.0 350.9H895.3L894.8 340.8H877.6Z"/>
<path fill="#f6e9c7" d="M894.7 350.9H953.5L952.9 340.8H894.2Z"/>
<path fill="#f1dfb3" d="M952.9 350.9H961.8L961.2 340.8H952.3Z"/>
<path fill="#e9d39d" d="M961.2 350.9H970.1L969.5 340.8H960.6Z"/>
<path fill="#e2c787" d="M969.5 350.9H978.4L977.8 340.8H968.9Z"/>
<path fill="#cfa256" d="M977.8 350.9H986.8L986.1 340.8H977.2Z"/>
<path fill="#b97b29" d="M986.2 350.9H995.1L994.4 340.8H985.5Z"/>
<path fill="#d4ac62" d="M994.5 350.9H1003.4L1002.7 340.8H993.8Z"/>
<path fill="#e6cd92" d="M1002.8 350.9H1011.7L1011.0 340.8H1002.1Z"/>
<path fill="#f1dfb3" d="M1011.1 350.9H1028.3L1027.6 340.8H1010.4Z"/>
<path fill="#f4e5be" d="M1027.7 350.9H1036.7L1035.9 340.8H1027.0Z"/>
<path fill="#edd9a8" d="M1036.1 350.9H1045.0L1044.2 340.8H1035.3Z"/>
<path fill="#b97b29" d="M1044.4 350.9H1053.3L1052.5 340.8H1043.6Z"/>
<path fill="#c58e3d" d="M1052.7 350.9H1061.6L1060.8 340.8H1051.9Z"/>
<path fill="#e9d39d" d="M1061.0 350.9H1069.9L1069.1 340.8H1060.2Z"/>
<path fill="#e6cd92" d="M1069.3 350.9H1078.3L1077.4 340.8H1068.5Z"/>
<path fill="#e2c787" d="M1077.7 350.9H1119.8L1118.9 340.8H1076.8Z"/>
<path fill="#e6cd92" d="M1119.2 350.9H1128.2L1127.2 340.8H1118.3Z"/>
<path fill="#e9d39d" d="M1127.6 350.9H1136.5L1135.5 340.8H1126.6Z"/>
<path fill="#edd9a8" d="M1135.9 350.9H1144.8L1143.8 340.8H1134.9Z"/>
<path fill="#f1dfb3" d="M1144.2 350.9H1153.1L1152.1 340.8H1143.2Z"/>
<path fill="#f4e5be" d="M1152.5 350.9H1161.4L1160.4 340.8H1151.5Z"/>
<path fill="#f6e9c7" d="M1160.8 350.9H1169.7L1168.7 340.8H1159.8Z"/>
<path fill="#f6edd7" d="M1169.1 350.9H1178.1L1177.0 340.8H1168.1Z"/>
<path fill="#f6ebcf" d="M1177.5 350.9H1194.7L1193.6 340.8H1176.4Z"/>
<path fill="#f5efde" d="M1194.1 350.9H1203.0L1201.9 340.8H1193.0Z"/>
<path fill="#d7eeeb" d="M1202.4 350.9H1211.3L1210.2 340.8H1201.3Z"/>
<path fill="#bfe7e1" d="M1210.7 350.9H1219.6L1218.5 340.8H1209.6Z"/>
<path fill="#def0ed" d="M22.5 341.4H31.4L32.8 331.4H23.9Z"/>
<path fill="#e6f1f0" d="M30.8 341.4H39.7L41.1 331.4H32.2Z"/>
<path fill="#edf3f2" d="M39.1 341.4H48.0L49.3 331.4H40.5Z"/>
<path fill="#f4f5f5" d="M47.4 341.4H72.9L74.2 331.4H48.7Z"/>
<path fill="#f5f1e6" d="M80.6 341.4H106.1L107.3 331.4H81.9Z"/>
<path fill="#edf3f2" d="M147.0 341.4H155.9L157.0 331.4H148.1Z"/>
<path fill="#def0ed" d="M155.3 341.4H164.2L165.3 331.4H156.4Z"/>
<path fill="#e6f1f0" d="M163.6 341.4H172.5L173.6 331.4H164.7Z"/>
<path fill="#f4f5f5" d="M171.9 341.4H180.8L181.9 331.4H173.0Z"/>
<path fill="#f5f1e6" d="M180.2 341.4H189.1L190.1 331.4H181.3Z"/>
<path fill="#f6edd7" d="M188.5 341.4H197.4L198.4 331.4H189.5Z"/>
<path fill="#f6ebcf" d="M196.8 341.4H205.7L206.7 331.4H197.8Z"/>
<path fill="#f6e9c7" d="M205.1 341.4H214.0L215.0 331.4H206.1Z"/>
<path fill="#f4e5be" d="M213.4 341.4H230.6L231.5 331.4H214.4Z"/>
<path fill="#f1dfb3" d="M230.0 341.4H238.9L239.8 331.4H230.9Z"/>
<path fill="#e6cd92" d="M238.3 341.4H247.2L248.1 331.4H239.2Z"/>
<path fill="#e2c787" d="M246.6 341.4H255.5L256.4 331.4H247.5Z"/>
<path fill="#dec17b" d="M254.9 341.4H263.8L264.7 331.4H255.8Z"/>
<path fill="#f4e5be" d="M263.2 341.4H272.1L273.0 331.4H264.1Z"/>
<path fill="#f5efde" d="M271.5 341.4H297.0L297.8 331.4H272.4Z"/>
<path fill="#f5f1e6" d="M296.4 341.4H305.3L306.1 331.4H297.2Z"/>
<path fill="#f5f1e6" d="M362.8 341.4H371.7L372.3 331.4H363.5Z"/>
<path fill="#f4f5f5" d="M429.3 341.4H471.4L471.7 331.4H429.7Z"/>
<path fill="#edf3f2" d="M528.9 341.4H537.8L538.0 331.4H529.1Z"/>
<path fill="#c9eae6" d="M537.2 341.4H546.1L546.3 331.4H537.4Z"/>
<path fill="#b4e2db" d="M545.5 341.4H554.4L554.5 331.4H545.7Z"/>
<path fill="#d0ece8" d="M553.8 341.4H562.7L562.8 331.4H553.9Z"/>
<path fill="#edf3f2" d="M562.1 341.4H571.0L571.1 331.4H562.2Z"/>
<path fill="#f4f5f5" d="M603.6 341.4H620.8L620.8 331.4H603.6Z"/>
<path fill="#f4f5f5" d="M711.5 341.4H720.4L720.2 331.4H711.3Z"/>
<path fill="#edf3f2" d="M719.8 341.4H728.7L728.5 331.4H719.6Z"/>
<path fill="#e6f1f0" d="M728.1 341.4H737.0L736.7 331.4H727.9Z"/>
<path fill="#def0ed" d="M736.4 341.4H753.6L753.3 331.4H736.1Z"/>
<path fill="#edf3f2" d="M753.0 341.4H761.9L761.6 331.4H752.7Z"/>
<path fill="#f4f5f5" d="M761.3 341.4H770.2L769.9 331.4H761.0Z"/>
<path fill="#f5f1e6" d="M844.4 341.4H869.9L869.3 331.4H843.8Z"/>
<path fill="#f5efde" d="M869.3 341.4H894.8L894.1 331.4H868.7Z"/>
<path fill="#f6edd7" d="M894.2 341.4H952.9L952.1 331.4H893.5Z"/>
<path fill="#f6e9c7" d="M952.3 341.4H961.2L960.4 331.4H951.5Z"/>
<path fill="#f1dfb3" d="M960.6 341.4H969.5L968.6 331.4H959.8Z"/>
<path fill="#edd9a8" d="M968.9 341.4H977.8L976.9 331.4H968.0Z"/>
<path fill="#e9d39d" d="M977.2 341.4H994.4L993.5 331.4H976.3Z"/>
<path fill="#edd9a8" d="M993.8 341.4H1002.7L1001.8 331.4H992.9Z"/>
<path fill="#f1dfb3" d="M1002.1 341.4H1027.6L1026.6 331.4H1001.2Z"/>
<path fill="#e6cd92" d="M1027.0 341.4H1035.9L1034.9 331.4H1026.0Z"/>
<path fill="#e2c787" d="M1035.3 341.4H1044.2L1043.2 331.4H1034.3Z"/>
<path fill="#a16518" d="M1043.6 341.4H1052.5L1051.5 331.4H1042.6Z"/>
<path fill="#ca9849" d="M1051.9 341.4H1060.8L1059.7 331.4H1050.9Z"/>
<path fill="#e2c787" d="M1060.2 341.4H1069.1L1068.0 331.4H1059.1Z"/>
<path fill="#e6cd92" d="M1068.5 341.4H1085.7L1084.6 331.4H1067.4Z"/>
<path fill="#e9d39d" d="M1085.1 341.4H1102.3L1101.2 331.4H1084.0Z"/>
<path fill="#edd9a8" d="M1101.7 341.4H1110.6L1109.4 331.4H1100.6Z"/>
<path fill="#f1dfb3" d="M1110.0 341.4H1118.9L1117.7 331.4H1108.8Z"/>
<path fill="#f4e5be" d="M1118.3 341.4H1127.2L1126.0 331.4H1117.1Z"/>
<path fill="#f6e9c7" d="M1126.6 341.4H1135.5L1134.3 331.4H1125.4Z"/>
<path fill="#f6edd7" d="M1134.9 341.4H1143.8L1142.6 331.4H1133.7Z"/>
<path fill="#f5efde" d="M1143.2 341.4H1152.1L1150.9 331.4H1142.0Z"/>
<path fill="#bfe7e1" d="M1159.8 341.4H1168.7L1167.4 331.4H1158.5Z"/>
<path fill="#9dd9d0" d="M1168.1 341.4H1177.0L1175.7 331.4H1166.8Z"/>
<path fill="#e6f1f0" d="M1176.4 341.4H1185.3L1184.0 331.4H1175.1Z"/>
<path fill="#f4f5f5" d="M1184.7 341.4H1193.6L1192.3 331.4H1183.4Z"/>
<path fill="#edf3f2" d="M1193.0 341.4H1201.9L1200.5 331.4H1191.7Z"/>
<path fill="#d0ece8" d="M1201.3 341.4H1210.2L1208.8 331.4H1199.9Z"/>
<path fill="#b4e2db" d="M1209.6 341.4H1218.5L1217.1 331.4H1208.2Z"/>
<path fill="#f4f5f5" d="M23.9 332.0H49.3L51.1 321.9H25.7Z"/>
<path fill="#f4f5f5" d="M73.6 332.0H90.7L92.4 321.9H75.2Z"/>
<path fill="#f4f5f5" d="M131.6 332.0H140.4L141.9 321.9H133.0Z"/>
<path fill="#e6f1f0" d="M139.8 332.0H148.7L150.2 321.9H141.3Z"/>
<path fill="#c9eae6" d="M148.1 332.0H157.0L158.4 321.9H149.6Z"/>
<path fill="#70c1b6" d="M156.4 332.0H165.3L166.7 321.9H157.8Z"/>
<path fill="#4da89f" d="M164.7 332.0H173.6L174.9 321.9H166.1Z"/>
<path fill="#58b0a7" d="M173.0 332.0H181.9L183.2 321.9H174.3Z"/>
<path fill="#7ccabe" d="M181.3 332.0H190.1L191.4 321.9H182.6Z"/>
<path fill="#b4e2db" d="M189.5 332.0H198.4L199.7 321.9H190.8Z"/>
<path fill="#d0ece8" d="M197.8 332.0H206.7L208.0 321.9H199.1Z"/>
<path fill="#def0ed" d="M206.1 332.0H215.0L216.2 321.9H207.4Z"/>
<path fill="#e6f1f0" d="M214.4 332.0H223.3L224.5 321.9H215.6Z"/>
<path fill="#edf3f2" d="M222.7 332.0H231.5L232.7 321.9H223.9Z"/>
<path fill="#f1dfb3" d="M239.2 332.0H248.1L249.2 321.9H240.4Z"/>
<path fill="#f6e9c7" d="M247.5 332.0H256.4L257.5 321.9H248.6Z"/>
<path fill="#f6edd7" d="M255.8 332.0H264.7L265.8 321.9H256.9Z"/>
<path fill="#f5f1e6" d="M264.1 332.0H273.0L274.0 321.9H265.2Z"/>
<path fill="#f5f1e6" d="M346.9 332.0H364.1L364.8 321.9H347.7Z"/>
<path fill="#f5efde" d="M363.5 332.0H405.5L406.1 321.9H364.2Z"/>
<path fill="#f6edd7" d="M404.9 332.0H422.0L422.6 321.9H405.5Z"/>
<path fill="#f5f1e6" d="M421.4 332.0H430.3L430.9 321.9H422.0Z"/>
<path fill="#f4f5f5" d="M438.0 332.0H446.9L447.4 321.9H438.5Z"/>
<path fill="#f4f5f5" d="M529.1 332.0H538.0L538.2 321.9H529.4Z"/>
<path fill="#e6f1f0" d="M537.4 332.0H546.3L546.5 321.9H537.6Z"/>
<path fill="#def0ed" d="M545.7 332.0H554.5L554.7 321.9H545.9Z"/>
<path fill="#e6f1f0" d="M553.9 332.0H562.8L563.0 321.9H554.1Z"/>
<path fill="#f4f5f5" d="M562.2 332.0H579.4L579.5 321.9H562.4Z"/>
<path fill="#f4f5f5" d="M603.6 332.0H620.8L620.8 321.9H603.7Z"/>
<path fill="#f4f5f5" d="M711.3 332.0H728.5L728.1 321.9H711.0Z"/>
<path fill="#edf3f2" d="M727.9 332.0H753.3L752.9 321.9H727.5Z"/>
<path fill="#f4f5f5" d="M752.7 332.0H803.0L802.5 321.9H752.3Z"/>
<path fill="#f4f5f5" d="M819.0 332.0H844.4L843.7 321.9H818.4Z"/>
<path fill="#f5f1e6" d="M885.2 332.0H943.8L942.8 321.9H884.4Z"/>
<path fill="#f5efde" d="M943.2 332.0H952.1L951.1 321.9H942.2Z"/>
<path fill="#f6ebcf" d="M951.5 332.0H960.4L959.3 321.9H950.5Z"/>
<path fill="#f4e5be" d="M959.8 332.0H1010.1L1008.9 321.9H958.7Z"/>
<path fill="#f1dfb3" d="M1009.5 332.0H1018.3L1017.1 321.9H1008.3Z"/>
<path fill="#e9d39d" d="M1017.7 332.0H1026.6L1025.4 321.9H1016.5Z"/>
<path fill="#d4ac62" d="M1026.0 332.0H1034.9L1033.6 321.9H1024.8Z"/>
<path fill="#cfa256" d="M1034.3 332.0H1059.7L1058.4 321.9H1033.0Z"/>
<path fill="#e2c787" d="M1059.1 332.0H1068.0L1066.7 321.9H1057.8Z"/>
<path fill="#edd9a8" d="M1067.4 332.0H1084.6L1083.2 321.9H1066.1Z"/>
<path fill="#f1dfb3" d="M1084.0 332.0H1092.9L1091.4 321.9H1082.6Z"/>
<path fill="#f4e5be" d="M1092.3 332.0H1101.2L1099.7 321.9H1090.8Z"/>
<path fill="#f6ebcf" d="M1100.6 332.0H1109.4L1108.0 321.9H1099.1Z"/>
<path fill="#f6edd7" d="M1108.8 332.0H1117.7L1116.2 321.9H1107.4Z"/>
<path fill="#f5efde" d="M1117.1 332.0H1126.0L1124.5 321.9H1115.6Z"/>
<path fill="#f5f1e6" d="M1125.4 332.0H1134.3L1132.7 321.9H1123.9Z"/>
<path fill="#edf3f2" d="M1142.0 332.0H1150.9L1149.2 321.9H1140.4Z"/>
<path fill="#bfe7e1" d="M1150.3 332.0H1159.1L1157.5 321.9H1148.6Z"/>
<path fill="#9dd9d0" d="M1158.5 332.0H1167.4L1165.8 321.9H1156.9Z"/>
<path fill="#bfe7e1" d="M1166.8 332.0H1175.7L1174.0 321.9H1165.2Z"/>
<path fill="#def0ed" d="M1175.1 332.0H1208.8L1207.0 321.9H1173.4Z"/>
<path fill="#d7eeeb" d="M1208.2 332.0H1217.1L1215.3 321.9H1206.4Z"/>
<path fill="#f4f5f5" d="M25.7 322.5H42.8L45.0 312.5H27.9Z"/>
<path fill="#f4f5f5" d="M75.2 322.5H141.9L143.7 312.5H77.3Z"/>
<path fill="#def0ed" d="M141.3 322.5H150.2L151.9 312.5H143.1Z"/>
<path fill="#c9eae6" d="M149.6 322.5H158.4L160.1 312.5H151.3Z"/>
<path fill="#92d4ca" d="M157.8 322.5H166.7L168.4 312.5H159.5Z"/>
<path fill="#64b9ae" d="M166.1 322.5H174.9L176.6 312.5H167.8Z"/>
<path fill="#4da89f" d="M174.3 322.5H199.7L201.3 312.5H176.0Z"/>
<path fill="#64b9ae" d="M199.1 322.5H208.0L209.5 312.5H200.7Z"/>
<path fill="#9dd9d0" d="M207.4 322.5H216.2L217.7 312.5H208.9Z"/>
<path fill="#c9eae6" d="M215.6 322.5H232.7L234.2 312.5H217.1Z"/>
<path fill="#d0ece8" d="M232.1 322.5H241.0L242.4 312.5H233.6Z"/>
<path fill="#d7eeeb" d="M240.4 322.5H249.2L250.6 312.5H241.8Z"/>
<path fill="#e6f1f0" d="M248.6 322.5H257.5L258.9 312.5H250.0Z"/>
<path fill="#f4f5f5" d="M256.9 322.5H265.8L267.1 312.5H258.3Z"/>
<path fill="#f5f1e6" d="M273.4 322.5H290.5L291.8 312.5H274.7Z"/>
<path fill="#f5f1e6" d="M339.5 322.5H348.3L349.3 312.5H340.5Z"/>
<path fill="#f6edd7" d="M347.7 322.5H381.4L382.2 312.5H348.7Z"/>
<path fill="#f5efde" d="M380.8 322.5H397.9L398.7 312.5H381.6Z"/>
<path fill="#f6edd7" d="M397.3 322.5H422.6L423.4 312.5H398.1Z"/>
<path fill="#f5f1e6" d="M422.0 322.5H430.9L431.6 312.5H422.8Z"/>
<path fill="#f4f5f5" d="M438.5 322.5H447.4L448.1 312.5H439.2Z"/>
<path fill="#f4f5f5" d="M537.6 322.5H620.8L620.8 312.5H537.9Z"/>
<path fill="#f4f5f5" d="M727.5 322.5H761.2L760.6 312.5H727.1Z"/>
<path fill="#edf3f2" d="M760.6 322.5H769.4L768.9 312.5H760.0Z"/>
<path fill="#e6f1f0" d="M768.8 322.5H777.7L777.1 312.5H768.3Z"/>
<path fill="#def0ed" d="M777.1 322.5H794.2L793.5 312.5H776.5Z"/>
<path fill="#e6f1f0" d="M793.6 322.5H802.5L801.8 312.5H792.9Z"/>
<path fill="#f4f5f5" d="M801.9 322.5H819.0L818.2 312.5H801.2Z"/>
<path fill="#e6f1f0" d="M818.4 322.5H835.5L834.7 312.5H817.6Z"/>
<path fill="#f4f5f5" d="M834.9 322.5H843.7L842.9 312.5H834.1Z"/>
<path fill="#f4f5f5" d="M859.6 322.5H868.5L867.6 312.5H858.8Z"/>
<path fill="#f5f1e6" d="M942.2 322.5H951.1L949.8 312.5H941.0Z"/>
<path fill="#f5efde" d="M950.5 322.5H959.3L958.1 312.5H949.2Z"/>
<path fill="#f6edd7" d="M958.7 322.5H984.1L982.7 312.5H957.5Z"/>
<path fill="#f6ebcf" d="M983.5 322.5H1008.9L1007.4 312.5H982.1Z"/>
<path fill="#f1dfb3" d="M1008.3 322.5H1017.1L1015.6 312.5H1006.8Z"/>
<path fill="#e9d39d" d="M1016.5 322.5H1025.4L1023.9 312.5H1015.0Z"/>
<path fill="#e2c787" d="M1024.8 322.5H1033.6L1032.1 312.5H1023.3Z"/>
<path fill="#d9b76f" d="M1033.0 322.5H1041.9L1040.3 312.5H1031.5Z"/>
<path fill="#dec17b" d="M1041.3 322.5H1058.4L1056.8 312.5H1039.7Z"/>
<path fill="#e6cd92" d="M1057.8 322.5H1066.7L1065.0 312.5H1056.2Z"/>
<path fill="#edd9a8" d="M1066.1 322.5H1091.4L1089.7 312.5H1064.4Z"/>
<path fill="#f4e5be" d="M1090.8 322.5H1099.7L1097.9 312.5H1089.1Z"/>
<path fill="#f5efde" d="M1099.1 322.5H1108.0L1106.1 312.5H1097.3Z"/>
<path fill="#f5f1e6" d="M1107.4 322.5H1116.2L1114.4 312.5H1105.5Z"/>
<path fill="#edf3f2" d="M1123.9 322.5H1132.7L1130.8 312.5H1122.0Z"/>
<path fill="#e6f1f0" d="M1132.1 322.5H1141.0L1139.0 312.5H1130.2Z"/>
<path fill="#def0ed" d="M1140.4 322.5H1149.2L1147.3 312.5H1138.4Z"/>
<path fill="#d0ece8" d="M1148.6 322.5H1157.5L1155.5 312.5H1146.7Z"/>
<path fill="#bfe7e1" d="M1156.9 322.5H1165.8L1163.7 312.5H1154.9Z"/>
<path fill="#d0ece8" d="M1165.2 322.5H1174.0L1171.9 312.5H1163.1Z"/>
<path fill="#d7eeeb" d="M1173.4 322.5H1190.5L1188.4 312.5H1171.3Z"/>
<path fill="#def0ed" d="M1189.9 322.5H1207.0L1204.8 312.5H1187.8Z"/>
<path fill="#e6f1f0" d="M1206.4 322.5H1215.3L1213.1 312.5H1204.2Z"/>
<path fill="#f4f5f5" d="M27.9 313.1H45.0L47.4 303.1H30.4Z"/>
<path fill="#f4f5f5" d="M69.1 313.1H77.9L80.1 303.1H71.3Z"/>
<path fill="#edf3f2" d="M77.3 313.1H94.3L96.5 303.1H79.5Z"/>
<path fill="#e6f1f0" d="M93.7 313.1H102.6L104.7 303.1H95.9Z"/>
<path fill="#00483d" d="M102.0 313.1H110.8L112.9 303.1H104.1Z"/>
<path fill="#e6f1f0" d="M110.2 313.1H143.7L145.7 303.1H112.3Z"/>
<path fill="#def0ed" d="M143.1 313.1H160.1L162.1 303.1H145.1Z"/>
<path fill="#d7eeeb" d="M159.5 313.1H168.4L170.2 303.1H161.5Z"/>
<path fill="#c9eae6" d="M167.8 313.1H176.6L178.4 303.1H169.6Z"/>
<path fill="#b4e2db" d="M176.0 313.1H184.8L186.6 303.1H177.8Z"/>
<path fill="#92d4ca" d="M184.2 313.1H193.0L194.8 303.1H186.0Z"/>
<path fill="#70c1b6" d="M192.4 313.1H201.3L203.0 303.1H194.2Z"/>
<path fill="#58b0a7" d="M200.7 313.1H209.5L211.2 303.1H202.4Z"/>
<path fill="#87d0c5" d="M208.9 313.1H217.7L219.4 303.1H210.6Z"/>
<path fill="#b4e2db" d="M217.1 313.1H250.6L252.2 303.1H218.8Z"/>
<path fill="#d0ece8" d="M250.0 313.1H258.9L260.4 303.1H251.6Z"/>
<path fill="#e6f1f0" d="M258.3 313.1H267.1L268.6 303.1H259.8Z"/>
<path fill="#f4f5f5" d="M299.4 313.1H308.2L309.5 303.1H300.7Z"/>
<path fill="#bfe7e1" d="M307.6 313.1H316.4L317.7 303.1H308.9Z"/>
<path fill="#f4f5f5" d="M315.8 313.1H324.7L325.9 303.1H317.1Z"/>
<path fill="#f5f1e6" d="M340.5 313.1H349.3L350.5 303.1H341.7Z"/>
<path fill="#f5efde" d="M348.7 313.1H365.8L366.9 303.1H349.9Z"/>
<path fill="#f5f1e6" d="M365.2 313.1H382.2L383.2 303.1H366.3Z"/>
<path fill="#f5f1e6" d="M398.1 313.1H423.4L424.2 303.1H399.0Z"/>
<path fill="#f4f5f5" d="M431.0 313.1H456.3L457.0 303.1H431.8Z"/>
<path fill="#f4f5f5" d="M521.5 313.1H620.8L620.8 303.1H521.9Z"/>
<path fill="#f4f5f5" d="M727.1 313.1H744.2L743.7 303.1H726.7Z"/>
<path fill="#edf3f2" d="M743.6 313.1H752.4L751.9 303.1H743.1Z"/>
<path fill="#e6f1f0" d="M751.8 313.1H760.6L760.1 303.1H751.3Z"/>
<path fill="#def0ed" d="M760.0 313.1H768.9L768.3 303.1H759.5Z"/>
<path fill="#d7eeeb" d="M768.3 313.1H777.1L776.4 303.1H767.7Z"/>
<path fill="#d0ece8" d="M776.5 313.1H793.5L792.8 303.1H775.8Z"/>
<path fill="#d7eeeb" d="M792.9 313.1H801.8L801.0 303.1H792.2Z"/>
<path fill="#e6f1f0" d="M801.2 313.1H810.0L809.2 303.1H800.4Z"/>
<path fill="#f4f5f5" d="M809.4 313.1H818.2L817.4 303.1H808.6Z"/>
<path fill="#def0ed" d="M817.6 313.1H826.5L825.6 303.1H816.8Z"/>
<path fill="#d7eeeb" d="M825.9 313.1H834.7L833.8 303.1H825.0Z"/>
<path fill="#edf3f2" d="M834.1 313.1H842.9L842.0 303.1H833.2Z"/>
<path fill="#f4f5f5" d="M858.8 313.1H884.0L882.9 303.1H857.8Z"/>
<path fill="#f4f5f5" d="M916.3 313.1H933.4L932.1 303.1H915.1Z"/>
<path fill="#f5f1e6" d="M941.0 313.1H958.1L956.7 303.1H939.7Z"/>
<path fill="#f5efde" d="M957.5 313.1H1007.4L1005.8 303.1H956.1Z"/>
<path fill="#f6edd7" d="M1006.8 313.1H1015.6L1014.0 303.1H1005.2Z"/>
<path fill="#f4e5be" d="M1015.0 313.1H1040.3L1038.6 303.1H1013.4Z"/>
<path fill="#f6e9c7" d="M1039.7 313.1H1048.6L1046.8 303.1H1038.0Z"/>
<path fill="#f6ebcf" d="M1048.0 313.1H1089.7L1087.7 303.1H1046.2Z"/>
<path fill="#f6edd7" d="M1089.1 313.1H1097.9L1095.9 303.1H1087.1Z"/>
<path fill="#f5f1e6" d="M1097.3 313.1H1106.1L1104.1 303.1H1095.3Z"/>
<path fill="#f4f5f5" d="M1113.8 313.1H1122.6L1120.5 303.1H1111.7Z"/>
<path fill="#edf3f2" d="M1122.0 313.1H1130.8L1128.7 303.1H1119.9Z"/>
<path fill="#def0ed" d="M1130.2 313.1H1139.0L1136.9 303.1H1128.1Z"/>
<path fill="#d7eeeb" d="M1138.4 313.1H1171.9L1169.7 303.1H1136.3Z"/>
<path fill="#def0ed" d="M1171.3 313.1H1188.4L1186.0 303.1H1169.1Z"/>
<path fill="#e6f1f0" d="M1187.8 313.1H1204.8L1202.4 303.1H1185.4Z"/>
<path fill="#edf3f2" d="M1204.2 313.1H1213.1L1210.6 303.1H1201.8Z"/>
<path fill="#f4f5f5" d="M30.4 303.7H47.4L49.9 293.6H33.0Z"/>
<path fill="#edf3f2" d="M71.3 303.7H80.1L82.5 293.6H73.8Z"/>
<path fill="#e6f1f0" d="M79.5 303.7H88.3L90.7 293.6H81.9Z"/>
<path fill="#def0ed" d="M87.7 303.7H112.9L115.1 293.6H90.1Z"/>
<path fill="#d7eeeb" d="M112.3 303.7H137.5L139.6 293.6H114.5Z"/>
<path fill="#def0ed" d="M136.9 303.7H162.1L164.1 293.6H139.0Z"/>
<path fill="#d7eeeb" d="M161.5 303.7H186.6L188.5 293.6H163.5Z"/>
<path fill="#d0ece8" d="M186.0 303.7H194.8L196.7 293.6H187.9Z"/>
<path fill="#bfe7e1" d="M194.2 303.7H203.0L204.8 293.6H196.1Z"/>
<path fill="#b4e2db" d="M202.4 303.7H211.2L213.0 293.6H204.2Z"/>
<path fill="#bfe7e1" d="M210.6 303.7H227.6L229.3 293.6H212.4Z"/>
<path fill="#b4e2db" d="M227.0 303.7H252.2L253.8 293.6H228.7Z"/>
<path fill="#d0ece8" d="M251.6 303.7H260.4L261.9 293.6H253.2Z"/>
<path fill="#e6f1f0" d="M259.8 303.7H268.6L270.1 293.6H261.3Z"/>
<path fill="#f4f5f5" d="M268.0 303.7H276.7L278.3 293.6H269.5Z"/>
<path fill="#f4f5f5" d="M284.3 303.7H301.3L302.7 293.6H285.8Z"/>
<path fill="#edf3f2" d="M300.7 303.7H309.5L310.9 293.6H302.1Z"/>
<path fill="#def0ed" d="M308.9 303.7H317.7L319.0 293.6H310.3Z"/>
<path fill="#f4f5f5" d="M317.1 303.7H358.7L359.8 293.6H318.4Z"/>
<path fill="#f4f5f5" d="M374.4 303.7H497.9L498.5 293.6H375.5Z"/>
<path fill="#edf3f2" d="M497.3 303.7H506.1L506.6 293.6H497.9Z"/>
<path fill="#f4f5f5" d="M505.5 303.7H620.8L620.8 293.6H506.0Z"/>
<path fill="#f4f5f5" d="M669.4 303.7H686.3L686.0 293.6H669.1Z"/>
<path fill="#f4f5f5" d="M726.7 303.7H735.5L735.0 293.6H726.2Z"/>
<path fill="#e6f1f0" d="M734.9 303.7H743.7L743.1 293.6H734.4Z"/>
<path fill="#def0ed" d="M743.1 303.7H751.9L751.3 293.6H742.5Z"/>
<path fill="#d0ece8" d="M751.3 303.7H792.8L792.1 293.6H750.7Z"/>
<path fill="#d7eeeb" d="M792.2 303.7H801.0L800.2 293.6H791.5Z"/>
<path fill="#edf3f2" d="M800.4 303.7H809.2L808.4 293.6H799.6Z"/>
<path fill="#f4f5f5" d="M808.6 303.7H825.6L824.7 293.6H807.8Z"/>
<path fill="#edf3f2" d="M825.0 303.7H833.8L832.9 293.6H824.1Z"/>
<path fill="#e6f1f0" d="M866.0 303.7H874.7L873.6 293.6H864.9Z"/>
<path fill="#d0ece8" d="M874.1 303.7H882.9L881.8 293.6H873.0Z"/>
<path fill="#f4f5f5" d="M882.3 303.7H891.1L889.9 293.6H881.2Z"/>
<path fill="#f4f5f5" d="M915.1 303.7H923.9L922.6 293.6H913.8Z"/>
<path fill="#f5f1e6" d="M939.7 303.7H948.5L947.0 293.6H938.3Z"/>
<path fill="#f5efde" d="M947.9 303.7H981.2L979.7 293.6H946.4Z"/>
<path fill="#f5f1e6" d="M980.6 303.7H1022.2L1020.4 293.6H979.1Z"/>
<path fill="#f5efde" d="M1021.6 303.7H1030.4L1028.6 293.6H1019.8Z"/>
<path fill="#f5f1e6" d="M1029.8 303.7H1046.8L1044.9 293.6H1028.0Z"/>
<path fill="#f4f5f5" d="M1095.3 303.7H1112.3L1110.2 293.6H1093.2Z"/>
<path fill="#edf3f2" d="M1111.7 303.7H1128.7L1126.5 293.6H1109.6Z"/>
<path fill="#e6f1f0" d="M1128.1 303.7H1136.9L1134.6 293.6H1125.9Z"/>
<path fill="#def0ed" d="M1136.3 303.7H1161.5L1159.1 293.6H1134.0Z"/>
<path fill="#e6f1f0" d="M1160.9 303.7H1186.0L1183.6 293.6H1158.5Z"/>
<path fill="#edf3f2" d="M1185.4 303.7H1194.2L1191.7 293.6H1183.0Z"/>
<path fill="#f4f5f5" d="M1193.6 303.7H1210.6L1208.0 293.6H1191.1Z"/>
<path fill="#f4f5f5" d="M33.0 294.2H49.9L52.7 284.2H35.9Z"/>
<path fill="#f4f5f5" d="M65.6 294.2H74.4L77.1 284.2H68.4Z"/>
<path fill="#edf3f2" d="M73.8 294.2H82.5L85.2 284.2H76.5Z"/>
<path fill="#def0ed" d="M81.9 294.2H90.7L93.3 284.2H84.6Z"/>
<path fill="#d7eeeb" d="M90.1 294.2H98.8L101.4 284.2H92.7Z"/>
<path fill="#def0ed" d="M98.2 294.2H115.1L117.7 284.2H100.8Z"/>
<path fill="#d7eeeb" d="M114.5 294.2H147.8L150.1 284.2H117.1Z"/>
<path fill="#def0ed" d="M147.2 294.2H204.8L206.9 284.2H149.5Z"/>
<path fill="#d7eeeb" d="M204.2 294.2H229.3L231.3 284.2H206.3Z"/>
<path fill="#d0ece8" d="M228.7 294.2H237.5L239.4 284.2H230.7Z"/>
<path fill="#c9eae6" d="M236.9 294.2H245.6L247.5 284.2H238.8Z"/>
<path fill="#d0ece8" d="M245.0 294.2H253.8L255.6 284.2H246.9Z"/>
<path fill="#def0ed" d="M253.2 294.2H261.9L263.7 284.2H255.0Z"/>
<path fill="#edf3f2" d="M261.3 294.2H270.1L271.9 284.2H263.1Z"/>
<path fill="#bfe7e1" d="M269.5 294.2H278.3L280.0 284.2H271.3Z"/>
<path fill="#e6f1f0" d="M277.7 294.2H286.4L288.1 284.2H279.4Z"/>
<path fill="#def0ed" d="M285.8 294.2H310.9L312.4 284.2H287.5Z"/>
<path fill="#d0ece8" d="M310.3 294.2H343.5L344.9 284.2H311.8Z"/>
<path fill="#c9eae6" d="M342.9 294.2H351.7L353.0 284.2H344.3Z"/>
<path fill="#d7eeeb" d="M351.1 294.2H359.8L361.1 284.2H352.4Z"/>
<path fill="#edf3f2" d="M359.2 294.2H368.0L369.2 284.2H360.5Z"/>
<path fill="#f4f5f5" d="M367.4 294.2H376.1L377.3 284.2H368.6Z"/>
<path fill="#edf3f2" d="M375.5 294.2H441.4L442.3 284.2H376.7Z"/>
<path fill="#e6f1f0" d="M440.8 294.2H449.5L450.4 284.2H441.7Z"/>
<path fill="#def0ed" d="M448.9 294.2H514.8L515.3 284.2H449.8Z"/>
<path fill="#edf3f2" d="M514.2 294.2H522.9L523.4 284.2H514.7Z"/>
<path fill="#f4f5f5" d="M522.3 294.2H563.7L564.0 284.2H522.8Z"/>
<path fill="#f4f5f5" d="M579.4 294.2H620.8L620.8 284.2H579.6Z"/>
<path fill="#f4f5f5" d="M669.1 294.2H694.2L693.8 284.2H668.9Z"/>
<path fill="#f4f5f5" d="M726.2 294.2H735.0L734.4 284.2H725.7Z"/>
<path fill="#e6f1f0" d="M734.4 294.2H743.1L742.5 284.2H733.8Z"/>
<path fill="#d0ece8" d="M742.5 294.2H775.8L775.0 284.2H741.9Z"/>
<path fill="#d7eeeb" d="M775.2 294.2H783.9L783.1 284.2H774.4Z"/>
<path fill="#def0ed" d="M783.3 294.2H792.1L791.2 284.2H782.5Z"/>
<path fill="#edf3f2" d="M791.5 294.2H800.2L799.3 284.2H790.6Z"/>
<path fill="#f4f5f5" d="M799.6 294.2H808.4L807.4 284.2H798.7Z"/>
<path fill="#f5f1e6" d="M840.4 294.2H857.3L856.1 284.2H839.3Z"/>
<path fill="#f4f5f5" d="M864.9 294.2H873.6L872.4 284.2H863.7Z"/>
<path fill="#e6f1f0" d="M873.0 294.2H881.8L880.5 284.2H871.8Z"/>
<path fill="#f4f5f5" d="M881.2 294.2H889.9L888.6 284.2H879.9Z"/>
<path fill="#f5f1e6" d="M930.1 294.2H947.0L945.4 284.2H928.6Z"/>
<path fill="#f5efde" d="M946.4 294.2H971.5L969.7 284.2H944.8Z"/>
<path fill="#f5f1e6" d="M970.9 294.2H1004.1L1002.2 284.2H969.1Z"/>
<path fill="#f5f1e6" d="M1011.7 294.2H1028.6L1026.6 284.2H1009.7Z"/>
<path fill="#f4f5f5" d="M1052.5 294.2H1077.5L1075.2 284.2H1050.3Z"/>
<path fill="#edf3f2" d="M1076.9 294.2H1093.8L1091.5 284.2H1074.6Z"/>
<path fill="#e6f1f0" d="M1093.2 294.2H1142.8L1140.2 284.2H1090.9Z"/>
<path fill="#def0ed" d="M1142.2 294.2H1159.1L1156.4 284.2H1139.6Z"/>
<path fill="#e6f1f0" d="M1158.5 294.2H1175.4L1172.6 284.2H1155.8Z"/>
<path fill="#edf3f2" d="M1174.8 294.2H1183.6L1180.7 284.2H1172.0Z"/>
<path fill="#f4f5f5" d="M1183.0 294.2H1208.0L1205.1 284.2H1180.1Z"/>
<path fill="#f4f5f5" d="M35.9 284.8H44.6L48.1 274.7H39.5Z"/>
<path fill="#f4f5f5" d="M68.4 284.8H77.1L80.4 274.7H71.7Z"/>
<path fill="#edf3f2" d="M76.5 284.8H85.2L88.5 274.7H79.8Z"/>
<path fill="#def0ed" d="M84.6 284.8H109.5L112.7 274.7H87.9Z"/>
<path fill="#e6f1f0" d="M108.9 284.8H117.7L120.7 274.7H112.1Z"/>
<path fill="#def0ed" d="M117.1 284.8H133.9L136.9 274.7H120.1Z"/>
<path fill="#e6f1f0" d="M133.3 284.8H166.4L169.1 274.7H136.3Z"/>
<path fill="#edf3f2" d="M165.8 284.8H239.4L241.7 274.7H168.5Z"/>
<path fill="#e6f1f0" d="M238.8 284.8H247.5L249.8 274.7H241.1Z"/>
<path fill="#edf3f2" d="M246.9 284.8H263.7L265.9 274.7H249.2Z"/>
<path fill="#e6f1f0" d="M263.1 284.8H271.9L274.0 274.7H265.3Z"/>
<path fill="#d0ece8" d="M271.3 284.8H304.3L306.2 274.7H273.4Z"/>
<path fill="#c9eae6" d="M303.7 284.8H312.4L314.3 274.7H305.6Z"/>
<path fill="#b4e2db" d="M311.8 284.8H336.8L338.5 274.7H313.7Z"/>
<path fill="#bfe7e1" d="M336.2 284.8H344.9L346.6 274.7H337.9Z"/>
<path fill="#b4e2db" d="M344.3 284.8H353.0L354.6 274.7H346.0Z"/>
<path fill="#c9eae6" d="M352.4 284.8H361.1L362.7 274.7H354.0Z"/>
<path fill="#def0ed" d="M360.5 284.8H369.2L370.8 274.7H362.1Z"/>
<path fill="#e6f1f0" d="M368.6 284.8H377.3L378.8 274.7H370.2Z"/>
<path fill="#def0ed" d="M376.7 284.8H426.0L427.2 274.7H378.2Z"/>
<path fill="#e6f1f0" d="M425.4 284.8H442.3L443.4 274.7H426.6Z"/>
<path fill="#def0ed" d="M441.7 284.8H450.4L451.4 274.7H442.8Z"/>
<path fill="#d7eeeb" d="M449.8 284.8H474.7L475.6 274.7H450.8Z"/>
<path fill="#def0ed" d="M474.1 284.8H491.0L491.8 274.7H475.0Z"/>
<path fill="#e6f1f0" d="M490.4 284.8H499.1L499.8 274.7H491.2Z"/>
<path fill="#def0ed" d="M498.5 284.8H507.2L507.9 274.7H499.2Z"/>
<path fill="#e6f1f0" d="M506.6 284.8H515.3L515.9 274.7H507.3Z"/>
<path fill="#edf3f2" d="M514.7 284.8H523.4L524.0 274.7H515.3Z"/>
<path fill="#f4f5f5" d="M522.8 284.8H555.9L556.3 274.7H523.4Z"/>
<path fill="#f4f5f5" d="M595.9 284.8H620.8L620.8 274.7H596.0Z"/>
<path fill="#f4f5f5" d="M668.9 284.8H693.8L693.4 274.7H668.6Z"/>
<path fill="#f4f5f5" d="M725.7 284.8H734.4L733.7 274.7H725.1Z"/>
<path fill="#e6f1f0" d="M733.8 284.8H742.5L741.8 274.7H733.1Z"/>
<path fill="#def0ed" d="M741.9 284.8H750.6L749.8 274.7H741.2Z"/>
<path fill="#d7eeeb" d="M750.0 284.8H766.9L766.0 274.7H749.2Z"/>
<path fill="#def0ed" d="M766.3 284.8H775.0L774.0 274.7H765.4Z"/>
<path fill="#e6f1f0" d="M774.4 284.8H783.1L782.1 274.7H773.4Z"/>
<path fill="#edf3f2" d="M782.5 284.8H791.2L790.2 274.7H781.5Z"/>
<path fill="#f4f5f5" d="M790.6 284.8H815.6L814.4 274.7H789.6Z"/>
<path fill="#f5f1e6" d="M847.4 284.8H856.1L854.7 274.7H846.0Z"/>
<path fill="#f5f1e6" d="M936.7 284.8H994.1L991.8 274.7H934.8Z"/>
<path fill="#f4f5f5" d="M1050.3 284.8H1067.1L1064.4 274.7H1047.7Z"/>
<path fill="#edf3f2" d="M1066.5 284.8H1075.2L1072.5 274.7H1063.8Z"/>
<path fill="#e6f1f0" d="M1074.6 284.8H1172.6L1169.3 274.7H1071.9Z"/>
<path fill="#edf3f2" d="M1172.0 284.8H1180.7L1177.3 274.7H1168.7Z"/>
<path fill="#f4f5f5" d="M1180.1 284.8H1188.9L1185.4 274.7H1176.7Z"/>
<path fill="#f4f5f5" d="M1196.4 284.8H1205.1L1201.5 274.7H1192.9Z"/>
<path fill="#f4f5f5" d="M71.7 275.3H96.5L100.4 265.3H75.7Z"/>
<path fill="#edf3f2" d="M95.9 275.3H104.6L108.4 265.3H99.8Z"/>
<path fill="#f4f5f5" d="M104.0 275.3H112.7L116.4 265.3H107.8Z"/>
<path fill="#edf3f2" d="M112.1 275.3H136.9L140.4 265.3H115.8Z"/>
<path fill="#f4f5f5" d="M136.3 275.3H193.3L196.4 265.3H139.8Z"/>
<path fill="#f4f5f5" d="M200.8 275.3H225.6L228.5 265.3H203.9Z"/>
<path fill="#d7eeeb" d="M233.1 275.3H241.7L244.5 265.3H235.9Z"/>
<path fill="#87d0c5" d="M241.1 275.3H249.8L252.5 265.3H243.9Z"/>
<path fill="#e6f1f0" d="M249.2 275.3H257.8L260.5 265.3H251.9Z"/>
<path fill="#def0ed" d="M257.2 275.3H265.9L268.5 265.3H259.9Z"/>
<path fill="#d0ece8" d="M265.3 275.3H274.0L276.5 265.3H267.9Z"/>
<path fill="#c9eae6" d="M273.4 275.3H298.2L300.5 265.3H275.9Z"/>
<path fill="#d0ece8" d="M297.6 275.3H306.2L308.5 265.3H299.9Z"/>
<path fill="#c9eae6" d="M305.6 275.3H314.3L316.5 265.3H307.9Z"/>
<path fill="#bfe7e1" d="M313.7 275.3H322.4L324.6 265.3H315.9Z"/>
<path fill="#c9eae6" d="M321.8 275.3H362.7L364.6 265.3H324.0Z"/>
<path fill="#d0ece8" d="M362.1 275.3H435.3L436.6 265.3H364.0Z"/>
<path fill="#d7eeeb" d="M434.7 275.3H459.5L460.7 265.3H436.0Z"/>
<path fill="#def0ed" d="M458.9 275.3H467.6L468.7 265.3H460.1Z"/>
<path fill="#e6f1f0" d="M467.0 275.3H475.6L476.7 265.3H468.1Z"/>
<path fill="#edf3f2" d="M475.0 275.3H515.9L516.7 265.3H476.1Z"/>
<path fill="#e6f1f0" d="M515.3 275.3H556.3L556.7 265.3H516.1Z"/>
<path fill="#046961" d="M555.7 275.3H564.3L564.8 265.3H556.1Z"/>
<path fill="#003c30" d="M563.7 275.3H572.4L572.8 265.3H564.2Z"/>
<path fill="#e6f1f0" d="M571.8 275.3H580.5L580.8 265.3H572.2Z"/>
<path fill="#edf3f2" d="M579.9 275.3H588.5L588.8 265.3H580.2Z"/>
<path fill="#f4f5f5" d="M587.9 275.3H620.8L620.8 265.3H588.2Z"/>
<path fill="#f4f5f5" d="M668.6 275.3H701.5L700.9 265.3H668.2Z"/>
<path fill="#f4f5f5" d="M733.1 275.3H741.8L740.9 265.3H732.3Z"/>
<path fill="#edf3f2" d="M741.2 275.3H749.8L748.9 265.3H740.3Z"/>
<path fill="#e6f1f0" d="M749.2 275.3H774.0L772.9 265.3H748.3Z"/>
<path fill="#edf3f2" d="M773.4 275.3H798.2L796.9 265.3H772.3Z"/>
<path fill="#e6f1f0" d="M797.6 275.3H806.3L805.0 265.3H796.3Z"/>
<path fill="#edf3f2" d="M805.7 275.3H814.4L813.0 265.3H804.4Z"/>
<path fill="#f4f5f5" d="M813.8 275.3H822.4L821.0 265.3H812.4Z"/>
<path fill="#f5f1e6" d="M942.8 275.3H975.7L973.1 265.3H940.5Z"/>
<path fill="#f4f5f5" d="M1047.7 275.3H1072.5L1069.2 265.3H1044.6Z"/>
<path fill="#edf3f2" d="M1071.9 275.3H1088.6L1085.2 265.3H1068.6Z"/>
<path fill="#e6f1f0" d="M1088.0 275.3H1096.7L1093.2 265.3H1084.6Z"/>
<path fill="#edf3f2" d="M1096.1 275.3H1112.8L1109.2 265.3H1092.6Z"/>
<path fill="#f4f5f5" d="M1112.2 275.3H1145.1L1141.2 265.3H1108.6Z"/>
<path fill="#edf3f2" d="M1144.5 275.3H1169.3L1165.3 265.3H1140.6Z"/>
<path fill="#f4f5f5" d="M1168.7 275.3H1185.4L1181.3 265.3H1164.7Z"/>
<path fill="#f5f1e6" d="M43.7 265.9H60.3L65.1 255.8H48.6Z"/>
<path fill="#f4f5f5" d="M171.8 265.9H204.5L208.0 255.8H175.6Z"/>
<path fill="#f4f5f5" d="M227.9 265.9H236.5L239.7 255.8H231.2Z"/>
<path fill="#def0ed" d="M235.9 265.9H244.5L247.7 255.8H239.1Z"/>
<path fill="#87d0c5" d="M243.9 265.9H252.5L255.6 255.8H247.1Z"/>
<path fill="#d0ece8" d="M251.9 265.9H260.5L263.6 255.8H255.0Z"/>
<path fill="#c9eae6" d="M259.9 265.9H292.5L295.3 255.8H263.0Z"/>
<path fill="#d0ece8" d="M291.9 265.9H308.5L311.2 255.8H294.7Z"/>
<path fill="#a8ddd5" d="M307.9 265.9H316.5L319.1 255.8H310.6Z"/>
<path fill="#258880" d="M315.9 265.9H324.6L327.1 255.8H318.5Z"/>
<path fill="#70c1b6" d="M324.0 265.9H332.6L335.0 255.8H326.5Z"/>
<path fill="#9dd9d0" d="M332.0 265.9H340.6L342.9 255.8H334.4Z"/>
<path fill="#c9eae6" d="M340.0 265.9H356.6L358.8 255.8H342.3Z"/>
<path fill="#bfe7e1" d="M356.0 265.9H364.6L366.8 255.8H358.2Z"/>
<path fill="#c9eae6" d="M364.0 265.9H420.6L422.3 255.8H366.2Z"/>
<path fill="#bfe7e1" d="M420.0 265.9H428.6L430.3 255.8H421.7Z"/>
<path fill="#c9eae6" d="M428.0 265.9H444.7L446.2 255.8H429.7Z"/>
<path fill="#d0ece8" d="M444.1 265.9H460.7L462.0 255.8H445.6Z"/>
<path fill="#d7eeeb" d="M460.1 265.9H516.7L517.6 255.8H461.4Z"/>
<path fill="#d0ece8" d="M516.1 265.9H556.7L557.3 255.8H517.0Z"/>
<path fill="#d7eeeb" d="M556.1 265.9H580.8L581.1 255.8H556.7Z"/>
<path fill="#def0ed" d="M580.2 265.9H588.8L589.0 255.8H580.5Z"/>
<path fill="#edf3f2" d="M588.2 265.9H596.8L597.0 255.8H588.4Z"/>
<path fill="#f4f5f5" d="M604.2 265.9H628.8L628.7 255.8H604.3Z"/>
<path fill="#f4f5f5" d="M668.2 265.9H708.9L708.1 255.8H667.8Z"/>
<path fill="#f4f5f5" d="M724.3 265.9H740.9L739.9 255.8H723.4Z"/>
<path fill="#edf3f2" d="M740.3 265.9H756.9L755.8 255.8H739.3Z"/>
<path fill="#e6f1f0" d="M756.3 265.9H764.9L763.7 255.8H755.2Z"/>
<path fill="#def0ed" d="M764.3 265.9H788.9L787.5 255.8H763.1Z"/>
<path fill="#d7eeeb" d="M788.3 265.9H796.9L795.4 255.8H786.9Z"/>
<path fill="#def0ed" d="M796.3 265.9H813.0L811.3 255.8H794.8Z"/>
<path fill="#e6f1f0" d="M812.4 265.9H821.0L819.3 255.8H810.7Z"/>
<path fill="#f4f5f5" d="M820.4 265.9H829.0L827.2 255.8H818.7Z"/>
<path fill="#edf3f2" d="M972.5 265.9H981.1L978.0 255.8H969.5Z"/>
<path fill="#f4f5f5" d="M980.5 265.9H989.1L986.0 255.8H977.4Z"/>
<path fill="#f4f5f5" d="M1036.5 265.9H1109.2L1105.1 255.8H1033.0Z"/>
<path fill="#f5f1e6" d="M1124.6 265.9H1133.2L1128.9 255.8H1120.3Z"/>
<path fill="#f5f1e6" d="M1164.7 265.9H1173.3L1168.6 255.8H1160.0Z"/>
<path fill="#f5efde" d="M1172.7 265.9H1181.3L1176.5 255.8H1168.0Z"/>
<path fill="#f6edd7" d="M1180.7 265.9H1197.3L1192.4 255.8H1175.9Z"/>
<path fill="#f6e9c7" d="M48.6 256.4H65.1L70.4 246.4H54.1Z"/>
<path fill="#f6ebcf" d="M64.5 256.4H96.9L101.9 246.4H69.8Z"/>
<path fill="#f5efde" d="M96.3 256.4H112.7L117.6 246.4H101.3Z"/>
<path fill="#f6e9c7" d="M112.1 256.4H120.7L125.5 246.4H117.0Z"/>
<path fill="#f1dfb3" d="M120.1 256.4H128.6L133.3 246.4H124.9Z"/>
<path fill="#f4e5be" d="M128.0 256.4H136.5L141.2 246.4H132.7Z"/>
<path fill="#f6e9c7" d="M135.9 256.4H152.4L156.9 246.4H140.6Z"/>
<path fill="#f6ebcf" d="M151.8 256.4H160.4L164.8 246.4H156.3Z"/>
<path fill="#f6edd7" d="M159.8 256.4H168.3L172.6 246.4H164.2Z"/>
<path fill="#f5f1e6" d="M167.7 256.4H176.2L180.5 246.4H172.0Z"/>
<path fill="#f4f5f5" d="M223.3 256.4H239.7L243.4 246.4H227.1Z"/>
<path fill="#def0ed" d="M239.1 256.4H247.7L251.3 246.4H242.8Z"/>
<path fill="#d0ece8" d="M247.1 256.4H255.6L259.1 246.4H250.7Z"/>
<path fill="#c9eae6" d="M255.0 256.4H287.4L290.6 246.4H258.5Z"/>
<path fill="#d0ece8" d="M286.8 256.4H303.3L306.3 246.4H290.0Z"/>
<path fill="#c9eae6" d="M302.7 256.4H311.2L314.2 246.4H305.7Z"/>
<path fill="#bfe7e1" d="M310.6 256.4H319.1L322.0 246.4H313.6Z"/>
<path fill="#7ccabe" d="M318.5 256.4H327.1L329.9 246.4H321.4Z"/>
<path fill="#2d8f87" d="M326.5 256.4H335.0L337.8 246.4H329.3Z"/>
<path fill="#58b0a7" d="M334.4 256.4H342.9L345.6 246.4H337.2Z"/>
<path fill="#b4e2db" d="M342.3 256.4H350.9L353.5 246.4H345.0Z"/>
<path fill="#bfe7e1" d="M350.3 256.4H366.8L369.2 246.4H352.9Z"/>
<path fill="#c9eae6" d="M366.2 256.4H422.3L424.2 246.4H368.6Z"/>
<path fill="#bfe7e1" d="M421.7 256.4H430.3L432.1 246.4H423.6Z"/>
<path fill="#c9eae6" d="M429.7 256.4H446.2L447.8 246.4H431.5Z"/>
<path fill="#d0ece8" d="M445.6 256.4H470.0L471.4 246.4H447.2Z"/>
<path fill="#d7eeeb" d="M469.4 256.4H557.3L557.9 246.4H470.8Z"/>
<path fill="#def0ed" d="M556.7 256.4H581.1L581.5 246.4H557.3Z"/>
<path fill="#e6f1f0" d="M580.5 256.4H589.0L589.4 246.4H580.9Z"/>
<path fill="#edf3f2" d="M588.4 256.4H597.0L597.2 246.4H588.8Z"/>
<path fill="#f4f5f5" d="M612.3 256.4H620.8L620.8 246.4H612.3Z"/>
<path fill="#f4f5f5" d="M659.9 256.4H676.4L675.8 246.4H659.5Z"/>
<path fill="#edf3f2" d="M675.8 256.4H692.2L691.6 246.4H675.2Z"/>
<path fill="#e6f1f0" d="M691.6 256.4H708.1L707.3 246.4H691.0Z"/>
<path fill="#edf3f2" d="M707.5 256.4H731.9L730.9 246.4H706.7Z"/>
<path fill="#e6f1f0" d="M731.3 256.4H739.9L738.7 246.4H730.3Z"/>
<path fill="#def0ed" d="M739.3 256.4H755.8L754.5 246.4H738.1Z"/>
<path fill="#c9eae6" d="M755.2 256.4H763.7L762.3 246.4H753.9Z"/>
<path fill="#b4e2db" d="M763.1 256.4H771.6L770.2 246.4H761.7Z"/>
<path fill="#d0ece8" d="M771.0 256.4H787.5L785.9 246.4H769.6Z"/>
<path fill="#d7eeeb" d="M786.9 256.4H811.3L809.5 246.4H785.3Z"/>
<path fill="#def0ed" d="M810.7 256.4H819.3L817.4 246.4H808.9Z"/>
<path fill="#edf3f2" d="M818.7 256.4H827.2L825.2 246.4H816.8Z"/>
<path fill="#f4f5f5" d="M826.6 256.4H835.1L833.1 246.4H824.6Z"/>
<path fill="#f4f5f5" d="M937.7 256.4H954.2L951.0 246.4H934.7Z"/>
<path fill="#f4f5f5" d="M961.6 256.4H970.1L966.7 246.4H958.3Z"/>
<path fill="#e6f1f0" d="M969.5 256.4H978.0L974.6 246.4H966.1Z"/>
<path fill="#def0ed" d="M977.4 256.4H986.0L982.5 246.4H974.0Z"/>
<path fill="#edf3f2" d="M985.4 256.4H993.9L990.3 246.4H981.9Z"/>
<path fill="#f4f5f5" d="M1017.1 256.4H1049.5L1045.4 246.4H1013.3Z"/>
<path fill="#f4f5f5" d="M1056.8 256.4H1065.4L1061.1 246.4H1052.6Z"/>
<path fill="#f5efde" d="M1088.6 256.4H1097.1L1092.5 246.4H1084.1Z"/>
<path fill="#f6edd7" d="M1096.5 256.4H1105.1L1100.4 246.4H1091.9Z"/>
<path fill="#f6ebcf" d="M1104.5 256.4H1184.4L1179.0 246.4H1099.8Z"/>
<path fill="#f6edd7" d="M1183.8 256.4H1192.4L1186.9 246.4H1178.4Z"/>
<path fill="#f1dfb3" d="M54.1 247.0H70.4L76.3 237.0H60.1Z"/>
<path fill="#f4e5be" d="M69.8 247.0H94.0L99.6 237.0H75.7Z"/>
<path fill="#f6e9c7" d="M93.4 247.0H101.9L107.4 237.0H99.0Z"/>
<path fill="#f5efde" d="M101.3 247.0H109.7L115.2 237.0H106.8Z"/>
<path fill="#f6e9c7" d="M109.1 247.0H117.6L123.0 237.0H114.6Z"/>
<path fill="#e2c787" d="M117.0 247.0H133.3L138.5 237.0H122.4Z"/>
<path fill="#e9d39d" d="M132.7 247.0H149.1L154.1 237.0H137.9Z"/>
<path fill="#e6cd92" d="M148.5 247.0H164.8L169.6 237.0H153.5Z"/>
<path fill="#e9d39d" d="M164.2 247.0H172.6L177.4 237.0H169.0Z"/>
<path fill="#f1dfb3" d="M172.0 247.0H180.5L185.2 237.0H176.8Z"/>
<path fill="#f4e5be" d="M179.9 247.0H188.4L193.0 237.0H184.6Z"/>
<path fill="#f6ebcf" d="M187.8 247.0H196.2L200.7 237.0H192.4Z"/>
<path fill="#f5efde" d="M195.6 247.0H204.1L208.5 237.0H200.1Z"/>
<path fill="#f4f5f5" d="M227.1 247.0H235.5L239.6 237.0H231.3Z"/>
<path fill="#e6f1f0" d="M234.9 247.0H243.4L247.4 237.0H239.0Z"/>
<path fill="#d7eeeb" d="M242.8 247.0H251.3L255.2 237.0H246.8Z"/>
<path fill="#d0ece8" d="M250.7 247.0H274.9L278.5 237.0H254.6Z"/>
<path fill="#c9eae6" d="M274.3 247.0H306.3L309.6 237.0H277.9Z"/>
<path fill="#bfe7e1" d="M305.7 247.0H329.9L333.0 237.0H309.0Z"/>
<path fill="#a8ddd5" d="M329.3 247.0H337.8L340.8 237.0H332.4Z"/>
<path fill="#b4e2db" d="M337.2 247.0H345.6L348.5 237.0H340.2Z"/>
<path fill="#bfe7e1" d="M345.0 247.0H369.2L371.9 237.0H347.9Z"/>
<path fill="#c9eae6" d="M368.6 247.0H377.1L379.7 237.0H371.3Z"/>
<path fill="#bfe7e1" d="M376.5 247.0H384.9L387.4 237.0H379.1Z"/>
<path fill="#c9eae6" d="M384.3 247.0H440.0L441.9 237.0H386.8Z"/>
<path fill="#d0ece8" d="M439.4 247.0H447.8L449.7 237.0H441.3Z"/>
<path fill="#d7eeeb" d="M447.2 247.0H455.7L457.4 237.0H449.1Z"/>
<path fill="#e6f1f0" d="M455.1 247.0H463.6L465.2 237.0H456.8Z"/>
<path fill="#edf3f2" d="M463.0 247.0H471.4L473.0 237.0H464.6Z"/>
<path fill="#f4f5f5" d="M470.8 247.0H487.1L488.6 237.0H472.4Z"/>
<path fill="#edf3f2" d="M486.5 247.0H526.5L527.5 237.0H488.0Z"/>
<path fill="#f4f5f5" d="M525.9 247.0H542.2L543.0 237.0H526.9Z"/>
<path fill="#edf3f2" d="M541.6 247.0H550.0L550.8 237.0H542.4Z"/>
<path fill="#f4f5f5" d="M549.4 247.0H581.5L581.9 237.0H550.2Z"/>
<path fill="#def0ed" d="M580.9 247.0H589.4L589.7 237.0H581.3Z"/>
<path fill="#58b0a7" d="M588.8 247.0H597.2L597.5 237.0H589.1Z"/>
<path fill="#b4e2db" d="M596.6 247.0H605.1L605.2 237.0H596.9Z"/>
<path fill="#d0ece8" d="M604.5 247.0H612.9L613.0 237.0H604.6Z"/>
<path fill="#f4f5f5" d="M612.3 247.0H620.8L620.8 237.0H612.4Z"/>
<path fill="#f4f5f5" d="M628.1 247.0H644.4L644.1 237.0H628.0Z"/>
<path fill="#edf3f2" d="M643.8 247.0H652.2L651.9 237.0H643.5Z"/>
<path fill="#e6f1f0" d="M651.6 247.0H668.0L667.5 237.0H651.3Z"/>
<path fill="#def0ed" d="M667.4 247.0H675.8L675.3 237.0H666.9Z"/>
<path fill="#d7eeeb" d="M675.2 247.0H683.7L683.0 237.0H674.7Z"/>
<path fill="#d0ece8" d="M683.1 247.0H691.6L690.8 237.0H682.4Z"/>
<path fill="#c9eae6" d="M691.0 247.0H699.4L698.6 237.0H690.2Z"/>
<path fill="#9dd9d0" d="M698.8 247.0H707.3L706.4 237.0H698.0Z"/>
<path fill="#2d8f87" d="M706.7 247.0H715.1L714.1 237.0H705.8Z"/>
<path fill="#def0ed" d="M714.5 247.0H730.9L729.7 237.0H713.5Z"/>
<path fill="#d7eeeb" d="M730.3 247.0H762.3L760.8 237.0H729.1Z"/>
<path fill="#c9eae6" d="M761.7 247.0H770.2L768.6 237.0H760.2Z"/>
<path fill="#d0ece8" d="M769.6 247.0H778.0L776.4 237.0H768.0Z"/>
<path fill="#d7eeeb" d="M777.4 247.0H809.5L807.5 237.0H775.8Z"/>
<path fill="#def0ed" d="M808.9 247.0H817.4L815.3 237.0H806.9Z"/>
<path fill="#edf3f2" d="M816.8 247.0H825.2L823.0 237.0H814.7Z"/>
<path fill="#f4f5f5" d="M824.6 247.0H833.1L830.8 237.0H822.4Z"/>
<path fill="#f5f1e6" d="M911.1 247.0H919.6L916.4 237.0H908.0Z"/>
<path fill="#f4f5f5" d="M934.7 247.0H951.0L947.5 237.0H931.4Z"/>
<path fill="#f4f5f5" d="M966.1 247.0H974.6L970.8 237.0H962.5Z"/>
<path fill="#edf3f2" d="M974.0 247.0H982.5L978.6 237.0H970.2Z"/>
<path fill="#f4f5f5" d="M981.9 247.0H990.3L986.4 237.0H978.0Z"/>
<path fill="#f5f1e6" d="M997.6 247.0H1006.1L1002.0 237.0H993.6Z"/>
<path fill="#f4f5f5" d="M1013.3 247.0H1029.6L1025.3 237.0H1009.1Z"/>
<path fill="#f5f1e6" d="M1084.1 247.0H1092.5L1087.5 237.0H1079.2Z"/>
<path fill="#f6ebcf" d="M1091.9 247.0H1100.4L1095.3 237.0H1086.9Z"/>
<path fill="#f6edd7" d="M1099.8 247.0H1116.1L1110.9 237.0H1094.7Z"/>
<path fill="#f5efde" d="M1115.5 247.0H1131.9L1126.4 237.0H1110.3Z"/>
<path fill="#f5f1e6" d="M1131.3 247.0H1147.6L1142.0 237.0H1125.8Z"/>
<path fill="#f4f5f5" d="M1170.6 247.0H1186.9L1180.9 237.0H1164.7Z"/>
<path fill="#f6e9c7" d="M60.1 237.6H68.5L75.1 227.6H66.8Z"/>
<path fill="#f6ebcf" d="M67.9 237.6H84.1L90.4 227.6H74.5Z"/>
<path fill="#f6e9c7" d="M83.5 237.6H91.8L98.1 227.6H89.8Z"/>
<path fill="#f6ebcf" d="M91.2 237.6H99.6L105.8 227.6H97.5Z"/>
<path fill="#f5efde" d="M99.0 237.6H107.4L113.5 227.6H105.2Z"/>
<path fill="#f5f1e6" d="M106.8 237.6H115.2L121.2 227.6H112.9Z"/>
<path fill="#f6e9c7" d="M114.6 237.6H123.0L128.9 227.6H120.6Z"/>
<path fill="#f1dfb3" d="M122.4 237.6H130.7L136.6 227.6H128.3Z"/>
<path fill="#e9d39d" d="M130.1 237.6H138.5L144.2 227.6H136.0Z"/>
<path fill="#edd9a8" d="M137.9 237.6H154.1L159.6 227.6H143.6Z"/>
<path fill="#e9d39d" d="M153.5 237.6H185.2L190.4 227.6H159.0Z"/>
<path fill="#e6cd92" d="M184.6 237.6H193.0L198.0 227.6H189.8Z"/>
<path fill="#e9d39d" d="M192.4 237.6H200.7L205.7 227.6H197.4Z"/>
<path fill="#f6edd7" d="M200.1 237.6H208.5L213.4 227.6H205.1Z"/>
<path fill="#f4f5f5" d="M223.5 237.6H239.6L244.2 227.6H228.2Z"/>
<path fill="#e6f1f0" d="M239.0 237.6H247.4L251.9 227.6H243.6Z"/>
<path fill="#def0ed" d="M246.8 237.6H263.0L267.2 227.6H251.3Z"/>
<path fill="#d7eeeb" d="M262.4 237.6H278.5L282.6 227.6H266.6Z"/>
<path fill="#d0ece8" d="M277.9 237.6H286.3L290.3 227.6H282.0Z"/>
<path fill="#c9eae6" d="M285.7 237.6H340.8L344.1 227.6H289.7Z"/>
<path fill="#bfe7e1" d="M340.2 237.6H348.5L351.8 227.6H343.5Z"/>
<path fill="#b4e2db" d="M347.9 237.6H364.1L367.1 227.6H351.2Z"/>
<path fill="#bfe7e1" d="M363.5 237.6H371.9L374.8 227.6H366.5Z"/>
<path fill="#7ccabe" d="M371.3 237.6H379.7L382.5 227.6H374.2Z"/>
<path fill="#1d8078" d="M379.1 237.6H387.4L390.2 227.6H381.9Z"/>
<path fill="#4da89f" d="M386.8 237.6H395.2L397.9 227.6H389.6Z"/>
<path fill="#bfe7e1" d="M394.6 237.6H403.0L405.6 227.6H397.3Z"/>
<path fill="#c9eae6" d="M402.4 237.6H434.1L436.3 227.6H405.0Z"/>
<path fill="#d0ece8" d="M433.5 237.6H441.9L444.0 227.6H435.7Z"/>
<path fill="#def0ed" d="M441.3 237.6H449.7L451.7 227.6H443.4Z"/>
<path fill="#f4f5f5" d="M449.1 237.6H457.4L459.4 227.6H451.1Z"/>
<path fill="#f5efde" d="M456.8 237.6H465.2L467.1 227.6H458.8Z"/>
<path fill="#f6edd7" d="M464.6 237.6H473.0L474.8 227.6H466.5Z"/>
<path fill="#f6ebcf" d="M472.4 237.6H480.8L482.4 227.6H474.2Z"/>
<path fill="#f6edd7" d="M480.2 237.6H488.6L490.1 227.6H481.8Z"/>
<path fill="#f5efde" d="M488.0 237.6H496.3L497.8 227.6H489.5Z"/>
<path fill="#f5f1e6" d="M495.7 237.6H504.1L505.5 227.6H497.2Z"/>
<path fill="#edf3f2" d="M581.3 237.6H589.7L590.1 227.6H581.8Z"/>
<path fill="#a8ddd5" d="M589.1 237.6H597.5L597.7 227.6H589.5Z"/>
<path fill="#9dd9d0" d="M596.9 237.6H613.0L613.1 227.6H597.1Z"/>
<path fill="#c9eae6" d="M612.4 237.6H620.8L620.8 227.6H612.5Z"/>
<path fill="#f4f5f5" d="M620.2 237.6H636.4L636.2 227.6H620.2Z"/>
<path fill="#e6f1f0" d="M635.8 237.6H644.1L643.9 227.6H635.6Z"/>
<path fill="#d7eeeb" d="M643.5 237.6H651.9L651.5 227.6H643.3Z"/>
<path fill="#c9eae6" d="M651.3 237.6H659.7L659.2 227.6H650.9Z"/>
<path fill="#bfe7e1" d="M659.1 237.6H675.3L674.6 227.6H658.6Z"/>
<path fill="#b4e2db" d="M674.7 237.6H698.6L697.7 227.6H674.0Z"/>
<path fill="#92d4ca" d="M698.0 237.6H706.4L705.4 227.6H697.1Z"/>
<path fill="#419f97" d="M705.8 237.6H714.1L713.0 227.6H704.8Z"/>
<path fill="#d0ece8" d="M713.5 237.6H721.9L720.7 227.6H712.4Z"/>
<path fill="#def0ed" d="M721.3 237.6H729.7L728.4 227.6H720.1Z"/>
<path fill="#d7eeeb" d="M729.1 237.6H776.4L774.5 227.6H727.8Z"/>
<path fill="#def0ed" d="M775.8 237.6H791.9L789.9 227.6H773.9Z"/>
<path fill="#e6f1f0" d="M791.3 237.6H807.5L805.3 227.6H789.3Z"/>
<path fill="#edf3f2" d="M806.9 237.6H815.3L813.0 227.6H804.7Z"/>
<path fill="#f4f5f5" d="M814.7 237.6H830.8L828.3 227.6H812.4Z"/>
<path fill="#f4f5f5" d="M923.6 237.6H955.3L951.3 227.6H920.0Z"/>
<path fill="#edf3f2" d="M1009.1 237.6H1017.5L1012.8 227.6H1004.5Z"/>
<path fill="#a8ddd5" d="M1016.9 237.6H1025.3L1020.5 227.6H1012.2Z"/>
<path fill="#f4f5f5" d="M1086.9 237.6H1110.9L1105.0 227.6H1081.4Z"/>
<path fill="#edf3f2" d="M1110.3 237.6H1142.0L1135.8 227.6H1104.4Z"/>
<path fill="#e6f1f0" d="M1141.4 237.6H1180.9L1174.2 227.6H1135.2Z"/>
<path fill="#f4f5f5" d="M105.2 228.2H113.5L120.3 218.2H112.1Z"/>
<path fill="#f5f1e6" d="M120.6 228.2H128.9L135.4 218.2H127.2Z"/>
<path fill="#f6ebcf" d="M128.3 228.2H136.6L143.0 218.2H134.8Z"/>
<path fill="#f4e5be" d="M136.0 228.2H144.2L150.6 218.2H142.4Z"/>
<path fill="#f1dfb3" d="M143.6 228.2H151.9L158.2 218.2H150.0Z"/>
<path fill="#edd9a8" d="M151.3 228.2H159.6L165.8 218.2H157.6Z"/>
<path fill="#e9d39d" d="M159.0 228.2H175.0L180.9 218.2H165.2Z"/>
<path fill="#edd9a8" d="M174.4 228.2H205.7L211.3 218.2H180.3Z"/>
<path fill="#f6e9c7" d="M205.1 228.2H213.4L218.8 218.2H210.7Z"/>
<path fill="#f5efde" d="M212.8 228.2H221.1L226.4 218.2H218.2Z"/>
<path fill="#f5f1e6" d="M220.5 228.2H228.8L234.0 218.2H225.8Z"/>
<path fill="#f4f5f5" d="M235.9 228.2H251.9L256.8 218.2H241.0Z"/>
<path fill="#f5f1e6" d="M258.9 228.2H267.2L271.9 218.2H263.7Z"/>
<path fill="#e6f1f0" d="M274.3 228.2H282.6L287.1 218.2H278.9Z"/>
<path fill="#d7eeeb" d="M282.0 228.2H336.4L340.2 218.2H286.5Z"/>
<path fill="#c9eae6" d="M335.8 228.2H344.1L347.8 218.2H339.6Z"/>
<path fill="#b4e2db" d="M343.5 228.2H374.8L378.1 218.2H347.2Z"/>
<path fill="#87d0c5" d="M374.2 228.2H382.5L385.7 218.2H377.5Z"/>
<path fill="#01554b" d="M381.9 228.2H397.9L400.9 218.2H385.1Z"/>
<path fill="#258880" d="M397.3 228.2H405.6L408.4 218.2H400.3Z"/>
<path fill="#a8ddd5" d="M405.0 228.2H413.3L416.0 218.2H407.8Z"/>
<path fill="#c9eae6" d="M412.7 228.2H421.0L423.6 218.2H415.4Z"/>
<path fill="#d0ece8" d="M420.4 228.2H436.3L438.8 218.2H423.0Z"/>
<path fill="#def0ed" d="M435.7 228.2H444.0L446.4 218.2H438.2Z"/>
<path fill="#f4f5f5" d="M443.4 228.2H451.7L454.0 218.2H445.8Z"/>
<path fill="#f5efde" d="M451.1 228.2H459.4L461.5 218.2H453.4Z"/>
<path fill="#f6e9c7" d="M458.8 228.2H467.1L469.1 218.2H460.9Z"/>
<path fill="#f1dfb3" d="M466.5 228.2H474.8L476.7 218.2H468.5Z"/>
<path fill="#edd9a8" d="M474.2 228.2H482.4L484.3 218.2H476.1Z"/>
<path fill="#f1dfb3" d="M481.8 228.2H490.1L491.9 218.2H483.7Z"/>
<path fill="#f6e9c7" d="M489.5 228.2H497.8L499.5 218.2H491.3Z"/>
<path fill="#f6edd7" d="M497.2 228.2H505.5L507.0 218.2H498.9Z"/>
<path fill="#f5efde" d="M504.9 228.2H513.2L514.6 218.2H506.4Z"/>
<path fill="#f5f1e6" d="M512.6 228.2H520.9L522.2 218.2H514.0Z"/>
<path fill="#f4f5f5" d="M574.1 228.2H582.4L582.9 218.2H574.7Z"/>
<path fill="#e6f1f0" d="M581.8 228.2H590.1L590.5 218.2H582.3Z"/>
<path fill="#9dd9d0" d="M589.5 228.2H613.1L613.2 218.2H589.9Z"/>
<path fill="#c9eae6" d="M612.5 228.2H620.8L620.8 218.2H612.6Z"/>
<path fill="#def0ed" d="M620.2 228.2H628.5L628.4 218.2H620.2Z"/>
<path fill="#70c1b6" d="M627.9 228.2H636.2L636.0 218.2H627.8Z"/>
<path fill="#b4e2db" d="M635.6 228.2H643.9L643.6 218.2H635.4Z"/>
<path fill="#bfe7e1" d="M643.3 228.2H651.5L651.1 218.2H643.0Z"/>
<path fill="#b4e2db" d="M650.9 228.2H682.3L681.5 218.2H650.5Z"/>
<path fill="#bfe7e1" d="M681.7 228.2H713.0L711.8 218.2H680.9Z"/>
<path fill="#c9eae6" d="M712.4 228.2H720.7L719.4 218.2H711.2Z"/>
<path fill="#def0ed" d="M720.1 228.2H759.2L757.3 218.2H718.8Z"/>
<path fill="#e6f1f0" d="M758.6 228.2H774.5L772.5 218.2H756.7Z"/>
<path fill="#edf3f2" d="M773.9 228.2H789.9L787.6 218.2H771.9Z"/>
<path fill="#f4f5f5" d="M789.3 228.2H813.0L810.4 218.2H787.0Z"/>
<path fill="#edf3f2" d="M812.4 228.2H820.6L818.0 218.2H809.8Z"/>
<path fill="#d7eeeb" d="M820.0 228.2H828.3L825.6 218.2H817.4Z"/>
<path fill="#edf3f2" d="M827.7 228.2H836.0L833.2 218.2H825.0Z"/>
<path fill="#f4f5f5" d="M850.8 228.2H874.5L871.1 218.2H847.7Z"/>
<path fill="#f4f5f5" d="M920.0 228.2H959.0L954.5 218.2H916.0Z"/>
<path fill="#f4f5f5" d="M1050.6 228.2H1082.0L1075.8 218.2H1044.9Z"/>
<path fill="#edf3f2" d="M1081.4 228.2H1128.1L1121.3 218.2H1075.2Z"/>
<path fill="#e6f1f0" d="M1127.5 228.2H1143.5L1136.5 218.2H1120.7Z"/>
<path fill="#def0ed" d="M1142.9 228.2H1158.8L1151.7 218.2H1135.9Z"/>
<path fill="#e6f1f0" d="M1158.2 228.2H1174.2L1166.9 218.2H1151.1Z"/>
<path fill="#f4f5f5" d="M89.3 218.8H97.5L105.1 208.9H97.0Z"/>
<path fill="#edf3f2" d="M96.9 218.8H112.7L120.0 208.9H104.5Z"/>
<path fill="#f4f5f5" d="M112.1 218.8H127.8L135.0 208.9H119.4Z"/>
<path fill="#f5f1e6" d="M150.0 218.8H158.2L164.9 208.9H156.8Z"/>
<path fill="#f5efde" d="M157.6 218.8H165.8L172.3 208.9H164.3Z"/>
<path fill="#f6edd7" d="M165.2 218.8H173.3L179.8 208.9H171.7Z"/>
<path fill="#f6e9c7" d="M172.7 218.8H180.9L187.3 208.9H179.2Z"/>
<path fill="#f4e5be" d="M180.3 218.8H188.5L194.8 208.9H186.7Z"/>
<path fill="#f1dfb3" d="M187.9 218.8H196.1L202.2 208.9H194.2Z"/>
<path fill="#edd9a8" d="M195.5 218.8H203.7L209.7 208.9H201.6Z"/>
<path fill="#e9d39d" d="M203.1 218.8H218.8L224.6 208.9H209.1Z"/>
<path fill="#f1dfb3" d="M218.2 218.8H226.4L232.1 208.9H224.0Z"/>
<path fill="#f6e9c7" d="M225.8 218.8H234.0L239.6 208.9H231.5Z"/>
<path fill="#f6edd7" d="M233.4 218.8H241.6L247.1 208.9H239.0Z"/>
<path fill="#f5efde" d="M241.0 218.8H249.2L254.5 208.9H246.5Z"/>
<path fill="#f6ebcf" d="M248.6 218.8H256.8L262.0 208.9H253.9Z"/>
<path fill="#f4e5be" d="M256.2 218.8H264.3L269.5 208.9H261.4Z"/>
<path fill="#f6e9c7" d="M263.7 218.8H271.9L277.0 208.9H268.9Z"/>
<path fill="#f5efde" d="M271.3 218.8H279.5L284.4 208.9H276.4Z"/>
<path fill="#e6f1f0" d="M278.9 218.8H287.1L291.9 208.9H283.8Z"/>
<path fill="#def0ed" d="M286.5 218.8H294.7L299.4 208.9H291.3Z"/>
<path fill="#d7eeeb" d="M294.1 218.8H325.0L329.3 208.9H298.8Z"/>
<path fill="#d0ece8" d="M324.4 218.8H340.2L344.2 208.9H328.7Z"/>
<path fill="#bfe7e1" d="M339.6 218.8H347.8L351.7 208.9H343.6Z"/>
<path fill="#b4e2db" d="M347.2 218.8H385.7L389.1 208.9H351.1Z"/>
<path fill="#a8ddd5" d="M385.1 218.8H393.3L396.6 208.9H388.5Z"/>
<path fill="#258880" d="M392.7 218.8H400.9L404.0 208.9H396.0Z"/>
<path fill="#01554b" d="M400.3 218.8H416.0L419.0 208.9H403.4Z"/>
<path fill="#4da89f" d="M415.4 218.8H423.6L426.5 208.9H418.4Z"/>
<path fill="#b4e2db" d="M423.0 218.8H431.2L433.9 208.9H425.9Z"/>
<path fill="#d0ece8" d="M430.6 218.8H438.8L441.4 208.9H433.3Z"/>
<path fill="#def0ed" d="M438.2 218.8H446.4L448.9 208.9H440.8Z"/>
<path fill="#f4f5f5" d="M445.8 218.8H454.0L456.4 208.9H448.3Z"/>
<path fill="#f6edd7" d="M453.4 218.8H461.5L463.8 208.9H455.8Z"/>
<path fill="#f4e5be" d="M460.9 218.8H469.1L471.3 208.9H463.2Z"/>
<path fill="#edd9a8" d="M468.5 218.8H476.7L478.8 208.9H470.7Z"/>
<path fill="#e9d39d" d="M476.1 218.8H499.5L501.2 208.9H478.2Z"/>
<path fill="#f1dfb3" d="M498.9 218.8H507.0L508.7 208.9H500.6Z"/>
<path fill="#f6ebcf" d="M506.4 218.8H514.6L516.2 208.9H508.1Z"/>
<path fill="#f5efde" d="M514.0 218.8H522.2L523.6 208.9H515.6Z"/>
<path fill="#f5f1e6" d="M521.6 218.8H537.4L538.6 208.9H523.0Z"/>
<path fill="#d0ece8" d="M582.3 218.8H590.5L590.9 208.9H582.8Z"/>
<path fill="#87d0c5" d="M589.9 218.8H620.8L620.8 208.9H590.3Z"/>
<path fill="#b4e2db" d="M620.2 218.8H628.4L628.3 208.9H620.2Z"/>
<path fill="#70c1b6" d="M627.8 218.8H636.0L635.7 208.9H627.7Z"/>
<path fill="#c9eae6" d="M635.4 218.8H651.1L650.7 208.9H635.1Z"/>
<path fill="#bfe7e1" d="M650.5 218.8H673.9L673.1 208.9H650.1Z"/>
<path fill="#64b9ae" d="M673.3 218.8H681.5L680.6 208.9H672.5Z"/>
<path fill="#bfe7e1" d="M680.9 218.8H689.1L688.1 208.9H680.0Z"/>
<path fill="#c9eae6" d="M688.5 218.8H704.2L703.0 208.9H687.5Z"/>
<path fill="#bfe7e1" d="M703.6 218.8H711.8L710.5 208.9H702.4Z"/>
<path fill="#b4e2db" d="M711.2 218.8H719.4L718.0 208.9H709.9Z"/>
<path fill="#d0ece8" d="M718.8 218.8H727.0L725.4 208.9H717.4Z"/>
<path fill="#e6f1f0" d="M726.4 218.8H757.3L755.3 208.9H724.8Z"/>
<path fill="#f4e5be" d="M764.3 218.8H772.5L770.3 208.9H762.2Z"/>
<path fill="#f4f5f5" d="M779.5 218.8H787.6L785.2 208.9H777.2Z"/>
<path fill="#e6f1f0" d="M817.4 218.8H825.6L822.6 208.9H814.5Z"/>
<path fill="#edf3f2" d="M825.0 218.8H833.2L830.1 208.9H822.0Z"/>
<path fill="#f4f5f5" d="M847.7 218.8H855.9L852.5 208.9H844.4Z"/>
<path fill="#f4f5f5" d="M908.4 218.8H977.3L972.1 208.9H904.2Z"/>
<path fill="#f4f5f5" d="M1044.9 218.8H1075.8L1069.3 208.9H1038.8Z"/>
<path fill="#edf3f2" d="M1075.2 218.8H1113.8L1106.6 208.9H1068.7Z"/>
<path fill="#e6f1f0" d="M1113.2 218.8H1128.9L1121.6 208.9H1106.0Z"/>
<path fill="#def0ed" d="M1128.3 218.8H1151.7L1144.0 208.9H1121.0Z"/>
<path fill="#e6f1f0" d="M1151.1 218.8H1166.9L1159.0 208.9H1143.4Z"/>
<path fill="#f4f5f5" d="M82.0 209.5H90.1L98.2 199.7H90.3Z"/>
<path fill="#e6f1f0" d="M89.5 209.5H97.6L105.6 199.7H97.6Z"/>
<path fill="#d7eeeb" d="M97.0 209.5H105.1L112.9 199.7H105.0Z"/>
<path fill="#def0ed" d="M104.5 209.5H112.5L120.3 199.7H112.3Z"/>
<path fill="#f4f5f5" d="M111.9 209.5H157.4L164.5 199.7H119.7Z"/>
<path fill="#f5f1e6" d="M186.7 209.5H194.8L201.3 199.7H193.3Z"/>
<path fill="#f5efde" d="M194.2 209.5H202.2L208.6 199.7H200.7Z"/>
<path fill="#f6ebcf" d="M201.6 209.5H209.7L216.0 199.7H208.0Z"/>
<path fill="#f4e5be" d="M209.1 209.5H217.2L223.3 199.7H215.4Z"/>
<path fill="#edd9a8" d="M216.6 209.5H224.6L230.7 199.7H222.7Z"/>
<path fill="#e9d39d" d="M224.0 209.5H239.6L245.4 199.7H230.1Z"/>
<path fill="#f1dfb3" d="M239.0 209.5H247.1L252.8 199.7H244.8Z"/>
<path fill="#ca9849" d="M246.5 209.5H254.5L260.1 199.7H252.2Z"/>
<path fill="#a16518" d="M253.9 209.5H262.0L267.5 199.7H259.5Z"/>
<path fill="#f1dfb3" d="M261.4 209.5H269.5L274.9 199.7H266.9Z"/>
<path fill="#f6e9c7" d="M268.9 209.5H277.0L282.2 199.7H274.3Z"/>
<path fill="#f5f1e6" d="M276.4 209.5H284.4L289.6 199.7H281.6Z"/>
<path fill="#edf3f2" d="M283.8 209.5H291.9L296.9 199.7H289.0Z"/>
<path fill="#e6f1f0" d="M291.3 209.5H314.3L319.0 199.7H296.3Z"/>
<path fill="#def0ed" d="M313.7 209.5H321.8L326.4 199.7H318.4Z"/>
<path fill="#d7eeeb" d="M321.2 209.5H329.3L333.7 199.7H325.8Z"/>
<path fill="#d0ece8" d="M328.7 209.5H336.8L341.1 199.7H333.1Z"/>
<path fill="#c9eae6" d="M336.2 209.5H359.2L363.2 199.7H340.5Z"/>
<path fill="#d0ece8" d="M358.6 209.5H374.1L377.9 199.7H362.6Z"/>
<path fill="#c9eae6" d="M373.5 209.5H389.1L392.6 199.7H377.3Z"/>
<path fill="#bfe7e1" d="M388.5 209.5H404.0L407.3 199.7H392.0Z"/>
<path fill="#92d4ca" d="M403.4 209.5H411.5L414.7 199.7H406.7Z"/>
<path fill="#147870" d="M410.9 209.5H419.0L422.1 199.7H414.1Z"/>
<path fill="#258880" d="M418.4 209.5H426.5L429.4 199.7H421.5Z"/>
<path fill="#419f97" d="M425.9 209.5H433.9L436.8 199.7H428.8Z"/>
<path fill="#bfe7e1" d="M433.3 209.5H441.4L444.2 199.7H436.2Z"/>
<path fill="#c9eae6" d="M440.8 209.5H448.9L451.5 199.7H443.6Z"/>
<path fill="#e6f1f0" d="M448.3 209.5H456.4L458.9 199.7H450.9Z"/>
<path fill="#f5f1e6" d="M455.8 209.5H463.8L466.2 199.7H458.3Z"/>
<path fill="#f6e9c7" d="M463.2 209.5H471.3L473.6 199.7H465.6Z"/>
<path fill="#f1dfb3" d="M470.7 209.5H478.8L481.0 199.7H473.0Z"/>
<path fill="#e9d39d" d="M478.2 209.5H508.7L510.4 199.7H480.4Z"/>
<path fill="#f1dfb3" d="M508.1 209.5H516.2L517.8 199.7H509.8Z"/>
<path fill="#f6e9c7" d="M515.6 209.5H523.6L525.1 199.7H517.2Z"/>
<path fill="#f6edd7" d="M523.0 209.5H531.1L532.5 199.7H524.5Z"/>
<path fill="#f5efde" d="M530.5 209.5H538.6L539.8 199.7H531.9Z"/>
<path fill="#f5f1e6" d="M538.0 209.5H546.1L547.2 199.7H539.2Z"/>
<path fill="#f4f5f5" d="M582.8 209.5H590.9L591.4 199.7H583.4Z"/>
<path fill="#def0ed" d="M590.3 209.5H598.4L598.7 199.7H590.8Z"/>
<path fill="#d0ece8" d="M597.8 209.5H605.9L606.1 199.7H598.1Z"/>
<path fill="#bfe7e1" d="M605.3 209.5H620.8L620.8 199.7H605.5Z"/>
<path fill="#edf3f2" d="M620.2 209.5H635.7L635.5 199.7H620.2Z"/>
<path fill="#e6f1f0" d="M635.1 209.5H643.2L642.9 199.7H634.9Z"/>
<path fill="#d7eeeb" d="M642.6 209.5H650.7L650.2 199.7H642.3Z"/>
<path fill="#bfe7e1" d="M650.1 209.5H658.2L657.6 199.7H649.6Z"/>
<path fill="#64b9ae" d="M657.6 209.5H665.6L665.0 199.7H657.0Z"/>
<path fill="#bfe7e1" d="M665.0 209.5H673.1L672.3 199.7H664.4Z"/>
<path fill="#b4e2db" d="M672.5 209.5H680.6L679.7 199.7H671.7Z"/>
<path fill="#c9eae6" d="M680.0 209.5H703.0L701.8 199.7H679.1Z"/>
<path fill="#d0ece8" d="M702.4 209.5H718.0L716.5 199.7H701.2Z"/>
<path fill="#d7eeeb" d="M717.4 209.5H725.4L723.8 199.7H715.9Z"/>
<path fill="#def0ed" d="M724.8 209.5H755.3L753.3 199.7H723.2Z"/>
<path fill="#e6f1f0" d="M754.7 209.5H762.8L760.6 199.7H752.7Z"/>
<path fill="#f4f5f5" d="M769.7 209.5H777.8L775.4 199.7H767.4Z"/>
<path fill="#f4f5f5" d="M911.7 209.5H949.7L944.7 199.7H907.3Z"/>
<path fill="#f4f5f5" d="M1038.8 209.5H1061.8L1055.1 199.7H1032.4Z"/>
<path fill="#edf3f2" d="M1061.2 209.5H1099.2L1091.9 199.7H1054.5Z"/>
<path fill="#e6f1f0" d="M1098.6 209.5H1151.5L1143.4 199.7H1091.3Z"/>
<path fill="#def0ed" d="M1150.9 209.5H1159.0L1150.7 199.7H1142.8Z"/>
<path fill="#edf3f2" d="M90.3 200.3H98.2L106.9 190.5H99.0Z"/>
<path fill="#def0ed" d="M97.6 200.3H112.9L121.3 190.5H106.3Z"/>
<path fill="#e6f1f0" d="M112.3 200.3H120.3L128.6 190.5H120.7Z"/>
<path fill="#f4f5f5" d="M119.7 200.3H164.5L172.0 190.5H128.0Z"/>
<path fill="#f4f5f5" d="M178.6 200.3H186.5L193.7 190.5H185.9Z"/>
<path fill="#e6f1f0" d="M185.9 200.3H201.3L208.2 190.5H193.1Z"/>
<path fill="#f4f5f5" d="M200.7 200.3H208.6L215.4 190.5H207.6Z"/>
<path fill="#f5f1e6" d="M215.4 200.3H223.3L229.9 190.5H222.1Z"/>
<path fill="#f6edd7" d="M222.7 200.3H230.7L237.2 190.5H229.3Z"/>
<path fill="#f6e9c7" d="M230.1 200.3H238.1L244.4 190.5H236.6Z"/>
<path fill="#f1dfb3" d="M237.5 200.3H245.4L251.6 190.5H243.8Z"/>
<path fill="#c08430" d="M244.8 200.3H252.8L258.9 190.5H251.0Z"/>
<path fill="#543005" d="M252.2 200.3H260.1L266.1 190.5H258.3Z"/>
<path fill="#e9d39d" d="M259.5 200.3H267.5L273.4 190.5H265.5Z"/>
<path fill="#f4e5be" d="M266.9 200.3H274.9L280.6 190.5H272.8Z"/>
<path fill="#f6ebcf" d="M274.3 200.3H282.2L287.8 190.5H280.0Z"/>
<path fill="#f5efde" d="M281.6 200.3H289.6L295.1 190.5H287.2Z"/>
<path fill="#f5f1e6" d="M289.0 200.3H311.7L316.8 190.5H294.5Z"/>
<path fill="#f4f5f5" d="M318.4 200.3H326.4L331.3 190.5H323.4Z"/>
<path fill="#edf3f2" d="M325.8 200.3H333.7L338.5 190.5H330.7Z"/>
<path fill="#e6f1f0" d="M333.1 200.3H348.5L353.0 190.5H337.9Z"/>
<path fill="#edf3f2" d="M347.9 200.3H355.8L360.2 190.5H352.4Z"/>
<path fill="#f4f5f5" d="M355.2 200.3H385.3L389.2 190.5H359.6Z"/>
<path fill="#edf3f2" d="M384.7 200.3H392.6L396.4 190.5H388.6Z"/>
<path fill="#e6f1f0" d="M392.0 200.3H400.0L403.6 190.5H395.8Z"/>
<path fill="#def0ed" d="M399.4 200.3H407.3L410.9 190.5H403.0Z"/>
<path fill="#d0ece8" d="M406.7 200.3H414.7L418.1 190.5H410.3Z"/>
<path fill="#64b9ae" d="M414.1 200.3H422.1L425.4 190.5H417.5Z"/>
<path fill="#58b0a7" d="M421.5 200.3H429.4L432.6 190.5H424.8Z"/>
<path fill="#64b9ae" d="M428.8 200.3H436.8L439.8 190.5H432.0Z"/>
<path fill="#a8ddd5" d="M436.2 200.3H444.2L447.1 190.5H439.2Z"/>
<path fill="#c9eae6" d="M443.6 200.3H451.5L454.3 190.5H446.5Z"/>
<path fill="#e6f1f0" d="M450.9 200.3H458.9L461.6 190.5H453.7Z"/>
<path fill="#f5f1e6" d="M458.3 200.3H466.2L468.8 190.5H461.0Z"/>
<path fill="#f5efde" d="M465.6 200.3H473.6L476.0 190.5H468.2Z"/>
<path fill="#f6edd7" d="M473.0 200.3H481.0L483.3 190.5H475.4Z"/>
<path fill="#f6e9c7" d="M480.4 200.3H488.3L490.5 190.5H482.7Z"/>
<path fill="#edd9a8" d="M487.7 200.3H495.7L497.7 190.5H489.9Z"/>
<path fill="#e9d39d" d="M495.1 200.3H510.4L512.2 190.5H497.1Z"/>
<path fill="#edd9a8" d="M509.8 200.3H525.1L526.7 190.5H511.6Z"/>
<path fill="#f1dfb3" d="M524.5 200.3H532.5L533.9 190.5H526.1Z"/>
<path fill="#f6e9c7" d="M531.9 200.3H539.8L541.2 190.5H533.3Z"/>
<path fill="#f6edd7" d="M539.2 200.3H547.2L548.4 190.5H540.6Z"/>
<path fill="#f5f1e6" d="M546.6 200.3H554.6L555.7 190.5H547.8Z"/>
<path fill="#f4f5f5" d="M561.3 200.3H569.3L570.1 190.5H562.3Z"/>
<path fill="#f4f5f5" d="M605.5 200.3H613.4L613.6 190.5H605.7Z"/>
<path fill="#f4f5f5" d="M634.9 200.3H642.9L642.5 190.5H634.7Z"/>
<path fill="#edf3f2" d="M642.3 200.3H650.2L649.8 190.5H641.9Z"/>
<path fill="#def0ed" d="M649.6 200.3H657.6L657.0 190.5H649.2Z"/>
<path fill="#c9eae6" d="M657.0 200.3H665.0L664.2 190.5H656.4Z"/>
<path fill="#d0ece8" d="M664.4 200.3H753.3L751.1 190.5H663.6Z"/>
<path fill="#d7eeeb" d="M752.7 200.3H760.6L758.3 190.5H750.5Z"/>
<path fill="#def0ed" d="M760.0 200.3H768.0L765.6 190.5H757.7Z"/>
<path fill="#edf3f2" d="M767.4 200.3H775.4L772.8 190.5H765.0Z"/>
<path fill="#f4f5f5" d="M774.8 200.3H782.7L780.0 190.5H772.2Z"/>
<path fill="#f5f1e6" d="M782.1 200.3H790.1L787.3 190.5H779.4Z"/>
<path fill="#f5efde" d="M789.5 200.3H804.8L801.8 190.5H786.7Z"/>
<path fill="#f5f1e6" d="M804.2 200.3H812.2L809.0 190.5H801.2Z"/>
<path fill="#f4f5f5" d="M833.7 200.3H871.1L866.9 190.5H830.1Z"/>
<path fill="#edf3f2" d="M870.5 200.3H885.8L881.4 190.5H866.3Z"/>
<path fill="#e6f1f0" d="M885.2 200.3H893.1L888.6 190.5H880.8Z"/>
<path fill="#edf3f2" d="M892.5 200.3H900.5L895.9 190.5H888.0Z"/>
<path fill="#f4f5f5" d="M899.9 200.3H937.3L932.1 190.5H895.3Z"/>
<path fill="#f4f5f5" d="M1002.9 200.3H1047.7L1040.6 190.5H996.6Z"/>
<path fill="#edf3f2" d="M1047.1 200.3H1062.4L1055.1 190.5H1040.0Z"/>
<path fill="#e6f1f0" d="M1061.8 200.3H1150.7L1142.0 190.5H1054.5Z"/>
<path fill="#e6f1f0" d="M99.0 191.1H106.9L116.3 181.4H108.6Z"/>
<path fill="#def0ed" d="M106.3 191.1H114.1L123.4 181.4H115.7Z"/>
<path fill="#edf3f2" d="M113.5 191.1H121.3L130.5 181.4H122.8Z"/>
<path fill="#edf3f2" d="M178.6 191.1H186.5L194.4 181.4H186.7Z"/>
<path fill="#def0ed" d="M185.9 191.1H208.2L215.8 181.4H193.8Z"/>
<path fill="#e6f1f0" d="M207.6 191.1H215.4L222.9 181.4H215.2Z"/>
<path fill="#edf3f2" d="M214.8 191.1H222.7L230.0 181.4H222.3Z"/>
<path fill="#f4f5f5" d="M222.1 191.1H229.9L237.1 181.4H229.4Z"/>
<path fill="#f5efde" d="M236.6 191.1H244.4L251.3 181.4H243.6Z"/>
<path fill="#894f0a" d="M243.8 191.1H251.6L258.4 181.4H250.7Z"/>
<path fill="#543005" d="M251.0 191.1H258.9L265.5 181.4H257.8Z"/>
<path fill="#edd9a8" d="M258.3 191.1H266.1L272.6 181.4H264.9Z"/>
<path fill="#f4e5be" d="M265.5 191.1H273.4L279.7 181.4H272.0Z"/>
<path fill="#f6ebcf" d="M272.8 191.1H280.6L286.8 181.4H279.1Z"/>
<path fill="#f6edd7" d="M280.0 191.1H287.8L293.9 181.4H286.2Z"/>
<path fill="#f5efde" d="M287.2 191.1H316.8L322.3 181.4H293.3Z"/>
<path fill="#f5f1e6" d="M316.2 191.1H367.5L372.1 181.4H321.7Z"/>
<path fill="#f5efde" d="M366.9 191.1H389.2L393.4 181.4H371.5Z"/>
<path fill="#f5f1e6" d="M388.6 191.1H396.4L400.5 181.4H392.8Z"/>
<path fill="#f4f5f5" d="M403.0 191.1H410.9L414.7 181.4H407.0Z"/>
<path fill="#edf3f2" d="M410.3 191.1H418.1L421.8 181.4H414.1Z"/>
<path fill="#e6f1f0" d="M417.5 191.1H425.4L428.9 181.4H421.2Z"/>
<path fill="#d7eeeb" d="M424.8 191.1H432.6L436.0 181.4H428.3Z"/>
<path fill="#92d4ca" d="M432.0 191.1H439.8L443.2 181.4H435.4Z"/>
<path fill="#d7eeeb" d="M439.2 191.1H447.1L450.3 181.4H442.6Z"/>
<path fill="#edf3f2" d="M446.5 191.1H454.3L457.4 181.4H449.7Z"/>
<path fill="#f5f1e6" d="M468.2 191.1H483.3L485.8 181.4H471.0Z"/>
<path fill="#f6edd7" d="M482.7 191.1H490.5L492.9 181.4H485.2Z"/>
<path fill="#f6ebcf" d="M489.9 191.1H497.7L500.0 181.4H492.3Z"/>
<path fill="#f4e5be" d="M497.1 191.1H505.0L507.1 181.4H499.4Z"/>
<path fill="#f1dfb3" d="M504.4 191.1H512.2L514.2 181.4H506.5Z"/>
<path fill="#edd9a8" d="M511.6 191.1H541.2L542.6 181.4H513.6Z"/>
<path fill="#f4e5be" d="M540.6 191.1H548.4L549.7 181.4H542.0Z"/>
<path fill="#f6edd7" d="M547.8 191.1H555.7L556.8 181.4H549.1Z"/>
<path fill="#f5f1e6" d="M555.1 191.1H562.9L564.0 181.4H556.2Z"/>
<path fill="#f4f5f5" d="M569.5 191.1H577.4L578.2 181.4H570.5Z"/>
<path fill="#f4f5f5" d="M641.9 191.1H657.0L656.3 181.4H641.5Z"/>
<path fill="#edf3f2" d="M656.4 191.1H664.2L663.4 181.4H655.7Z"/>
<path fill="#e6f1f0" d="M663.6 191.1H671.5L670.5 181.4H662.8Z"/>
<path fill="#d7eeeb" d="M670.9 191.1H678.7L677.6 181.4H669.9Z"/>
<path fill="#d0ece8" d="M678.1 191.1H685.9L684.8 181.4H677.0Z"/>
<path fill="#a8ddd5" d="M685.3 191.1H693.2L691.9 181.4H684.2Z"/>
<path fill="#9dd9d0" d="M692.6 191.1H700.4L699.0 181.4H691.3Z"/>
<path fill="#bfe7e1" d="M699.8 191.1H751.1L748.7 181.4H698.4Z"/>
<path fill="#c9eae6" d="M750.5 191.1H765.6L762.9 181.4H748.1Z"/>
<path fill="#d7eeeb" d="M765.0 191.1H772.8L770.0 181.4H762.3Z"/>
<path fill="#f5efde" d="M772.2 191.1H780.0L777.1 181.4H769.4Z"/>
<path fill="#f6ebcf" d="M779.4 191.1H809.0L805.6 181.4H776.5Z"/>
<path fill="#f4f5f5" d="M830.1 191.1H838.0L834.0 181.4H826.3Z"/>
<path fill="#edf3f2" d="M837.4 191.1H845.2L841.1 181.4H833.4Z"/>
<path fill="#e6f1f0" d="M844.6 191.1H852.4L848.2 181.4H840.5Z"/>
<path fill="#def0ed" d="M851.8 191.1H859.7L855.3 181.4H847.6Z"/>
<path fill="#d7eeeb" d="M859.1 191.1H881.4L876.6 181.4H854.7Z"/>
<path fill="#d0ece8" d="M880.8 191.1H895.9L890.8 181.4H876.0Z"/>
<path fill="#def0ed" d="M895.3 191.1H903.1L897.9 181.4H890.2Z"/>
<path fill="#e6f1f0" d="M902.5 191.1H910.3L905.0 181.4H897.3Z"/>
<path fill="#f4f5f5" d="M909.7 191.1H924.8L919.3 181.4H904.4Z"/>
<path fill="#f4f5f5" d="M982.1 191.1H1033.4L1025.8 181.4H975.5Z"/>
<path fill="#edf3f2" d="M1032.8 191.1H1047.9L1040.1 181.4H1025.2Z"/>
<path fill="#e6f1f0" d="M1047.3 191.1H1142.0L1132.4 181.4H1039.5Z"/>
<path fill="#edf3f2" d="M108.6 182.0H116.3L126.3 172.4H118.8Z"/>
<path fill="#f4f5f5" d="M115.7 182.0H123.4L133.3 172.4H125.7Z"/>
<path fill="#f4f5f5" d="M186.7 182.0H194.4L203.0 172.4H195.4Z"/>
<path fill="#edf3f2" d="M193.8 182.0H201.5L209.9 172.4H202.4Z"/>
<path fill="#def0ed" d="M200.9 182.0H208.7L216.9 172.4H209.3Z"/>
<path fill="#d7eeeb" d="M208.1 182.0H215.8L223.8 172.4H216.3Z"/>
<path fill="#def0ed" d="M215.2 182.0H222.9L230.8 172.4H223.2Z"/>
<path fill="#f4f5f5" d="M222.3 182.0H230.0L237.8 172.4H230.2Z"/>
<path fill="#f5f1e6" d="M229.4 182.0H237.1L244.7 172.4H237.2Z"/>
<path fill="#f6ebcf" d="M236.5 182.0H244.2L251.7 172.4H244.1Z"/>
<path fill="#a16518" d="M243.6 182.0H251.3L258.7 172.4H251.1Z"/>
<path fill="#b97b29" d="M250.7 182.0H258.4L265.6 172.4H258.1Z"/>
<path fill="#f1dfb3" d="M257.8 182.0H265.5L272.6 172.4H265.0Z"/>
<path fill="#f6e9c7" d="M264.9 182.0H272.6L279.6 172.4H272.0Z"/>
<path fill="#f6ebcf" d="M272.0 182.0H279.7L286.5 172.4H279.0Z"/>
<path fill="#f6edd7" d="M279.1 182.0H286.8L293.5 172.4H285.9Z"/>
<path fill="#f5efde" d="M286.2 182.0H386.3L391.0 172.4H292.9Z"/>
<path fill="#f5f1e6" d="M385.7 182.0H393.4L397.9 172.4H390.4Z"/>
<path fill="#f4f5f5" d="M399.9 182.0H414.7L418.8 172.4H404.3Z"/>
<path fill="#edf3f2" d="M414.1 182.0H436.0L439.7 172.4H418.2Z"/>
<path fill="#f4f5f5" d="M435.4 182.0H450.3L453.7 172.4H439.1Z"/>
<path fill="#f5f1e6" d="M485.2 182.0H492.9L495.4 172.4H487.9Z"/>
<path fill="#f5efde" d="M492.3 182.0H500.0L502.4 172.4H494.8Z"/>
<path fill="#f6edd7" d="M499.4 182.0H507.1L509.4 172.4H501.8Z"/>
<path fill="#f6e9c7" d="M506.5 182.0H514.2L516.3 172.4H508.8Z"/>
<path fill="#f1dfb3" d="M513.6 182.0H521.3L523.3 172.4H515.7Z"/>
<path fill="#edd9a8" d="M520.7 182.0H528.4L530.3 172.4H522.7Z"/>
<path fill="#e9d39d" d="M527.8 182.0H549.7L551.2 172.4H529.7Z"/>
<path fill="#f4e5be" d="M549.1 182.0H556.8L558.1 172.4H550.6Z"/>
<path fill="#f6edd7" d="M556.2 182.0H564.0L565.1 172.4H557.5Z"/>
<path fill="#f4f5f5" d="M655.7 182.0H663.4L662.6 172.4H655.0Z"/>
<path fill="#edf3f2" d="M662.8 182.0H670.5L669.5 172.4H662.0Z"/>
<path fill="#def0ed" d="M669.9 182.0H677.6L676.5 172.4H668.9Z"/>
<path fill="#d0ece8" d="M677.0 182.0H684.8L683.5 172.4H675.9Z"/>
<path fill="#bfe7e1" d="M684.2 182.0H691.9L690.4 172.4H682.9Z"/>
<path fill="#b4e2db" d="M691.3 182.0H713.2L711.3 172.4H689.8Z"/>
<path fill="#bfe7e1" d="M712.6 182.0H770.0L767.0 172.4H710.7Z"/>
<path fill="#e6f1f0" d="M769.4 182.0H777.1L774.0 172.4H766.4Z"/>
<path fill="#f5efde" d="M776.5 182.0H784.2L781.0 172.4H773.4Z"/>
<path fill="#f6edd7" d="M783.6 182.0H791.3L787.9 172.4H780.4Z"/>
<path fill="#f5efde" d="M790.7 182.0H798.4L794.9 172.4H787.3Z"/>
<path fill="#f5f1e6" d="M797.8 182.0H805.6L801.9 172.4H794.3Z"/>
<path fill="#f4f5f5" d="M812.1 182.0H834.0L829.7 172.4H808.2Z"/>
<path fill="#e6f1f0" d="M833.4 182.0H841.1L836.7 172.4H829.1Z"/>
<path fill="#d7eeeb" d="M840.5 182.0H848.2L843.7 172.4H836.1Z"/>
<path fill="#d0ece8" d="M847.6 182.0H855.3L850.6 172.4H843.1Z"/>
<path fill="#c9eae6" d="M854.7 182.0H862.4L857.6 172.4H850.0Z"/>
<path fill="#92d4ca" d="M861.8 182.0H869.5L864.5 172.4H857.0Z"/>
<path fill="#a8ddd5" d="M868.9 182.0H876.6L871.5 172.4H863.9Z"/>
<path fill="#d0ece8" d="M876.0 182.0H897.9L892.4 172.4H870.9Z"/>
<path fill="#d7eeeb" d="M897.3 182.0H905.0L899.4 172.4H891.8Z"/>
<path fill="#e6f1f0" d="M904.4 182.0H912.1L906.3 172.4H898.8Z"/>
<path fill="#f4f5f5" d="M911.5 182.0H919.3L913.3 172.4H905.7Z"/>
<path fill="#f4f5f5" d="M968.4 182.0H997.4L989.9 172.4H961.4Z"/>
<path fill="#edf3f2" d="M996.8 182.0H1032.9L1024.7 172.4H989.3Z"/>
<path fill="#e6f1f0" d="M1032.3 182.0H1118.2L1108.3 172.4H1024.1Z"/>
<path fill="#edf3f2" d="M1117.6 182.0H1132.4L1122.2 172.4H1107.7Z"/>
<path fill="#f4f5f5" d="M202.4 173.0H209.9L218.7 163.6H211.3Z"/>
<path fill="#edf3f2" d="M209.3 173.0H216.9L225.5 163.6H218.1Z"/>
<path fill="#f4f5f5" d="M216.3 173.0H223.8L232.3 163.6H224.9Z"/>
<path fill="#f6edd7" d="M230.2 173.0H237.8L246.0 163.6H238.5Z"/>
<path fill="#c58e3d" d="M237.2 173.0H244.7L252.8 163.6H245.4Z"/>
<path fill="#995d13" d="M244.1 173.0H251.7L259.6 163.6H252.2Z"/>
<path fill="#e9d39d" d="M251.1 173.0H258.7L266.4 163.6H259.0Z"/>
<path fill="#f6e9c7" d="M258.1 173.0H265.6L273.2 163.6H265.8Z"/>
<path fill="#f6ebcf" d="M265.0 173.0H272.6L280.0 163.6H272.6Z"/>
<path fill="#f6edd7" d="M272.0 173.0H279.6L286.8 163.6H279.4Z"/>
<path fill="#f5efde" d="M279.0 173.0H363.1L368.6 163.6H286.2Z"/>
<path fill="#f5f1e6" d="M362.5 173.0H384.0L389.1 163.6H368.0Z"/>
<path fill="#f4f5f5" d="M397.3 173.0H404.9L409.5 163.6H402.1Z"/>
<path fill="#edf3f2" d="M404.3 173.0H425.8L430.0 163.6H408.9Z"/>
<path fill="#f4f5f5" d="M425.2 173.0H446.7L450.4 163.6H429.4Z"/>
<path fill="#f5f1e6" d="M494.8 173.0H502.4L504.9 163.6H497.5Z"/>
<path fill="#f5efde" d="M501.8 173.0H509.4L511.8 163.6H504.3Z"/>
<path fill="#f6edd7" d="M508.8 173.0H516.3L518.6 163.6H511.2Z"/>
<path fill="#f6e9c7" d="M515.7 173.0H523.3L525.4 163.6H518.0Z"/>
<path fill="#f1dfb3" d="M522.7 173.0H530.3L532.2 163.6H524.8Z"/>
<path fill="#edd9a8" d="M529.7 173.0H537.2L539.0 163.6H531.6Z"/>
<path fill="#e9d39d" d="M536.6 173.0H544.2L545.8 163.6H538.4Z"/>
<path fill="#e6cd92" d="M543.6 173.0H551.2L552.6 163.6H545.2Z"/>
<path fill="#edd9a8" d="M550.6 173.0H558.1L559.5 163.6H552.0Z"/>
<path fill="#f6ebcf" d="M557.5 173.0H565.1L566.3 163.6H558.9Z"/>
<path fill="#f5efde" d="M564.5 173.0H572.1L573.1 163.6H565.7Z"/>
<path fill="#f5f1e6" d="M571.5 173.0H579.0L579.9 163.6H572.5Z"/>
<path fill="#f4f5f5" d="M599.3 173.0H613.8L614.0 163.6H599.8Z"/>
<path fill="#f4f5f5" d="M662.0 173.0H669.5L668.5 163.6H661.1Z"/>
<path fill="#e6f1f0" d="M668.9 173.0H676.5L675.3 163.6H667.9Z"/>
<path fill="#d7eeeb" d="M675.9 173.0H683.5L682.1 163.6H674.7Z"/>
<path fill="#c9eae6" d="M682.9 173.0H690.4L689.0 163.6H681.5Z"/>
<path fill="#bfe7e1" d="M689.8 173.0H704.4L702.6 163.6H688.4Z"/>
<path fill="#c9eae6" d="M703.8 173.0H767.0L763.9 163.6H702.0Z"/>
<path fill="#d7eeeb" d="M766.4 173.0H774.0L770.7 163.6H763.3Z"/>
<path fill="#edf3f2" d="M773.4 173.0H781.0L777.6 163.6H770.1Z"/>
<path fill="#f4f5f5" d="M801.3 173.0H829.7L825.3 163.6H797.4Z"/>
<path fill="#edf3f2" d="M829.1 173.0H836.7L832.1 163.6H824.7Z"/>
<path fill="#def0ed" d="M836.1 173.0H843.7L838.9 163.6H831.5Z"/>
<path fill="#d7eeeb" d="M843.1 173.0H850.6L845.7 163.6H838.3Z"/>
<path fill="#d0ece8" d="M850.0 173.0H864.5L859.3 163.6H845.1Z"/>
<path fill="#c9eae6" d="M863.9 173.0H871.5L866.2 163.6H858.7Z"/>
<path fill="#d0ece8" d="M870.9 173.0H878.5L873.0 163.6H865.6Z"/>
<path fill="#d7eeeb" d="M877.9 173.0H892.4L886.6 163.6H872.4Z"/>
<path fill="#def0ed" d="M891.8 173.0H899.4L893.4 163.6H886.0Z"/>
<path fill="#e6f1f0" d="M898.8 173.0H906.3L900.2 163.6H892.8Z"/>
<path fill="#f4f5f5" d="M905.7 173.0H913.3L907.0 163.6H899.6Z"/>
<path fill="#f4f5f5" d="M919.7 173.0H934.2L927.5 163.6H913.3Z"/>
<path fill="#f4f5f5" d="M968.4 173.0H982.9L975.2 163.6H961.0Z"/>
<path fill="#edf3f2" d="M982.3 173.0H1024.7L1016.1 163.6H974.6Z"/>
<path fill="#e6f1f0" d="M1024.1 173.0H1052.6L1043.3 163.6H1015.5Z"/>
<path fill="#def0ed" d="M1052.0 173.0H1066.5L1057.0 163.6H1042.7Z"/>
<path fill="#e6f1f0" d="M1065.9 173.0H1101.3L1091.1 163.6H1056.4Z"/>
<path fill="#edf3f2" d="M1100.7 173.0H1115.3L1104.7 163.6H1090.5Z"/>
<path fill="#f4f5f5" d="M1114.7 173.0H1122.2L1111.5 163.6H1104.1Z"/>
<path fill="#f4f5f5" d="M129.5 164.2H143.7L154.6 154.8H140.6Z"/>
<path fill="#f4f5f5" d="M163.6 164.2H184.6L194.5 154.8H173.9Z"/>
<path fill="#f5f1e6" d="M224.9 164.2H232.3L241.1 154.8H233.9Z"/>
<path fill="#d4ac62" d="M231.7 164.2H239.1L247.8 154.8H240.5Z"/>
<path fill="#91560d" d="M238.5 164.2H246.0L254.5 154.8H247.2Z"/>
<path fill="#d4ac62" d="M245.4 164.2H252.8L261.1 154.8H253.9Z"/>
<path fill="#f4e5be" d="M252.2 164.2H259.6L267.8 154.8H260.5Z"/>
<path fill="#f6ebcf" d="M259.0 164.2H266.4L274.5 154.8H267.2Z"/>
<path fill="#f6edd7" d="M265.8 164.2H273.2L281.1 154.8H273.9Z"/>
<path fill="#f5efde" d="M272.6 164.2H327.7L334.4 154.8H280.5Z"/>
<path fill="#f5f1e6" d="M327.1 164.2H368.6L374.4 154.8H333.8Z"/>
<path fill="#f4f5f5" d="M381.7 164.2H395.9L401.0 154.8H387.1Z"/>
<path fill="#edf3f2" d="M395.3 164.2H423.2L427.6 154.8H400.4Z"/>
<path fill="#f4f5f5" d="M422.6 164.2H457.2L460.9 154.8H427.0Z"/>
<path fill="#f5f1e6" d="M497.5 164.2H511.8L514.2 154.8H500.3Z"/>
<path fill="#f5efde" d="M511.2 164.2H518.6L520.9 154.8H513.6Z"/>
<path fill="#f6edd7" d="M518.0 164.2H525.4L527.6 154.8H520.3Z"/>
<path fill="#f4e5be" d="M524.8 164.2H532.2L534.2 154.8H527.0Z"/>
<path fill="#f1dfb3" d="M531.6 164.2H539.0L540.9 154.8H533.6Z"/>
<path fill="#edd9a8" d="M538.4 164.2H552.6L554.2 154.8H540.3Z"/>
<path fill="#f1dfb3" d="M552.0 164.2H559.5L560.9 154.8H553.6Z"/>
<path fill="#f6e9c7" d="M558.9 164.2H566.3L567.5 154.8H560.3Z"/>
<path fill="#f6edd7" d="M565.7 164.2H573.1L574.2 154.8H566.9Z"/>
<path fill="#f5efde" d="M572.5 164.2H579.9L580.8 154.8H573.6Z"/>
<path fill="#f5f1e6" d="M579.3 164.2H586.7L587.5 154.8H580.2Z"/>
<path fill="#f4f5f5" d="M599.8 164.2H620.8L620.8 154.8H600.2Z"/>
<path fill="#f6edd7" d="M627.0 164.2H634.4L634.1 154.8H626.9Z"/>
<path fill="#a16518" d="M633.8 164.2H641.2L640.8 154.8H633.5Z"/>
<path fill="#e9d39d" d="M640.6 164.2H648.1L647.4 154.8H640.2Z"/>
<path fill="#f4f5f5" d="M661.1 164.2H675.3L674.1 154.8H660.2Z"/>
<path fill="#edf3f2" d="M674.7 164.2H682.1L680.7 154.8H673.5Z"/>
<path fill="#e6f1f0" d="M681.5 164.2H689.0L687.4 154.8H680.1Z"/>
<path fill="#def0ed" d="M688.4 164.2H695.8L694.1 154.8H686.8Z"/>
<path fill="#e6f1f0" d="M695.2 164.2H757.1L754.0 154.8H693.5Z"/>
<path fill="#edf3f2" d="M756.5 164.2H763.9L760.7 154.8H753.4Z"/>
<path fill="#f4f5f5" d="M763.3 164.2H777.6L774.0 154.8H760.1Z"/>
<path fill="#f4f5f5" d="M790.6 164.2H825.3L820.6 154.8H786.7Z"/>
<path fill="#f4f5f5" d="M831.5 164.2H838.9L833.9 154.8H826.7Z"/>
<path fill="#edf3f2" d="M838.3 164.2H845.7L840.6 154.8H833.3Z"/>
<path fill="#e6f1f0" d="M845.1 164.2H866.2L860.6 154.8H840.0Z"/>
<path fill="#edf3f2" d="M865.6 164.2H879.8L873.9 154.8H860.0Z"/>
<path fill="#f4f5f5" d="M879.2 164.2H900.2L893.9 154.8H873.3Z"/>
<path fill="#f4f5f5" d="M961.0 164.2H975.2L967.1 154.8H953.2Z"/>
<path fill="#edf3f2" d="M974.6 164.2H1009.3L1000.5 154.8H966.5Z"/>
<path fill="#e6f1f0" d="M1008.7 164.2H1043.3L1033.8 154.8H999.9Z"/>
<path fill="#def0ed" d="M1042.7 164.2H1050.2L1040.4 154.8H1033.2Z"/>
<path fill="#e6f1f0" d="M1049.6 164.2H1091.1L1080.4 154.8H1039.8Z"/>
<path fill="#edf3f2" d="M1090.5 164.2H1111.5L1100.4 154.8H1079.8Z"/>
<path fill="#f4f5f5" d="M140.6 155.4H174.5L185.3 146.3H152.2Z"/>
<path fill="#f5f1e6" d="M187.3 155.4H214.5L224.3 146.3H197.7Z"/>
<path fill="#f5efde" d="M213.9 155.4H227.8L237.3 146.3H223.7Z"/>
<path fill="#f1dfb3" d="M227.2 155.4H234.5L243.8 146.3H236.7Z"/>
<path fill="#a16518" d="M233.9 155.4H241.1L250.3 146.3H243.2Z"/>
<path fill="#d9b76f" d="M240.5 155.4H247.8L256.8 146.3H249.7Z"/>
<path fill="#f6e9c7" d="M247.2 155.4H254.5L263.3 146.3H256.2Z"/>
<path fill="#f6ebcf" d="M253.9 155.4H261.1L269.8 146.3H262.7Z"/>
<path fill="#f6edd7" d="M260.5 155.4H267.8L276.3 146.3H269.2Z"/>
<path fill="#f5efde" d="M267.2 155.4H307.8L315.3 146.3H275.7Z"/>
<path fill="#f6edd7" d="M307.2 155.4H321.1L328.3 146.3H314.7Z"/>
<path fill="#f5efde" d="M320.5 155.4H334.4L341.3 146.3H327.7Z"/>
<path fill="#f5f1e6" d="M333.8 155.4H341.1L347.8 146.3H340.7Z"/>
<path fill="#f4f5f5" d="M367.1 155.4H401.0L406.3 146.3H373.2Z"/>
<path fill="#edf3f2" d="M400.4 155.4H421.0L425.8 146.3H405.7Z"/>
<path fill="#f4f5f5" d="M420.4 155.4H434.3L438.8 146.3H425.2Z"/>
<path fill="#f4f5f5" d="M440.4 155.4H460.9L464.8 146.3H444.7Z"/>
<path fill="#f5f1e6" d="M473.7 155.4H480.9L484.3 146.3H477.2Z"/>
<path fill="#edf3f2" d="M487.0 155.4H494.2L497.3 146.3H490.2Z"/>
<path fill="#def0ed" d="M493.6 155.4H500.9L503.8 146.3H496.7Z"/>
<path fill="#edf3f2" d="M500.3 155.4H507.6L510.3 146.3H503.2Z"/>
<path fill="#f5f1e6" d="M513.6 155.4H520.9L523.3 146.3H516.2Z"/>
<path fill="#f5efde" d="M520.3 155.4H527.6L529.8 146.3H522.7Z"/>
<path fill="#f6ebcf" d="M527.0 155.4H534.2L536.3 146.3H529.2Z"/>
<path fill="#f4e5be" d="M533.6 155.4H540.9L542.8 146.3H535.7Z"/>
<path fill="#f1dfb3" d="M540.3 155.4H554.2L555.8 146.3H542.2Z"/>
<path fill="#f4e5be" d="M553.6 155.4H560.9L562.3 146.3H555.2Z"/>
<path fill="#f6e9c7" d="M560.3 155.4H567.5L568.8 146.3H561.7Z"/>
<path fill="#f6ebcf" d="M566.9 155.4H574.2L575.3 146.3H568.2Z"/>
<path fill="#f6edd7" d="M573.6 155.4H580.8L581.8 146.3H574.7Z"/>
<path fill="#f5efde" d="M580.2 155.4H587.5L588.3 146.3H581.2Z"/>
<path fill="#f5f1e6" d="M586.9 155.4H594.2L594.8 146.3H587.7Z"/>
<path fill="#f4f5f5" d="M600.2 155.4H614.1L614.3 146.3H600.7Z"/>
<path fill="#edf3f2" d="M613.5 155.4H627.5L627.3 146.3H613.7Z"/>
<path fill="#f4e5be" d="M626.9 155.4H634.1L633.8 146.3H626.7Z"/>
<path fill="#a16518" d="M633.5 155.4H640.8L640.3 146.3H633.2Z"/>
<path fill="#e9d39d" d="M640.2 155.4H647.4L646.8 146.3H639.7Z"/>
<path fill="#f5f1e6" d="M740.1 155.4H780.7L776.8 146.3H737.2Z"/>
<path fill="#f4f5f5" d="M793.4 155.4H800.6L796.3 146.3H789.2Z"/>
<path fill="#f5f1e6" d="M826.7 155.4H840.6L835.3 146.3H821.7Z"/>
<path fill="#f5f1e6" d="M873.3 155.4H907.2L900.3 146.3H867.2Z"/>
<path fill="#f4f5f5" d="M939.9 155.4H967.1L958.8 146.3H932.2Z"/>
<path fill="#edf3f2" d="M966.5 155.4H1000.5L991.3 146.3H958.2Z"/>
<path fill="#e6f1f0" d="M999.9 155.4H1080.4L1069.3 146.3H990.7Z"/>
<path fill="#edf3f2" d="M1079.8 155.4H1100.4L1088.8 146.3H1068.7Z"/>
<path fill="#edf3f2" d="M152.2 146.9H159.3L170.9 137.9H164.0Z"/>
<path fill="#bfe7e1" d="M158.7 146.9H172.3L183.6 137.9H170.3Z"/>
<path fill="#e6f1f0" d="M171.7 146.9H178.8L189.9 137.9H183.0Z"/>
<path fill="#f5f1e6" d="M184.7 146.9H191.8L202.6 137.9H195.7Z"/>
<path fill="#f5efde" d="M191.2 146.9H198.3L209.0 137.9H202.0Z"/>
<path fill="#f6edd7" d="M197.7 146.9H230.8L240.6 137.9H208.4Z"/>
<path fill="#f6ebcf" d="M230.2 146.9H250.3L259.6 137.9H240.0Z"/>
<path fill="#f6edd7" d="M249.7 146.9H328.3L335.7 137.9H259.0Z"/>
<path fill="#f5efde" d="M327.7 146.9H334.8L342.0 137.9H335.1Z"/>
<path fill="#f5f1e6" d="M334.2 146.9H341.3L348.3 137.9H341.4Z"/>
<path fill="#f4f5f5" d="M347.2 146.9H438.8L443.4 137.9H354.1Z"/>
<path fill="#f4f5f5" d="M451.2 146.9H464.8L468.7 137.9H455.5Z"/>
<path fill="#f5f1e6" d="M464.2 146.9H471.3L475.1 137.9H468.1Z"/>
<path fill="#f6ebcf" d="M470.7 146.9H484.3L487.7 137.9H474.5Z"/>
<path fill="#f4f5f5" d="M483.7 146.9H490.8L494.1 137.9H487.1Z"/>
<path fill="#d0ece8" d="M490.2 146.9H497.3L500.4 137.9H493.5Z"/>
<path fill="#c9eae6" d="M496.7 146.9H503.8L506.8 137.9H499.8Z"/>
<path fill="#e6f1f0" d="M503.2 146.9H510.3L513.1 137.9H506.2Z"/>
<path fill="#f5f1e6" d="M516.2 146.9H523.3L525.8 137.9H518.8Z"/>
<path fill="#f5efde" d="M522.7 146.9H529.8L532.1 137.9H525.2Z"/>
<path fill="#f6edd7" d="M529.2 146.9H536.3L538.4 137.9H531.5Z"/>
<path fill="#f6e9c7" d="M535.7 146.9H542.8L544.8 137.9H537.8Z"/>
<path fill="#f4e5be" d="M542.2 146.9H549.3L551.1 137.9H544.2Z"/>
<path fill="#f1dfb3" d="M548.7 146.9H555.8L557.4 137.9H550.5Z"/>
<path fill="#f4e5be" d="M555.2 146.9H575.3L576.4 137.9H556.8Z"/>
<path fill="#f6e9c7" d="M574.7 146.9H581.8L582.8 137.9H575.8Z"/>
<path fill="#f6ebcf" d="M581.2 146.9H588.3L589.1 137.9H582.2Z"/>
<path fill="#f5efde" d="M587.7 146.9H594.8L595.5 137.9H588.5Z"/>
<path fill="#edf3f2" d="M600.7 146.9H607.8L608.1 137.9H601.2Z"/>
<path fill="#def0ed" d="M607.2 146.9H614.3L614.5 137.9H607.5Z"/>
<path fill="#d7eeeb" d="M613.7 146.9H620.8L620.8 137.9H613.9Z"/>
<path fill="#d0ece8" d="M620.2 146.9H633.8L633.5 137.9H620.2Z"/>
<path fill="#d4ac62" d="M633.2 146.9H646.8L646.1 137.9H632.9Z"/>
<path fill="#f5efde" d="M646.2 146.9H653.3L652.5 137.9H645.5Z"/>
<path fill="#f5f1e6" d="M652.7 146.9H672.8L671.5 137.9H651.9Z"/>
<path fill="#f5efde" d="M672.2 146.9H711.8L709.5 137.9H670.9Z"/>
<path fill="#f5f1e6" d="M711.2 146.9H737.8L734.8 137.9H708.9Z"/>
<path fill="#f5efde" d="M737.2 146.9H770.3L766.5 137.9H734.2Z"/>
<path fill="#f5f1e6" d="M769.7 146.9H783.3L779.2 137.9H765.9Z"/>
<path fill="#f5f1e6" d="M808.7 146.9H867.8L861.6 137.9H803.9Z"/>
<path fill="#f5efde" d="M867.2 146.9H900.3L893.3 137.9H861.0Z"/>
<path fill="#f5f1e6" d="M899.7 146.9H913.3L905.9 137.9H892.7Z"/>
<path fill="#f4f5f5" d="M925.7 146.9H958.8L950.3 137.9H918.0Z"/>
<path fill="#edf3f2" d="M958.2 146.9H965.3L956.6 137.9H949.7Z"/>
<path fill="#e6f1f0" d="M964.7 146.9H1069.3L1058.0 137.9H956.0Z"/>
<path fill="#def0ed" d="M1068.7 146.9H1075.8L1064.3 137.9H1057.4Z"/>
<path fill="#e6f1f0" d="M1075.2 146.9H1082.3L1070.7 137.9H1063.7Z"/>
<path fill="#edf3f2" d="M1081.7 146.9H1088.8L1077.0 137.9H1070.1Z"/>
<path fill="#d0ece8" d="M164.0 138.5H170.9L182.9 129.7H176.1Z"/>
<path fill="#b4e2db" d="M170.3 138.5H177.3L189.1 129.7H182.3Z"/>
<path fill="#e6f1f0" d="M176.7 138.5H183.6L195.2 129.7H188.5Z"/>
<path fill="#f5f1e6" d="M183.0 138.5H189.9L201.4 129.7H194.6Z"/>
<path fill="#f5efde" d="M189.3 138.5H196.3L207.6 129.7H200.8Z"/>
<path fill="#f6edd7" d="M195.7 138.5H202.6L213.7 129.7H207.0Z"/>
<path fill="#f6ebcf" d="M202.0 138.5H215.3L226.1 129.7H213.1Z"/>
<path fill="#f6edd7" d="M214.7 138.5H234.3L244.6 129.7H225.5Z"/>
<path fill="#f6ebcf" d="M233.7 138.5H240.6L250.8 129.7H244.0Z"/>
<path fill="#f6edd7" d="M240.0 138.5H323.0L330.9 129.7H250.2Z"/>
<path fill="#f5efde" d="M322.4 138.5H329.3L337.1 129.7H330.3Z"/>
<path fill="#f5f1e6" d="M328.7 138.5H335.7L343.3 129.7H336.5Z"/>
<path fill="#f4f5f5" d="M354.1 138.5H399.0L404.9 129.7H361.2Z"/>
<path fill="#f4f5f5" d="M423.8 138.5H443.4L448.1 129.7H429.0Z"/>
<path fill="#f5f1e6" d="M461.8 138.5H468.7L472.8 129.7H466.0Z"/>
<path fill="#f6ebcf" d="M468.1 138.5H481.4L485.1 129.7H472.2Z"/>
<path fill="#f5efde" d="M480.8 138.5H487.7L491.3 129.7H484.5Z"/>
<path fill="#e6f1f0" d="M487.1 138.5H494.1L497.5 129.7H490.7Z"/>
<path fill="#c9eae6" d="M493.5 138.5H500.4L503.6 129.7H496.9Z"/>
<path fill="#d0ece8" d="M499.8 138.5H506.8L509.8 129.7H503.0Z"/>
<path fill="#edf3f2" d="M506.2 138.5H513.1L516.0 129.7H509.2Z"/>
<path fill="#f4f5f5" d="M512.5 138.5H525.8L528.3 129.7H515.4Z"/>
<path fill="#f5efde" d="M531.5 138.5H538.4L540.6 129.7H533.9Z"/>
<path fill="#f6ebcf" d="M537.8 138.5H544.8L546.8 129.7H540.0Z"/>
<path fill="#f6e9c7" d="M544.2 138.5H551.1L553.0 129.7H546.2Z"/>
<path fill="#f4e5be" d="M550.5 138.5H570.1L571.5 129.7H552.4Z"/>
<path fill="#f1dfb3" d="M569.5 138.5H582.8L583.8 129.7H570.9Z"/>
<path fill="#f6e9c7" d="M582.2 138.5H589.1L590.0 129.7H583.2Z"/>
<path fill="#f5efde" d="M588.5 138.5H595.5L596.1 129.7H589.4Z"/>
<path fill="#e6f1f0" d="M594.9 138.5H601.8L602.3 129.7H595.5Z"/>
<path fill="#d0ece8" d="M601.2 138.5H608.1L608.5 129.7H601.7Z"/>
<path fill="#c9eae6" d="M607.5 138.5H614.5L614.6 129.7H607.9Z"/>
<path fill="#bfe7e1" d="M613.9 138.5H620.8L620.8 129.7H614.0Z"/>
<path fill="#92d4ca" d="M620.2 138.5H633.5L633.1 129.7H620.2Z"/>
<path fill="#edd9a8" d="M632.9 138.5H639.8L639.3 129.7H632.5Z"/>
<path fill="#ca9849" d="M639.2 138.5H646.1L645.5 129.7H638.7Z"/>
<path fill="#cfa256" d="M645.5 138.5H652.5L651.6 129.7H644.9Z"/>
<path fill="#f1dfb3" d="M651.9 138.5H658.8L657.8 129.7H651.0Z"/>
<path fill="#f6edd7" d="M658.2 138.5H665.2L664.0 129.7H657.2Z"/>
<path fill="#f5efde" d="M664.6 138.5H709.5L707.1 129.7H663.4Z"/>
<path fill="#f5f1e6" d="M708.9 138.5H734.8L731.8 129.7H706.5Z"/>
<path fill="#f5efde" d="M734.2 138.5H772.9L768.8 129.7H731.2Z"/>
<path fill="#f5f1e6" d="M772.3 138.5H785.5L781.2 129.7H768.2Z"/>
<path fill="#f5f1e6" d="M797.6 138.5H817.2L812.0 129.7H792.9Z"/>
<path fill="#f5efde" d="M816.6 138.5H899.6L892.2 129.7H811.4Z"/>
<path fill="#f5f1e6" d="M899.0 138.5H912.3L904.5 129.7H891.6Z"/>
<path fill="#f4f5f5" d="M924.3 138.5H943.9L935.3 129.7H916.2Z"/>
<path fill="#edf3f2" d="M943.3 138.5H956.6L947.7 129.7H934.7Z"/>
<path fill="#e6f1f0" d="M956.0 138.5H982.0L972.3 129.7H947.1Z"/>
<path fill="#def0ed" d="M981.4 138.5H1001.0L990.8 129.7H971.7Z"/>
<path fill="#e6f1f0" d="M1000.4 138.5H1064.3L1052.5 129.7H990.2Z"/>
<path fill="#bfe7e1" d="M1063.7 138.5H1070.7L1058.7 129.7H1051.9Z"/>
<path fill="#b4e2db" d="M1070.1 138.5H1077.0L1064.9 129.7H1058.1Z"/>
<path fill="#f5f1e6" d="M176.1 130.3H182.9L195.3 121.7H188.7Z"/>
<path fill="#f5efde" d="M182.3 130.3H201.4L213.3 121.7H194.7Z"/>
<path fill="#f6edd7" d="M200.8 130.3H269.3L279.2 121.7H212.7Z"/>
<path fill="#f5efde" d="M268.7 130.3H318.6L327.1 121.7H278.6Z"/>
<path fill="#f5f1e6" d="M318.0 130.3H330.9L339.1 121.7H326.5Z"/>
<path fill="#f4f5f5" d="M336.5 130.3H349.4L357.1 121.7H344.5Z"/>
<path fill="#f4f5f5" d="M367.3 130.3H404.9L411.0 121.7H374.5Z"/>
<path fill="#f5efde" d="M466.0 130.3H472.8L477.0 121.7H470.4Z"/>
<path fill="#f6edd7" d="M472.2 130.3H478.9L483.0 121.7H476.4Z"/>
<path fill="#f5f1e6" d="M478.3 130.3H485.1L488.9 121.7H482.4Z"/>
<path fill="#edf3f2" d="M484.5 130.3H491.3L494.9 121.7H488.3Z"/>
<path fill="#d0ece8" d="M490.7 130.3H497.5L500.9 121.7H494.3Z"/>
<path fill="#bfe7e1" d="M496.9 130.3H503.6L506.9 121.7H500.3Z"/>
<path fill="#d7eeeb" d="M503.0 130.3H509.8L512.9 121.7H506.3Z"/>
<path fill="#edf3f2" d="M509.2 130.3H516.0L518.9 121.7H512.3Z"/>
<path fill="#def0ed" d="M515.4 130.3H528.3L530.9 121.7H518.3Z"/>
<path fill="#edf3f2" d="M527.7 130.3H534.5L536.9 121.7H530.3Z"/>
<path fill="#f5f1e6" d="M533.9 130.3H540.6L542.9 121.7H536.3Z"/>
<path fill="#f5efde" d="M540.0 130.3H546.8L548.9 121.7H542.3Z"/>
<path fill="#f6ebcf" d="M546.2 130.3H553.0L554.9 121.7H548.3Z"/>
<path fill="#f6e9c7" d="M552.4 130.3H559.1L560.9 121.7H554.3Z"/>
<path fill="#f4e5be" d="M558.5 130.3H565.3L566.9 121.7H560.3Z"/>
<path fill="#f1dfb3" d="M564.7 130.3H571.5L572.9 121.7H566.3Z"/>
<path fill="#e6cd92" d="M570.9 130.3H577.6L578.8 121.7H572.3Z"/>
<path fill="#e9d39d" d="M577.0 130.3H583.8L584.8 121.7H578.2Z"/>
<path fill="#f6edd7" d="M583.2 130.3H590.0L590.8 121.7H584.2Z"/>
<path fill="#def0ed" d="M589.4 130.3H596.1L596.8 121.7H590.2Z"/>
<path fill="#046961" d="M595.5 130.3H608.5L608.8 121.7H596.2Z"/>
<path fill="#9dd9d0" d="M607.9 130.3H614.6L614.8 121.7H608.2Z"/>
<path fill="#b4e2db" d="M614.0 130.3H633.1L632.8 121.7H614.2Z"/>
<path fill="#c9eae6" d="M632.5 130.3H639.3L638.8 121.7H632.2Z"/>
<path fill="#edf3f2" d="M638.7 130.3H645.5L644.8 121.7H638.2Z"/>
<path fill="#e9d39d" d="M644.9 130.3H651.6L650.8 121.7H644.2Z"/>
<path fill="#e2c787" d="M651.0 130.3H657.8L656.8 121.7H650.2Z"/>
<path fill="#dec17b" d="M657.2 130.3H664.0L662.8 121.7H656.2Z"/>
<path fill="#d9b76f" d="M663.4 130.3H670.1L668.7 121.7H662.2Z"/>
<path fill="#edd9a8" d="M669.5 130.3H676.3L674.7 121.7H668.1Z"/>
<path fill="#f6edd7" d="M675.7 130.3H682.5L680.7 121.7H674.1Z"/>
<path fill="#f5efde" d="M681.9 130.3H701.0L698.7 121.7H680.1Z"/>
<path fill="#f5f1e6" d="M700.4 130.3H781.2L776.6 121.7H698.1Z"/>
<path fill="#f5f1e6" d="M799.1 130.3H812.0L806.6 121.7H794.0Z"/>
<path fill="#f5efde" d="M811.4 130.3H830.5L824.6 121.7H806.0Z"/>
<path fill="#f6edd7" d="M829.9 130.3H849.0L842.6 121.7H824.0Z"/>
<path fill="#f5efde" d="M848.4 130.3H904.5L896.5 121.7H842.0Z"/>
<path fill="#f5f1e6" d="M903.9 130.3H916.8L908.5 121.7H895.9Z"/>
<path fill="#f4f5f5" d="M922.4 130.3H935.3L926.5 121.7H913.9Z"/>
<path fill="#edf3f2" d="M934.7 130.3H960.0L950.4 121.7H925.9Z"/>
<path fill="#e6f1f0" d="M959.4 130.3H972.3L962.4 121.7H949.8Z"/>
<path fill="#def0ed" d="M971.7 130.3H990.8L980.4 121.7H961.8Z"/>
<path fill="#e6f1f0" d="M990.2 130.3H1052.5L1040.3 121.7H979.8Z"/>
<path fill="#edf3f2" d="M1051.9 130.3H1058.7L1046.3 121.7H1039.7Z"/>
<path fill="#e6f1f0" d="M1058.1 130.3H1064.9L1052.3 121.7H1045.7Z"/>
<path fill="#f5efde" d="M188.7 122.3H213.3L225.7 113.9H201.8Z"/>
<path fill="#f5f1e6" d="M212.7 122.3H273.2L283.8 113.9H225.1Z"/>
<path fill="#f4f5f5" d="M326.5 122.3H357.1L365.1 113.9H335.5Z"/>
<path fill="#f4f5f5" d="M374.5 122.3H405.0L411.6 113.9H381.9Z"/>
<path fill="#f4f5f5" d="M482.4 122.3H488.9L493.0 113.9H486.5Z"/>
<path fill="#def0ed" d="M488.3 122.3H494.9L498.8 113.9H492.4Z"/>
<path fill="#bfe7e1" d="M494.3 122.3H506.9L510.4 113.9H498.2Z"/>
<path fill="#def0ed" d="M506.3 122.3H512.9L516.2 113.9H509.8Z"/>
<path fill="#edf3f2" d="M512.3 122.3H518.9L522.0 113.9H515.6Z"/>
<path fill="#e6f1f0" d="M518.3 122.3H524.9L527.8 113.9H521.4Z"/>
<path fill="#edf3f2" d="M524.3 122.3H530.9L533.6 113.9H527.2Z"/>
<path fill="#f5f1e6" d="M536.3 122.3H548.9L551.1 113.9H538.8Z"/>
<path fill="#f5efde" d="M548.3 122.3H554.9L556.9 113.9H550.5Z"/>
<path fill="#f6edd7" d="M554.3 122.3H560.9L562.7 113.9H556.3Z"/>
<path fill="#f6ebcf" d="M560.3 122.3H566.9L568.5 113.9H562.1Z"/>
<path fill="#f6e9c7" d="M566.3 122.3H572.9L574.3 113.9H567.9Z"/>
<path fill="#f4e5be" d="M572.3 122.3H578.8L580.1 113.9H573.7Z"/>
<path fill="#f6e9c7" d="M578.2 122.3H584.8L585.9 113.9H579.5Z"/>
<path fill="#bfe7e1" d="M590.2 122.3H596.8L597.6 113.9H591.1Z"/>
<path fill="#70c1b6" d="M596.2 122.3H608.8L609.2 113.9H597.0Z"/>
<path fill="#a8ddd5" d="M608.2 122.3H614.8L615.0 113.9H608.6Z"/>
<path fill="#b4e2db" d="M614.2 122.3H620.8L620.8 113.9H614.4Z"/>
<path fill="#bfe7e1" d="M620.2 122.3H626.8L626.6 113.9H620.2Z"/>
<path fill="#c9eae6" d="M626.2 122.3H632.8L632.4 113.9H626.0Z"/>
<path fill="#d7eeeb" d="M632.2 122.3H638.8L638.2 113.9H631.8Z"/>
<path fill="#def0ed" d="M638.2 122.3H644.8L644.0 113.9H637.6Z"/>
<path fill="#edf3f2" d="M644.2 122.3H650.8L649.9 113.9H643.4Z"/>
<path fill="#f5efde" d="M650.2 122.3H656.8L655.7 113.9H649.3Z"/>
<path fill="#e9d39d" d="M656.2 122.3H662.8L661.5 113.9H655.1Z"/>
<path fill="#e2c787" d="M662.2 122.3H668.7L667.3 113.9H660.9Z"/>
<path fill="#d4ac62" d="M668.1 122.3H674.7L673.1 113.9H666.7Z"/>
<path fill="#f6ebcf" d="M674.1 122.3H680.7L678.9 113.9H672.5Z"/>
<path fill="#f4f5f5" d="M704.1 122.3H746.7L742.8 113.9H701.6Z"/>
<path fill="#f5f1e6" d="M800.0 122.3H806.6L800.9 113.9H794.5Z"/>
<path fill="#f5efde" d="M806.0 122.3H812.6L806.8 113.9H800.3Z"/>
<path fill="#f6edd7" d="M812.0 122.3H824.6L818.4 113.9H806.2Z"/>
<path fill="#f6ebcf" d="M824.0 122.3H848.5L841.6 113.9H817.8Z"/>
<path fill="#f6edd7" d="M847.9 122.3H854.5L847.4 113.9H841.0Z"/>
<path fill="#f5efde" d="M853.9 122.3H860.5L853.2 113.9H846.8Z"/>
<path fill="#f5f1e6" d="M859.9 122.3H878.5L870.7 113.9H852.6Z"/>
<path fill="#f5efde" d="M877.9 122.3H902.5L893.9 113.9H870.1Z"/>
<path fill="#f5f1e6" d="M901.9 122.3H908.5L899.7 113.9H893.3Z"/>
<path fill="#f4f5f5" d="M919.9 122.3H932.5L923.0 113.9H910.8Z"/>
<path fill="#edf3f2" d="M931.9 122.3H956.4L946.2 113.9H922.4Z"/>
<path fill="#e6f1f0" d="M955.8 122.3H962.4L952.0 113.9H945.6Z"/>
<path fill="#def0ed" d="M961.8 122.3H980.4L969.5 113.9H951.4Z"/>
<path fill="#e6f1f0" d="M979.8 122.3H1040.3L1027.6 113.9H968.9Z"/>
<path fill="#edf3f2" d="M1039.7 122.3H1052.3L1039.2 113.9H1027.0Z"/>
<path fill="#f4f5f5" d="M230.9 114.5H283.8L295.1 106.4H244.0Z"/>
<path fill="#edf3f2" d="M283.2 114.5H318.6L328.8 106.4H294.5Z"/>
<path fill="#f4f5f5" d="M318.0 114.5H365.1L373.8 106.4H328.2Z"/>
<path fill="#f4f5f5" d="M387.8 114.5H394.2L401.8 106.4H395.6Z"/>
<path fill="#f5f1e6" d="M434.2 114.5H452.3L458.0 106.4H440.5Z"/>
<path fill="#edf3f2" d="M486.5 114.5H493.0L497.3 106.4H491.1Z"/>
<path fill="#d0ece8" d="M492.4 114.5H498.8L502.9 106.4H496.7Z"/>
<path fill="#bfe7e1" d="M498.2 114.5H504.6L508.5 106.4H502.3Z"/>
<path fill="#d0ece8" d="M504.0 114.5H510.4L514.1 106.4H507.9Z"/>
<path fill="#edf3f2" d="M509.8 114.5H516.2L519.7 106.4H513.5Z"/>
<path fill="#f4f5f5" d="M515.6 114.5H522.0L525.4 106.4H519.1Z"/>
<path fill="#f5f1e6" d="M556.3 114.5H562.7L564.7 106.4H558.4Z"/>
<path fill="#f5efde" d="M562.1 114.5H568.5L570.3 106.4H564.1Z"/>
<path fill="#f6edd7" d="M567.9 114.5H580.1L581.5 106.4H569.7Z"/>
<path fill="#f5efde" d="M579.5 114.5H585.9L587.1 106.4H580.9Z"/>
<path fill="#f4f5f5" d="M585.3 114.5H591.7L592.7 106.4H586.5Z"/>
<path fill="#d7eeeb" d="M591.1 114.5H597.6L598.3 106.4H592.1Z"/>
<path fill="#bfe7e1" d="M597.0 114.5H603.4L604.0 106.4H597.7Z"/>
<path fill="#b4e2db" d="M602.8 114.5H609.2L609.6 106.4H603.4Z"/>
<path fill="#bfe7e1" d="M608.6 114.5H615.0L615.2 106.4H609.0Z"/>
<path fill="#c9eae6" d="M614.4 114.5H620.8L620.8 106.4H614.6Z"/>
<path fill="#d0ece8" d="M620.2 114.5H626.6L626.4 106.4H620.2Z"/>
<path fill="#def0ed" d="M626.0 114.5H632.4L632.0 106.4H625.8Z"/>
<path fill="#e6f1f0" d="M631.8 114.5H655.7L654.5 106.4H631.4Z"/>
<path fill="#edf3f2" d="M655.1 114.5H661.5L660.1 106.4H653.9Z"/>
<path fill="#f4f5f5" d="M660.9 114.5H673.1L671.3 106.4H659.5Z"/>
<path fill="#edf3f2" d="M672.5 114.5H748.6L744.3 106.4H670.7Z"/>
<path fill="#f4f5f5" d="M748.0 114.5H754.5L749.9 106.4H743.7Z"/>
<path fill="#edf3f2" d="M753.9 114.5H760.3L755.6 106.4H749.3Z"/>
<path fill="#f4f5f5" d="M759.7 114.5H766.1L761.2 106.4H755.0Z"/>
<path fill="#f4f5f5" d="M782.9 114.5H795.1L789.2 106.4H777.4Z"/>
<path fill="#f5f1e6" d="M800.3 114.5H812.6L806.1 106.4H794.3Z"/>
<path fill="#f6edd7" d="M812.0 114.5H818.4L811.7 106.4H805.5Z"/>
<path fill="#f6ebcf" d="M817.8 114.5H841.6L834.2 106.4H811.1Z"/>
<path fill="#f6edd7" d="M841.0 114.5H847.4L839.8 106.4H833.6Z"/>
<path fill="#f5efde" d="M846.8 114.5H853.2L845.4 106.4H839.2Z"/>
<path fill="#f5f1e6" d="M852.6 114.5H859.1L851.0 106.4H844.8Z"/>
<path fill="#f5f1e6" d="M870.1 114.5H899.7L890.3 106.4H861.6Z"/>
<path fill="#f4f5f5" d="M916.6 114.5H940.4L929.6 106.4H906.5Z"/>
<path fill="#edf3f2" d="M939.8 114.5H952.0L940.8 106.4H929.0Z"/>
<path fill="#e6f1f0" d="M951.4 114.5H975.3L963.3 106.4H940.2Z"/>
<path fill="#edf3f2" d="M974.7 114.5H981.1L968.9 106.4H962.7Z"/>
<path fill="#e6f1f0" d="M980.5 114.5H1027.6L1013.8 106.4H968.3Z"/>
<path fill="#edf3f2" d="M1027.0 114.5H1039.2L1025.1 106.4H1013.2Z"/>
<path fill="#edf3f2" d="M215.9 107.0H222.2L237.3 99.2H231.3Z"/>
<path fill="#f4f5f5" d="M221.6 107.0H244.6L258.9 99.2H236.7Z"/>
<path fill="#edf3f2" d="M244.0 107.0H255.8L269.7 99.2H258.3Z"/>
<path fill="#f4f5f5" d="M255.2 107.0H267.1L280.5 99.2H269.1Z"/>
<path fill="#edf3f2" d="M266.5 107.0H300.8L312.9 99.2H279.9Z"/>
<path fill="#e6f1f0" d="M300.2 107.0H312.0L323.7 99.2H312.3Z"/>
<path fill="#edf3f2" d="M311.4 107.0H334.5L345.3 99.2H323.1Z"/>
<path fill="#f4f5f5" d="M333.9 107.0H373.8L383.1 99.2H344.7Z"/>
<path fill="#f4f5f5" d="M395.6 107.0H401.8L410.2 99.2H404.2Z"/>
<path fill="#f5f1e6" d="M418.1 107.0H435.5L442.6 99.2H425.8Z"/>
<path fill="#f4f5f5" d="M485.4 107.0H491.7L496.6 99.2H490.6Z"/>
<path fill="#e6f1f0" d="M491.1 107.0H497.3L502.0 99.2H496.0Z"/>
<path fill="#d7eeeb" d="M496.7 107.0H502.9L507.4 99.2H501.4Z"/>
<path fill="#def0ed" d="M502.3 107.0H508.5L512.8 99.2H506.8Z"/>
<path fill="#edf3f2" d="M507.9 107.0H514.1L518.2 99.2H512.2Z"/>
<path fill="#f4f5f5" d="M513.5 107.0H519.7L523.6 99.2H517.6Z"/>
<path fill="#f5f1e6" d="M564.1 107.0H581.5L583.0 99.2H566.2Z"/>
<path fill="#edf3f2" d="M586.5 107.0H592.7L593.8 99.2H587.8Z"/>
<path fill="#def0ed" d="M592.1 107.0H598.3L599.2 99.2H593.2Z"/>
<path fill="#d0ece8" d="M597.7 107.0H615.2L615.4 99.2H598.6Z"/>
<path fill="#d7eeeb" d="M614.6 107.0H620.8L620.8 99.2H614.8Z"/>
<path fill="#def0ed" d="M620.2 107.0H626.4L626.2 99.2H620.2Z"/>
<path fill="#e6f1f0" d="M625.8 107.0H744.3L739.6 99.2H625.6Z"/>
<path fill="#edf3f2" d="M743.7 107.0H749.9L745.0 99.2H739.0Z"/>
<path fill="#def0ed" d="M749.3 107.0H755.6L750.4 99.2H744.4Z"/>
<path fill="#a8ddd5" d="M755.0 107.0H761.2L755.8 99.2H749.8Z"/>
<path fill="#bfe7e1" d="M760.6 107.0H766.8L761.2 99.2H755.2Z"/>
<path fill="#f4f5f5" d="M766.2 107.0H772.4L766.6 99.2H760.6Z"/>
<path fill="#f4f5f5" d="M777.4 107.0H811.7L804.4 99.2H771.4Z"/>
<path fill="#f5f1e6" d="M811.1 107.0H817.3L809.8 99.2H803.8Z"/>
<path fill="#f5efde" d="M816.7 107.0H822.9L815.2 99.2H809.2Z"/>
<path fill="#f6edd7" d="M822.3 107.0H828.5L820.6 99.2H814.6Z"/>
<path fill="#f5efde" d="M827.9 107.0H834.2L826.0 99.2H820.0Z"/>
<path fill="#f5f1e6" d="M833.6 107.0H839.8L831.4 99.2H825.4Z"/>
<path fill="#f4f5f5" d="M844.8 107.0H873.5L863.9 99.2H836.2Z"/>
<path fill="#f4f5f5" d="M878.5 107.0H929.6L917.9 99.2H868.7Z"/>
<path fill="#edf3f2" d="M929.0 107.0H952.1L939.5 99.2H917.3Z"/>
<path fill="#e6f1f0" d="M951.5 107.0H957.7L944.9 99.2H938.9Z"/>
<path fill="#edf3f2" d="M957.1 107.0H968.9L955.7 99.2H944.3Z"/>
<path fill="#e6f1f0" d="M968.3 107.0H1013.8L998.9 99.2H955.1Z"/>
<path fill="#edf3f2" d="M1013.2 107.0H1025.1L1009.7 99.2H998.3Z"/>
<path fill="#edf3f2" d="M231.3 99.8H248.1L263.3 92.5H247.1Z"/>
<path fill="#f4f5f5" d="M247.5 99.8H258.9L273.6 92.5H262.7Z"/>
<path fill="#edf3f2" d="M258.3 99.8H269.7L284.0 92.5H273.0Z"/>
<path fill="#f4f5f5" d="M269.1 99.8H275.1L289.2 92.5H283.4Z"/>
<path fill="#edf3f2" d="M274.5 99.8H329.1L341.0 92.5H288.6Z"/>
<path fill="#f4f5f5" d="M328.5 99.8H350.7L361.7 92.5H340.4Z"/>
<path fill="#f4f5f5" d="M355.5 99.8H383.1L392.8 92.5H366.3Z"/>
<path fill="#f4f5f5" d="M404.2 99.8H415.6L423.9 92.5H412.9Z"/>
<path fill="#f4f5f5" d="M469.0 99.8H485.8L491.3 92.5H475.1Z"/>
<path fill="#f4f5f5" d="M506.8 99.8H512.8L517.2 92.5H511.4Z"/>
<path fill="#f5f1e6" d="M528.4 99.8H534.4L537.9 92.5H532.1Z"/>
<path fill="#f4f5f5" d="M582.4 99.8H588.4L589.7 92.5H583.9Z"/>
<path fill="#edf3f2" d="M587.8 99.8H593.8L594.9 92.5H589.1Z"/>
<path fill="#e6f1f0" d="M593.2 99.8H599.2L600.1 92.5H594.3Z"/>
<path fill="#def0ed" d="M598.6 99.8H615.4L615.6 92.5H599.5Z"/>
<path fill="#e6f1f0" d="M614.8 99.8H626.2L626.0 92.5H615.0Z"/>
<path fill="#edf3f2" d="M625.6 99.8H637.0L636.3 92.5H625.4Z"/>
<path fill="#e6f1f0" d="M636.4 99.8H745.0L740.0 92.5H635.7Z"/>
<path fill="#edf3f2" d="M744.4 99.8H755.8L750.3 92.5H739.4Z"/>
<path fill="#def0ed" d="M755.2 99.8H761.2L755.5 92.5H749.7Z"/>
<path fill="#e6f1f0" d="M760.6 99.8H766.6L760.7 92.5H754.9Z"/>
<path fill="#f4f5f5" d="M782.2 99.8H793.6L786.6 92.5H775.7Z"/>
<path fill="#edf3f2" d="M793.0 99.8H809.8L802.2 92.5H786.0Z"/>
<path fill="#f4f5f5" d="M809.2 99.8H831.4L822.9 92.5H801.6Z"/>
<path fill="#edf3f2" d="M830.8 99.8H934.1L921.3 92.5H822.3Z"/>
<path fill="#e6f1f0" d="M933.5 99.8H944.9L931.7 92.5H920.7Z"/>
<path fill="#edf3f2" d="M944.3 99.8H966.5L952.4 92.5H931.1Z"/>
<path fill="#e6f1f0" d="M965.9 99.8H998.9L983.5 92.5H951.8Z"/>
<path fill="#edf3f2" d="M998.3 99.8H1009.7L993.9 92.5H982.9Z"/>
<path fill="#edf3f2" d="M247.1 93.1H268.4L282.8 86.4H262.4Z"/>
<path fill="#f4f5f5" d="M267.8 93.1H289.2L302.7 86.4H282.2Z"/>
<path fill="#edf3f2" d="M288.6 93.1H309.9L322.6 86.4H302.1Z"/>
<path fill="#f4f5f5" d="M309.3 93.1H315.1L327.6 86.4H322.0Z"/>
<path fill="#edf3f2" d="M314.5 93.1H335.8L347.4 86.4H327.0Z"/>
<path fill="#f4f5f5" d="M335.2 93.1H341.0L352.4 86.4H346.8Z"/>
<path fill="#f4f5f5" d="M361.1 93.1H387.6L397.1 86.4H371.7Z"/>
<path fill="#f4f5f5" d="M412.9 93.1H423.9L431.9 86.4H421.4Z"/>
<path fill="#f4f5f5" d="M469.9 93.1H486.1L491.6 86.4H476.1Z"/>
<path fill="#f5f1e6" d="M526.9 93.1H537.9L541.3 86.4H530.7Z"/>
<path fill="#f4f5f5" d="M578.7 93.1H589.7L591.0 86.4H580.4Z"/>
<path fill="#edf3f2" d="M589.1 93.1H636.3L635.7 86.4H590.4Z"/>
<path fill="#e6f1f0" d="M635.7 93.1H646.7L645.7 86.4H635.1Z"/>
<path fill="#edf3f2" d="M646.1 93.1H657.1L655.6 86.4H645.1Z"/>
<path fill="#e6f1f0" d="M656.5 93.1H740.0L735.1 86.4H655.0Z"/>
<path fill="#edf3f2" d="M739.4 93.1H750.3L745.1 86.4H734.5Z"/>
<path fill="#f4f5f5" d="M749.7 93.1H760.7L755.0 86.4H744.5Z"/>
<path fill="#f4f5f5" d="M780.8 93.1H786.6L779.8 86.4H774.3Z"/>
<path fill="#edf3f2" d="M786.0 93.1H848.8L839.5 86.4H779.2Z"/>
<path fill="#e6f1f0" d="M848.2 93.1H869.5L859.4 86.4H838.9Z"/>
<path fill="#edf3f2" d="M868.9 93.1H890.3L879.2 86.4H858.8Z"/>
<path fill="#e6f1f0" d="M889.7 93.1H911.0L899.1 86.4H878.6Z"/>
<path fill="#edf3f2" d="M910.4 93.1H916.2L904.1 86.4H898.5Z"/>
<path fill="#e6f1f0" d="M915.6 93.1H942.1L928.9 86.4H903.5Z"/>
<path fill="#edf3f2" d="M941.5 93.1H993.9L978.6 86.4H928.3Z"/>
<path fill="#f4f5f5" d="M262.4 87.0H352.4L363.1 81.3H276.6Z"/>
<path fill="#f4f5f5" d="M376.7 87.0H397.1L406.0 81.3H386.4Z"/>
<path fill="#f4f5f5" d="M416.4 87.0H431.9L439.5 81.3H424.5Z"/>
<path fill="#f5f1e6" d="M535.7 87.0H541.3L544.4 81.3H539.1Z"/>
<path fill="#f4f5f5" d="M555.6 87.0H595.9L596.9 81.3H558.2Z"/>
<path fill="#edf3f2" d="M595.3 87.0H605.9L606.5 81.3H596.3Z"/>
<path fill="#f4f5f5" d="M605.3 87.0H625.8L625.6 81.3H605.9Z"/>
<path fill="#edf3f2" d="M625.2 87.0H730.1L725.8 81.3H625.0Z"/>
<path fill="#e6f1f0" d="M729.5 87.0H735.1L730.6 81.3H725.2Z"/>
<path fill="#edf3f2" d="M734.5 87.0H745.1L740.1 81.3H730.0Z"/>
<path fill="#f4f5f5" d="M744.5 87.0H755.0L749.7 81.3H739.5Z"/>
<path fill="#f4f5f5" d="M774.3 87.0H779.8L773.5 81.3H768.1Z"/>
<path fill="#edf3f2" d="M779.2 87.0H839.5L830.8 81.3H772.9Z"/>
<path fill="#e6f1f0" d="M838.9 87.0H844.5L835.6 81.3H830.2Z"/>
<path fill="#edf3f2" d="M843.9 87.0H854.4L845.1 81.3H835.0Z"/>
<path fill="#e6f1f0" d="M853.8 87.0H859.4L849.9 81.3H844.5Z"/>
<path fill="#edf3f2" d="M858.8 87.0H884.2L873.7 81.3H849.3Z"/>
<path fill="#e6f1f0" d="M883.6 87.0H928.9L916.7 81.3H873.1Z"/>
<path fill="#edf3f2" d="M928.3 87.0H978.6L964.4 81.3H916.1Z"/>
<path fill="#f4f5f5" d="M276.6 81.9H363.1L372.7 77.1H289.5Z"/>
<path fill="#f4f5f5" d="M424.5 81.9H439.5L446.2 77.1H431.9Z"/>
<path fill="#f4f5f5" d="M500.9 81.9H530.1L533.5 77.1H505.4Z"/>
<path fill="#f4f5f5" d="M553.4 81.9H577.8L579.5 77.1H555.9Z"/>
<path fill="#f4f5f5" d="M586.8 81.9H630.3L630.0 77.1H588.0Z"/>
<path fill="#edf3f2" d="M629.7 81.9H635.1L634.6 77.1H629.4Z"/>
<path fill="#f4f5f5" d="M634.5 81.9H721.0L717.3 77.1H634.0Z"/>
<path fill="#edf3f2" d="M720.4 81.9H744.9L740.2 77.1H716.7Z"/>
<path fill="#f4f5f5" d="M744.3 81.9H754.4L749.4 77.1H739.6Z"/>
<path fill="#f4f5f5" d="M772.9 81.9H783.1L777.0 77.1H767.2Z"/>
<path fill="#edf3f2" d="M782.5 81.9H821.2L813.7 77.1H776.4Z"/>
<path fill="#e6f1f0" d="M820.6 81.9H835.6L827.5 77.1H813.1Z"/>
<path fill="#edf3f2" d="M835.0 81.9H873.7L864.3 77.1H826.9Z"/>
<path fill="#e6f1f0" d="M873.1 81.9H883.3L873.4 77.1H863.7Z"/>
<path fill="#edf3f2" d="M882.7 81.9H940.5L928.6 77.1H872.8Z"/>
<path fill="#f4f5f5" d="M939.9 81.9H950.1L937.8 77.1H928.0Z"/>
<path fill="#edf3f2" d="M949.5 81.9H964.4L951.5 77.1H937.2Z"/>
<path fill="#f4f5f5" d="M289.5 77.7H313.0L323.4 74.0H300.6Z"/>
<path fill="#f4f5f5" d="M317.0 77.7H331.4L341.2 74.0H327.2Z"/>
<path fill="#f4f5f5" d="M340.0 77.7H368.2L376.7 74.0H349.4Z"/>
<path fill="#f4f5f5" d="M431.9 77.7H441.7L447.7 74.0H438.2Z"/>
<path fill="#f4f5f5" d="M454.8 77.7H460.0L465.4 74.0H460.4Z"/>
<path fill="#f4f5f5" d="M496.2 77.7H538.1L540.9 74.0H500.4Z"/>
<path fill="#f4f5f5" d="M551.3 77.7H561.1L563.1 74.0H553.6Z"/>
<path fill="#edf3f2" d="M560.5 77.7H570.3L572.0 74.0H562.5Z"/>
<path fill="#f4f5f5" d="M569.7 77.7H574.9L576.4 74.0H571.4Z"/>
<path fill="#f4f5f5" d="M592.6 77.7H611.6L611.9 74.0H593.6Z"/>
<path fill="#f4f5f5" d="M620.2 77.7H680.5L678.5 74.0H620.2Z"/>
<path fill="#f4f5f5" d="M689.1 77.7H726.5L722.9 74.0H686.8Z"/>
<path fill="#edf3f2" d="M725.9 77.7H744.8L740.6 74.0H722.3Z"/>
<path fill="#f4f5f5" d="M744.2 77.7H749.4L745.1 74.0H740.0Z"/>
<path fill="#f4f5f5" d="M771.8 77.7H781.6L776.2 74.0H766.7Z"/>
<path fill="#edf3f2" d="M781.0 77.7H799.9L793.9 74.0H775.6Z"/>
<path fill="#f4f5f5" d="M799.3 77.7H804.5L798.3 74.0H793.3Z"/>
<path fill="#edf3f2" d="M803.9 77.7H813.7L807.2 74.0H797.7Z"/>
<path fill="#e6f1f0" d="M813.1 77.7H822.9L816.1 74.0H806.6Z"/>
<path fill="#edf3f2" d="M822.3 77.7H878.0L869.4 74.0H815.5Z"/>
<path fill="#f4f5f5" d="M877.4 77.7H891.8L882.7 74.0H868.8Z"/>
<path fill="#edf3f2" d="M891.2 77.7H901.0L891.6 74.0H882.1Z"/>
<path fill="#f4f5f5" d="M900.4 77.7H905.6L896.0 74.0H891.0Z"/>
<path fill="#edf3f2" d="M905.0 77.7H919.4L909.3 74.0H895.4Z"/>
<path fill="#f4f5f5" d="M918.8 77.7H928.6L918.2 74.0H908.7Z"/>
<path fill="#f4f5f5" d="M932.6 77.7H942.4L931.5 74.0H922.0Z"/>
<path fill="#edf3f2" d="M941.8 77.7H951.5L940.4 74.0H930.9Z"/>
</g>
<g fill="none" stroke="#000" stroke-width="2.9" stroke-linejoin="round" stroke-linecap="round">
<path d="M197.0 136.5 L199.4 137.1 L203.1 137.6 L207.0 134.3 L211.5 133.2 L216.4 133.2 L215.1 130.2 L214.6 127.4 L218.4 125.9 L221.2 124.1 L226.9 122.0 L232.1 122.0 L236.2 121.7 L239.2 120.3 L245.5 120.6 L251.2 117.9 L254.3 117.4 L259.3 116.9 L261.1 118.5 L263.0 120.4 L266.9 119.6 L271.3 121.5 L276.9 121.6 L280.9 123.2 L285.4 122.4 L287.6 124.1 L289.6 124.9 L293.1 125.1 L298.3 126.1 L301.3 125.0 L306.2 121.4 L313.6 122.0 L316.7 122.7 L319.1 123.6 L322.5 123.7 L326.0 124.7 L330.8 123.9 L333.4 125.4 L336.5 125.4 L338.4 128.3 L341.1 127.9 L344.7 127.4 L347.4 127.1 L350.6 128.3 L352.6 131.6 L355.8 129.3 L360.3 128.4 L364.3 128.8 L370.3 128.3 L373.7 127.9 L375.4 126.6 L379.8 127.2 L382.5 128.3 L385.1 126.4 L387.2 126.4 L390.1 125.1 L392.7 123.8 L395.0 120.2 L399.2 118.1 L400.6 115.7 L400.1 118.1 L399.9 122.0 L401.0 126.7 L403.4 128.1 L405.9 130.0 L409.3 128.5 L412.0 127.6 L414.1 124.8 L415.5 123.6 L420.0 122.8 L422.8 123.6 L421.8 128.3 L419.4 128.2 L416.4 130.3 L412.5 133.1 L407.3 134.9 L404.3 138.4 L401.4 138.7 L398.8 139.8 L396.1 140.9 L391.4 143.2 L388.7 144.2 L386.3 143.2 L382.2 145.4 L379.2 147.1 L377.5 148.3 L374.6 151.8 L371.8 154.6 L368.7 155.1 L367.2 159.3 L366.6 162.4 L367.2 165.6 L371.3 166.8 L374.0 166.2 L378.5 167.4 L382.7 169.0 L384.3 171.6 L387.3 172.6 L391.2 172.7 L389.8 175.3 L388.3 179.9 L388.2 182.2 L389.6 186.0 L394.2 185.3 L395.1 182.5 L396.6 180.9 L399.1 178.7 L399.2 176.3 L402.3 176.1 L406.5 172.6 L407.6 169.6 L410.1 167.4 L410.7 164.5 L410.2 159.7 L413.5 156.1 L415.0 153.4 L417.3 149.9 L417.5 146.9 L421.3 146.8 L424.1 146.3 L427.7 147.3 L430.6 150.4 L433.1 150.3 L435.8 151.7 L436.0 156.0 L433.3 159.3 L435.8 160.1 L439.5 160.4 L441.1 159.1 L442.9 156.5 L446.4 155.8 L449.1 154.1 L450.8 156.1 L452.1 159.9 L451.5 163.9 L451.6 167.7 L454.1 170.9 L456.3 171.6 L457.7 174.4 L460.0 177.4 L460.3 179.7 L461.3 183.5 L456.9 182.6 L455.9 185.0 L452.6 186.4 L449.6 188.9 L447.0 190.0 L443.2 190.6 L439.1 187.3 L435.7 188.4 L432.6 190.0 L428.8 192.6 L425.6 193.3 L423.7 194.9 L421.2 196.0 L418.6 197.4 L414.4 200.0 L418.1 197.2 L421.0 196.9 L424.9 195.2 L429.4 195.0 L432.5 194.4 L431.5 197.7 L430.6 200.0 L429.4 202.7 L427.3 205.5 L432.0 202.6 L435.7 202.8 L440.3 201.8 L438.5 204.2 L438.4 208.1 L434.1 206.7 L431.6 208.3 L428.6 211.1 L424.9 213.5 L421.4 214.8 L422.6 211.1 L426.0 210.1 L428.2 207.4 L424.1 209.1 L420.2 209.2 L416.0 210.2 L412.9 210.4 L409.6 214.0 L407.6 217.5 L405.4 220.4 L407.2 221.5 L404.2 222.2 L400.5 223.4 L397.4 224.4 L393.7 225.6 L391.8 229.8 L389.6 232.5 L386.1 235.4 L383.5 239.2 L384.9 243.3 L383.0 245.6 L380.8 246.2 L377.9 248.6 L375.8 250.4 L372.7 251.2 L370.3 253.5 L368.2 254.3 L364.8 255.8 L362.4 259.9 L360.2 263.0 L359.8 265.6 L361.2 269.2 L360.3 272.5 L361.4 275.0 L361.6 277.8 L360.8 282.6 L357.6 284.5 L355.9 281.4 L355.3 278.8 L354.7 275.5 L354.1 273.1 L351.8 269.4 L352.9 266.3 L348.0 266.7 L345.8 265.5 L342.2 264.1 L338.9 264.0 L335.6 264.8 L333.1 268.6 L328.4 268.2 L325.8 268.2 L323.3 268.7 L319.0 267.5 L314.6 268.7 L312.2 269.4 L309.8 272.4 L305.6 275.1 L306.5 278.0 L305.4 280.7 L303.1 284.0 L303.1 286.3 L302.1 290.3 L301.4 293.9 L301.8 297.0 L301.9 299.5 L301.9 302.9 L304.0 305.2 L307.2 308.1 L309.9 310.2 L313.2 308.0 L315.6 308.2 L318.3 308.6 L320.6 308.0 L323.0 305.2 L324.2 302.4 L325.1 299.6 L328.3 299.4 L332.9 297.7 L336.1 298.4 L334.3 302.3 L333.5 305.2 L332.1 306.6 L331.4 309.9 L330.3 312.8 L329.2 315.7 L327.5 319.2 L331.8 319.5 L334.6 319.1 L336.8 318.8 L338.7 320.1 L341.5 321.0 L344.8 321.5 L344.6 323.9 L343.6 327.3 L344.5 331.7 L344.0 335.2 L342.8 337.4 L344.5 339.9 L345.4 342.6 L349.6 345.3 L352.5 343.9 L355.4 343.4 L359.7 343.4 L362.2 344.9 L363.5 346.8 L365.1 348.7 L367.2 345.7 L369.4 342.6 L370.2 340.9 L371.6 338.1 L375.1 338.7 L378.4 336.2 L381.1 334.3 L382.9 332.1 L384.3 334.4 L383.9 337.4 L382.5 339.3 L382.0 343.0 L384.6 343.0 L386.3 339.5 L387.7 335.5 L390.8 336.5 L393.9 337.4 L397.6 338.4 L401.4 338.9 L403.1 339.8 L406.3 340.4 L410.6 340.2 L414.7 338.5 L416.5 339.7 L417.9 343.0 L421.0 346.8 L422.3 350.7 L425.8 352.5 L428.4 354.0 L430.7 356.2 L434.5 355.9 L437.4 356.2 L440.2 357.1 L444.0 358.1 L446.9 361.0 L448.9 362.7 L450.9 365.0 L452.0 366.8 L453.2 370.1 L453.7 372.1 L455.0 376.0 L453.7 378.9 L455.2 380.8 L458.7 382.7 L462.5 382.7 L467.1 382.7 L469.1 384.6 L472.1 388.3 L475.6 389.0 L480.5 389.5 L484.3 389.1 L487.1 389.5 L489.7 392.4 L493.0 394.3 L495.5 395.9 L499.6 395.9 L502.9 398.5 L502.2 401.6 L504.2 403.8 L504.7 407.2 L502.8 410.5 L502.6 414.8 L500.8 418.5 L497.8 422.3 L494.7 424.8 L493.0 428.0 L491.9 430.5 L491.2 433.0 L491.8 437.4 L492.7 440.1 L490.9 442.9 L491.6 446.1 L489.9 449.1 L490.4 452.2 L489.4 454.4 L487.9 457.0 L489.6 459.8 L486.6 462.0 L483.6 465.8 L479.3 465.6 L475.5 466.5 L472.5 468.0 L469.3 470.3 L466.0 471.5 L463.9 475.2 L463.4 478.6 L463.7 482.8 L463.6 486.5 L461.6 489.6 L459.8 491.2 L458.9 494.2 L457.9 497.1 L455.5 500.0 L454.1 503.5 L453.6 507.0 L451.7 508.1 L449.7 509.1 L447.5 510.7 L444.0 509.8 L440.9 509.2 L439.1 508.2 L436.1 507.3 L437.5 510.2 L440.5 512.2 L442.4 516.8 L441.7 519.6 L441.4 522.4 L437.8 525.3 L435.0 525.8 L431.4 524.9 L428.9 526.2 L429.6 529.6 L429.7 532.9 L426.0 533.7 L421.7 533.7 L424.9 536.6 L426.3 539.3 L423.8 543.0 L425.2 544.9 L424.7 548.6 L422.2 551.0 L419.9 552.3 L422.9 554.7 L426.2 557.8 L425.3 560.7 L424.4 565.2 L422.9 568.0 L422.1 570.7 L425.1 573.0 L425.8 575.4 L421.5 576.1 L420.8 580.8 L416.0 579.7 L412.5 577.8 L410.2 576.1 L406.4 574.8 L406.1 570.5 L404.1 568.8 L402.7 565.5 L399.7 563.9 L399.7 561.5 L401.1 558.7 L399.8 554.2 L399.8 549.3 L399.4 544.9 L397.2 541.8 L396.0 537.4 L395.2 533.5 L394.5 529.9 L394.5 526.3 L392.9 522.4 L392.2 518.9 L392.8 514.9 L394.6 512.6 L396.8 509.3 L395.7 505.6 L393.6 503.5 L391.2 498.7 L388.5 497.0 L389.8 494.0 L391.5 492.2 L390.8 488.1 L391.8 484.7 L391.5 480.0 L392.2 477.2 L391.7 473.3 L392.8 470.5 L392.7 466.8 L391.3 462.0 L391.8 459.0 L390.5 454.1 L389.7 451.3 L389.6 448.8 L388.0 446.8 L385.2 444.2 L382.6 442.2 L378.2 440.5 L375.0 436.7 L371.1 435.6 L369.5 432.7 L368.0 429.9 L366.4 428.0 L364.6 424.2 L360.7 422.7 L360.9 419.1 L360.8 416.7 L359.4 413.4 L358.8 411.1 L356.0 407.2 L354.7 404.2 L351.5 401.6 L351.0 399.0 L349.9 395.9 L351.0 393.9 L352.8 391.4 L353.7 388.3 L351.1 387.2 L352.0 382.7 L353.9 380.1 L353.6 377.8 L356.6 375.4 L357.0 373.2 L358.7 369.5 L359.0 366.4 L362.2 364.5 L362.6 361.7 L363.0 358.1 L362.8 356.0 L362.6 352.5 L360.8 351.1 L360.1 347.6 L356.3 345.3 L354.8 349.2 L353.3 351.3 L351.1 349.6 L347.8 347.9 L344.8 347.0 L342.9 346.8 L341.3 343.7 L338.2 341.1 L335.8 337.4 L334.7 335.3 L332.4 333.2 L330.8 329.8 L328.6 327.7 L324.3 327.9 L320.8 326.1 L317.9 326.0 L316.4 322.7 L312.8 321.4 L310.6 317.7 L307.3 318.5 L303.7 319.6 L300.7 318.9 L298.2 316.6 L294.3 315.8 L292.0 313.8 L289.2 313.9 L287.0 312.9 L285.1 310.9 L282.5 307.4 L277.6 306.4 L276.6 303.7 L275.1 301.5 L276.3 298.4 L276.7 295.8 L275.1 292.3 L273.7 290.1 L271.6 286.8 L268.5 283.3 L267.8 280.8 L266.5 278.1 L265.4 276.0 L262.9 273.1 L260.7 270.6 L259.6 267.5 L259.3 263.5 L259.4 261.1 L255.2 259.2 L254.3 262.6 L253.5 265.6 L253.4 269.5 L255.5 271.4 L256.9 273.9 L257.0 278.8 L259.6 282.6 L260.6 284.5 L261.8 287.5 L263.7 291.3 L261.3 290.1 L259.2 287.8 L256.9 284.5 L257.1 279.6 L254.5 277.1 L252.1 275.0 L251.5 270.1 L250.7 267.8 L249.9 264.8 L249.4 261.7 L248.6 258.0 L248.7 254.3 L246.3 250.5 L243.2 250.4 L240.5 248.6 L240.1 245.4 L239.8 241.0 L239.9 236.1 L239.8 232.0 L238.9 229.8 L239.3 226.0 L241.2 222.9 L240.7 220.6 L243.7 218.5 L245.0 216.1 L246.3 213.3 L248.7 211.1 L250.3 208.1 L251.3 206.3 L253.1 203.6 L255.5 200.4 L255.5 196.6 L258.4 196.0 L260.7 196.3 L259.8 200.0 L260.3 196.5 L262.5 194.4 L260.0 190.8 L258.8 189.0 L255.4 187.1 L255.7 184.4 L256.7 181.7 L257.7 178.6 L256.9 174.5 L255.7 170.9 L255.8 167.5 L256.3 165.6 L256.3 162.2 L255.8 160.4 L251.4 159.3 L248.1 155.8 L244.7 155.9 L241.7 154.9 L239.5 155.1 L237.8 152.9 L234.5 152.4 L232.0 152.9 L228.1 153.4 L225.6 155.4 L223.1 157.7 L219.0 156.9 L215.3 158.7 L211.7 158.6 L214.3 157.6 L217.5 155.4 L220.7 151.7 L217.5 151.8 L215.7 154.4 L213.2 156.3 L209.6 156.9 L206.0 158.1 L203.8 160.8 L201.2 162.1 L199.5 162.9 L196.8 164.9 L192.9 166.4 L189.8 166.3 L186.8 167.2 L183.7 167.1 L180.6 169.5 L177.0 170.6 L173.7 169.3 L171.6 170.6 L168.0 171.0 L165.7 173.4 L162.2 173.7 L159.9 174.1 L164.6 173.8 L168.6 171.6 L172.3 169.9 L174.3 169.6 L177.3 168.4 L180.5 167.4 L183.1 166.3 L185.7 163.2 L188.6 163.7 L190.9 162.8 L192.9 161.1 L196.2 159.3 L193.9 159.4 L190.8 159.3 L186.6 159.4 L183.2 160.0 L186.3 158.7 L188.9 155.1 L187.3 153.9 L184.2 152.4 L186.7 148.3 L188.8 146.4 L191.4 145.8 L194.1 144.9 L196.5 144.8 L200.4 144.3 L202.5 143.7 L206.1 143.2 L208.2 140.5 L210.3 139.8 L208.3 138.9 L204.6 139.1 L201.4 139.8 L198.5 138.2Z"/>
<path d="M259.3 196.6 L257.3 196.0 L254.1 195.2 L252.1 191.4 L250.9 188.6 L254.9 187.9 L258.6 190.8 L260.0 194.0Z"/>
<path d="M246.7 183.5 L246.0 180.3 L246.9 176.3 L250.3 176.3 L249.5 179.2 L247.7 181.2Z"/>
<path d="M464.6 97.5 L466.6 95.6 L469.7 94.6 L474.8 93.5 L479.6 92.8 L484.2 90.0 L487.7 89.7 L491.4 89.6 L495.6 88.6 L500.3 90.9 L504.8 88.5 L510.6 87.6 L520.8 87.2 L525.2 86.9 L529.9 85.4 L536.8 84.4 L542.0 85.0 L545.6 85.3 L552.2 85.3 L556.6 83.7 L561.8 84.6 L565.4 87.6 L569.3 88.6 L572.7 88.2 L576.8 86.7 L580.0 87.7 L583.8 90.3 L587.2 92.1 L590.3 90.0 L593.2 90.3 L596.2 89.1 L593.4 90.4 L590.6 91.8 L587.8 91.6 L585.3 92.8 L582.7 95.0 L579.8 98.1 L580.3 100.2 L579.6 103.8 L577.0 106.8 L573.0 108.2 L570.7 111.1 L569.4 114.2 L566.8 115.5 L563.7 118.8 L567.9 121.0 L564.6 123.8 L560.2 124.4 L557.4 125.1 L553.9 127.6 L549.7 127.6 L547.1 127.7 L543.7 131.0 L540.8 130.7 L538.6 131.6 L534.9 133.9 L532.4 136.1 L527.5 135.5 L523.2 134.1 L521.8 137.2 L519.1 138.2 L518.2 140.3 L517.1 142.9 L514.2 143.6 L511.3 146.6 L508.4 148.4 L507.0 149.5 L505.0 151.6 L504.6 155.1 L500.6 155.1 L496.7 154.6 L493.8 151.7 L493.3 147.7 L491.1 144.9 L489.4 142.2 L488.7 138.2 L489.3 135.2 L487.8 131.6 L489.7 128.0 L491.9 125.1 L495.6 125.4 L498.2 122.0 L495.0 119.5 L491.4 118.8 L492.4 115.8 L492.3 112.7 L492.0 108.7 L491.2 105.2 L487.5 105.5 L483.8 103.2 L480.4 103.6 L478.6 104.0 L475.3 104.0 L470.1 103.8 L468.3 102.0 L465.9 100.9Z"/>
<path d="M560.0 136.5 L562.7 136.0 L565.6 133.6 L567.6 134.2 L571.4 134.6 L575.5 134.2 L579.8 134.4 L583.0 134.2 L585.8 138.2 L582.2 140.5 L580.0 141.0 L577.3 139.4 L576.2 141.7 L572.8 143.5 L570.1 142.7 L566.6 142.2 L563.0 140.8 L564.6 138.8 L563.0 137.6Z"/>
<path d="M467.1 133.2 L467.0 136.9 L463.6 139.1 L458.9 141.5 L455.8 143.2 L454.4 145.2 L451.2 146.2 L448.0 148.3 L443.7 146.6 L440.9 145.4 L439.3 143.7 L435.5 142.5 L432.9 140.1 L429.4 139.8 L426.3 140.8 L422.8 138.2 L425.1 136.9 L428.4 136.2 L432.5 136.1 L434.9 134.9 L439.0 134.1 L440.8 131.4 L441.4 128.3 L441.2 124.3 L439.0 123.3 L435.9 122.0 L431.5 122.4 L429.1 120.7 L426.2 121.4 L423.9 122.0 L422.3 119.5 L419.7 118.7 L415.6 120.4 L413.8 118.4 L412.3 115.7 L416.0 113.9 L418.4 110.9 L422.2 111.4 L426.1 110.6 L429.2 110.2 L432.5 110.5 L435.3 110.1 L437.5 110.6 L441.4 112.7 L444.3 113.6 L446.2 115.8 L447.9 117.1 L449.7 118.2 L452.9 117.9 L454.8 121.4 L457.7 123.6 L460.2 127.4 L462.6 130.0 L465.4 132.1Z"/>
<path d="M449.3 102.3 L445.1 102.4 L442.4 102.6 L439.3 102.0 L433.9 102.3 L431.5 100.7 L428.2 99.5 L432.2 97.6 L436.4 98.4 L437.7 96.0 L440.7 94.1 L438.4 92.3 L437.1 90.3 L445.3 89.0 L449.6 87.3 L453.4 84.8 L458.0 86.3 L466.4 82.5 L471.5 81.9 L477.9 83.2 L482.5 85.6 L486.4 85.1 L490.9 84.9 L494.1 85.4 L496.8 87.2 L494.8 88.9 L492.5 91.0 L488.0 90.3 L484.2 89.5 L481.9 92.0 L476.8 92.9 L472.1 94.1 L467.0 94.3 L464.2 93.8 L462.1 94.5 L459.0 96.7 L456.1 97.7 L452.6 99.6Z"/>
<path d="M365.8 125.1 L363.3 127.7 L360.0 128.3 L357.5 126.0 L353.1 125.8 L351.2 123.2 L347.4 121.5 L343.3 124.3 L339.8 124.5 L340.3 122.0 L341.0 118.8 L344.1 117.6 L345.8 114.2 L351.3 112.8 L354.9 112.7 L358.8 109.3 L362.7 108.7 L367.3 111.6 L371.1 112.7 L371.9 115.6 L373.3 117.3 L374.2 119.9 L376.0 122.0 L373.2 122.1 L370.7 120.4 L368.9 122.1Z"/>
<path d="M332.6 117.9 L328.1 115.7 L329.7 112.9 L333.4 112.4 L335.0 111.3 L338.0 109.7 L342.8 109.9 L345.6 110.3 L348.7 109.8 L352.8 108.8 L352.6 112.7 L350.8 113.4 L347.3 113.9 L341.6 113.7 L338.0 117.3 L336.0 117.3Z"/>
<path d="M440.0 107.6 L435.0 107.6 L428.0 108.5 L423.5 109.4 L417.5 107.6 L417.0 103.8 L420.7 103.6 L425.6 104.2 L430.0 103.9 L433.0 103.2 L436.1 104.0 L437.8 105.2 L442.2 105.2Z"/>
<path d="M382.4 106.7 L378.9 107.8 L374.0 105.9 L370.1 107.1 L364.9 108.2 L362.9 105.4 L359.7 105.2 L365.6 103.9 L369.2 103.8 L372.0 103.5 L374.6 102.3 L378.9 102.6 L381.2 103.5 L386.0 103.8Z"/>
<path d="M393.6 115.7 L389.8 116.1 L387.3 116.4 L384.2 115.7 L386.0 113.6 L388.8 111.2 L392.4 110.7 L394.8 111.8 L398.9 110.3 L397.5 113.1Z"/>
<path d="M410.1 114.2 L407.5 114.8 L403.8 113.3 L401.4 113.5 L398.5 114.2 L401.4 110.8 L404.1 109.7 L407.5 110.0 L409.9 109.8 L414.3 109.7 L411.3 112.1Z"/>
<path d="M435.6 96.7 L431.6 95.6 L427.9 95.8 L424.3 93.6 L421.9 94.1 L425.9 93.7 L429.4 92.2 L430.9 90.3 L433.8 89.2 L435.5 87.6 L437.3 88.8 L439.6 91.5 L437.2 94.2Z"/>
<path d="M413.3 143.2 L408.9 143.3 L405.7 143.0 L401.3 143.9 L397.7 141.5 L401.7 138.7 L404.4 136.6 L406.9 135.5 L409.9 137.1 L412.7 138.2 L412.7 141.2Z"/>
<path d="M446.0 199.6 L449.6 199.7 L451.8 200.3 L453.6 201.0 L456.4 202.5 L460.5 202.8 L463.7 202.9 L465.5 199.2 L465.1 196.9 L464.2 192.6 L461.3 192.3 L459.2 190.8 L459.4 187.5 L461.5 185.3 L458.8 186.5 L455.4 188.2 L453.0 190.7 L450.0 194.4 L448.9 197.3Z"/>
<path d="M342.8 296.6 L346.3 296.0 L348.2 293.5 L350.0 292.0 L352.6 293.0 L355.0 293.5 L358.2 291.7 L361.6 292.6 L364.0 293.7 L366.8 295.5 L368.9 297.3 L371.4 301.6 L374.8 300.8 L377.4 302.6 L373.2 303.9 L370.4 302.7 L366.5 303.7 L365.2 300.7 L362.4 299.3 L360.8 297.8 L358.3 298.0 L355.9 296.9 L353.9 294.9 L349.6 295.0 L347.1 296.7Z"/>
<path d="M376.1 309.4 L378.2 306.7 L381.3 303.7 L384.0 304.4 L385.9 306.8 L387.7 304.9 L391.1 304.1 L394.1 306.3 L395.8 308.6 L392.7 310.3 L388.8 310.2 L383.8 310.5 L380.9 310.0 L378.7 310.0Z"/>
<path d="M363.2 309.8 L366.0 310.4 L369.7 310.5 L365.6 311.7Z"/>
<path d="M399.7 309.8 L404.6 309.8 L403.5 311.1 L399.6 310.9Z"/>
<path d="M426.1 576.8 L423.0 578.2 L421.7 579.7 L421.9 583.3 L426.1 585.4 L428.8 586.2 L432.6 585.7 L435.6 585.8 L438.4 584.0 L435.7 582.2 L432.6 580.8 L430.6 580.8 L428.3 579.6Z"/>
<path d="M445.8 572.5 L447.3 571.2 L450.3 570.0 L454.3 572.1 L453.8 575.0 L450.7 573.6 L448.1 575.0Z"/>
<path d="M602.0 243.7 L604.5 244.9 L608.0 245.6 L611.1 245.5 L614.2 245.9 L618.4 243.8 L621.3 243.2 L623.6 241.0 L627.3 240.3 L629.4 241.6 L633.4 241.1 L636.1 239.9 L640.0 240.1 L644.6 236.5 L646.3 238.2 L650.1 238.0 L654.8 239.2 L653.7 241.7 L652.8 244.8 L652.6 247.2 L653.0 250.5 L656.9 253.5 L661.7 254.6 L666.3 256.5 L669.1 256.9 L672.8 257.8 L674.6 260.2 L676.4 262.2 L678.7 263.9 L682.9 263.7 L683.4 260.9 L684.1 258.0 L687.6 257.5 L690.3 254.6 L694.6 256.9 L697.6 259.2 L700.1 258.8 L703.9 257.2 L705.8 259.6 L709.9 261.8 L712.6 260.5 L715.3 259.8 L717.7 260.3 L719.9 260.5 L723.5 261.1 L724.6 265.6 L728.5 268.5 L728.4 273.1 L730.3 276.9 L730.9 279.6 L732.0 283.0 L736.0 288.3 L738.7 292.4 L741.1 296.0 L741.5 299.6 L741.6 304.2 L743.0 307.9 L744.2 309.6 L746.7 311.9 L748.4 316.6 L750.3 318.6 L752.6 322.2 L754.9 323.9 L757.3 324.6 L757.3 328.0 L759.6 329.8 L761.5 330.7 L764.0 333.6 L763.8 335.5 L766.2 337.4 L768.2 339.2 L771.9 337.6 L776.4 336.6 L779.6 335.3 L782.0 333.7 L785.7 332.8 L789.5 333.6 L790.4 335.7 L790.4 339.2 L789.1 342.3 L788.4 344.8 L786.8 348.7 L785.0 352.3 L785.6 355.3 L783.0 358.9 L780.4 360.0 L776.1 362.4 L774.6 364.8 L773.9 369.5 L771.9 371.2 L770.0 373.6 L766.3 375.3 L764.0 378.9 L763.7 383.7 L760.7 384.5 L758.9 385.7 L755.3 388.5 L753.8 392.1 L754.7 396.3 L752.4 398.0 L750.4 401.6 L751.3 406.4 L751.9 409.1 L751.4 413.0 L752.3 415.0 L754.3 418.6 L753.0 421.7 L754.0 426.9 L755.3 430.4 L755.0 433.7 L753.3 434.9 L751.5 437.4 L750.7 441.2 L746.6 442.4 L743.9 444.9 L742.1 446.9 L739.1 450.8 L737.0 452.2 L735.2 454.4 L734.7 459.3 L736.9 462.0 L736.2 464.6 L735.8 467.7 L733.4 471.5 L730.6 472.7 L727.5 475.2 L727.9 479.5 L726.3 482.8 L724.4 485.6 L723.8 488.2 L721.5 490.3 L719.9 494.1 L717.7 495.4 L716.1 497.9 L711.8 500.3 L709.6 503.5 L707.5 505.4 L704.4 506.6 L701.0 507.7 L696.9 508.0 L694.1 508.3 L689.9 508.1 L686.3 509.8 L683.4 510.3 L680.9 508.6 L678.6 508.1 L677.7 504.0 L677.7 501.7 L677.2 498.5 L676.3 495.7 L674.9 492.2 L674.3 487.3 L672.4 484.6 L670.5 482.8 L670.5 479.4 L670.4 476.3 L670.5 472.6 L667.7 469.5 L666.7 465.1 L667.2 462.0 L666.9 458.3 L665.4 455.4 L663.3 452.0 L661.6 446.9 L661.8 443.8 L660.1 441.6 L659.4 439.3 L660.8 435.2 L661.5 431.7 L663.5 428.0 L662.9 424.5 L665.0 422.9 L666.0 420.4 L664.0 415.9 L663.7 412.9 L663.2 408.4 L661.4 406.1 L661.5 401.6 L660.0 397.7 L658.8 394.8 L658.9 392.3 L657.6 389.3 L655.6 388.4 L652.2 387.2 L651.8 384.7 L650.5 381.9 L651.0 378.2 L652.2 375.1 L653.7 372.2 L653.8 370.3 L653.2 367.6 L650.9 365.6 L649.8 361.9 L647.4 362.3 L643.8 362.3 L642.0 360.2 L638.8 358.1 L635.1 355.1 L632.1 355.4 L627.2 355.1 L623.8 354.8 L620.5 357.4 L616.6 357.9 L613.8 360.8 L610.3 361.3 L607.2 359.3 L603.9 359.7 L601.0 360.4 L598.8 362.0 L595.5 362.3 L593.4 361.9 L590.5 359.3 L586.2 357.0 L583.9 353.2 L580.0 350.9 L579.2 348.7 L577.3 345.7 L575.7 341.1 L573.2 339.8 L570.7 337.4 L567.6 334.5 L565.2 331.7 L565.7 327.8 L564.0 325.1 L563.3 323.4 L565.3 320.1 L566.1 316.6 L566.8 313.2 L566.6 310.1 L567.0 307.1 L566.4 304.4 L564.9 302.0 L564.9 299.6 L565.1 295.4 L566.7 292.8 L568.4 290.1 L568.4 287.7 L570.3 284.4 L572.6 280.7 L575.9 277.9 L577.6 274.3 L582.2 272.5 L585.1 270.1 L587.7 267.9 L589.4 265.6 L588.5 262.8 L589.6 259.9 L591.6 257.3 L593.6 253.1 L596.2 250.1 L599.0 250.1 L599.3 247.1 L602.0 243.7Z"/>
<path d="M723.5 261.1 L726.8 260.1 L729.6 260.7 L731.2 263.5 L732.4 267.5 L733.5 269.6 L733.3 273.1 L734.4 277.4 L737.0 280.3 L739.5 282.5 L740.6 284.5 L741.9 289.6 L746.0 292.3 L747.8 295.2 L748.0 297.7 L750.3 302.3 L752.1 305.7 L754.6 308.3 L755.3 310.9 L755.0 313.6 L755.4 316.1 L759.5 317.8 L761.5 322.2 L762.0 324.4 L762.6 327.8 L763.9 330.9 L766.5 330.6 L769.5 330.6 L773.6 329.6 L776.3 327.4 L779.2 326.0 L782.5 323.6 L786.1 320.9 L787.9 316.5 L791.9 316.6 L795.2 315.2 L797.6 312.9 L801.5 312.8 L804.4 311.1 L806.3 309.7 L809.2 307.1 L810.3 304.5 L811.4 302.2 L816.1 298.0 L815.3 293.9 L811.5 292.2 L808.4 290.4 L805.9 288.3 L804.2 286.7 L803.7 283.4 L802.7 279.9 L800.0 283.0 L797.7 287.1 L793.5 288.1 L788.7 288.3 L789.3 284.2 L787.3 280.7 L782.9 278.8 L781.8 276.7 L779.9 274.1 L777.2 271.3 L776.9 268.6 L775.8 265.6 L779.5 267.0 L782.5 267.5 L782.5 270.2 L784.5 273.6 L788.3 275.0 L791.6 277.8 L794.6 278.9 L796.7 278.4 L798.7 276.5 L803.0 276.9 L803.9 279.7 L806.9 281.8 L810.2 278.4 L815.8 280.3 L817.4 281.5 L820.0 283.7 L823.4 282.1 L826.5 281.0 L832.4 282.9 L836.2 283.0 L839.4 285.4 L841.8 289.0 L845.6 291.9 L849.6 294.7 L847.7 297.9 L846.2 299.6 L849.6 299.0 L851.7 300.7 L856.1 300.3 L856.2 303.6 L859.1 307.1 L859.3 310.0 L861.4 312.5 L862.8 315.5 L862.9 318.5 L863.6 320.7 L862.5 323.6 L865.7 327.0 L868.2 329.8 L868.7 331.8 L870.0 334.9 L873.5 338.8 L874.0 343.0 L875.6 345.7 L878.2 348.3 L881.8 346.2 L883.0 344.2 L885.4 340.0 L886.7 336.9 L886.5 334.3 L886.5 331.5 L885.9 327.9 L885.4 323.7 L885.2 320.4 L887.7 316.2 L891.6 315.8 L894.1 314.1 L896.5 312.8 L898.2 308.9 L899.3 305.2 L901.4 302.1 L902.1 300.1 L904.8 297.7 L908.7 297.8 L911.2 296.6 L914.1 295.4 L915.7 293.9 L920.1 294.7 L921.5 297.6 L922.5 300.3 L923.4 302.7 L925.7 305.4 L927.4 306.6 L930.1 307.9 L931.2 311.7 L931.2 315.2 L931.5 318.5 L935.6 319.2 L938.2 316.1 L941.0 315.4 L941.6 318.6 L943.2 322.2 L944.9 326.6 L945.0 330.8 L947.0 333.6 L947.6 336.3 L948.8 338.3 L947.5 341.1 L947.9 344.9 L947.4 348.7 L950.0 350.0 L952.4 352.1 L954.5 356.2 L956.1 358.2 L958.4 361.3 L958.0 363.8 L958.3 368.3 L960.1 371.6 L963.3 372.2 L965.7 373.6 L968.0 373.2 L967.5 369.4 L966.4 366.0 L965.1 363.8 L966.6 361.2 L964.4 358.2 L960.8 355.5 L958.4 354.3 L956.3 353.1 L954.1 348.7 L951.7 345.0 L950.3 341.1 L951.7 337.3 L951.0 334.9 L949.9 330.6 L951.4 328.3 L955.0 330.9 L957.2 332.3 L961.3 334.7 L964.1 335.5 L966.4 336.1 L968.4 339.2 L969.2 343.2 L969.5 346.0 L972.2 342.4 L975.1 340.0 L978.3 336.3 L982.0 335.5 L981.3 332.0 L982.2 327.9 L979.3 324.0 L979.6 320.4 L976.5 317.9 L973.9 316.8 L972.6 312.8 L970.8 310.9 L967.8 307.1 L968.6 302.7 L970.0 300.3 L972.6 298.7 L974.4 297.3 L979.4 297.7 L979.8 300.1 L982.3 301.8 L984.9 297.7 L988.7 296.1 L991.0 295.0 L995.5 293.2 L998.7 292.4 L1001.5 290.1 L1002.7 285.6 L1006.5 283.3 L1007.9 279.8 L1008.2 276.9 L1009.4 274.7 L1011.3 271.8 L1011.2 267.5 L1008.4 264.5 L1008.4 261.8 L1007.6 258.7 L1005.3 257.6 L1003.1 256.1 L1001.8 254.4 L998.3 253.2 L997.8 249.8 L996.0 247.5 L997.4 245.5 L997.6 242.2 L1000.4 240.1 L1002.5 239.2 L998.9 237.3 L996.7 236.5 L993.1 236.0 L991.1 238.0 L988.8 234.5 L985.0 232.8 L987.7 230.5 L990.1 227.2 L991.0 224.9 L995.0 226.8 L995.3 231.6 L997.6 229.6 L1000.6 228.6 L1003.1 228.4 L1005.6 229.4 L1007.7 231.7 L1009.5 235.4 L1014.1 237.3 L1016.0 241.6 L1017.5 244.7 L1018.5 248.6 L1021.5 247.9 L1023.4 247.5 L1026.3 244.8 L1027.1 240.8 L1024.0 239.2 L1022.6 238.0 L1020.7 235.4 L1018.5 233.5 L1015.9 232.4 L1012.9 228.6 L1013.8 225.0 L1016.1 222.3 L1017.5 218.9 L1021.3 218.8 L1023.3 217.4 L1025.6 213.6 L1026.8 211.1 L1027.5 207.8 L1026.4 205.6 L1028.1 201.8 L1027.9 196.9 L1025.9 193.2 L1026.7 190.8 L1026.1 186.3 L1024.9 182.9 L1022.4 181.7 L1019.6 179.4 L1016.7 178.1 L1013.0 178.5 L1010.6 176.5 L1008.1 176.3 L1003.3 175.5 L998.9 173.8 L998.9 169.2 L998.5 164.9 L1000.4 162.1 L1002.1 159.4 L1004.0 157.6 L1006.8 156.1 L1011.7 155.5 L1015.5 154.9 L1017.0 157.2 L1019.8 156.9 L1023.7 155.3 L1026.7 155.2 L1029.3 158.6 L1032.5 157.9 L1036.2 157.6 L1034.1 154.8 L1032.8 150.0 L1035.7 149.7 L1039.0 149.1 L1042.7 151.7 L1043.6 149.3 L1044.3 146.6 L1049.1 147.3 L1049.5 149.6 L1051.5 152.4 L1049.5 154.2 L1046.8 155.1 L1045.8 158.8 L1046.6 162.1 L1047.1 165.0 L1050.1 165.9 L1050.8 169.2 L1052.9 170.9 L1053.5 174.1 L1057.3 177.1 L1061.6 179.9 L1064.8 178.8 L1067.4 179.9 L1069.6 183.4 L1071.0 187.1 L1070.8 184.5 L1069.4 180.6 L1069.9 176.3 L1070.1 173.9 L1069.9 170.9 L1068.4 168.4 L1067.5 166.5 L1064.9 163.9 L1062.2 160.8 L1060.1 157.9 L1057.6 156.9 L1061.5 154.1 L1066.0 155.7 L1069.0 155.5 L1073.4 155.1 L1074.4 151.7 L1076.4 147.3 L1079.4 146.6 L1083.3 146.6 L1084.9 144.9 L1080.6 143.9 L1077.7 141.1 L1076.7 138.2"/>
<path d="M1057.1 125.1 L1052.3 125.9 L1048.3 122.6 L1044.5 119.8 L1041.0 122.6 L1037.2 120.6 L1032.7 121.8 L1028.0 122.0 L1024.2 122.9 L1021.1 122.9 L1018.4 123.6 L1014.5 122.7 L1011.8 124.2 L1007.9 124.5 L1005.9 123.2 L1001.2 120.6 L998.2 120.3 L992.4 119.4 L987.6 118.8 L984.6 116.8 L981.7 115.7 L977.1 116.4 L973.6 117.3 L969.7 116.2 L967.6 117.3 L961.7 115.4 L958.4 114.8 L954.7 116.3 L950.7 116.7 L948.1 115.7 L945.1 113.6 L941.0 112.8 L939.5 115.3 L938.3 117.3 L934.9 118.1 L932.8 117.4 L928.4 118.8 L924.0 116.1 L921.9 113.9 L918.8 113.3 L916.1 112.7 L914.4 111.7 L911.3 110.9 L906.2 112.0 L902.6 111.2 L896.5 109.7 L892.9 111.6 L888.5 112.0 L883.6 110.6 L879.2 109.1 L876.1 108.2 L872.2 106.0 L870.2 102.1 L862.1 104.7 L857.6 102.3 L852.7 101.9 L849.4 102.8 L847.5 101.0 L844.5 98.9 L840.7 100.6 L836.3 102.9 L834.2 102.7 L830.7 103.8 L828.5 105.1 L826.0 108.3 L819.8 107.1 L816.7 105.2 L813.9 107.2 L812.1 108.1 L808.6 111.2 L806.9 114.8 L802.5 115.5 L799.6 114.6 L794.8 114.2 L792.3 117.3 L794.5 121.6 L797.6 125.1 L798.2 127.4 L799.1 131.6 L795.1 133.2 L793.0 130.6 L790.8 130.1 L788.8 126.7 L785.4 126.4 L783.0 125.1 L780.7 124.9 L777.6 124.2 L772.9 122.6 L769.3 122.7 L765.9 122.6 L763.1 123.4 L761.5 125.8 L757.6 126.8 L754.6 126.9 L752.5 127.4 L748.8 129.3 L746.3 128.8 L743.2 128.3 L739.7 127.6 L737.3 127.6 L733.3 128.3 L733.0 130.7 L730.5 133.9 L726.2 131.9 L722.8 133.2 L724.5 136.9 L723.7 139.8 L721.3 140.4 L717.8 141.5 L714.3 142.8 L712.7 140.8 L709.9 140.5 L708.1 137.6 L705.8 134.9 L709.9 134.9 L712.8 133.2 L717.0 132.9 L720.0 132.0 L722.2 131.6 L718.6 128.3 L716.5 128.3 L713.4 127.3 L709.7 125.4 L707.6 124.5 L703.4 124.7 L700.6 123.4 L697.5 122.9 L695.1 120.7 L690.6 121.3 L686.8 118.8 L684.1 119.2 L679.7 118.8 L675.6 120.1 L673.8 121.3 L670.8 122.0 L667.2 121.6 L664.0 124.2 L660.7 127.4 L657.3 128.3 L656.5 130.9 L654.5 132.5 L653.1 134.9 L650.3 137.1 L648.5 139.8 L646.1 142.9 L642.5 144.9 L639.1 146.0 L634.9 148.3 L635.3 151.1 L633.8 155.1 L635.5 157.5 L636.7 160.4 L640.9 162.1 L644.3 160.4 L646.9 159.0 L648.7 157.6 L650.6 159.6 L651.7 162.1 L654.0 164.6 L654.9 167.4 L656.6 171.3 L660.7 170.2 L663.1 169.2 L665.9 167.4 L665.7 165.3 L665.3 162.1 L667.7 159.5 L670.0 156.9 L667.7 155.5 L666.7 151.7 L665.7 148.9 L666.0 146.6 L669.2 145.5 L671.5 143.5 L673.1 142.2 L676.2 140.7 L676.0 136.5 L679.1 135.9 L683.5 136.5 L684.2 139.8 L679.7 141.4 L677.4 144.9 L678.5 148.1 L677.2 151.7 L680.4 155.1 L683.7 154.4 L687.1 155.1 L690.3 155.3 L694.7 153.4 L696.9 153.8 L700.4 155.1 L697.4 156.3 L695.4 156.9 L691.3 158.3 L688.7 158.5 L684.9 157.6 L684.3 162.1 L687.5 164.9 L684.6 165.4 L680.5 163.9 L678.3 167.4 L677.5 170.0 L679.0 172.7 L675.0 174.5 L671.9 171.4 L668.0 173.6 L663.3 174.0 L659.8 176.3 L655.2 176.3 L651.4 176.3 L648.5 174.5 L648.1 171.6 L649.5 169.2 L648.9 167.1 L649.1 163.9 L645.9 166.0 L643.0 165.6 L643.1 168.5 L644.1 170.9 L645.3 173.8 L645.2 176.3 L642.0 176.6 L640.2 178.1 L638.0 178.3 L634.6 179.2 L633.9 181.6 L631.9 183.5 L629.1 186.0 L625.4 187.9 L624.3 191.1 L622.0 191.9 L618.7 191.9 L616.7 191.9 L615.8 195.5 L613.1 195.8 L610.3 195.7 L607.3 196.3 L607.9 198.9 L610.0 199.6 L613.1 200.7 L614.6 203.0 L616.9 205.5 L616.8 207.8 L616.1 211.3 L616.0 214.8 L612.3 214.2 L609.9 214.8 L607.0 213.6 L605.1 212.2 L599.9 212.6 L596.4 214.0 L592.7 216.7 L593.7 221.0 L593.6 224.1 L592.1 227.6 L591.4 232.4 L591.3 235.9 L593.1 239.2 L595.6 239.4 L600.2 239.2 L603.0 242.9 L606.4 240.3 L610.6 239.8 L614.3 239.9 L617.7 237.6 L618.9 235.4 L620.5 231.6 L619.6 229.8 L621.5 226.5 L622.9 224.9 L626.1 222.3 L630.2 220.4 L630.2 215.9 L633.4 214.3 L635.6 215.5 L638.9 214.6 L643.1 214.0 L646.9 211.4 L651.2 213.3 L652.3 217.0 L653.5 218.4 L656.1 220.4 L659.6 223.4 L663.4 225.3 L664.9 227.9 L668.2 227.9 L669.3 232.0 L668.9 235.4 L670.8 235.4 L673.6 231.6 L671.6 229.0 L672.6 226.0 L677.1 227.9 L676.5 224.9 L673.0 222.7 L669.8 221.1 L668.6 220.4 L664.5 218.5 L661.8 214.4 L657.7 211.8 L657.2 208.1 L661.3 206.6 L661.5 209.2 L665.5 211.1 L667.8 214.0 L670.3 215.5 L673.2 217.0 L676.7 219.3 L680.0 222.3 L679.3 225.2 L680.5 227.9 L682.1 229.1 L683.9 232.4 L685.8 234.8 L687.3 236.1 L688.2 239.9 L691.8 241.0 L692.7 237.3 L695.0 235.4 L694.8 232.1 L691.5 230.5 L690.1 226.4 L694.2 226.8 L697.2 225.8 L700.1 224.9 L701.9 227.1 L701.3 230.5 L704.1 233.5 L705.1 235.6 L706.3 239.2 L709.5 240.3 L712.7 241.3 L715.9 241.8 L720.5 241.0 L724.5 241.4 L726.9 241.8 L730.5 241.3 L732.9 240.3 L732.6 243.7 L733.7 246.7 L732.9 249.1 L732.8 252.4 L732.5 254.6 L731.8 258.0 L729.6 260.7"/>
<path d="M164.3 138.2 L167.8 140.7 L173.6 140.4 L176.9 140.9 L179.7 139.8 L184.3 138.4 L187.7 137.0 L190.1 135.1 L194.2 134.9 L193.8 131.6 L189.7 130.9 L186.3 128.3 L183.9 125.1"/>
<path d="M709.1 223.4 L713.3 224.5 L716.7 223.4 L719.1 221.3 L723.9 220.4 L728.6 221.8 L732.0 223.0 L735.1 225.7 L739.8 224.1 L742.7 222.9 L747.0 221.9 L747.5 219.1 L744.5 216.7 L740.5 214.9 L737.8 212.9 L736.3 210.6 L732.6 209.2 L733.5 205.5 L734.6 203.6 L732.4 203.2 L729.8 201.8 L727.2 204.3 L724.4 204.8 L726.7 206.9 L729.4 208.1 L725.3 210.0 L721.0 211.1 L718.6 207.9 L718.6 205.5 L715.0 202.7 L712.3 203.3 L709.9 207.4 L706.9 211.1 L706.6 213.4 L705.2 216.7 L705.7 220.4Z"/>
<path d="M761.0 209.2 L763.3 207.1 L765.7 203.6 L769.6 201.5 L772.8 202.5 L777.5 203.6 L778.3 206.0 L779.0 209.2 L774.3 211.1 L771.5 211.8 L774.0 213.8 L774.8 216.7 L778.4 219.0 L780.4 221.1 L781.4 223.9 L784.6 226.0 L784.2 228.2 L784.3 231.6 L785.8 236.4 L788.9 239.2 L786.2 238.8 L782.9 240.3 L779.9 240.7 L776.2 238.0 L773.8 235.1 L772.3 233.5 L772.7 229.5 L772.3 226.0 L769.0 223.6 L768.0 220.4 L764.7 217.6 L763.8 214.8 L762.2 211.9Z"/>
<path d="M604.0 190.8 L608.4 191.1 L611.8 189.0 L614.5 188.2 L617.6 188.2 L622.0 187.9 L624.5 186.4 L621.9 185.3 L622.3 182.3 L625.3 181.0 L621.3 179.9 L619.9 176.3 L618.7 174.9 L616.3 172.7 L615.0 169.2 L612.2 169.2 L615.3 166.5 L615.1 163.5 L612.1 163.3 L609.6 163.5 L612.4 160.0 L609.2 160.7 L607.0 160.0 L604.1 163.9 L605.3 167.1 L605.3 169.2 L606.5 173.4 L608.6 173.7 L611.6 173.4 L612.0 178.1 L607.8 178.8 L608.3 181.7 L605.6 184.2 L610.5 185.3 L607.6 187.1 L605.8 188.0Z"/>
<path d="M603.4 182.8 L598.6 183.4 L595.8 183.7 L591.9 185.0 L593.4 182.3 L592.3 178.1 L594.1 177.0 L596.7 174.5 L599.7 171.6 L604.3 173.4 L603.6 178.1Z"/>
<path d="M643.5 94.1 L646.6 95.5 L648.0 97.5 L650.7 99.5 L654.8 100.8 L657.7 101.8 L660.0 99.0 L663.1 97.7 L665.3 97.3 L668.2 96.4 L670.3 94.7 L673.5 93.0 L676.5 92.8 L673.1 91.1 L668.2 89.4 L664.0 89.9 L661.6 91.5 L657.2 91.6 L651.0 94.4 L647.2 93.9Z"/>
<path d="M741.6 117.0 L741.7 112.7 L742.0 110.4 L741.8 106.7 L744.1 105.5 L746.6 103.8 L749.5 101.7 L751.7 102.9 L755.3 102.3 L758.6 102.0 L761.0 103.0 L764.2 102.8 L768.5 103.3 L771.3 102.0 L767.0 104.4 L764.2 106.0 L761.9 106.9 L757.5 106.7 L754.1 110.3 L753.0 114.2 L753.5 117.3 L755.0 119.1 L758.2 119.5 L755.7 120.4 L751.4 120.1 L749.5 119.6 L746.0 118.8Z"/>
<path d="M719.2 91.5 L723.9 94.6 L730.2 93.2 L734.7 92.5 L742.8 90.3 L739.3 93.1 L734.5 92.8 L732.3 92.8 L728.9 91.2 L725.5 92.1Z"/>
<path d="M820.7 95.4 L824.8 92.8 L829.5 94.1 L832.0 93.8 L834.9 94.3 L840.6 95.8 L843.7 96.7 L840.1 98.9 L838.3 97.9 L834.8 98.1 L830.3 95.8 L827.1 95.2 L824.8 95.9Z"/>
<path d="M925.9 105.2 L928.4 104.7 L931.6 104.6 L934.7 104.5 L936.9 103.8 L940.0 105.5 L945.6 105.8 L951.6 110.1 L957.4 106.7 L954.3 105.6 L951.6 104.6 L946.4 108.4 L941.7 108.2 L937.9 108.7 L934.7 105.5 L930.6 107.4Z"/>
<path d="M1042.5 205.5 L1041.3 200.6 L1040.0 198.0 L1038.9 194.4 L1038.0 191.4 L1036.3 188.3 L1033.6 186.3 L1028.5 183.5 L1027.0 180.3 L1024.4 178.8 L1021.2 175.2 L1021.0 178.1 L1023.9 179.3 L1026.1 183.3 L1028.2 187.5 L1031.6 190.8 L1031.9 194.8 L1033.5 198.1 L1036.6 201.8Z"/>
<path d="M1047.6 222.3 L1048.3 219.5 L1048.5 216.7 L1045.9 214.6 L1043.5 211.9 L1043.1 207.7 L1045.7 208.6 L1048.4 209.2 L1051.6 212.2 L1055.9 214.3 L1059.9 215.5 L1058.4 217.8 L1057.0 220.4 L1052.4 220.5 L1048.7 219.3Z"/>
<path d="M1033.8 250.5 L1038.4 249.3 L1041.2 248.7 L1045.8 248.2 L1048.7 248.4 L1051.6 248.6 L1055.4 249.8 L1057.5 247.8 L1060.8 246.7 L1061.8 242.9 L1060.4 240.5 L1059.6 237.7 L1057.6 234.3 L1057.1 231.7 L1057.7 229.0 L1055.7 227.5 L1053.8 225.5 L1051.8 222.6 L1050.0 225.3 L1050.5 228.1 L1052.5 231.6 L1052.3 234.1 L1051.8 238.0 L1047.7 239.2 L1046.4 242.9 L1044.0 244.4 L1039.3 244.4 L1036.4 244.8 L1034.9 247.8Z"/>
<path d="M1032.5 254.3 L1034.1 250.5 L1036.6 252.0 L1038.3 254.3 L1038.3 257.0 L1039.2 260.7 L1035.8 261.1 L1034.5 257.2Z"/>
<path d="M1039.0 252.4 L1041.9 250.9 L1044.1 249.3 L1045.7 251.6 L1042.4 255.0Z"/>
<path d="M1013.1 283.7 L1016.5 284.5 L1015.9 286.7 L1014.5 289.1 L1015.1 292.8 L1015.0 295.8 L1011.9 292.0 L1012.7 288.8 L1012.6 287.0Z"/>
<path d="M977.2 306.4 L980.7 305.1 L981.9 303.0 L984.5 304.9 L981.6 308.0 L980.4 310.2Z"/>
<path d="M885.6 342.3 L889.0 344.8 L890.5 346.8 L891.6 350.2 L892.7 352.5 L889.5 356.2 L886.5 354.3 L885.3 349.8 L884.9 345.7Z"/>
<path d="M1016.3 309.0 L1019.8 308.9 L1022.0 309.4 L1023.4 312.8 L1023.2 315.2 L1022.9 318.5 L1023.8 321.2 L1022.1 324.1 L1025.1 324.4 L1027.0 325.3 L1030.0 326.8 L1031.2 330.9 L1028.2 327.6 L1025.7 326.8 L1020.8 327.2 L1018.8 324.6 L1017.9 323.0 L1017.7 320.8 L1016.1 317.7 L1016.2 314.4 L1016.9 311.6Z"/>
<path d="M1026.5 352.5 L1029.0 349.7 L1031.1 346.8 L1035.4 344.4 L1037.3 341.9 L1038.3 345.2 L1039.1 347.1 L1041.4 350.6 L1040.0 355.1 L1037.7 356.2 L1033.3 354.3 L1030.7 350.6Z"/>
<path d="M1032.9 331.7 L1036.3 334.3 L1037.5 336.6 L1035.5 340.4 L1033.6 337.4 L1033.3 334.6Z"/>
<path d="M1025.0 334.3 L1027.1 335.6 L1029.3 337.4 L1029.2 340.8 L1029.2 344.2 L1027.3 341.1 L1025.5 339.2Z"/>
<path d="M1010.2 347.2 L1010.9 344.6 L1012.8 342.4 L1015.1 340.6 L1017.1 338.9 L1016.2 336.2 L1012.6 339.3 L1011.5 342.3 L1009.4 345.7Z"/>
<path d="M984.0 372.1 L986.6 371.9 L989.2 371.3 L991.6 368.3 L994.6 367.5 L997.2 366.8 L1001.0 364.7 L1002.0 360.8 L1004.0 358.3 L1005.8 356.6 L1007.7 354.3 L1010.9 352.5 L1011.5 354.7 L1012.7 357.3 L1016.9 358.9 L1013.7 362.7 L1013.5 367.6 L1013.4 371.3 L1014.1 373.1 L1016.8 375.1 L1014.9 376.9 L1012.5 378.9 L1010.5 382.2 L1009.0 386.5 L1010.4 389.6 L1007.1 393.3 L1004.5 393.5 L1002.1 394.0 L999.3 394.1 L997.2 391.0 L994.4 390.5 L992.2 390.2 L990.6 387.1 L988.0 384.6 L983.8 382.2 L984.5 378.9 L984.2 375.9Z"/>
<path d="M937.9 357.7 L941.6 357.3 L945.3 359.3 L948.0 362.8 L950.1 364.2 L951.8 368.3 L954.9 368.3 L957.3 370.7 L958.6 372.1 L961.9 374.9 L964.1 377.0 L966.9 381.1 L968.3 383.6 L969.0 386.5 L971.2 388.1 L973.9 390.2 L973.0 393.8 L971.0 396.8 L972.8 400.8 L968.5 400.4 L966.5 398.8 L964.3 397.1 L961.4 394.0 L961.2 391.7 L959.6 388.5 L956.7 386.5 L957.3 384.0 L956.8 380.3 L953.4 379.9 L950.8 378.1 L949.9 374.1 L949.6 369.6 L945.6 369.5 L944.8 366.7 L941.5 362.8 L940.1 360.1Z"/>
<path d="M970.6 404.6 L973.0 404.0 L975.8 401.6 L980.0 402.7 L982.0 404.6 L985.3 403.8 L989.4 403.1 L991.7 404.1 L995.6 405.3 L997.5 406.8 L1001.4 408.4 L1000.8 411.8 L997.7 411.2 L993.9 411.1 L989.6 410.2 L986.5 410.8 L983.5 410.5 L979.7 408.4 L977.2 408.9 L974.5 406.9Z"/>
<path d="M1019.8 375.9 L1023.4 374.0 L1027.3 374.8 L1030.8 375.5 L1034.5 375.1 L1037.4 372.9 L1035.8 377.4 L1031.8 375.9 L1029.1 377.5 L1024.1 377.4 L1021.5 379.6 L1020.8 381.9 L1023.1 382.3 L1025.8 382.3 L1029.0 383.2 L1031.8 382.7 L1029.3 385.0 L1027.4 385.7 L1028.3 389.3 L1029.8 394.0 L1027.6 396.6 L1027.9 398.9 L1025.4 395.9 L1025.1 393.2 L1023.9 389.1 L1021.9 390.2 L1023.1 394.0 L1022.4 396.8 L1021.5 400.1 L1018.5 399.7 L1018.1 395.8 L1018.2 392.1 L1016.6 389.1 L1018.1 386.7 L1018.5 384.1 L1019.8 379.4Z"/>
<path d="M1045.7 372.1 L1049.8 373.2 L1048.5 375.6 L1047.5 377.8 L1049.1 381.9 L1046.5 378.9 L1045.5 375.4Z"/>
<path d="M1040.5 391.4 L1044.5 391.4 L1043.8 393.3 L1040.8 392.9Z"/>
<path d="M1047.2 390.2 L1051.6 389.2 L1054.9 390.6 L1056.5 391.7 L1053.8 392.9 L1050.8 393.4 L1047.2 392.1Z"/>
<path d="M1030.5 417.8 L1033.0 414.6 L1035.9 412.9 L1040.5 411.4 L1043.4 410.6 L1040.7 411.9 L1039.2 414.0 L1036.9 415.3 L1034.3 415.8 L1032.2 417.8Z"/>
<path d="M1002.9 410.2 L1007.8 411.0 L1009.6 409.9 L1013.0 409.3 L1016.2 410.6 L1020.3 409.6 L1022.8 411.0 L1025.2 410.4 L1029.5 410.2 L1028.7 411.8 L1025.3 413.4 L1021.7 414.6 L1019.3 412.5 L1015.1 412.9 L1012.3 412.6 L1009.3 412.9 L1005.1 412.4 L1002.8 411.8Z"/>
<path d="M1015.8 414.8 L1018.9 416.8 L1021.6 416.7 L1018.9 417.8Z"/>
<path d="M1057.5 381.9 L1060.3 381.0 L1062.5 380.4 L1064.7 380.0 L1067.5 381.9 L1069.1 385.0 L1070.3 386.5 L1070.5 391.4 L1073.2 390.6 L1076.3 387.1 L1080.1 384.6 L1083.8 384.0 L1086.6 386.4 L1090.6 388.7 L1094.9 390.2 L1097.4 392.1 L1102.1 393.3 L1104.9 396.3 L1106.9 397.8 L1109.0 398.5 L1111.6 401.6 L1112.4 405.3 L1114.3 408.6 L1114.0 412.9 L1117.4 414.8 L1120.1 417.8 L1115.2 417.4 L1111.6 415.4 L1108.9 414.8 L1108.6 411.8 L1106.1 409.1 L1104.0 406.8 L1101.2 408.0 L1098.8 411.0 L1095.8 412.9 L1091.8 411.1 L1089.1 413.3 L1085.7 411.0 L1082.8 409.1 L1078.3 410.6 L1080.8 408.4 L1081.4 405.3 L1080.4 402.1 L1080.1 399.7 L1077.1 397.0 L1073.8 398.1 L1072.0 395.5 L1067.6 395.9 L1063.8 394.0 L1063.3 390.2 L1066.7 387.6 L1063.9 388.8 L1060.7 387.6 L1060.1 384.4Z"/>
<path d="M1115.1 399.7 L1118.4 401.0 L1121.8 399.7 L1125.1 396.4 L1127.7 394.8 L1127.2 397.0 L1126.8 399.7 L1123.6 401.8 L1119.9 402.7 L1117.7 401.8Z"/>
<path d="M1123.3 388.7 L1126.3 391.6 L1128.8 393.3 L1130.3 396.7 L1129.4 394.0 L1127.5 391.3Z"/>
<path d="M1136.6 401.6 L1139.7 404.6 L1138.1 404.6Z"/>
<path d="M1142.9 406.5 L1146.1 408.0 L1147.9 408.7 L1150.9 410.2 L1147.5 410.2 L1145.1 409.1Z"/>
<path d="M1152.1 414.0 L1154.6 415.9 L1152.6 415.9Z"/>
<path d="M1156.0 417.8 L1158.8 419.3 L1156.8 419.7Z"/>
<path d="M1171.1 435.6 L1171.9 439.3 L1170.6 439.3Z"/>
<path d="M1157.7 455.2 L1159.8 458.8 L1162.2 460.1 L1165.0 462.8 L1162.5 462.0 L1160.4 458.9 L1157.3 456.7Z"/>
<path d="M1203.9 445.0 L1207.8 445.0 L1207.2 447.6 L1203.4 446.9Z"/>
<path d="M991.8 462.0 L992.0 464.1 L992.4 467.7 L990.5 470.9 L988.9 473.3 L988.0 475.5 L987.1 479.4 L988.9 482.8 L989.0 485.1 L987.4 487.7 L988.8 492.2 L987.8 495.0 L988.6 499.8 L986.4 502.7 L984.5 505.0 L983.2 508.5 L985.5 510.4 L987.5 511.1 L991.5 510.6 L995.7 508.8 L999.5 509.9 L1003.2 509.5 L1004.4 506.6 L1008.6 506.2 L1011.1 505.9 L1013.2 504.3 L1017.2 502.7 L1020.9 500.9 L1025.5 499.9 L1028.8 498.1 L1031.4 498.3 L1034.7 497.7 L1038.6 497.9 L1042.7 498.7 L1044.9 500.5 L1044.5 502.7 L1043.2 506.3 L1045.9 509.2 L1048.6 510.3 L1052.3 508.9 L1053.9 505.4 L1056.1 503.9 L1057.9 502.0 L1055.4 505.1 L1054.7 508.0 L1053.2 511.1 L1055.2 513.0 L1057.4 514.9 L1058.0 518.9 L1056.5 521.7 L1059.1 521.6 L1062.1 523.9 L1066.0 523.2 L1068.7 523.2 L1072.5 526.2 L1077.0 524.0 L1080.4 521.7 L1083.4 521.5 L1087.1 520.1 L1088.1 515.9 L1091.6 515.6 L1093.2 512.2 L1094.9 509.2 L1097.3 506.9 L1099.2 505.4 L1102.2 501.7 L1105.6 499.8 L1108.2 495.9 L1110.5 492.2 L1112.2 487.7 L1114.8 485.4 L1114.9 481.6 L1116.5 478.0 L1117.2 475.2 L1114.3 472.7 L1113.3 469.5 L1113.4 466.8 L1112.5 463.9 L1110.7 460.8 L1108.9 458.2 L1107.3 457.2 L1105.5 454.4 L1103.4 451.8 L1100.7 450.7 L1100.5 448.6 L1100.9 445.0 L1101.2 440.8 L1099.7 438.2 L1100.4 435.6 L1096.5 432.9 L1097.0 430.1 L1095.9 426.1 L1095.8 421.9 L1093.7 419.7 L1093.4 422.7 L1089.9 426.1 L1088.2 430.7 L1088.5 435.6 L1086.7 439.2 L1085.1 442.8 L1083.8 445.0 L1081.6 445.7 L1078.6 444.6 L1076.1 442.0 L1074.0 439.3 L1070.3 438.0 L1069.0 435.6 L1070.5 432.0 L1070.6 429.1 L1072.7 426.6 L1073.8 425.0 L1070.0 424.8 L1067.9 425.0 L1064.8 424.4 L1061.5 423.1 L1058.3 421.6 L1056.0 424.1 L1054.6 425.4 L1052.9 426.8 L1050.8 428.8 L1050.5 431.4 L1048.3 435.2 L1043.4 434.8 L1040.5 431.8 L1036.4 432.9 L1033.1 436.0 L1031.2 438.6 L1028.5 440.7 L1027.0 444.2 L1024.8 444.8 L1022.3 446.9 L1020.1 449.2 L1019.1 451.8 L1016.6 454.1 L1012.1 454.4 L1007.4 456.3 L1003.4 457.1 L1001.6 458.0 L998.1 459.4 L994.5 459.8 L992.9 461.2Z"/>
<path d="M1063.8 532.5 L1068.3 534.0 L1071.8 532.7 L1074.3 532.9 L1072.1 536.5 L1069.5 539.3 L1066.8 542.7 L1063.9 543.0 L1060.9 543.0 L1061.7 538.2 L1062.9 535.5Z"/>
<path d="M1164.7 509.2 L1166.9 512.6 L1166.6 515.6 L1169.4 517.5 L1167.9 520.9 L1171.1 521.1 L1173.9 521.3 L1172.2 525.0 L1169.3 527.7 L1166.3 527.7 L1164.7 530.0 L1162.7 531.8 L1158.7 533.1 L1154.9 535.9 L1154.6 534.4 L1155.7 532.3 L1158.5 529.9 L1156.7 527.3 L1160.9 524.8 L1162.8 522.4 L1162.8 519.7 L1165.2 516.8 L1165.3 512.6Z"/>
<path d="M1150.4 531.8 L1151.9 535.5 L1149.3 538.1 L1147.1 539.6 L1143.8 541.1 L1140.0 543.5 L1138.1 545.4 L1134.8 546.0 L1132.4 549.5 L1128.7 551.6 L1124.6 552.9 L1120.9 554.5 L1116.8 552.3 L1116.8 550.4 L1120.9 548.0 L1123.7 546.0 L1126.4 544.9 L1129.0 543.8 L1130.9 542.4 L1132.6 541.2 L1136.3 541.1 L1140.6 539.7 L1142.2 537.9 L1144.6 535.5 L1148.3 533.5Z"/>
<path d="M783.9 425.0 L783.2 428.1 L782.8 433.2 L785.4 434.2 L786.5 437.4 L785.5 441.3 L784.0 443.5 L783.2 446.9 L779.5 450.1 L781.1 453.3 L779.1 458.2 L778.7 463.1 L776.7 465.9 L774.1 468.9 L774.1 472.6 L770.8 474.3 L767.4 475.2 L765.6 470.6 L762.8 467.7 L762.7 464.6 L763.8 460.0 L765.7 458.4 L765.3 454.4 L765.3 449.5 L765.3 445.8 L766.4 443.1 L769.1 440.5 L772.3 438.6 L774.9 437.5 L777.6 434.6 L779.3 431.0 L781.8 429.6 L784.1 427.3Z"/>
<path d="M109.5 302.6 L112.4 304.1 L109.8 307.1 L108.9 305.2Z"/>
<path d="M821.1 563.4 L825.2 564.1 L822.2 565.9Z"/>
<path d="M366.9 103.2 L363.2 102.6 L359.5 101.1 L354.2 100.3 L350.6 103.8 L354.4 101.3 L358.0 101.2 L360.4 100.1 L364.2 100.1 L367.1 100.4 L369.9 99.5Z"/>
<path d="M400.4 106.7 L397.5 106.2 L394.7 106.4 L390.9 105.2 L393.5 104.0 L397.3 101.8 L400.3 102.2 L402.2 101.9 L405.4 102.3 L402.9 104.2Z"/>
<path d="M409.6 107.6 L406.2 106.5 L403.8 106.7 L407.0 105.0 L409.0 104.9Z"/>
<path d="M408.4 98.1 L405.1 97.8 L401.3 97.1 L397.3 96.7 L401.5 97.8 L404.5 94.6 L409.2 94.1 L413.9 95.4 L410.9 97.2Z"/>
<path d="M388.3 125.8 L384.8 126.0 L380.4 125.1 L382.5 123.2 L385.3 122.3 L389.5 122.9Z"/>
<path d="M444.5 113.3 L442.5 113.1 L439.1 113.0 L435.8 112.7 L438.6 110.6 L442.5 110.4 L445.0 111.2Z"/>
<path d="M434.2 130.0 L432.0 127.7 L435.1 126.7Z"/>
<path d="M407.3 146.6 L402.9 147.3 L407.1 144.9Z"/>
<path d="M412.1 149.3 L410.7 148.3 L413.1 146.9Z"/>
<path d="M392.4 180.3 L388.3 179.9 L390.9 178.8Z"/>
<path d="M440.6 193.7 L436.5 193.6 L433.8 191.5 L437.2 193.3Z"/>
<path d="M108.2 300.0 L109.9 300.7 L108.5 301.1Z"/>
<path d="M103.6 297.3 L104.9 298.4 L103.9 298.4Z"/>
<path d="M99.1 295.4 L100.3 295.8 L99.6 296.2Z"/>
<path d="M367.3 284.5 L367.9 287.5 L366.0 286.7Z"/>
<path d="M370.0 277.7 L371.3 279.6 L370.2 280.7Z"/>
<path d="M415.4 338.5 L418.1 338.5 L417.0 340.8Z"/>
<path d="M645.6 223.4 L650.2 224.1 L650.8 226.8 L650.1 230.9 L646.8 231.6 L646.3 226.8Z"/>
<path d="M646.5 217.0 L649.2 216.7 L650.0 218.7 L649.5 222.3 L647.3 221.9Z"/>
<path d="M659.3 235.4 L664.1 234.6 L668.9 234.3 L668.0 237.0 L667.7 240.3 L665.3 240.2 L662.4 238.0 L659.4 236.9Z"/>
<path d="M694.5 244.4 L698.8 242.7 L701.0 245.2 L703.1 245.6 L702.9 246.7 L699.1 246.7 L694.7 245.9Z"/>
<path d="M722.0 246.3 L726.2 245.9 L729.0 244.1 L727.5 247.1 L722.9 248.2Z"/>
<path d="M1042.8 118.5 L1044.2 117.3 L1047.4 119.2Z"/>
<path d="M274.6 675.1 L278.5 675.3 L283.8 675.3 L290.1 674.4 L293.9 675.1 L300.1 676.5 L306.6 676.5 L312.7 677.1 L316.5 676.8 L322.1 677.7 L327.9 677.6 L333.2 676.2 L340.7 678.0 L349.0 677.0 L342.8 675.4 L333.9 674.4 L327.3 674.6 L321.1 673.2 L315.9 670.8 L310.9 671.0 L302.5 668.7 L308.3 668.0 L317.0 669.0 L320.6 667.2 L315.9 665.1 L310.6 662.3 L304.6 663.6 L297.7 664.1 L290.1 662.5 L285.0 665.1 L281.3 661.5 L273.6 661.5 L278.6 660.0 L283.9 661.0 L279.6 660.7 L275.7 657.4 L281.8 657.7 L286.0 658.4 L294.3 657.9 L300.4 656.3 L295.3 653.2 L302.5 652.2 L307.6 649.7 L313.9 649.6 L318.6 648.7 L323.9 648.6 L329.4 649.1 L331.4 646.5 L335.8 647.0 L340.7 647.6 L348.0 647.0 L350.0 649.1 L353.9 648.1 L360.4 648.1 L367.6 651.2 L371.7 650.1 L376.9 652.5 L381.0 652.7 L388.3 651.2 L396.5 652.2 L393.4 650.1 L386.2 648.1 L380.5 645.5 L382.1 641.9 L387.9 642.5 L393.4 642.4 L398.6 644.5 L396.5 647.6 L404.8 646.5 L409.6 646.6 L415.0 645.5 L418.9 645.4 L423.9 647.2 L430.0 646.9 L435.7 646.9 L438.5 647.6 L447.0 649.0 L454.1 646.9 L462.7 646.2 L464.8 642.6 L458.4 638.4 L454.9 641.9 L449.9 644.1 L444.9 641.9 L450.6 639.1 L447.8 634.8 L451.3 632.7 L455.6 635.5 L453.4 627.7 L455.3 624.5 L459.1 620.6 L465.5 617.8 L472.6 615.7 L473.3 617.1 L465.5 620.6 L460.5 624.9 L462.0 630.6 L468.3 634.8 L472.4 636.8 L475.4 640.5 L476.9 647.1 L481.8 649.7 L476.9 652.6 L470.0 655.1 L465.5 655.4 L459.1 655.9 L452.0 657.3 L458.3 658.5 L462.7 659.7 L455.6 661.8 L459.8 664.7 L464.7 666.6 L472.6 667.5 L478.0 670.7 L485.4 669.6 L490.5 670.7 L498.2 670.3 L492.3 667.1 L484.7 666.1 L492.2 669.0 L498.2 666.1 L501.0 671.0 L506.7 673.2 L515.2 670.6 L521.2 674.0 L525.3 673.4 L530.9 672.1 L535.1 670.6 L544.0 671.3 L550.0 670.9 L557.8 667.5 L562.8 666.4 L557.8 663.2 L552.0 663.4 L546.5 663.2 L544.3 661.1 L550.7 659.0 L557.8 656.1 L563.3 654.0 L572.0 654.0 L576.9 654.1 L582.7 651.2 L585.5 649.7 L583.4 647.3 L589.1 644.8 L596.2 640.5 L602.6 642.6 L605.4 639.8 L609.7 641.2 L616.3 640.5 L620.3 639.8 L628.8 638.4 L632.3 635.5 L639.5 636.0 L645.9 639.1 L650.0 637.7 L658.0 636.6 L665.0 636.6 L673.0 638.7 L681.2 634.7 L689.6 631.3 L695.7 632.6 L703.0 632.1 L709.7 634.7 L715.1 635.7 L729.7 627.9 L738.2 624.9 L744.9 623.6 L757.1 623.6 L761.8 626.0 L769.1 629.6 L772.9 627.8 L780.4 626.7 L784.5 629.5 L788.6 631.5 L783.4 637.7 L781.1 642.6 L790.9 637.9 L797.2 641.4 L802.9 639.7 L808.1 633.6 L813.0 633.0 L822.0 631.5 L828.7 630.0 L838.1 626.0 L846.8 625.0 L852.2 629.1 L858.9 628.5 L868.2 627.5 L873.6 625.6 L880.2 623.0 L883.6 625.0 L889.2 626.6 L895.5 625.6 L904.2 623.9 L911.2 626.6 L916.2 628.4 L916.3 628.1 L924.5 626.8 L930.3 625.1 L939.2 626.3 L945.9 626.0 L950.0 623.6 L958.3 623.9 L961.1 621.1 L961.8 626.7 L966.7 626.5 L971.1 626.8 L976.1 627.0 L980.4 627.4 L982.7 631.4 L989.6 631.5 L996.7 633.2 L1002.5 637.4 L1008.2 635.7 L1016.5 639.0 L1022.3 641.4 L1014.2 644.1 L1009.5 646.7 L1002.4 649.2 L996.8 650.8 L993.2 650.7 L985.3 653.8 L976.9 656.5 L972.2 661.6 L966.8 666.5 L962.5 667.3 L957.1 665.9 L953.6 664.7 L945.4 668.2 L948.9 674.0 L955.4 675.0 L960.6 675.6 L966.5 676.2 L969.9 673.3"/>
<path d="M509.5 666.8 L515.2 661.1 L520.9 659.7 L528.0 661.8 L531.5 665.4 L526.6 667.5 L519.4 669.6 L515.2 667.5Z"/>
</g>
<g fill="none" stroke="#a9a9a9" stroke-width="2.2">
<path d="M407.4 683.5 L404.6 682.4 L401.6 681.1 L398.4 679.7 L395.0 678.0 L391.4 676.2 L387.7 674.3 L383.9 672.2 L380.0 669.9 L375.9 667.5 L371.8 665.0 L367.6 662.4 L363.4 659.7 L359.1 656.9 L355.0 654.0 L351.0 651.1 L347.1 648.1 L343.4 645.1 L339.8 642.1 L336.3 639.0 L332.8 635.8 L329.4 632.7 L326.1 629.5 L322.8 626.2 L319.6 622.9 L316.4 619.6 L313.2 616.3 L310.0 612.9 L306.9 609.5 L303.8 606.1 L300.8 602.7 L297.8 599.2 L294.8 595.7 L291.9 592.2 L289.0 588.6 L286.2 585.1 L283.5 581.5 L280.7 577.9 L278.1 574.3 L275.5 570.7 L273.1 567.0 L270.7 563.4 L268.3 559.7 L266.1 556.0 L263.9 552.3 L261.7 548.6 L259.6 544.9 L257.5 541.1 L255.4 537.4 L253.5 533.7 L251.6 529.9 L249.7 526.2 L248.0 522.4 L246.3 518.6 L244.7 514.9 L243.1 511.1 L241.6 507.3 L240.2 503.5 L238.8 499.8 L237.4 496.0 L236.2 492.2 L235.0 488.4 L233.9 484.7 L232.8 480.9 L231.9 477.1 L231.0 473.3 L230.1 469.5 L229.4 465.8 L228.7 462.0 L228.0 458.2 L227.3 454.4 L226.6 450.7 L226.0 446.9 L225.3 443.1 L224.7 439.3 L224.2 435.6 L223.7 431.8 L223.2 428.0 L222.8 424.2 L222.4 420.4 L222.0 416.7 L221.7 412.9 L221.4 409.1 L221.1 405.3 L220.9 401.6 L220.7 397.8 L220.6 394.0 L220.4 390.2 L220.3 386.5 L220.2 382.7 L220.2 378.9 L220.2 375.1 L220.3 371.3 L220.4 367.6 L220.6 363.8 L220.7 360.0 L220.9 356.2 L221.1 352.5 L221.4 348.7 L221.7 344.9 L222.0 341.1 L222.4 337.4 L222.8 333.6 L223.2 329.8 L223.7 326.0 L224.2 322.2 L224.7 318.5 L225.3 314.7 L226.0 310.9 L226.6 307.1 L227.3 303.4 L228.0 299.6 L228.7 295.8 L229.4 292.0 L230.1 288.3 L231.0 284.5 L231.9 280.7 L232.8 276.9 L233.9 273.1 L235.0 269.4 L236.2 265.6 L237.4 261.8 L238.8 258.0 L240.2 254.3 L241.6 250.5 L243.1 246.7 L244.7 242.9 L246.3 239.2 L248.0 235.4 L249.7 231.6 L251.6 227.9 L253.5 224.1 L255.4 220.4 L257.5 216.7 L259.6 212.9 L261.7 209.2 L263.9 205.5 L266.1 201.8 L268.3 198.1 L270.7 194.4 L273.1 190.8 L275.5 187.1 L278.1 183.5 L280.7 179.9 L283.5 176.3 L286.2 172.7 L289.0 169.2 L291.9 165.6 L294.8 162.1 L297.8 158.6 L300.8 155.1 L303.8 151.7 L306.9 148.3 L310.0 144.9 L313.2 141.5 L316.4 138.2 L319.6 134.9 L322.8 131.6 L326.1 128.3 L329.4 125.1 L332.8 122.0 L336.3 118.8 L339.8 115.7 L343.4 112.7 L347.1 109.7 L351.0 106.7 L355.0 103.8 L359.1 100.9 L363.4 98.1 L367.6 95.4 L371.8 92.8 L375.9 90.3 L380.0 87.9 L383.9 85.6 L387.7 83.5 L391.4 81.6 L395.0 79.8 L398.4 78.1 L401.6 76.7 L404.6 75.4 L407.4 74.3"/>
<path d="M514.0 683.5 L512.6 682.4 L511.0 681.1 L509.4 679.7 L507.7 678.0 L506.0 676.2 L504.1 674.3 L502.2 672.2 L500.2 669.9 L498.2 667.5 L496.1 665.0 L494.0 662.4 L491.9 659.7 L489.8 656.9 L487.8 654.0 L485.7 651.1 L483.8 648.1 L481.9 645.1 L480.1 642.1 L478.4 639.0 L476.7 635.8 L475.0 632.7 L473.3 629.5 L471.7 626.2 L470.0 622.9 L468.4 619.6 L466.8 616.3 L465.3 612.9 L463.7 609.5 L462.2 606.1 L460.6 602.7 L459.1 599.2 L457.7 595.7 L456.2 592.2 L454.8 588.6 L453.4 585.1 L452.0 581.5 L450.6 577.9 L449.3 574.3 L448.0 570.7 L446.8 567.0 L445.6 563.4 L444.4 559.7 L443.3 556.0 L442.2 552.3 L441.1 548.6 L440.0 544.9 L439.0 541.1 L438.0 537.4 L437.0 533.7 L436.0 529.9 L435.1 526.2 L434.2 522.4 L433.4 518.6 L432.6 514.9 L431.8 511.1 L431.1 507.3 L430.3 503.5 L429.6 499.8 L429.0 496.0 L428.3 492.2 L427.7 488.4 L427.2 484.7 L426.7 480.9 L426.2 477.1 L425.7 473.3 L425.3 469.5 L424.9 465.8 L424.6 462.0 L424.2 458.2 L423.9 454.4 L423.6 450.7 L423.2 446.9 L422.9 443.1 L422.6 439.3 L422.3 435.6 L422.1 431.8 L421.8 428.0 L421.6 424.2 L421.4 420.4 L421.3 416.7 L421.1 412.9 L421.0 409.1 L420.8 405.3 L420.7 401.6 L420.6 397.8 L420.5 394.0 L420.5 390.2 L420.4 386.5 L420.4 382.7 L420.3 378.9 L420.4 375.1 L420.4 371.3 L420.5 367.6 L420.5 363.8 L420.6 360.0 L420.7 356.2 L420.8 352.5 L421.0 348.7 L421.1 344.9 L421.3 341.1 L421.4 337.4 L421.6 333.6 L421.8 329.8 L422.1 326.0 L422.3 322.2 L422.6 318.5 L422.9 314.7 L423.2 310.9 L423.6 307.1 L423.9 303.4 L424.2 299.6 L424.6 295.8 L424.9 292.0 L425.3 288.3 L425.7 284.5 L426.2 280.7 L426.7 276.9 L427.2 273.1 L427.7 269.4 L428.3 265.6 L429.0 261.8 L429.6 258.0 L430.3 254.3 L431.1 250.5 L431.8 246.7 L432.6 242.9 L433.4 239.2 L434.2 235.4 L435.1 231.6 L436.0 227.9 L437.0 224.1 L438.0 220.4 L439.0 216.7 L440.0 212.9 L441.1 209.2 L442.2 205.5 L443.3 201.8 L444.4 198.1 L445.6 194.4 L446.8 190.8 L448.0 187.1 L449.3 183.5 L450.6 179.9 L452.0 176.3 L453.4 172.7 L454.8 169.2 L456.2 165.6 L457.7 162.1 L459.1 158.6 L460.6 155.1 L462.2 151.7 L463.7 148.3 L465.3 144.9 L466.8 141.5 L468.4 138.2 L470.0 134.9 L471.7 131.6 L473.3 128.3 L475.0 125.1 L476.7 122.0 L478.4 118.8 L480.1 115.7 L481.9 112.7 L483.8 109.7 L485.7 106.7 L487.8 103.8 L489.8 100.9 L491.9 98.1 L494.0 95.4 L496.1 92.8 L498.2 90.3 L500.2 87.9 L502.2 85.6 L504.1 83.5 L506.0 81.6 L507.7 79.8 L509.4 78.1 L511.0 76.7 L512.6 75.4 L514.0 74.3"/>
<path d="M727.0 683.5 L728.4 682.4 L730.0 681.1 L731.6 679.7 L733.3 678.0 L735.0 676.2 L736.9 674.3 L738.8 672.2 L740.8 669.9 L742.8 667.5 L744.9 665.0 L747.0 662.4 L749.1 659.7 L751.2 656.9 L753.2 654.0 L755.3 651.1 L757.2 648.1 L759.1 645.1 L760.9 642.1 L762.6 639.0 L764.3 635.8 L766.0 632.7 L767.7 629.5 L769.3 626.2 L771.0 622.9 L772.6 619.6 L774.2 616.3 L775.7 612.9 L777.3 609.5 L778.8 606.1 L780.4 602.7 L781.9 599.2 L783.3 595.7 L784.8 592.2 L786.2 588.6 L787.6 585.1 L789.0 581.5 L790.4 577.9 L791.7 574.3 L793.0 570.7 L794.2 567.0 L795.4 563.4 L796.6 559.7 L797.7 556.0 L798.8 552.3 L799.9 548.6 L801.0 544.9 L802.0 541.1 L803.0 537.4 L804.0 533.7 L805.0 529.9 L805.9 526.2 L806.8 522.4 L807.6 518.6 L808.4 514.9 L809.2 511.1 L809.9 507.3 L810.7 503.5 L811.4 499.8 L812.0 496.0 L812.7 492.2 L813.3 488.4 L813.8 484.7 L814.3 480.9 L814.8 477.1 L815.3 473.3 L815.7 469.5 L816.1 465.8 L816.4 462.0 L816.8 458.2 L817.1 454.4 L817.4 450.7 L817.8 446.9 L818.1 443.1 L818.4 439.3 L818.7 435.6 L818.9 431.8 L819.2 428.0 L819.4 424.2 L819.6 420.4 L819.7 416.7 L819.9 412.9 L820.0 409.1 L820.2 405.3 L820.3 401.6 L820.4 397.8 L820.5 394.0 L820.5 390.2 L820.6 386.5 L820.6 382.7 L820.7 378.9 L820.6 375.1 L820.6 371.3 L820.5 367.6 L820.5 363.8 L820.4 360.0 L820.3 356.2 L820.2 352.5 L820.0 348.7 L819.9 344.9 L819.7 341.1 L819.6 337.4 L819.4 333.6 L819.2 329.8 L818.9 326.0 L818.7 322.2 L818.4 318.5 L818.1 314.7 L817.8 310.9 L817.4 307.1 L817.1 303.4 L816.8 299.6 L816.4 295.8 L816.1 292.0 L815.7 288.3 L815.3 284.5 L814.8 280.7 L814.3 276.9 L813.8 273.1 L813.3 269.4 L812.7 265.6 L812.0 261.8 L811.4 258.0 L810.7 254.3 L809.9 250.5 L809.2 246.7 L808.4 242.9 L807.6 239.2 L806.8 235.4 L805.9 231.6 L805.0 227.9 L804.0 224.1 L803.0 220.4 L802.0 216.7 L801.0 212.9 L799.9 209.2 L798.8 205.5 L797.7 201.8 L796.6 198.1 L795.4 194.4 L794.2 190.8 L793.0 187.1 L791.7 183.5 L790.4 179.9 L789.0 176.3 L787.6 172.7 L786.2 169.2 L784.8 165.6 L783.3 162.1 L781.9 158.6 L780.4 155.1 L778.8 151.7 L777.3 148.3 L775.7 144.9 L774.2 141.5 L772.6 138.2 L771.0 134.9 L769.3 131.6 L767.7 128.3 L766.0 125.1 L764.3 122.0 L762.6 118.8 L760.9 115.7 L759.1 112.7 L757.2 109.7 L755.3 106.7 L753.2 103.8 L751.2 100.9 L749.1 98.1 L747.0 95.4 L744.9 92.8 L742.8 90.3 L740.8 87.9 L738.8 85.6 L736.9 83.5 L735.0 81.6 L733.3 79.8 L731.6 78.1 L730.0 76.7 L728.4 75.4 L727.0 74.3"/>
<path d="M833.6 683.5 L836.4 682.4 L839.4 681.1 L842.6 679.7 L846.0 678.0 L849.6 676.2 L853.3 674.3 L857.1 672.2 L861.0 669.9 L865.1 667.5 L869.2 665.0 L873.4 662.4 L877.6 659.7 L881.9 656.9 L886.0 654.0 L890.0 651.1 L893.9 648.1 L897.6 645.1 L901.2 642.1 L904.7 639.0 L908.2 635.8 L911.6 632.7 L914.9 629.5 L918.2 626.2 L921.4 622.9 L924.6 619.6 L927.8 616.3 L931.0 612.9 L934.1 609.5 L937.2 606.1 L940.2 602.7 L943.2 599.2 L946.2 595.7 L949.1 592.2 L952.0 588.6 L954.8 585.1 L957.5 581.5 L960.3 577.9 L962.9 574.3 L965.5 570.7 L967.9 567.0 L970.3 563.4 L972.7 559.7 L974.9 556.0 L977.1 552.3 L979.3 548.6 L981.4 544.9 L983.5 541.1 L985.6 537.4 L987.5 533.7 L989.4 529.9 L991.3 526.2 L993.0 522.4 L994.7 518.6 L996.3 514.9 L997.9 511.1 L999.4 507.3 L1000.8 503.5 L1002.2 499.8 L1003.6 496.0 L1004.8 492.2 L1006.0 488.4 L1007.1 484.7 L1008.2 480.9 L1009.1 477.1 L1010.0 473.3 L1010.9 469.5 L1011.6 465.8 L1012.3 462.0 L1013.0 458.2 L1013.7 454.4 L1014.4 450.7 L1015.0 446.9 L1015.7 443.1 L1016.3 439.3 L1016.8 435.6 L1017.3 431.8 L1017.8 428.0 L1018.2 424.2 L1018.6 420.4 L1019.0 416.7 L1019.3 412.9 L1019.6 409.1 L1019.9 405.3 L1020.1 401.6 L1020.3 397.8 L1020.4 394.0 L1020.6 390.2 L1020.7 386.5 L1020.8 382.7 L1020.8 378.9 L1020.8 375.1 L1020.7 371.3 L1020.6 367.6 L1020.4 363.8 L1020.3 360.0 L1020.1 356.2 L1019.9 352.5 L1019.6 348.7 L1019.3 344.9 L1019.0 341.1 L1018.6 337.4 L1018.2 333.6 L1017.8 329.8 L1017.3 326.0 L1016.8 322.2 L1016.3 318.5 L1015.7 314.7 L1015.0 310.9 L1014.4 307.1 L1013.7 303.4 L1013.0 299.6 L1012.3 295.8 L1011.6 292.0 L1010.9 288.3 L1010.0 284.5 L1009.1 280.7 L1008.2 276.9 L1007.1 273.1 L1006.0 269.4 L1004.8 265.6 L1003.6 261.8 L1002.2 258.0 L1000.8 254.3 L999.4 250.5 L997.9 246.7 L996.3 242.9 L994.7 239.2 L993.0 235.4 L991.3 231.6 L989.4 227.9 L987.5 224.1 L985.6 220.4 L983.5 216.7 L981.4 212.9 L979.3 209.2 L977.1 205.5 L974.9 201.8 L972.7 198.1 L970.3 194.4 L967.9 190.8 L965.5 187.1 L962.9 183.5 L960.3 179.9 L957.5 176.3 L954.8 172.7 L952.0 169.2 L949.1 165.6 L946.2 162.1 L943.2 158.6 L940.2 155.1 L937.2 151.7 L934.1 148.3 L931.0 144.9 L927.8 141.5 L924.6 138.2 L921.4 134.9 L918.2 131.6 L914.9 128.3 L911.6 125.1 L908.2 122.0 L904.7 118.8 L901.2 115.7 L897.6 112.7 L893.9 109.7 L890.0 106.7 L886.0 103.8 L881.9 100.9 L877.6 98.1 L873.4 95.4 L869.2 92.8 L865.1 90.3 L861.0 87.9 L857.1 85.6 L853.3 83.5 L849.6 81.6 L846.0 79.8 L842.6 78.1 L839.4 76.7 L836.4 75.4 L833.6 74.3"/>
</g>
<g fill="none" stroke="#adadad" stroke-width="2" shape-rendering="crispEdges">
<path d="M621 70V690"/>
<path d="M140.9 603H1100.1"/>
<path d="M44.0 493H1197.0"/>
<path d="M20.0 379H1221.0"/>
<path d="M44.0 266H1197.0"/>
<path d="M140.9 155H1100.1"/>
</g>
</g>
<path d="M940.1 683.5 L944.3 682.4 L948.9 681.1 L953.7 679.7 L958.8 678.0 L964.1 676.2 L969.7 674.3 L975.4 672.2 L981.3 669.9 L987.4 667.5 L993.6 665.0 L999.9 662.4 L1006.2 659.7 L1012.5 656.9 L1018.7 654.0 L1024.8 651.1 L1030.6 648.1 L1036.2 645.1 L1041.6 642.1 L1046.9 639.0 L1052.0 635.8 L1057.1 632.7 L1062.1 629.5 L1067.0 626.2 L1071.9 622.9 L1076.7 619.6 L1081.5 616.3 L1086.2 612.9 L1090.9 609.5 L1095.5 606.1 L1100.1 602.7 L1104.6 599.2 L1109.0 595.7 L1113.4 592.2 L1117.7 588.6 L1121.9 585.1 L1126.1 581.5 L1130.1 577.9 L1134.1 574.3 L1137.9 570.7 L1141.7 567.0 L1145.3 563.4 L1148.7 559.7 L1152.1 556.0 L1155.4 552.3 L1158.7 548.6 L1161.9 544.9 L1165.0 541.1 L1168.1 537.4 L1171.1 533.7 L1173.9 529.9 L1176.7 526.2 L1179.3 522.4 L1181.8 518.6 L1184.3 514.9 L1186.6 511.1 L1188.8 507.3 L1191.0 503.5 L1193.1 499.8 L1195.1 496.0 L1197.0 492.2 L1198.8 488.4 L1200.4 484.7 L1202.0 480.9 L1203.4 477.1 L1204.8 473.3 L1206.0 469.5 L1207.2 465.8 L1208.3 462.0 L1209.3 458.2 L1210.3 454.4 L1211.3 450.7 L1212.3 446.9 L1213.2 443.1 L1214.1 439.3 L1215.0 435.6 L1215.8 431.8 L1216.5 428.0 L1217.1 424.2 L1217.7 420.4 L1218.2 416.7 L1218.7 412.9 L1219.1 409.1 L1219.5 405.3 L1219.9 401.6 L1220.2 397.8 L1220.4 394.0 L1220.6 390.2 L1220.8 386.5 L1220.9 382.7 L1221.0 378.9 L1220.9 375.1 L1220.8 371.3 L1220.6 367.6 L1220.4 363.8 L1220.2 360.0 L1219.9 356.2 L1219.5 352.5 L1219.1 348.7 L1218.7 344.9 L1218.2 341.1 L1217.7 337.4 L1217.1 333.6 L1216.5 329.8 L1215.8 326.0 L1215.0 322.2 L1214.1 318.5 L1213.2 314.7 L1212.3 310.9 L1211.3 307.1 L1210.3 303.4 L1209.3 299.6 L1208.3 295.8 L1207.2 292.0 L1206.0 288.3 L1204.8 284.5 L1203.4 280.7 L1202.0 276.9 L1200.4 273.1 L1198.8 269.4 L1197.0 265.6 L1195.1 261.8 L1193.1 258.0 L1191.0 254.3 L1188.8 250.5 L1186.6 246.7 L1184.3 242.9 L1181.8 239.2 L1179.3 235.4 L1176.7 231.6 L1173.9 227.9 L1171.1 224.1 L1168.1 220.4 L1165.0 216.7 L1161.9 212.9 L1158.7 209.2 L1155.4 205.5 L1152.1 201.8 L1148.7 198.1 L1145.3 194.4 L1141.7 190.8 L1137.9 187.1 L1134.1 183.5 L1130.1 179.9 L1126.1 176.3 L1121.9 172.7 L1117.7 169.2 L1113.4 165.6 L1109.0 162.1 L1104.6 158.6 L1100.1 155.1 L1095.5 151.7 L1090.9 148.3 L1086.2 144.9 L1081.5 141.5 L1076.7 138.2 L1071.9 134.9 L1067.0 131.6 L1062.1 128.3 L1057.1 125.1 L1052.0 122.0 L1046.9 118.8 L1041.6 115.7 L1036.2 112.7 L1030.6 109.7 L1024.8 106.7 L1018.7 103.8 L1012.5 100.9 L1006.2 98.1 L999.9 95.4 L993.6 92.8 L987.4 90.3 L981.3 87.9 L975.4 85.6 L969.7 83.5 L964.1 81.6 L958.8 79.8 L953.7 78.1 L948.9 76.7 L944.3 75.4 L940.1 74.3 L300.9 74.3 L296.7 75.4 L292.1 76.7 L287.3 78.1 L282.2 79.8 L276.9 81.6 L271.3 83.5 L265.6 85.6 L259.7 87.9 L253.6 90.3 L247.4 92.8 L241.1 95.4 L234.8 98.1 L228.5 100.9 L222.3 103.8 L216.2 106.7 L210.4 109.7 L204.8 112.7 L199.4 115.7 L194.1 118.8 L189.0 122.0 L183.9 125.1 L178.9 128.3 L174.0 131.6 L169.1 134.9 L164.3 138.2 L159.5 141.5 L154.8 144.9 L150.1 148.3 L145.5 151.7 L140.9 155.1 L136.4 158.6 L132.0 162.1 L127.6 165.6 L123.3 169.2 L119.1 172.7 L114.9 176.3 L110.9 179.9 L106.9 183.5 L103.1 187.1 L99.3 190.8 L95.7 194.4 L92.3 198.1 L88.9 201.8 L85.6 205.5 L82.3 209.2 L79.1 212.9 L76.0 216.7 L72.9 220.4 L69.9 224.1 L67.1 227.9 L64.3 231.6 L61.7 235.4 L59.2 239.2 L56.7 242.9 L54.4 246.7 L52.2 250.5 L50.0 254.3 L47.9 258.0 L45.9 261.8 L44.0 265.6 L42.2 269.4 L40.6 273.1 L39.0 276.9 L37.6 280.7 L36.2 284.5 L35.0 288.3 L33.8 292.0 L32.7 295.8 L31.7 299.6 L30.7 303.4 L29.7 307.1 L28.7 310.9 L27.8 314.7 L26.9 318.5 L26.0 322.2 L25.2 326.0 L24.5 329.8 L23.9 333.6 L23.3 337.4 L22.8 341.1 L22.3 344.9 L21.9 348.7 L21.5 352.5 L21.1 356.2 L20.8 360.0 L20.6 363.8 L20.4 367.6 L20.2 371.3 L20.1 375.1 L20.0 378.9 L20.1 382.7 L20.2 386.5 L20.4 390.2 L20.6 394.0 L20.8 397.8 L21.1 401.6 L21.5 405.3 L21.9 409.1 L22.3 412.9 L22.8 416.7 L23.3 420.4 L23.9 424.2 L24.5 428.0 L25.2 431.8 L26.0 435.6 L26.9 439.3 L27.8 443.1 L28.7 446.9 L29.7 450.7 L30.7 454.4 L31.7 458.2 L32.7 462.0 L33.8 465.8 L35.0 469.5 L36.2 473.3 L37.6 477.1 L39.0 480.9 L40.6 484.7 L42.2 488.4 L44.0 492.2 L45.9 496.0 L47.9 499.8 L50.0 503.5 L52.2 507.3 L54.4 511.1 L56.7 514.9 L59.2 518.6 L61.7 522.4 L64.3 526.2 L67.1 529.9 L69.9 533.7 L72.9 537.4 L76.0 541.1 L79.1 544.9 L82.3 548.6 L85.6 552.3 L88.9 556.0 L92.3 559.7 L95.7 563.4 L99.3 567.0 L103.1 570.7 L106.9 574.3 L110.9 577.9 L114.9 581.5 L119.1 585.1 L123.3 588.6 L127.6 592.2 L132.0 595.7 L136.4 599.2 L140.9 602.7 L145.5 606.1 L150.1 609.5 L154.8 612.9 L159.5 616.3 L164.3 619.6 L169.1 622.9 L174.0 626.2 L178.9 629.5 L183.9 632.7 L189.0 635.8 L194.1 639.0 L199.4 642.1 L204.8 645.1 L210.4 648.1 L216.2 651.1 L222.3 654.0 L228.5 656.9 L234.8 659.7 L241.1 662.4 L247.4 665.0 L253.6 667.5 L259.7 669.9 L265.6 672.2 L271.3 674.3 L276.9 676.2 L282.2 678.0 L287.3 679.7 L292.1 681.1 L296.7 682.4 L300.9 683.5Z" fill="none" stroke="#000" stroke-width="2.5" stroke-linejoin="round"/>
<!-- colorbar -->
<rect x="1296.4" y="126.6" width="28.399999999999864" height="504.0" fill="url(#cb)"/>
<path d="M1296.4 127.1L1310.6 100.2L1324.8 127.1Z" fill="#003c30"/>
<path d="M1296.4 630.1L1310.6 657.6L1324.8 630.1Z" fill="#543005"/>
<path d="M1296.4 126.6L1310.6 100.2L1324.8 126.6V630.6L1310.6 657.6L1296.4 630.6Z" fill="none" stroke="#000" stroke-width="2" stroke-linejoin="miter"/>
<g fill="#000">
<path d="M1325.8 142.3H1339.8" stroke="#000" stroke-width="2.2"/>
<text x="1349.4" y="157.2" font-size="34.5" >7.5</text>
<path d="M1325.8 221.1H1339.8" stroke="#000" stroke-width="2.2"/>
<text x="1349.4" y="235.9" font-size="34.5" >5.0</text>
<path d="M1325.8 299.9H1339.8" stroke="#000" stroke-width="2.2"/>
<text x="1349.4" y="314.7" font-size="34.5" >2.5</text>
<path d="M1325.8 378.6H1339.8" stroke="#000" stroke-width="2.2"/>
<text x="1349.4" y="393.4" font-size="34.5" >0.0</text>
<path d="M1325.8 457.4H1339.8" stroke="#000" stroke-width="2.2"/>
<text x="1349.4" y="472.2" font-size="34.5" >−2.5</text>
<path d="M1325.8 536.1H1339.8" stroke="#000" stroke-width="2.2"/>
<text x="1349.4" y="550.9" font-size="34.5" >−5.0</text>
<path d="M1325.8 614.9H1339.8" stroke="#000" stroke-width="2.2"/>
<text x="1349.4" y="629.6" font-size="34.5" >−7.5</text>
</g>
<text transform="translate(1473.7 387.4) rotate(-90)" font-size="41.7" text-anchor="middle" fill="#000">Monthly anomaly</text>
<text transform="translate(1522.7 383) rotate(-90)" font-size="41.7" text-anchor="middle" fill="#000">(mm/day)</text>
</svg>
</body></html>
